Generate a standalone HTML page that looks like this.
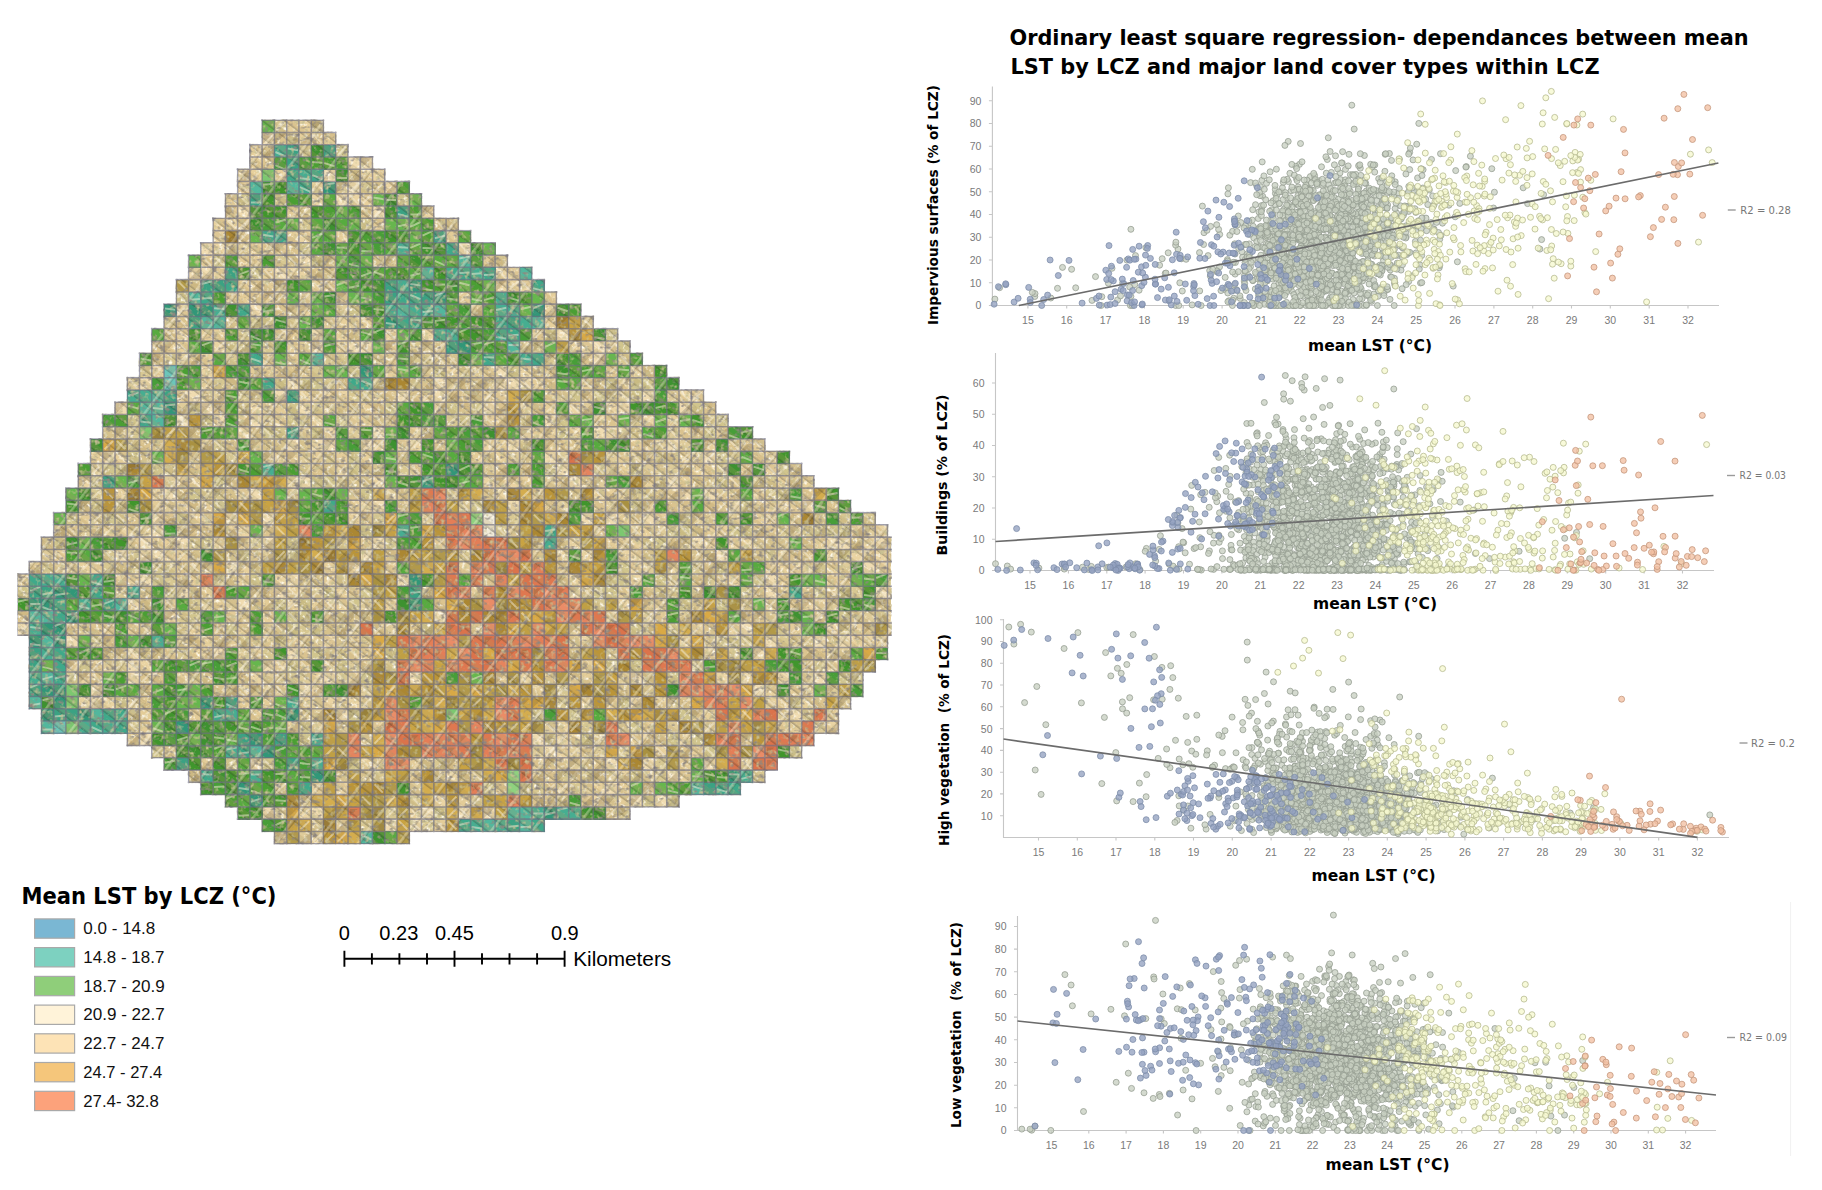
<!DOCTYPE html>
<html lang="en"><head><meta charset="utf-8"><title>Mean LST by LCZ – OLS regression</title>
<style>
html,body{margin:0;padding:0;background:#fff}
body{width:1822px;height:1190px;overflow:hidden}
svg{display:block}
text{font-family:"Liberation Sans","DejaVu Sans",sans-serif}
.ttl{font-family:"DejaVu Sans Condensed","DejaVu Sans","Liberation Sans",sans-serif;font-weight:bold;fill:#000}
.lab{fill:#111}
.sc{font-size:20px;fill:#000}
.tk{font-family:"DejaVu Sans Condensed","DejaVu Sans","Liberation Sans",sans-serif;font-size:10.5px;fill:#7a7a7a}
.ax{font-family:"DejaVu Sans Condensed","DejaVu Sans","Liberation Sans",sans-serif;font-weight:bold;fill:#000}
.r2{font-family:"DejaVu Sans Condensed","DejaVu Sans","Liberation Sans",sans-serif;font-size:10.5px;fill:#777}
</style></head><body>
<svg width="1822" height="1190" viewBox="0 0 1822 1190">
<defs>
<pattern id="st" width="13.5" height="13.5" patternUnits="userSpaceOnUse" patternTransform="rotate(37)"><rect width="13.5" height="5.2" fill="#ad985e" fill-opacity=".22"/><rect y="5.2" width="13.5" height="1.6" fill="#3a3628" fill-opacity=".3"/></pattern>
<pattern id="st2" width="33" height="33" patternUnits="userSpaceOnUse" patternTransform="rotate(37)"><rect width="2.6" height="33" fill="#f6eed6" fill-opacity=".36"/><rect x="2.6" width="1.5" height="33" fill="#3a3628" fill-opacity=".2"/></pattern>
<filter id="nz" x="0" y="0" width="100%" height="100%"><feTurbulence type="fractalNoise" baseFrequency="0.2" numOctaves="2" seed="3"/><feColorMatrix type="matrix" values="0 0 0 0 0.58  0 0 0 0 0.53  0 0 0 0 0.29  3.2 0 0 0 -1.74"/></filter>
<filter id="nd" x="0" y="0" width="100%" height="100%"><feTurbulence type="fractalNoise" baseFrequency="0.17 0.24" numOctaves="2" seed="8"/><feColorMatrix type="matrix" values="0 0 0 0 0.27  0 0 0 0 0.24  0 0 0 0 0.21  0 3.4 0 0 -1.88"/></filter>
<filter id="nl" x="0" y="0" width="100%" height="100%"><feTurbulence type="fractalNoise" baseFrequency="0.26" numOctaves="2" seed="21"/><feColorMatrix type="matrix" values="0 0 0 0 1  0 0 0 0 0.97  0 0 0 0 0.86  0 0 3.2 0 -1.68"/></filter>
</defs>
<rect width="1822" height="1190" fill="#fff"/>
<g shape-rendering="crispEdges">
<path fill="#d8c892" d="M274.4 120.2h12.6v12.6h-12.6zM311.2 120.2h12.6v12.6h-12.6zM286.7 132.5h12.6v12.6h-12.6zM298.9 144.7h12.6v12.6h-12.6zM360.2 181.5h12.6v12.6h-12.6zM298.9 218.3h12.6v12.6h-12.6zM274.4 255.1h12.6v12.6h-12.6zM384.8 255.1h12.6v12.6h-12.6zM286.7 316.4h12.6v12.6h-12.6zM237.6 328.7h12.6v12.6h-12.6zM237.6 340.9h12.6v12.6h-12.6zM262.1 340.9h12.6v12.6h-12.6zM409.3 340.9h12.6v12.6h-12.6zM531.9 340.9h12.6v12.6h-12.6zM164 353.2h12.6v12.6h-12.6zM225.4 353.2h12.6v12.6h-12.6zM323.4 353.2h12.6v12.6h-12.6zM335.7 353.2h12.6v12.6h-12.6zM372.5 353.2h12.6v12.6h-12.6zM409.3 353.2h12.6v12.6h-12.6zM421.5 353.2h12.6v12.6h-12.6zM544.2 353.2h12.6v12.6h-12.6zM617.7 353.2h12.6v12.6h-12.6zM139.5 365.4h12.6v12.6h-12.6zM311.2 365.4h12.6v12.6h-12.6zM458.3 365.4h12.6v12.6h-12.6zM213.1 377.7h12.6v12.6h-12.6zM323.4 377.7h12.6v12.6h-12.6zM372.5 377.7h12.6v12.6h-12.6zM409.3 377.7h12.6v12.6h-12.6zM237.6 390h12.6v12.6h-12.6zM348 390h12.6v12.6h-12.6zM360.2 390h12.6v12.6h-12.6zM605.5 390h12.6v12.6h-12.6zM237.6 402.2h12.6v12.6h-12.6zM311.2 402.2h12.6v12.6h-12.6zM298.9 414.5h12.6v12.6h-12.6zM446.1 414.5h12.6v12.6h-12.6zM519.6 414.5h12.6v12.6h-12.6zM630 414.5h12.6v12.6h-12.6zM703.6 414.5h12.6v12.6h-12.6zM127.3 426.8h12.6v12.6h-12.6zM630 426.8h12.6v12.6h-12.6zM127.3 439h12.6v12.6h-12.6zM213.1 439h12.6v12.6h-12.6zM519.6 439h12.6v12.6h-12.6zM225.4 451.3h12.6v12.6h-12.6zM323.4 451.3h12.6v12.6h-12.6zM654.5 451.3h12.6v12.6h-12.6zM728.1 451.3h12.6v12.6h-12.6zM164 463.5h12.6v12.6h-12.6zM298.9 463.5h12.6v12.6h-12.6zM372.5 463.5h12.6v12.6h-12.6zM397 463.5h12.6v12.6h-12.6zM593.2 463.5h12.6v12.6h-12.6zM715.8 463.5h12.6v12.6h-12.6zM335.7 475.8h12.6v12.6h-12.6zM654.5 475.8h12.6v12.6h-12.6zM752.6 475.8h12.6v12.6h-12.6zM764.9 475.8h12.6v12.6h-12.6zM90.5 488.1h12.6v12.6h-12.6zM200.8 488.1h12.6v12.6h-12.6zM213.1 488.1h12.6v12.6h-12.6zM630 488.1h12.6v12.6h-12.6zM642.3 488.1h12.6v12.6h-12.6zM764.9 488.1h12.6v12.6h-12.6zM115 500.3h12.6v12.6h-12.6zM115 512.6h12.6v12.6h-12.6zM372.5 512.6h12.6v12.6h-12.6zM507.4 512.6h12.6v12.6h-12.6zM813.9 512.6h12.6v12.6h-12.6zM838.5 512.6h12.6v12.6h-12.6zM863 512.6h12.6v12.6h-12.6zM495.1 524.8h12.6v12.6h-12.6zM777.1 524.8h12.6v12.6h-12.6zM801.7 524.8h12.6v12.6h-12.6zM813.9 524.8h12.6v12.6h-12.6zM188.6 537.1h12.6v12.6h-12.6zM249.9 537.1h12.6v12.6h-12.6zM335.7 537.1h12.6v12.6h-12.6zM642.3 537.1h12.6v12.6h-12.6zM102.7 549.4h12.6v12.6h-12.6zM127.3 549.4h12.6v12.6h-12.6zM458.3 549.4h12.6v12.6h-12.6zM764.9 549.4h12.6v12.6h-12.6zM41.4 561.6h12.6v12.6h-12.6zM102.7 561.6h12.6v12.6h-12.6zM127.3 561.6h12.6v12.6h-12.6zM151.8 561.6h12.6v12.6h-12.6zM164 561.6h12.6v12.6h-12.6zM249.9 561.6h12.6v12.6h-12.6zM691.3 561.6h12.6v12.6h-12.6zM164 573.9h12.6v12.6h-12.6zM213.1 573.9h12.6v12.6h-12.6zM335.7 573.9h12.6v12.6h-12.6zM703.6 573.9h12.6v12.6h-12.6zM115 586.2h12.6v12.6h-12.6zM654.5 586.2h12.6v12.6h-12.6zM666.8 586.2h12.6v12.6h-12.6zM850.7 586.2h12.6v12.6h-12.6zM188.6 598.4h12.6v12.6h-12.6zM593.2 598.4h12.6v12.6h-12.6zM176.3 610.7h12.6v12.6h-12.6zM335.7 610.7h12.6v12.6h-12.6zM875.2 610.7h12.6v12.6h-12.6zM78.2 622.9h12.6v12.6h-12.6zM176.3 622.9h12.6v12.6h-12.6zM298.9 622.9h12.6v12.6h-12.6zM777.1 622.9h12.6v12.6h-12.6zM838.5 622.9h12.6v12.6h-12.6zM237.6 635.2h12.6v12.6h-12.6zM715.8 635.2h12.6v12.6h-12.6zM740.4 635.2h12.6v12.6h-12.6zM777.1 635.2h12.6v12.6h-12.6zM139.5 647.5h12.6v12.6h-12.6zM176.3 647.5h12.6v12.6h-12.6zM262.1 647.5h12.6v12.6h-12.6zM335.7 647.5h12.6v12.6h-12.6zM728.1 647.5h12.6v12.6h-12.6zM115 659.7h12.6v12.6h-12.6zM384.8 659.7h12.6v12.6h-12.6zM691.3 659.7h12.6v12.6h-12.6zM813.9 659.7h12.6v12.6h-12.6zM188.6 672h12.6v12.6h-12.6zM286.7 672h12.6v12.6h-12.6zM335.7 672h12.6v12.6h-12.6zM556.4 684.3h12.6v12.6h-12.6zM556.4 696.5h12.6v12.6h-12.6zM127.3 708.8h12.6v12.6h-12.6zM127.3 721h12.6v12.6h-12.6zM581 721h12.6v12.6h-12.6zM544.2 733.3h12.6v12.6h-12.6zM617.7 745.6h12.6v12.6h-12.6zM433.8 757.8h12.6v12.6h-12.6zM654.5 757.8h12.6v12.6h-12.6zM372.5 770.1h12.6v12.6h-12.6zM556.4 770.1h12.6v12.6h-12.6zM581 770.1h12.6v12.6h-12.6zM654.5 770.1h12.6v12.6h-12.6zM752.6 770.1h12.6v12.6h-12.6zM274.4 782.3h12.6v12.6h-12.6zM531.9 782.3h12.6v12.6h-12.6zM568.7 782.3h12.6v12.6h-12.6zM409.3 794.6h12.6v12.6h-12.6zM556.4 794.6h12.6v12.6h-12.6zM384.8 806.9h12.6v12.6h-12.6zM617.7 806.9h12.6v12.6h-12.6zM360.2 819.1h12.6v12.6h-12.6zM421.5 819.1h12.6v12.6h-12.6z"/>
<path fill="#e7d09c" d="M286.7 120.2h12.6v12.6h-12.6zM298.9 120.2h12.6v12.6h-12.6zM298.9 132.5h12.6v12.6h-12.6zM249.9 144.7h12.6v12.6h-12.6zM249.9 157h12.6v12.6h-12.6zM249.9 169.2h12.6v12.6h-12.6zM274.4 169.2h12.6v12.6h-12.6zM360.2 169.2h12.6v12.6h-12.6zM360.2 193.8h12.6v12.6h-12.6zM213.1 218.3h12.6v12.6h-12.6zM225.4 218.3h12.6v12.6h-12.6zM335.7 230.6h12.6v12.6h-12.6zM249.9 242.8h12.6v12.6h-12.6zM274.4 242.8h12.6v12.6h-12.6zM262.1 267.3h12.6v12.6h-12.6zM249.9 279.6h12.6v12.6h-12.6zM507.4 279.6h12.6v12.6h-12.6zM335.7 291.9h12.6v12.6h-12.6zM544.2 291.9h12.6v12.6h-12.6zM298.9 304.1h12.6v12.6h-12.6zM335.7 316.4h12.6v12.6h-12.6zM544.2 316.4h12.6v12.6h-12.6zM213.1 328.7h12.6v12.6h-12.6zM335.7 328.7h12.6v12.6h-12.6zM164 340.9h12.6v12.6h-12.6zM176.3 340.9h12.6v12.6h-12.6zM286.7 340.9h12.6v12.6h-12.6zM568.7 340.9h12.6v12.6h-12.6zM200.8 353.2h12.6v12.6h-12.6zM262.1 353.2h12.6v12.6h-12.6zM581 353.2h12.6v12.6h-12.6zM262.1 365.4h12.6v12.6h-12.6zM384.8 365.4h12.6v12.6h-12.6zM446.1 365.4h12.6v12.6h-12.6zM298.9 390h12.6v12.6h-12.6zM372.5 390h12.6v12.6h-12.6zM581 390h12.6v12.6h-12.6zM544.2 402.2h12.6v12.6h-12.6zM274.4 414.5h12.6v12.6h-12.6zM495.1 414.5h12.6v12.6h-12.6zM593.2 414.5h12.6v12.6h-12.6zM666.8 414.5h12.6v12.6h-12.6zM409.3 426.8h12.6v12.6h-12.6zM568.7 426.8h12.6v12.6h-12.6zM679 426.8h12.6v12.6h-12.6zM715.8 426.8h12.6v12.6h-12.6zM630 439h12.6v12.6h-12.6zM642.3 439h12.6v12.6h-12.6zM703.6 439h12.6v12.6h-12.6zM90.5 451.3h12.6v12.6h-12.6zM115 451.3h12.6v12.6h-12.6zM286.7 451.3h12.6v12.6h-12.6zM360.2 451.3h12.6v12.6h-12.6zM495.1 451.3h12.6v12.6h-12.6zM617.7 451.3h12.6v12.6h-12.6zM642.3 451.3h12.6v12.6h-12.6zM679 451.3h12.6v12.6h-12.6zM617.7 463.5h12.6v12.6h-12.6zM691.3 463.5h12.6v12.6h-12.6zM703.6 463.5h12.6v12.6h-12.6zM495.1 475.8h12.6v12.6h-12.6zM519.6 475.8h12.6v12.6h-12.6zM642.3 475.8h12.6v12.6h-12.6zM679 475.8h12.6v12.6h-12.6zM777.1 475.8h12.6v12.6h-12.6zM801.7 475.8h12.6v12.6h-12.6zM115 488.1h12.6v12.6h-12.6zM593.2 488.1h12.6v12.6h-12.6zM605.5 488.1h12.6v12.6h-12.6zM728.1 488.1h12.6v12.6h-12.6zM801.7 488.1h12.6v12.6h-12.6zM348 500.3h12.6v12.6h-12.6zM593.2 500.3h12.6v12.6h-12.6zM764.9 500.3h12.6v12.6h-12.6zM188.6 512.6h12.6v12.6h-12.6zM348 512.6h12.6v12.6h-12.6zM654.5 512.6h12.6v12.6h-12.6zM752.6 512.6h12.6v12.6h-12.6zM225.4 524.8h12.6v12.6h-12.6zM642.3 524.8h12.6v12.6h-12.6zM703.6 524.8h12.6v12.6h-12.6zM715.8 524.8h12.6v12.6h-12.6zM164 537.1h12.6v12.6h-12.6zM617.7 537.1h12.6v12.6h-12.6zM630 537.1h12.6v12.6h-12.6zM740.4 537.1h12.6v12.6h-12.6zM813.9 537.1h12.6v12.6h-12.6zM53.7 549.4h12.6v12.6h-12.6zM556.4 549.4h12.6v12.6h-12.6zM581 549.4h12.6v12.6h-12.6zM826.2 549.4h12.6v12.6h-12.6zM863 549.4h12.6v12.6h-12.6zM78.2 561.6h12.6v12.6h-12.6zM237.6 561.6h12.6v12.6h-12.6zM323.4 561.6h12.6v12.6h-12.6zM384.8 561.6h12.6v12.6h-12.6zM458.3 561.6h12.6v12.6h-12.6zM666.8 561.6h12.6v12.6h-12.6zM764.9 561.6h12.6v12.6h-12.6zM777.1 561.6h12.6v12.6h-12.6zM826.2 561.6h12.6v12.6h-12.6zM18.2 573.9h11.3v12.6h-11.3zM237.6 573.9h12.6v12.6h-12.6zM568.7 573.9h12.6v12.6h-12.6zM728.1 573.9h12.6v12.6h-12.6zM777.1 573.9h12.6v12.6h-12.6zM826.2 573.9h12.6v12.6h-12.6zM335.7 586.2h12.6v12.6h-12.6zM470.6 586.2h12.6v12.6h-12.6zM617.7 586.2h12.6v12.6h-12.6zM801.7 586.2h12.6v12.6h-12.6zM311.2 598.4h12.6v12.6h-12.6zM335.7 598.4h12.6v12.6h-12.6zM384.8 598.4h12.6v12.6h-12.6zM262.1 610.7h12.6v12.6h-12.6zM887.5 610.7h3.8v12.6h-3.8zM188.6 622.9h12.6v12.6h-12.6zM237.6 622.9h12.6v12.6h-12.6zM568.7 622.9h12.6v12.6h-12.6zM850.7 622.9h12.6v12.6h-12.6zM200.8 635.2h12.6v12.6h-12.6zM262.1 635.2h12.6v12.6h-12.6zM850.7 635.2h12.6v12.6h-12.6zM188.6 647.5h12.6v12.6h-12.6zM298.9 647.5h12.6v12.6h-12.6zM360.2 647.5h12.6v12.6h-12.6zM274.4 659.7h12.6v12.6h-12.6zM581 659.7h12.6v12.6h-12.6zM826.2 659.7h12.6v12.6h-12.6zM311.2 672h12.6v12.6h-12.6zM740.4 672h12.6v12.6h-12.6zM764.9 684.3h12.6v12.6h-12.6zM605.5 696.5h12.6v12.6h-12.6zM654.5 696.5h12.6v12.6h-12.6zM764.9 696.5h12.6v12.6h-12.6zM801.7 696.5h12.6v12.6h-12.6zM703.6 708.8h12.6v12.6h-12.6zM286.7 721h12.6v12.6h-12.6zM556.4 721h12.6v12.6h-12.6zM777.1 721h12.6v12.6h-12.6zM568.7 733.3h12.6v12.6h-12.6zM642.3 733.3h12.6v12.6h-12.6zM679 733.3h12.6v12.6h-12.6zM654.5 745.6h12.6v12.6h-12.6zM691.3 745.6h12.6v12.6h-12.6zM360.2 757.8h12.6v12.6h-12.6zM531.9 757.8h12.6v12.6h-12.6zM556.4 757.8h12.6v12.6h-12.6zM409.3 770.1h12.6v12.6h-12.6zM679 770.1h12.6v12.6h-12.6zM593.2 782.3h12.6v12.6h-12.6zM409.3 806.9h12.6v12.6h-12.6z"/>
<path fill="#f0dcb1" d="M262.1 132.5h12.6v12.6h-12.6zM348 157h12.6v12.6h-12.6zM360.2 157h12.6v12.6h-12.6zM323.4 169.2h12.6v12.6h-12.6zM348 181.5h12.6v12.6h-12.6zM335.7 193.8h12.6v12.6h-12.6zM237.6 206h12.6v12.6h-12.6zM372.5 206h12.6v12.6h-12.6zM200.8 242.8h12.6v12.6h-12.6zM458.3 242.8h12.6v12.6h-12.6zM298.9 255.1h12.6v12.6h-12.6zM188.6 267.3h12.6v12.6h-12.6zM200.8 267.3h12.6v12.6h-12.6zM274.4 267.3h12.6v12.6h-12.6zM249.9 304.1h12.6v12.6h-12.6zM311.2 328.7h12.6v12.6h-12.6zM556.4 328.7h12.6v12.6h-12.6zM311.2 340.9h12.6v12.6h-12.6zM348 340.9h12.6v12.6h-12.6zM360.2 340.9h12.6v12.6h-12.6zM593.2 340.9h12.6v12.6h-12.6zM593.2 353.2h12.6v12.6h-12.6zM495.1 365.4h12.6v12.6h-12.6zM139.5 377.7h12.6v12.6h-12.6zM433.8 377.7h12.6v12.6h-12.6zM495.1 377.7h12.6v12.6h-12.6zM507.4 377.7h12.6v12.6h-12.6zM519.6 377.7h12.6v12.6h-12.6zM188.6 390h12.6v12.6h-12.6zM274.4 390h12.6v12.6h-12.6zM397 390h12.6v12.6h-12.6zM433.8 390h12.6v12.6h-12.6zM642.3 390h12.6v12.6h-12.6zM115 402.2h12.6v12.6h-12.6zM200.8 402.2h12.6v12.6h-12.6zM298.9 402.2h12.6v12.6h-12.6zM482.9 402.2h12.6v12.6h-12.6zM617.7 402.2h12.6v12.6h-12.6zM679 402.2h12.6v12.6h-12.6zM176.3 414.5h12.6v12.6h-12.6zM249.9 414.5h12.6v12.6h-12.6zM372.5 426.8h12.6v12.6h-12.6zM519.6 426.8h12.6v12.6h-12.6zM593.2 426.8h12.6v12.6h-12.6zM286.7 439h12.6v12.6h-12.6zM311.2 439h12.6v12.6h-12.6zM323.4 439h12.6v12.6h-12.6zM360.2 439h12.6v12.6h-12.6zM507.4 439h12.6v12.6h-12.6zM666.8 439h12.6v12.6h-12.6zM102.7 451.3h12.6v12.6h-12.6zM544.2 451.3h12.6v12.6h-12.6zM703.6 451.3h12.6v12.6h-12.6zM556.4 463.5h12.6v12.6h-12.6zM298.9 475.8h12.6v12.6h-12.6zM568.7 475.8h12.6v12.6h-12.6zM666.8 475.8h12.6v12.6h-12.6zM164 488.1h12.6v12.6h-12.6zM249.9 488.1h12.6v12.6h-12.6zM679 488.1h12.6v12.6h-12.6zM703.6 488.1h12.6v12.6h-12.6zM372.5 500.3h12.6v12.6h-12.6zM507.4 500.3h12.6v12.6h-12.6zM728.1 500.3h12.6v12.6h-12.6zM801.7 500.3h12.6v12.6h-12.6zM151.8 512.6h12.6v12.6h-12.6zM262.1 512.6h12.6v12.6h-12.6zM581 512.6h12.6v12.6h-12.6zM605.5 512.6h12.6v12.6h-12.6zM642.3 512.6h12.6v12.6h-12.6zM151.8 524.8h12.6v12.6h-12.6zM139.5 537.1h12.6v12.6h-12.6zM176.3 537.1h12.6v12.6h-12.6zM262.1 537.1h12.6v12.6h-12.6zM372.5 537.1h12.6v12.6h-12.6zM691.3 537.1h12.6v12.6h-12.6zM826.2 537.1h12.6v12.6h-12.6zM838.5 537.1h12.6v12.6h-12.6zM875.2 537.1h12.6v12.6h-12.6zM115 549.4h12.6v12.6h-12.6zM139.5 549.4h12.6v12.6h-12.6zM151.8 549.4h12.6v12.6h-12.6zM360.2 549.4h12.6v12.6h-12.6zM715.8 549.4h12.6v12.6h-12.6zM225.4 561.6h12.6v12.6h-12.6zM863 561.6h12.6v12.6h-12.6zM139.5 573.9h12.6v12.6h-12.6zM286.7 573.9h12.6v12.6h-12.6zM397 573.9h12.6v12.6h-12.6zM764.9 573.9h12.6v12.6h-12.6zM176.3 586.2h12.6v12.6h-12.6zM274.4 586.2h12.6v12.6h-12.6zM568.7 586.2h12.6v12.6h-12.6zM764.9 586.2h12.6v12.6h-12.6zM875.2 586.2h12.6v12.6h-12.6zM237.6 598.4h12.6v12.6h-12.6zM433.8 610.7h12.6v12.6h-12.6zM18.2 622.9h11.3v12.6h-11.3zM740.4 622.9h12.6v12.6h-12.6zM65.9 635.2h12.6v12.6h-12.6zM764.9 635.2h12.6v12.6h-12.6zM813.9 635.2h12.6v12.6h-12.6zM838.5 635.2h12.6v12.6h-12.6zM213.1 647.5h12.6v12.6h-12.6zM286.7 647.5h12.6v12.6h-12.6zM752.6 647.5h12.6v12.6h-12.6zM127.3 659.7h12.6v12.6h-12.6zM262.1 659.7h12.6v12.6h-12.6zM127.3 672h12.6v12.6h-12.6zM323.4 672h12.6v12.6h-12.6zM409.3 672h12.6v12.6h-12.6zM630 672h12.6v12.6h-12.6zM777.1 672h12.6v12.6h-12.6zM813.9 672h12.6v12.6h-12.6zM90.5 684.3h12.6v12.6h-12.6zM298.9 684.3h12.6v12.6h-12.6zM752.6 684.3h12.6v12.6h-12.6zM90.5 696.5h12.6v12.6h-12.6zM630 696.5h12.6v12.6h-12.6zM335.7 708.8h12.6v12.6h-12.6zM789.4 708.8h12.6v12.6h-12.6zM139.5 733.3h12.6v12.6h-12.6zM531.9 733.3h12.6v12.6h-12.6zM544.2 745.6h12.6v12.6h-12.6zM249.9 757.8h12.6v12.6h-12.6zM605.5 757.8h12.6v12.6h-12.6zM642.3 757.8h12.6v12.6h-12.6zM703.6 757.8h12.6v12.6h-12.6zM666.8 770.1h12.6v12.6h-12.6zM605.5 782.3h12.6v12.6h-12.6zM630 794.6h12.6v12.6h-12.6zM654.5 794.6h12.6v12.6h-12.6zM262.1 806.9h12.6v12.6h-12.6zM311.2 806.9h12.6v12.6h-12.6zM421.5 806.9h12.6v12.6h-12.6zM458.3 806.9h12.6v12.6h-12.6zM482.9 806.9h12.6v12.6h-12.6zM384.8 819.1h12.6v12.6h-12.6zM409.3 819.1h12.6v12.6h-12.6z"/>
<path fill="#dbc48f" d="M274.4 132.5h12.6v12.6h-12.6zM311.2 132.5h12.6v12.6h-12.6zM262.1 157h12.6v12.6h-12.6zM360.2 206h12.6v12.6h-12.6zM237.6 218.3h12.6v12.6h-12.6zM237.6 230.6h12.6v12.6h-12.6zM262.1 242.8h12.6v12.6h-12.6zM286.7 242.8h12.6v12.6h-12.6zM311.2 267.3h12.6v12.6h-12.6zM274.4 304.1h12.6v12.6h-12.6zM176.3 316.4h12.6v12.6h-12.6zM164 328.7h12.6v12.6h-12.6zM531.9 328.7h12.6v12.6h-12.6zM151.8 340.9h12.6v12.6h-12.6zM151.8 353.2h12.6v12.6h-12.6zM188.6 353.2h12.6v12.6h-12.6zM384.8 353.2h12.6v12.6h-12.6zM286.7 365.4h12.6v12.6h-12.6zM544.2 365.4h12.6v12.6h-12.6zM605.5 365.4h12.6v12.6h-12.6zM335.7 377.7h12.6v12.6h-12.6zM421.5 377.7h12.6v12.6h-12.6zM458.3 377.7h12.6v12.6h-12.6zM544.2 377.7h12.6v12.6h-12.6zM384.8 390h12.6v12.6h-12.6zM409.3 390h12.6v12.6h-12.6zM446.1 390h12.6v12.6h-12.6zM458.3 390h12.6v12.6h-12.6zM213.1 402.2h12.6v12.6h-12.6zM372.5 402.2h12.6v12.6h-12.6zM458.3 402.2h12.6v12.6h-12.6zM495.1 402.2h12.6v12.6h-12.6zM703.6 402.2h12.6v12.6h-12.6zM605.5 414.5h12.6v12.6h-12.6zM249.9 426.8h12.6v12.6h-12.6zM691.3 426.8h12.6v12.6h-12.6zM139.5 439h12.6v12.6h-12.6zM568.7 439h12.6v12.6h-12.6zM728.1 439h12.6v12.6h-12.6zM188.6 451.3h12.6v12.6h-12.6zM188.6 463.5h12.6v12.6h-12.6zM311.2 463.5h12.6v12.6h-12.6zM519.6 463.5h12.6v12.6h-12.6zM679 463.5h12.6v12.6h-12.6zM225.4 475.8h12.6v12.6h-12.6zM581 475.8h12.6v12.6h-12.6zM691.3 475.8h12.6v12.6h-12.6zM728.1 475.8h12.6v12.6h-12.6zM176.3 488.1h12.6v12.6h-12.6zM348 488.1h12.6v12.6h-12.6zM397 488.1h12.6v12.6h-12.6zM482.9 488.1h12.6v12.6h-12.6zM531.9 488.1h12.6v12.6h-12.6zM188.6 500.3h12.6v12.6h-12.6zM397 500.3h12.6v12.6h-12.6zM666.8 500.3h12.6v12.6h-12.6zM703.6 500.3h12.6v12.6h-12.6zM715.8 500.3h12.6v12.6h-12.6zM826.2 500.3h12.6v12.6h-12.6zM127.3 512.6h12.6v12.6h-12.6zM164 512.6h12.6v12.6h-12.6zM630 512.6h12.6v12.6h-12.6zM789.4 512.6h12.6v12.6h-12.6zM65.9 524.8h12.6v12.6h-12.6zM90.5 524.8h12.6v12.6h-12.6zM188.6 524.8h12.6v12.6h-12.6zM200.8 524.8h12.6v12.6h-12.6zM262.1 524.8h12.6v12.6h-12.6zM507.4 524.8h12.6v12.6h-12.6zM593.2 524.8h12.6v12.6h-12.6zM360.2 537.1h12.6v12.6h-12.6zM666.8 537.1h12.6v12.6h-12.6zM801.7 537.1h12.6v12.6h-12.6zM249.9 549.4h12.6v12.6h-12.6zM384.8 549.4h12.6v12.6h-12.6zM531.9 549.4h12.6v12.6h-12.6zM691.3 549.4h12.6v12.6h-12.6zM789.4 549.4h12.6v12.6h-12.6zM801.7 549.4h12.6v12.6h-12.6zM887.5 549.4h3.8v12.6h-3.8zM176.3 561.6h12.6v12.6h-12.6zM188.6 561.6h12.6v12.6h-12.6zM556.4 561.6h12.6v12.6h-12.6zM703.6 561.6h12.6v12.6h-12.6zM887.5 561.6h3.8v12.6h-3.8zM176.3 573.9h12.6v12.6h-12.6zM482.9 573.9h12.6v12.6h-12.6zM556.4 573.9h12.6v12.6h-12.6zM691.3 573.9h12.6v12.6h-12.6zM715.8 573.9h12.6v12.6h-12.6zM838.5 573.9h12.6v12.6h-12.6zM262.1 586.2h12.6v12.6h-12.6zM642.3 586.2h12.6v12.6h-12.6zM752.6 586.2h12.6v12.6h-12.6zM826.2 586.2h12.6v12.6h-12.6zM433.8 598.4h12.6v12.6h-12.6zM18.2 610.7h11.3v12.6h-11.3zM323.4 610.7h12.6v12.6h-12.6zM740.4 610.7h12.6v12.6h-12.6zM752.6 610.7h12.6v12.6h-12.6zM65.9 622.9h12.6v12.6h-12.6zM90.5 622.9h12.6v12.6h-12.6zM213.1 622.9h12.6v12.6h-12.6zM372.5 622.9h12.6v12.6h-12.6zM409.3 622.9h12.6v12.6h-12.6zM470.6 622.9h12.6v12.6h-12.6zM703.6 622.9h12.6v12.6h-12.6zM863 622.9h12.6v12.6h-12.6zM102.7 635.2h12.6v12.6h-12.6zM188.6 635.2h12.6v12.6h-12.6zM213.1 635.2h12.6v12.6h-12.6zM298.9 635.2h12.6v12.6h-12.6zM348 635.2h12.6v12.6h-12.6zM875.2 635.2h12.6v12.6h-12.6zM801.7 647.5h12.6v12.6h-12.6zM813.9 647.5h12.6v12.6h-12.6zM298.9 659.7h12.6v12.6h-12.6zM360.2 659.7h12.6v12.6h-12.6zM801.7 659.7h12.6v12.6h-12.6zM90.5 672h12.6v12.6h-12.6zM139.5 672h12.6v12.6h-12.6zM151.8 672h12.6v12.6h-12.6zM237.6 672h12.6v12.6h-12.6zM544.2 672h12.6v12.6h-12.6zM568.7 672h12.6v12.6h-12.6zM139.5 684.3h12.6v12.6h-12.6zM213.1 684.3h12.6v12.6h-12.6zM139.5 696.5h12.6v12.6h-12.6zM679 696.5h12.6v12.6h-12.6zM813.9 696.5h12.6v12.6h-12.6zM654.5 733.3h12.6v12.6h-12.6zM581 745.6h12.6v12.6h-12.6zM679 745.6h12.6v12.6h-12.6zM446.1 757.8h12.6v12.6h-12.6zM544.2 757.8h12.6v12.6h-12.6zM531.9 770.1h12.6v12.6h-12.6zM568.7 770.1h12.6v12.6h-12.6zM495.1 782.3h12.6v12.6h-12.6zM544.2 782.3h12.6v12.6h-12.6zM642.3 782.3h12.6v12.6h-12.6zM531.9 794.6h12.6v12.6h-12.6zM544.2 794.6h12.6v12.6h-12.6zM274.4 831.4h12.6v12.6h-12.6z"/>
<path fill="#e3cc98" d="M323.4 132.5h12.6v12.6h-12.6zM237.6 181.5h12.6v12.6h-12.6zM311.2 181.5h12.6v12.6h-12.6zM225.4 193.8h12.6v12.6h-12.6zM225.4 206h12.6v12.6h-12.6zM286.7 206h12.6v12.6h-12.6zM372.5 218.3h12.6v12.6h-12.6zM286.7 230.6h12.6v12.6h-12.6zM446.1 230.6h12.6v12.6h-12.6zM200.8 255.1h12.6v12.6h-12.6zM237.6 255.1h12.6v12.6h-12.6zM249.9 255.1h12.6v12.6h-12.6zM482.9 255.1h12.6v12.6h-12.6zM237.6 279.6h12.6v12.6h-12.6zM262.1 279.6h12.6v12.6h-12.6zM311.2 279.6h12.6v12.6h-12.6zM323.4 279.6h12.6v12.6h-12.6zM225.4 291.9h12.6v12.6h-12.6zM237.6 291.9h12.6v12.6h-12.6zM249.9 291.9h12.6v12.6h-12.6zM262.1 291.9h12.6v12.6h-12.6zM458.3 291.9h12.6v12.6h-12.6zM360.2 316.4h12.6v12.6h-12.6zM200.8 328.7h12.6v12.6h-12.6zM286.7 328.7h12.6v12.6h-12.6zM335.7 340.9h12.6v12.6h-12.6zM384.8 340.9h12.6v12.6h-12.6zM605.5 340.9h12.6v12.6h-12.6zM286.7 353.2h12.6v12.6h-12.6zM249.9 365.4h12.6v12.6h-12.6zM274.4 365.4h12.6v12.6h-12.6zM298.9 365.4h12.6v12.6h-12.6zM482.9 365.4h12.6v12.6h-12.6zM200.8 377.7h12.6v12.6h-12.6zM531.9 377.7h12.6v12.6h-12.6zM581 377.7h12.6v12.6h-12.6zM617.7 377.7h12.6v12.6h-12.6zM176.3 390h12.6v12.6h-12.6zM311.2 390h12.6v12.6h-12.6zM421.5 390h12.6v12.6h-12.6zM482.9 390h12.6v12.6h-12.6zM544.2 390h12.6v12.6h-12.6zM274.4 402.2h12.6v12.6h-12.6zM360.2 402.2h12.6v12.6h-12.6zM237.6 414.5h12.6v12.6h-12.6zM360.2 414.5h12.6v12.6h-12.6zM482.9 414.5h12.6v12.6h-12.6zM531.9 426.8h12.6v12.6h-12.6zM200.8 439h12.6v12.6h-12.6zM495.1 439h12.6v12.6h-12.6zM544.2 439h12.6v12.6h-12.6zM556.4 439h12.6v12.6h-12.6zM740.4 439h12.6v12.6h-12.6zM752.6 439h12.6v12.6h-12.6zM274.4 451.3h12.6v12.6h-12.6zM311.2 451.3h12.6v12.6h-12.6zM335.7 451.3h12.6v12.6h-12.6zM470.6 451.3h12.6v12.6h-12.6zM752.6 451.3h12.6v12.6h-12.6zM360.2 463.5h12.6v12.6h-12.6zM409.3 463.5h12.6v12.6h-12.6zM495.1 463.5h12.6v12.6h-12.6zM740.4 463.5h12.6v12.6h-12.6zM188.6 475.8h12.6v12.6h-12.6zM556.4 475.8h12.6v12.6h-12.6zM617.7 488.1h12.6v12.6h-12.6zM715.8 488.1h12.6v12.6h-12.6zM151.8 500.3h12.6v12.6h-12.6zM176.3 500.3h12.6v12.6h-12.6zM200.8 500.3h12.6v12.6h-12.6zM544.2 500.3h12.6v12.6h-12.6zM642.3 500.3h12.6v12.6h-12.6zM679 500.3h12.6v12.6h-12.6zM777.1 500.3h12.6v12.6h-12.6zM789.4 500.3h12.6v12.6h-12.6zM78.2 512.6h12.6v12.6h-12.6zM360.2 512.6h12.6v12.6h-12.6zM617.7 512.6h12.6v12.6h-12.6zM764.9 512.6h12.6v12.6h-12.6zM102.7 524.8h12.6v12.6h-12.6zM630 524.8h12.6v12.6h-12.6zM752.6 524.8h12.6v12.6h-12.6zM764.9 524.8h12.6v12.6h-12.6zM127.3 537.1h12.6v12.6h-12.6zM151.8 537.1h12.6v12.6h-12.6zM237.6 537.1h12.6v12.6h-12.6zM433.8 537.1h12.6v12.6h-12.6zM605.5 537.1h12.6v12.6h-12.6zM176.3 549.4h12.6v12.6h-12.6zM29.2 561.6h12.6v12.6h-12.6zM200.8 561.6h12.6v12.6h-12.6zM188.6 573.9h12.6v12.6h-12.6zM323.4 573.9h12.6v12.6h-12.6zM200.8 586.2h12.6v12.6h-12.6zM286.7 586.2h12.6v12.6h-12.6zM348 586.2h12.6v12.6h-12.6zM887.5 586.2h3.8v12.6h-3.8zM164 598.4h12.6v12.6h-12.6zM213.1 598.4h12.6v12.6h-12.6zM262.1 598.4h12.6v12.6h-12.6zM286.7 598.4h12.6v12.6h-12.6zM642.3 598.4h12.6v12.6h-12.6zM789.4 598.4h12.6v12.6h-12.6zM225.4 610.7h12.6v12.6h-12.6zM605.5 610.7h12.6v12.6h-12.6zM654.5 610.7h12.6v12.6h-12.6zM102.7 622.9h12.6v12.6h-12.6zM127.3 622.9h12.6v12.6h-12.6zM789.4 622.9h12.6v12.6h-12.6zM887.5 622.9h3.8v12.6h-3.8zM225.4 635.2h12.6v12.6h-12.6zM286.7 635.2h12.6v12.6h-12.6zM568.7 635.2h12.6v12.6h-12.6zM164 647.5h12.6v12.6h-12.6zM348 647.5h12.6v12.6h-12.6zM90.5 659.7h12.6v12.6h-12.6zM323.4 659.7h12.6v12.6h-12.6zM176.3 672h12.6v12.6h-12.6zM495.1 672h12.6v12.6h-12.6zM581 672h12.6v12.6h-12.6zM237.6 684.3h12.6v12.6h-12.6zM531.9 684.3h12.6v12.6h-12.6zM789.4 684.3h12.6v12.6h-12.6zM237.6 696.5h12.6v12.6h-12.6zM262.1 696.5h12.6v12.6h-12.6zM298.9 696.5h12.6v12.6h-12.6zM777.1 696.5h12.6v12.6h-12.6zM139.5 708.8h12.6v12.6h-12.6zM188.6 708.8h12.6v12.6h-12.6zM249.9 708.8h12.6v12.6h-12.6zM691.3 708.8h12.6v12.6h-12.6zM777.1 708.8h12.6v12.6h-12.6zM826.2 708.8h12.6v12.6h-12.6zM139.5 721h12.6v12.6h-12.6zM642.3 721h12.6v12.6h-12.6zM789.4 721h12.6v12.6h-12.6zM127.3 733.3h12.6v12.6h-12.6zM630 733.3h12.6v12.6h-12.6zM740.4 733.3h12.6v12.6h-12.6zM200.8 757.8h12.6v12.6h-12.6zM372.5 757.8h12.6v12.6h-12.6zM409.3 757.8h12.6v12.6h-12.6zM593.2 757.8h12.6v12.6h-12.6zM679 757.8h12.6v12.6h-12.6zM544.2 770.1h12.6v12.6h-12.6zM311.2 782.3h12.6v12.6h-12.6zM556.4 782.3h12.6v12.6h-12.6zM617.7 782.3h12.6v12.6h-12.6zM458.3 794.6h12.6v12.6h-12.6zM581 794.6h12.6v12.6h-12.6zM617.7 794.6h12.6v12.6h-12.6zM335.7 819.1h12.6v12.6h-12.6zM433.8 819.1h12.6v12.6h-12.6zM311.2 831.4h12.6v12.6h-12.6z"/>
<path fill="#d6c28d" d="M262.1 144.7h12.6v12.6h-12.6zM348 169.2h12.6v12.6h-12.6zM372.5 181.5h12.6v12.6h-12.6zM298.9 206h12.6v12.6h-12.6zM433.8 218.3h12.6v12.6h-12.6zM446.1 218.3h12.6v12.6h-12.6zM286.7 255.1h12.6v12.6h-12.6zM323.4 255.1h12.6v12.6h-12.6zM372.5 255.1h12.6v12.6h-12.6zM495.1 255.1h12.6v12.6h-12.6zM323.4 267.3h12.6v12.6h-12.6zM188.6 279.6h12.6v12.6h-12.6zM274.4 279.6h12.6v12.6h-12.6zM274.4 291.9h12.6v12.6h-12.6zM164 316.4h12.6v12.6h-12.6zM225.4 316.4h12.6v12.6h-12.6zM581 316.4h12.6v12.6h-12.6zM348 328.7h12.6v12.6h-12.6zM433.8 340.9h12.6v12.6h-12.6zM433.8 353.2h12.6v12.6h-12.6zM446.1 353.2h12.6v12.6h-12.6zM531.9 365.4h12.6v12.6h-12.6zM642.3 365.4h12.6v12.6h-12.6zM225.4 377.7h12.6v12.6h-12.6zM593.2 377.7h12.6v12.6h-12.6zM470.6 390h12.6v12.6h-12.6zM335.7 402.2h12.6v12.6h-12.6zM348 402.2h12.6v12.6h-12.6zM531.9 402.2h12.6v12.6h-12.6zM262.1 414.5h12.6v12.6h-12.6zM372.5 414.5h12.6v12.6h-12.6zM384.8 414.5h12.6v12.6h-12.6zM102.7 426.8h12.6v12.6h-12.6zM188.6 426.8h12.6v12.6h-12.6zM421.5 426.8h12.6v12.6h-12.6zM151.8 439h12.6v12.6h-12.6zM225.4 439h12.6v12.6h-12.6zM262.1 439h12.6v12.6h-12.6zM274.4 439h12.6v12.6h-12.6zM298.9 439h12.6v12.6h-12.6zM433.8 439h12.6v12.6h-12.6zM139.5 451.3h12.6v12.6h-12.6zM397 451.3h12.6v12.6h-12.6zM482.9 451.3h12.6v12.6h-12.6zM519.6 451.3h12.6v12.6h-12.6zM630 451.3h12.6v12.6h-12.6zM666.8 451.3h12.6v12.6h-12.6zM323.4 463.5h12.6v12.6h-12.6zM348 475.8h12.6v12.6h-12.6zM360.2 475.8h12.6v12.6h-12.6zM703.6 475.8h12.6v12.6h-12.6zM789.4 475.8h12.6v12.6h-12.6zM225.4 488.1h12.6v12.6h-12.6zM446.1 488.1h12.6v12.6h-12.6zM568.7 488.1h12.6v12.6h-12.6zM654.5 488.1h12.6v12.6h-12.6zM78.2 500.3h12.6v12.6h-12.6zM53.7 524.8h12.6v12.6h-12.6zM127.3 524.8h12.6v12.6h-12.6zM691.3 524.8h12.6v12.6h-12.6zM41.4 537.1h12.6v12.6h-12.6zM531.9 537.1h12.6v12.6h-12.6zM556.4 537.1h12.6v12.6h-12.6zM764.9 537.1h12.6v12.6h-12.6zM850.7 537.1h12.6v12.6h-12.6zM188.6 549.4h12.6v12.6h-12.6zM225.4 549.4h12.6v12.6h-12.6zM642.3 549.4h12.6v12.6h-12.6zM703.6 549.4h12.6v12.6h-12.6zM752.6 549.4h12.6v12.6h-12.6zM115 561.6h12.6v12.6h-12.6zM225.4 573.9h12.6v12.6h-12.6zM298.9 573.9h12.6v12.6h-12.6zM311.2 573.9h12.6v12.6h-12.6zM139.5 586.2h12.6v12.6h-12.6zM188.6 586.2h12.6v12.6h-12.6zM421.5 586.2h12.6v12.6h-12.6zM581 586.2h12.6v12.6h-12.6zM777.1 586.2h12.6v12.6h-12.6zM139.5 598.4h12.6v12.6h-12.6zM249.9 598.4h12.6v12.6h-12.6zM691.3 598.4h12.6v12.6h-12.6zM740.4 598.4h12.6v12.6h-12.6zM875.2 598.4h12.6v12.6h-12.6zM887.5 598.4h3.8v12.6h-3.8zM237.6 610.7h12.6v12.6h-12.6zM348 610.7h12.6v12.6h-12.6zM360.2 610.7h12.6v12.6h-12.6zM813.9 610.7h12.6v12.6h-12.6zM850.7 610.7h12.6v12.6h-12.6zM139.5 622.9h12.6v12.6h-12.6zM274.4 622.9h12.6v12.6h-12.6zM323.4 622.9h12.6v12.6h-12.6zM335.7 622.9h12.6v12.6h-12.6zM642.3 622.9h12.6v12.6h-12.6zM176.3 635.2h12.6v12.6h-12.6zM249.9 635.2h12.6v12.6h-12.6zM335.7 635.2h12.6v12.6h-12.6zM360.2 635.2h12.6v12.6h-12.6zM789.4 635.2h12.6v12.6h-12.6zM801.7 635.2h12.6v12.6h-12.6zM826.2 635.2h12.6v12.6h-12.6zM102.7 647.5h12.6v12.6h-12.6zM151.8 647.5h12.6v12.6h-12.6zM323.4 647.5h12.6v12.6h-12.6zM568.7 647.5h12.6v12.6h-12.6zM200.8 672h12.6v12.6h-12.6zM274.4 672h12.6v12.6h-12.6zM642.3 672h12.6v12.6h-12.6zM225.4 684.3h12.6v12.6h-12.6zM249.9 684.3h12.6v12.6h-12.6zM617.7 684.3h12.6v12.6h-12.6zM642.3 684.3h12.6v12.6h-12.6zM298.9 708.8h12.6v12.6h-12.6zM801.7 708.8h12.6v12.6h-12.6zM164 745.6h12.6v12.6h-12.6zM421.5 757.8h12.6v12.6h-12.6zM581 757.8h12.6v12.6h-12.6zM188.6 770.1h12.6v12.6h-12.6zM335.7 770.1h12.6v12.6h-12.6zM360.2 770.1h12.6v12.6h-12.6zM433.8 770.1h12.6v12.6h-12.6zM458.3 770.1h12.6v12.6h-12.6zM470.6 770.1h12.6v12.6h-12.6zM593.2 770.1h12.6v12.6h-12.6zM605.5 770.1h12.6v12.6h-12.6zM298.9 794.6h12.6v12.6h-12.6zM470.6 794.6h12.6v12.6h-12.6zM605.5 806.9h12.6v12.6h-12.6zM311.2 819.1h12.6v12.6h-12.6z"/>
<path fill="#d1c58d" d="M335.7 144.7h12.6v12.6h-12.6zM237.6 193.8h12.6v12.6h-12.6zM274.4 193.8h12.6v12.6h-12.6zM397 193.8h12.6v12.6h-12.6zM360.2 218.3h12.6v12.6h-12.6zM298.9 242.8h12.6v12.6h-12.6zM213.1 255.1h12.6v12.6h-12.6zM311.2 255.1h12.6v12.6h-12.6zM249.9 267.3h12.6v12.6h-12.6zM176.3 291.9h12.6v12.6h-12.6zM348 304.1h12.6v12.6h-12.6zM249.9 316.4h12.6v12.6h-12.6zM262.1 316.4h12.6v12.6h-12.6zM544.2 328.7h12.6v12.6h-12.6zM605.5 328.7h12.6v12.6h-12.6zM225.4 340.9h12.6v12.6h-12.6zM617.7 340.9h12.6v12.6h-12.6zM348 365.4h12.6v12.6h-12.6zM433.8 365.4h12.6v12.6h-12.6zM507.4 365.4h12.6v12.6h-12.6zM274.4 377.7h12.6v12.6h-12.6zM298.9 377.7h12.6v12.6h-12.6zM311.2 377.7h12.6v12.6h-12.6zM605.5 377.7h12.6v12.6h-12.6zM630 377.7h12.6v12.6h-12.6zM642.3 377.7h12.6v12.6h-12.6zM568.7 390h12.6v12.6h-12.6zM593.2 390h12.6v12.6h-12.6zM630 390h12.6v12.6h-12.6zM188.6 402.2h12.6v12.6h-12.6zM286.7 402.2h12.6v12.6h-12.6zM384.8 402.2h12.6v12.6h-12.6zM446.1 402.2h12.6v12.6h-12.6zM470.6 402.2h12.6v12.6h-12.6zM691.3 402.2h12.6v12.6h-12.6zM127.3 414.5h12.6v12.6h-12.6zM200.8 414.5h12.6v12.6h-12.6zM286.7 414.5h12.6v12.6h-12.6zM335.7 414.5h12.6v12.6h-12.6zM458.3 414.5h12.6v12.6h-12.6zM556.4 414.5h12.6v12.6h-12.6zM715.8 414.5h12.6v12.6h-12.6zM262.1 426.8h12.6v12.6h-12.6zM274.4 426.8h12.6v12.6h-12.6zM311.2 426.8h12.6v12.6h-12.6zM556.4 426.8h12.6v12.6h-12.6zM703.6 426.8h12.6v12.6h-12.6zM127.3 451.3h12.6v12.6h-12.6zM348 451.3h12.6v12.6h-12.6zM715.8 451.3h12.6v12.6h-12.6zM102.7 463.5h12.6v12.6h-12.6zM115 463.5h12.6v12.6h-12.6zM151.8 463.5h12.6v12.6h-12.6zM348 463.5h12.6v12.6h-12.6zM544.2 463.5h12.6v12.6h-12.6zM630 463.5h12.6v12.6h-12.6zM777.1 463.5h12.6v12.6h-12.6zM90.5 475.8h12.6v12.6h-12.6zM213.1 475.8h12.6v12.6h-12.6zM311.2 475.8h12.6v12.6h-12.6zM323.4 475.8h12.6v12.6h-12.6zM715.8 475.8h12.6v12.6h-12.6zM188.6 488.1h12.6v12.6h-12.6zM360.2 488.1h12.6v12.6h-12.6zM777.1 488.1h12.6v12.6h-12.6zM90.5 500.3h12.6v12.6h-12.6zM213.1 500.3h12.6v12.6h-12.6zM470.6 500.3h12.6v12.6h-12.6zM630 500.3h12.6v12.6h-12.6zM740.4 500.3h12.6v12.6h-12.6zM65.9 512.6h12.6v12.6h-12.6zM102.7 512.6h12.6v12.6h-12.6zM176.3 512.6h12.6v12.6h-12.6zM679 512.6h12.6v12.6h-12.6zM360.2 524.8h12.6v12.6h-12.6zM666.8 524.8h12.6v12.6h-12.6zM679 524.8h12.6v12.6h-12.6zM728.1 524.8h12.6v12.6h-12.6zM740.4 524.8h12.6v12.6h-12.6zM826.2 524.8h12.6v12.6h-12.6zM838.5 524.8h12.6v12.6h-12.6zM53.7 537.1h12.6v12.6h-12.6zM200.8 537.1h12.6v12.6h-12.6zM286.7 537.1h12.6v12.6h-12.6zM384.8 537.1h12.6v12.6h-12.6zM654.5 537.1h12.6v12.6h-12.6zM237.6 549.4h12.6v12.6h-12.6zM286.7 549.4h12.6v12.6h-12.6zM838.5 549.4h12.6v12.6h-12.6zM617.7 561.6h12.6v12.6h-12.6zM715.8 561.6h12.6v12.6h-12.6zM813.9 561.6h12.6v12.6h-12.6zM151.8 573.9h12.6v12.6h-12.6zM249.9 573.9h12.6v12.6h-12.6zM605.5 573.9h12.6v12.6h-12.6zM617.7 573.9h12.6v12.6h-12.6zM654.5 573.9h12.6v12.6h-12.6zM752.6 573.9h12.6v12.6h-12.6zM887.5 573.9h3.8v12.6h-3.8zM18.2 586.2h11.3v12.6h-11.3zM164 586.2h12.6v12.6h-12.6zM323.4 586.2h12.6v12.6h-12.6zM360.2 586.2h12.6v12.6h-12.6zM593.2 586.2h12.6v12.6h-12.6zM605.5 586.2h12.6v12.6h-12.6zM740.4 586.2h12.6v12.6h-12.6zM813.9 586.2h12.6v12.6h-12.6zM838.5 586.2h12.6v12.6h-12.6zM274.4 598.4h12.6v12.6h-12.6zM298.9 598.4h12.6v12.6h-12.6zM348 598.4h12.6v12.6h-12.6zM679 598.4h12.6v12.6h-12.6zM715.8 598.4h12.6v12.6h-12.6zM188.6 610.7h12.6v12.6h-12.6zM286.7 610.7h12.6v12.6h-12.6zM298.9 610.7h12.6v12.6h-12.6zM838.5 610.7h12.6v12.6h-12.6zM225.4 622.9h12.6v12.6h-12.6zM286.7 622.9h12.6v12.6h-12.6zM311.2 622.9h12.6v12.6h-12.6zM421.5 622.9h12.6v12.6h-12.6zM630 622.9h12.6v12.6h-12.6zM666.8 622.9h12.6v12.6h-12.6zM90.5 635.2h12.6v12.6h-12.6zM274.4 635.2h12.6v12.6h-12.6zM728.1 635.2h12.6v12.6h-12.6zM311.2 647.5h12.6v12.6h-12.6zM384.8 647.5h12.6v12.6h-12.6zM78.2 659.7h12.6v12.6h-12.6zM237.6 659.7h12.6v12.6h-12.6zM286.7 659.7h12.6v12.6h-12.6zM335.7 659.7h12.6v12.6h-12.6zM605.5 659.7h12.6v12.6h-12.6zM630 659.7h12.6v12.6h-12.6zM65.9 672h12.6v12.6h-12.6zM360.2 672h12.6v12.6h-12.6zM666.8 672h12.6v12.6h-12.6zM838.5 672h12.6v12.6h-12.6zM850.7 672h12.6v12.6h-12.6zM115 696.5h12.6v12.6h-12.6zM617.7 696.5h12.6v12.6h-12.6zM789.4 696.5h12.6v12.6h-12.6zM348 708.8h12.6v12.6h-12.6zM531.9 708.8h12.6v12.6h-12.6zM568.7 708.8h12.6v12.6h-12.6zM679 708.8h12.6v12.6h-12.6zM298.9 721h12.6v12.6h-12.6zM630 721h12.6v12.6h-12.6zM298.9 733.3h12.6v12.6h-12.6zM581 733.3h12.6v12.6h-12.6zM666.8 733.3h12.6v12.6h-12.6zM691.3 733.3h12.6v12.6h-12.6zM151.8 745.6h12.6v12.6h-12.6zM703.6 745.6h12.6v12.6h-12.6zM789.4 745.6h12.6v12.6h-12.6zM225.4 757.8h12.6v12.6h-12.6zM262.1 757.8h12.6v12.6h-12.6zM348 757.8h12.6v12.6h-12.6zM630 770.1h12.6v12.6h-12.6zM482.9 782.3h12.6v12.6h-12.6zM519.6 782.3h12.6v12.6h-12.6zM642.3 794.6h12.6v12.6h-12.6zM666.8 794.6h12.6v12.6h-12.6zM433.8 806.9h12.6v12.6h-12.6z"/>
<path fill="#ead4a3" d="M237.6 169.2h12.6v12.6h-12.6zM372.5 169.2h12.6v12.6h-12.6zM384.8 181.5h12.6v12.6h-12.6zM311.2 193.8h12.6v12.6h-12.6zM348 193.8h12.6v12.6h-12.6zM421.5 206h12.6v12.6h-12.6zM213.1 230.6h12.6v12.6h-12.6zM298.9 230.6h12.6v12.6h-12.6zM213.1 242.8h12.6v12.6h-12.6zM213.1 267.3h12.6v12.6h-12.6zM286.7 267.3h12.6v12.6h-12.6zM298.9 267.3h12.6v12.6h-12.6zM495.1 267.3h12.6v12.6h-12.6zM507.4 267.3h12.6v12.6h-12.6zM495.1 279.6h12.6v12.6h-12.6zM519.6 279.6h12.6v12.6h-12.6zM176.3 304.1h12.6v12.6h-12.6zM544.2 304.1h12.6v12.6h-12.6zM176.3 328.7h12.6v12.6h-12.6zM384.8 328.7h12.6v12.6h-12.6zM421.5 328.7h12.6v12.6h-12.6zM213.1 340.9h12.6v12.6h-12.6zM581 340.9h12.6v12.6h-12.6zM151.8 365.4h12.6v12.6h-12.6zM200.8 365.4h12.6v12.6h-12.6zM519.6 365.4h12.6v12.6h-12.6zM630 365.4h12.6v12.6h-12.6zM286.7 377.7h12.6v12.6h-12.6zM323.4 390h12.6v12.6h-12.6zM335.7 390h12.6v12.6h-12.6zM495.1 390h12.6v12.6h-12.6zM679 390h12.6v12.6h-12.6zM691.3 390h12.6v12.6h-12.6zM249.9 402.2h12.6v12.6h-12.6zM568.7 402.2h12.6v12.6h-12.6zM605.5 402.2h12.6v12.6h-12.6zM213.1 414.5h12.6v12.6h-12.6zM311.2 414.5h12.6v12.6h-12.6zM348 414.5h12.6v12.6h-12.6zM544.2 414.5h12.6v12.6h-12.6zM642.3 414.5h12.6v12.6h-12.6zM237.6 426.8h12.6v12.6h-12.6zM323.4 426.8h12.6v12.6h-12.6zM544.2 426.8h12.6v12.6h-12.6zM605.5 426.8h12.6v12.6h-12.6zM372.5 439h12.6v12.6h-12.6zM397 439h12.6v12.6h-12.6zM409.3 439h12.6v12.6h-12.6zM482.9 439h12.6v12.6h-12.6zM335.7 463.5h12.6v12.6h-12.6zM764.9 463.5h12.6v12.6h-12.6zM78.2 475.8h12.6v12.6h-12.6zM176.3 475.8h12.6v12.6h-12.6zM372.5 475.8h12.6v12.6h-12.6zM482.9 475.8h12.6v12.6h-12.6zM507.4 475.8h12.6v12.6h-12.6zM151.8 488.1h12.6v12.6h-12.6zM237.6 488.1h12.6v12.6h-12.6zM495.1 488.1h12.6v12.6h-12.6zM666.8 488.1h12.6v12.6h-12.6zM752.6 488.1h12.6v12.6h-12.6zM360.2 500.3h12.6v12.6h-12.6zM752.6 500.3h12.6v12.6h-12.6zM225.4 512.6h12.6v12.6h-12.6zM115 524.8h12.6v12.6h-12.6zM237.6 524.8h12.6v12.6h-12.6zM850.7 524.8h12.6v12.6h-12.6zM875.2 524.8h12.6v12.6h-12.6zM213.1 537.1h12.6v12.6h-12.6zM568.7 537.1h12.6v12.6h-12.6zM703.6 537.1h12.6v12.6h-12.6zM728.1 537.1h12.6v12.6h-12.6zM863 537.1h12.6v12.6h-12.6zM164 549.4h12.6v12.6h-12.6zM617.7 549.4h12.6v12.6h-12.6zM630 549.4h12.6v12.6h-12.6zM777.1 549.4h12.6v12.6h-12.6zM850.7 549.4h12.6v12.6h-12.6zM875.2 549.4h12.6v12.6h-12.6zM90.5 561.6h12.6v12.6h-12.6zM348 561.6h12.6v12.6h-12.6zM630 561.6h12.6v12.6h-12.6zM789.4 561.6h12.6v12.6h-12.6zM875.2 561.6h12.6v12.6h-12.6zM115 573.9h12.6v12.6h-12.6zM127.3 573.9h12.6v12.6h-12.6zM274.4 573.9h12.6v12.6h-12.6zM630 573.9h12.6v12.6h-12.6zM298.9 586.2h12.6v12.6h-12.6zM127.3 598.4h12.6v12.6h-12.6zM323.4 598.4h12.6v12.6h-12.6zM617.7 598.4h12.6v12.6h-12.6zM801.7 598.4h12.6v12.6h-12.6zM813.9 598.4h12.6v12.6h-12.6zM164 610.7h12.6v12.6h-12.6zM691.3 622.9h12.6v12.6h-12.6zM728.1 622.9h12.6v12.6h-12.6zM826.2 622.9h12.6v12.6h-12.6zM323.4 635.2h12.6v12.6h-12.6zM581 635.2h12.6v12.6h-12.6zM679 635.2h12.6v12.6h-12.6zM863 635.2h12.6v12.6h-12.6zM127.3 647.5h12.6v12.6h-12.6zM200.8 647.5h12.6v12.6h-12.6zM249.9 647.5h12.6v12.6h-12.6zM703.6 647.5h12.6v12.6h-12.6zM65.9 659.7h12.6v12.6h-12.6zM139.5 659.7h12.6v12.6h-12.6zM78.2 672h12.6v12.6h-12.6zM249.9 672h12.6v12.6h-12.6zM348 672h12.6v12.6h-12.6zM519.6 672h12.6v12.6h-12.6zM715.8 672h12.6v12.6h-12.6zM311.2 684.3h12.6v12.6h-12.6zM78.2 696.5h12.6v12.6h-12.6zM102.7 696.5h12.6v12.6h-12.6zM323.4 696.5h12.6v12.6h-12.6zM348 696.5h12.6v12.6h-12.6zM581 696.5h12.6v12.6h-12.6zM372.5 721h12.6v12.6h-12.6zM826.2 721h12.6v12.6h-12.6zM556.4 733.3h12.6v12.6h-12.6zM556.4 745.6h12.6v12.6h-12.6zM446.1 770.1h12.6v12.6h-12.6zM617.7 770.1h12.6v12.6h-12.6zM335.7 782.3h12.6v12.6h-12.6zM433.8 794.6h12.6v12.6h-12.6zM593.2 794.6h12.6v12.6h-12.6zM298.9 806.9h12.6v12.6h-12.6z"/>
<path fill="#dfcc9a" d="M335.7 181.5h12.6v12.6h-12.6zM225.4 242.8h12.6v12.6h-12.6zM237.6 242.8h12.6v12.6h-12.6zM298.9 291.9h12.6v12.6h-12.6zM286.7 304.1h12.6v12.6h-12.6zM335.7 304.1h12.6v12.6h-12.6zM470.6 304.1h12.6v12.6h-12.6zM323.4 316.4h12.6v12.6h-12.6zM348 316.4h12.6v12.6h-12.6zM274.4 328.7h12.6v12.6h-12.6zM298.9 340.9h12.6v12.6h-12.6zM421.5 340.9h12.6v12.6h-12.6zM519.6 340.9h12.6v12.6h-12.6zM176.3 353.2h12.6v12.6h-12.6zM421.5 365.4h12.6v12.6h-12.6zM470.6 365.4h12.6v12.6h-12.6zM127.3 377.7h12.6v12.6h-12.6zM446.1 377.7h12.6v12.6h-12.6zM470.6 377.7h12.6v12.6h-12.6zM482.9 377.7h12.6v12.6h-12.6zM200.8 390h12.6v12.6h-12.6zM213.1 390h12.6v12.6h-12.6zM249.9 390h12.6v12.6h-12.6zM556.4 390h12.6v12.6h-12.6zM617.7 390h12.6v12.6h-12.6zM666.8 390h12.6v12.6h-12.6zM176.3 402.2h12.6v12.6h-12.6zM262.1 402.2h12.6v12.6h-12.6zM323.4 402.2h12.6v12.6h-12.6zM433.8 402.2h12.6v12.6h-12.6zM519.6 402.2h12.6v12.6h-12.6zM581 402.2h12.6v12.6h-12.6zM115 426.8h12.6v12.6h-12.6zM298.9 426.8h12.6v12.6h-12.6zM348 426.8h12.6v12.6h-12.6zM617.7 426.8h12.6v12.6h-12.6zM666.8 426.8h12.6v12.6h-12.6zM249.9 439h12.6v12.6h-12.6zM654.5 439h12.6v12.6h-12.6zM679 439h12.6v12.6h-12.6zM262.1 451.3h12.6v12.6h-12.6zM298.9 451.3h12.6v12.6h-12.6zM507.4 451.3h12.6v12.6h-12.6zM556.4 451.3h12.6v12.6h-12.6zM605.5 451.3h12.6v12.6h-12.6zM691.3 451.3h12.6v12.6h-12.6zM764.9 451.3h12.6v12.6h-12.6zM90.5 463.5h12.6v12.6h-12.6zM482.9 463.5h12.6v12.6h-12.6zM605.5 463.5h12.6v12.6h-12.6zM642.3 463.5h12.6v12.6h-12.6zM654.5 463.5h12.6v12.6h-12.6zM666.8 463.5h12.6v12.6h-12.6zM789.4 463.5h12.6v12.6h-12.6zM164 475.8h12.6v12.6h-12.6zM286.7 475.8h12.6v12.6h-12.6zM544.2 475.8h12.6v12.6h-12.6zM593.2 475.8h12.6v12.6h-12.6zM286.7 488.1h12.6v12.6h-12.6zM384.8 488.1h12.6v12.6h-12.6zM164 500.3h12.6v12.6h-12.6zM458.3 500.3h12.6v12.6h-12.6zM556.4 500.3h12.6v12.6h-12.6zM605.5 500.3h12.6v12.6h-12.6zM90.5 512.6h12.6v12.6h-12.6zM200.8 512.6h12.6v12.6h-12.6zM421.5 512.6h12.6v12.6h-12.6zM691.3 512.6h12.6v12.6h-12.6zM703.6 512.6h12.6v12.6h-12.6zM728.1 512.6h12.6v12.6h-12.6zM78.2 524.8h12.6v12.6h-12.6zM139.5 524.8h12.6v12.6h-12.6zM176.3 524.8h12.6v12.6h-12.6zM654.5 524.8h12.6v12.6h-12.6zM789.4 524.8h12.6v12.6h-12.6zM863 524.8h12.6v12.6h-12.6zM679 537.1h12.6v12.6h-12.6zM752.6 537.1h12.6v12.6h-12.6zM777.1 537.1h12.6v12.6h-12.6zM887.5 537.1h3.8v12.6h-3.8zM41.4 549.4h12.6v12.6h-12.6zM262.1 549.4h12.6v12.6h-12.6zM53.7 561.6h12.6v12.6h-12.6zM65.9 561.6h12.6v12.6h-12.6zM642.3 561.6h12.6v12.6h-12.6zM801.7 561.6h12.6v12.6h-12.6zM838.5 561.6h12.6v12.6h-12.6zM666.8 573.9h12.6v12.6h-12.6zM249.9 586.2h12.6v12.6h-12.6zM311.2 586.2h12.6v12.6h-12.6zM691.3 586.2h12.6v12.6h-12.6zM200.8 598.4h12.6v12.6h-12.6zM225.4 598.4h12.6v12.6h-12.6zM360.2 598.4h12.6v12.6h-12.6zM654.5 598.4h12.6v12.6h-12.6zM764.9 598.4h12.6v12.6h-12.6zM826.2 598.4h12.6v12.6h-12.6zM642.3 610.7h12.6v12.6h-12.6zM679 610.7h12.6v12.6h-12.6zM764.9 610.7h12.6v12.6h-12.6zM863 610.7h12.6v12.6h-12.6zM262.1 622.9h12.6v12.6h-12.6zM348 622.9h12.6v12.6h-12.6zM384.8 622.9h12.6v12.6h-12.6zM311.2 635.2h12.6v12.6h-12.6zM703.6 635.2h12.6v12.6h-12.6zM115 647.5h12.6v12.6h-12.6zM237.6 647.5h12.6v12.6h-12.6zM605.5 647.5h12.6v12.6h-12.6zM826.2 647.5h12.6v12.6h-12.6zM838.5 647.5h12.6v12.6h-12.6zM102.7 659.7h12.6v12.6h-12.6zM348 659.7h12.6v12.6h-12.6zM262.1 672h12.6v12.6h-12.6zM298.9 672h12.6v12.6h-12.6zM617.7 672h12.6v12.6h-12.6zM801.7 672h12.6v12.6h-12.6zM262.1 684.3h12.6v12.6h-12.6zM274.4 684.3h12.6v12.6h-12.6zM360.2 684.3h12.6v12.6h-12.6zM801.7 684.3h12.6v12.6h-12.6zM826.2 684.3h12.6v12.6h-12.6zM127.3 696.5h12.6v12.6h-12.6zM311.2 696.5h12.6v12.6h-12.6zM335.7 696.5h12.6v12.6h-12.6zM360.2 696.5h12.6v12.6h-12.6zM666.8 696.5h12.6v12.6h-12.6zM838.5 696.5h12.6v12.6h-12.6zM311.2 708.8h12.6v12.6h-12.6zM311.2 721h12.6v12.6h-12.6zM335.7 721h12.6v12.6h-12.6zM544.2 721h12.6v12.6h-12.6zM617.7 721h12.6v12.6h-12.6zM666.8 721h12.6v12.6h-12.6zM703.6 721h12.6v12.6h-12.6zM813.9 721h12.6v12.6h-12.6zM360.2 733.3h12.6v12.6h-12.6zM593.2 733.3h12.6v12.6h-12.6zM531.9 745.6h12.6v12.6h-12.6zM568.7 745.6h12.6v12.6h-12.6zM593.2 745.6h12.6v12.6h-12.6zM568.7 757.8h12.6v12.6h-12.6zM740.4 757.8h12.6v12.6h-12.6zM642.3 770.1h12.6v12.6h-12.6zM409.3 782.3h12.6v12.6h-12.6zM581 782.3h12.6v12.6h-12.6zM605.5 794.6h12.6v12.6h-12.6zM274.4 806.9h12.6v12.6h-12.6zM298.9 831.4h12.6v12.6h-12.6z"/>
<path fill="#f1ebd9" d="M482.9 512.6h12.6v12.6h-12.6zM482.9 524.8h12.6v12.6h-12.6z"/>
</g>
<rect x="10" y="112" width="890" height="740" filter="url(#nl)" clip-path="url(#mc)"/>
<g shape-rendering="crispEdges">
<path fill="#66b74d" d="M262.1 120.2h12.6v12.6h-12.6zM372.5 193.8h12.6v12.6h-12.6zM409.3 193.8h12.6v12.6h-12.6zM335.7 206h12.6v12.6h-12.6zM286.7 218.3h12.6v12.6h-12.6zM348 218.3h12.6v12.6h-12.6zM384.8 218.3h12.6v12.6h-12.6zM397 218.3h12.6v12.6h-12.6zM249.9 230.6h12.6v12.6h-12.6zM409.3 230.6h12.6v12.6h-12.6zM482.9 242.8h12.6v12.6h-12.6zM188.6 255.1h12.6v12.6h-12.6zM335.7 255.1h12.6v12.6h-12.6zM360.2 255.1h12.6v12.6h-12.6zM335.7 279.6h12.6v12.6h-12.6zM458.3 279.6h12.6v12.6h-12.6zM482.9 279.6h12.6v12.6h-12.6zM286.7 291.9h12.6v12.6h-12.6zM311.2 291.9h12.6v12.6h-12.6zM348 291.9h12.6v12.6h-12.6zM360.2 291.9h12.6v12.6h-12.6zM470.6 291.9h12.6v12.6h-12.6zM531.9 291.9h12.6v12.6h-12.6zM311.2 304.1h12.6v12.6h-12.6zM519.6 304.1h12.6v12.6h-12.6zM298.9 316.4h12.6v12.6h-12.6zM397 328.7h12.6v12.6h-12.6zM372.5 340.9h12.6v12.6h-12.6zM544.2 340.9h12.6v12.6h-12.6zM274.4 353.2h12.6v12.6h-12.6zM470.6 353.2h12.6v12.6h-12.6zM605.5 353.2h12.6v12.6h-12.6zM323.4 365.4h12.6v12.6h-12.6zM335.7 365.4h12.6v12.6h-12.6zM397 365.4h12.6v12.6h-12.6zM188.6 377.7h12.6v12.6h-12.6zM581 414.5h12.6v12.6h-12.6zM617.7 414.5h12.6v12.6h-12.6zM654.5 414.5h12.6v12.6h-12.6zM679 414.5h12.6v12.6h-12.6zM384.8 426.8h12.6v12.6h-12.6zM446.1 439h12.6v12.6h-12.6zM151.8 451.3h12.6v12.6h-12.6zM249.9 451.3h12.6v12.6h-12.6zM384.8 451.3h12.6v12.6h-12.6zM115 475.8h12.6v12.6h-12.6zM384.8 475.8h12.6v12.6h-12.6zM65.9 488.1h12.6v12.6h-12.6zM274.4 488.1h12.6v12.6h-12.6zM298.9 488.1h12.6v12.6h-12.6zM335.7 488.1h12.6v12.6h-12.6zM691.3 488.1h12.6v12.6h-12.6zM53.7 512.6h12.6v12.6h-12.6zM777.1 512.6h12.6v12.6h-12.6zM249.9 524.8h12.6v12.6h-12.6zM605.5 524.8h12.6v12.6h-12.6zM78.2 537.1h12.6v12.6h-12.6zM789.4 537.1h12.6v12.6h-12.6zM78.2 573.9h12.6v12.6h-12.6zM801.7 573.9h12.6v12.6h-12.6zM813.9 573.9h12.6v12.6h-12.6zM850.7 573.9h12.6v12.6h-12.6zM752.6 598.4h12.6v12.6h-12.6zM213.1 610.7h12.6v12.6h-12.6zM274.4 610.7h12.6v12.6h-12.6zM801.7 610.7h12.6v12.6h-12.6zM164 622.9h12.6v12.6h-12.6zM801.7 622.9h12.6v12.6h-12.6zM78.2 635.2h12.6v12.6h-12.6zM127.3 635.2h12.6v12.6h-12.6zM41.4 659.7h12.6v12.6h-12.6zM249.9 659.7h12.6v12.6h-12.6zM102.7 672h12.6v12.6h-12.6zM470.6 672h12.6v12.6h-12.6zM188.6 684.3h12.6v12.6h-12.6zM813.9 684.3h12.6v12.6h-12.6zM176.3 696.5h12.6v12.6h-12.6zM188.6 696.5h12.6v12.6h-12.6zM274.4 696.5h12.6v12.6h-12.6zM151.8 721h12.6v12.6h-12.6zM274.4 721h12.6v12.6h-12.6zM188.6 733.3h12.6v12.6h-12.6zM225.4 733.3h12.6v12.6h-12.6zM691.3 770.1h12.6v12.6h-12.6zM630 782.3h12.6v12.6h-12.6zM654.5 782.3h12.6v12.6h-12.6z"/>
<path fill="#46ae91" d="M274.4 144.7h12.6v12.6h-12.6zM298.9 169.2h12.6v12.6h-12.6zM397 242.8h12.6v12.6h-12.6zM470.6 267.3h12.6v12.6h-12.6zM397 279.6h12.6v12.6h-12.6zM495.1 291.9h12.6v12.6h-12.6zM213.1 304.1h12.6v12.6h-12.6zM384.8 304.1h12.6v12.6h-12.6zM409.3 304.1h12.6v12.6h-12.6zM421.5 304.1h12.6v12.6h-12.6zM495.1 304.1h12.6v12.6h-12.6zM507.4 304.1h12.6v12.6h-12.6zM519.6 316.4h12.6v12.6h-12.6zM433.8 328.7h12.6v12.6h-12.6zM446.1 328.7h12.6v12.6h-12.6zM519.6 353.2h12.6v12.6h-12.6zM360.2 377.7h12.6v12.6h-12.6zM127.3 390h12.6v12.6h-12.6zM139.5 390h12.6v12.6h-12.6zM262.1 463.5h12.6v12.6h-12.6zM397 524.8h12.6v12.6h-12.6zM544.2 537.1h12.6v12.6h-12.6zM41.4 573.9h12.6v12.6h-12.6zM53.7 573.9h12.6v12.6h-12.6zM127.3 586.2h12.6v12.6h-12.6zM78.2 598.4h12.6v12.6h-12.6zM29.2 622.9h12.6v12.6h-12.6zM151.8 635.2h12.6v12.6h-12.6zM41.4 647.5h12.6v12.6h-12.6zM29.2 672h12.6v12.6h-12.6zM286.7 696.5h12.6v12.6h-12.6zM225.4 708.8h12.6v12.6h-12.6zM78.2 721h12.6v12.6h-12.6zM102.7 721h12.6v12.6h-12.6zM311.2 733.3h12.6v12.6h-12.6zM225.4 745.6h12.6v12.6h-12.6zM311.2 757.8h12.6v12.6h-12.6zM249.9 770.1h12.6v12.6h-12.6zM740.4 770.1h12.6v12.6h-12.6zM531.9 806.9h12.6v12.6h-12.6zM556.4 806.9h12.6v12.6h-12.6zM568.7 806.9h12.6v12.6h-12.6zM470.6 819.1h12.6v12.6h-12.6zM495.1 819.1h12.6v12.6h-12.6z"/>
<path fill="#3ba283" d="M286.7 144.7h12.6v12.6h-12.6zM323.4 144.7h12.6v12.6h-12.6zM286.7 157h12.6v12.6h-12.6zM249.9 193.8h12.6v12.6h-12.6zM397 206h12.6v12.6h-12.6zM433.8 230.6h12.6v12.6h-12.6zM225.4 267.3h12.6v12.6h-12.6zM200.8 279.6h12.6v12.6h-12.6zM213.1 279.6h12.6v12.6h-12.6zM384.8 279.6h12.6v12.6h-12.6zM384.8 291.9h12.6v12.6h-12.6zM421.5 291.9h12.6v12.6h-12.6zM188.6 316.4h12.6v12.6h-12.6zM409.3 316.4h12.6v12.6h-12.6zM507.4 316.4h12.6v12.6h-12.6zM446.1 340.9h12.6v12.6h-12.6zM164 390h12.6v12.6h-12.6zM286.7 390h12.6v12.6h-12.6zM286.7 426.8h12.6v12.6h-12.6zM102.7 475.8h12.6v12.6h-12.6zM421.5 475.8h12.6v12.6h-12.6zM29.2 586.2h12.6v12.6h-12.6zM41.4 586.2h12.6v12.6h-12.6zM409.3 586.2h12.6v12.6h-12.6zM102.7 598.4h12.6v12.6h-12.6zM29.2 647.5h12.6v12.6h-12.6zM29.2 659.7h12.6v12.6h-12.6zM29.2 684.3h12.6v12.6h-12.6zM225.4 696.5h12.6v12.6h-12.6zM53.7 708.8h12.6v12.6h-12.6zM65.9 708.8h12.6v12.6h-12.6zM237.6 733.3h12.6v12.6h-12.6zM274.4 733.3h12.6v12.6h-12.6zM237.6 745.6h12.6v12.6h-12.6zM176.3 757.8h12.6v12.6h-12.6zM286.7 757.8h12.6v12.6h-12.6zM703.6 782.3h12.6v12.6h-12.6zM507.4 819.1h12.6v12.6h-12.6z"/>
<path fill="#3d9230" d="M311.2 144.7h12.6v12.6h-12.6zM335.7 169.2h12.6v12.6h-12.6zM262.1 181.5h12.6v12.6h-12.6zM384.8 193.8h12.6v12.6h-12.6zM249.9 206h12.6v12.6h-12.6zM384.8 206h12.6v12.6h-12.6zM249.9 218.3h12.6v12.6h-12.6zM323.4 218.3h12.6v12.6h-12.6zM323.4 242.8h12.6v12.6h-12.6zM421.5 242.8h12.6v12.6h-12.6zM433.8 242.8h12.6v12.6h-12.6zM470.6 242.8h12.6v12.6h-12.6zM409.3 255.1h12.6v12.6h-12.6zM372.5 279.6h12.6v12.6h-12.6zM446.1 279.6h12.6v12.6h-12.6zM323.4 291.9h12.6v12.6h-12.6zM507.4 291.9h12.6v12.6h-12.6zM225.4 304.1h12.6v12.6h-12.6zM360.2 304.1h12.6v12.6h-12.6zM556.4 304.1h12.6v12.6h-12.6zM274.4 316.4h12.6v12.6h-12.6zM311.2 316.4h12.6v12.6h-12.6zM421.5 316.4h12.6v12.6h-12.6zM433.8 316.4h12.6v12.6h-12.6zM188.6 328.7h12.6v12.6h-12.6zM249.9 328.7h12.6v12.6h-12.6zM262.1 328.7h12.6v12.6h-12.6zM298.9 328.7h12.6v12.6h-12.6zM372.5 328.7h12.6v12.6h-12.6zM593.2 328.7h12.6v12.6h-12.6zM200.8 340.9h12.6v12.6h-12.6zM237.6 353.2h12.6v12.6h-12.6zM360.2 353.2h12.6v12.6h-12.6zM458.3 353.2h12.6v12.6h-12.6zM556.4 365.4h12.6v12.6h-12.6zM237.6 377.7h12.6v12.6h-12.6zM666.8 377.7h12.6v12.6h-12.6zM593.2 402.2h12.6v12.6h-12.6zM642.3 402.2h12.6v12.6h-12.6zM164 414.5h12.6v12.6h-12.6zM397 426.8h12.6v12.6h-12.6zM482.9 426.8h12.6v12.6h-12.6zM90.5 439h12.6v12.6h-12.6zM384.8 439h12.6v12.6h-12.6zM605.5 439h12.6v12.6h-12.6zM715.8 439h12.6v12.6h-12.6zM372.5 451.3h12.6v12.6h-12.6zM458.3 451.3h12.6v12.6h-12.6zM458.3 463.5h12.6v12.6h-12.6zM728.1 463.5h12.6v12.6h-12.6zM752.6 463.5h12.6v12.6h-12.6zM409.3 475.8h12.6v12.6h-12.6zM446.1 475.8h12.6v12.6h-12.6zM323.4 488.1h12.6v12.6h-12.6zM139.5 512.6h12.6v12.6h-12.6zM65.9 537.1h12.6v12.6h-12.6zM90.5 549.4h12.6v12.6h-12.6zM200.8 549.4h12.6v12.6h-12.6zM139.5 561.6h12.6v12.6h-12.6zM850.7 561.6h12.6v12.6h-12.6zM65.9 573.9h12.6v12.6h-12.6zM102.7 573.9h12.6v12.6h-12.6zM703.6 586.2h12.6v12.6h-12.6zM728.1 586.2h12.6v12.6h-12.6zM151.8 598.4h12.6v12.6h-12.6zM397 598.4h12.6v12.6h-12.6zM115 610.7h12.6v12.6h-12.6zM151.8 610.7h12.6v12.6h-12.6zM789.4 610.7h12.6v12.6h-12.6zM139.5 635.2h12.6v12.6h-12.6zM78.2 647.5h12.6v12.6h-12.6zM78.2 684.3h12.6v12.6h-12.6zM102.7 684.3h12.6v12.6h-12.6zM164 684.3h12.6v12.6h-12.6zM335.7 684.3h12.6v12.6h-12.6zM666.8 684.3h12.6v12.6h-12.6zM777.1 684.3h12.6v12.6h-12.6zM41.4 696.5h12.6v12.6h-12.6zM164 721h12.6v12.6h-12.6zM200.8 721h12.6v12.6h-12.6zM200.8 733.3h12.6v12.6h-12.6zM176.3 745.6h12.6v12.6h-12.6zM188.6 745.6h12.6v12.6h-12.6zM213.1 770.1h12.6v12.6h-12.6zM323.4 770.1h12.6v12.6h-12.6zM703.6 770.1h12.6v12.6h-12.6zM225.4 782.3h12.6v12.6h-12.6zM581 806.9h12.6v12.6h-12.6zM593.2 806.9h12.6v12.6h-12.6zM372.5 831.4h12.6v12.6h-12.6z"/>
<path fill="#479e38" d="M274.4 157h12.6v12.6h-12.6zM298.9 157h12.6v12.6h-12.6zM262.1 218.3h12.6v12.6h-12.6zM372.5 230.6h12.6v12.6h-12.6zM372.5 242.8h12.6v12.6h-12.6zM348 255.1h12.6v12.6h-12.6zM470.6 255.1h12.6v12.6h-12.6zM348 267.3h12.6v12.6h-12.6zM360.2 267.3h12.6v12.6h-12.6zM348 279.6h12.6v12.6h-12.6zM372.5 291.9h12.6v12.6h-12.6zM446.1 291.9h12.6v12.6h-12.6zM262.1 304.1h12.6v12.6h-12.6zM458.3 304.1h12.6v12.6h-12.6zM458.3 316.4h12.6v12.6h-12.6zM409.3 328.7h12.6v12.6h-12.6zM482.9 328.7h12.6v12.6h-12.6zM519.6 328.7h12.6v12.6h-12.6zM249.9 340.9h12.6v12.6h-12.6zM470.6 340.9h12.6v12.6h-12.6zM397 353.2h12.6v12.6h-12.6zM568.7 353.2h12.6v12.6h-12.6zM188.6 365.4h12.6v12.6h-12.6zM225.4 365.4h12.6v12.6h-12.6zM237.6 365.4h12.6v12.6h-12.6zM151.8 377.7h12.6v12.6h-12.6zM654.5 377.7h12.6v12.6h-12.6zM262.1 390h12.6v12.6h-12.6zM654.5 390h12.6v12.6h-12.6zM421.5 402.2h12.6v12.6h-12.6zM102.7 414.5h12.6v12.6h-12.6zM421.5 414.5h12.6v12.6h-12.6zM433.8 414.5h12.6v12.6h-12.6zM470.6 414.5h12.6v12.6h-12.6zM531.9 414.5h12.6v12.6h-12.6zM335.7 426.8h12.6v12.6h-12.6zM458.3 426.8h12.6v12.6h-12.6zM728.1 426.8h12.6v12.6h-12.6zM237.6 439h12.6v12.6h-12.6zM348 439h12.6v12.6h-12.6zM470.6 439h12.6v12.6h-12.6zM581 439h12.6v12.6h-12.6zM274.4 463.5h12.6v12.6h-12.6zM127.3 475.8h12.6v12.6h-12.6zM617.7 475.8h12.6v12.6h-12.6zM789.4 488.1h12.6v12.6h-12.6zM384.8 500.3h12.6v12.6h-12.6zM409.3 512.6h12.6v12.6h-12.6zM568.7 512.6h12.6v12.6h-12.6zM666.8 512.6h12.6v12.6h-12.6zM826.2 512.6h12.6v12.6h-12.6zM164 524.8h12.6v12.6h-12.6zM311.2 524.8h12.6v12.6h-12.6zM409.3 524.8h12.6v12.6h-12.6zM90.5 537.1h12.6v12.6h-12.6zM397 537.1h12.6v12.6h-12.6zM605.5 549.4h12.6v12.6h-12.6zM875.2 573.9h12.6v12.6h-12.6zM151.8 586.2h12.6v12.6h-12.6zM397 586.2h12.6v12.6h-12.6zM630 586.2h12.6v12.6h-12.6zM863 598.4h12.6v12.6h-12.6zM102.7 610.7h12.6v12.6h-12.6zM200.8 610.7h12.6v12.6h-12.6zM777.1 610.7h12.6v12.6h-12.6zM115 635.2h12.6v12.6h-12.6zM164 635.2h12.6v12.6h-12.6zM188.6 659.7h12.6v12.6h-12.6zM213.1 659.7h12.6v12.6h-12.6zM764.9 659.7h12.6v12.6h-12.6zM446.1 672h12.6v12.6h-12.6zM789.4 672h12.6v12.6h-12.6zM826.2 672h12.6v12.6h-12.6zM176.3 684.3h12.6v12.6h-12.6zM850.7 684.3h12.6v12.6h-12.6zM151.8 696.5h12.6v12.6h-12.6zM249.9 696.5h12.6v12.6h-12.6zM176.3 708.8h12.6v12.6h-12.6zM262.1 708.8h12.6v12.6h-12.6zM274.4 708.8h12.6v12.6h-12.6zM544.2 708.8h12.6v12.6h-12.6zM213.1 721h12.6v12.6h-12.6zM164 733.3h12.6v12.6h-12.6zM262.1 733.3h12.6v12.6h-12.6zM200.8 745.6h12.6v12.6h-12.6zM274.4 745.6h12.6v12.6h-12.6zM164 757.8h12.6v12.6h-12.6zM274.4 757.8h12.6v12.6h-12.6zM298.9 757.8h12.6v12.6h-12.6zM298.9 770.1h12.6v12.6h-12.6zM213.1 782.3h12.6v12.6h-12.6zM568.7 794.6h12.6v12.6h-12.6zM262.1 819.1h12.6v12.6h-12.6z"/>
<path fill="#4a9f33" d="M311.2 157h12.6v12.6h-12.6zM323.4 157h12.6v12.6h-12.6zM335.7 157h12.6v12.6h-12.6zM397 181.5h12.6v12.6h-12.6zM286.7 193.8h12.6v12.6h-12.6zM298.9 193.8h12.6v12.6h-12.6zM323.4 206h12.6v12.6h-12.6zM348 206h12.6v12.6h-12.6zM409.3 206h12.6v12.6h-12.6zM421.5 218.3h12.6v12.6h-12.6zM360.2 230.6h12.6v12.6h-12.6zM421.5 230.6h12.6v12.6h-12.6zM225.4 255.1h12.6v12.6h-12.6zM262.1 255.1h12.6v12.6h-12.6zM421.5 255.1h12.6v12.6h-12.6zM384.8 267.3h12.6v12.6h-12.6zM433.8 279.6h12.6v12.6h-12.6zM470.6 279.6h12.6v12.6h-12.6zM213.1 291.9h12.6v12.6h-12.6zM482.9 291.9h12.6v12.6h-12.6zM519.6 291.9h12.6v12.6h-12.6zM568.7 304.1h12.6v12.6h-12.6zM372.5 316.4h12.6v12.6h-12.6zM225.4 328.7h12.6v12.6h-12.6zM323.4 340.9h12.6v12.6h-12.6zM482.9 340.9h12.6v12.6h-12.6zM495.1 340.9h12.6v12.6h-12.6zM139.5 353.2h12.6v12.6h-12.6zM630 353.2h12.6v12.6h-12.6zM176.3 365.4h12.6v12.6h-12.6zM568.7 365.4h12.6v12.6h-12.6zM581 365.4h12.6v12.6h-12.6zM176.3 377.7h12.6v12.6h-12.6zM225.4 390h12.6v12.6h-12.6zM531.9 390h12.6v12.6h-12.6zM225.4 402.2h12.6v12.6h-12.6zM556.4 402.2h12.6v12.6h-12.6zM115 414.5h12.6v12.6h-12.6zM225.4 414.5h12.6v12.6h-12.6zM200.8 426.8h12.6v12.6h-12.6zM213.1 426.8h12.6v12.6h-12.6zM360.2 426.8h12.6v12.6h-12.6zM446.1 426.8h12.6v12.6h-12.6zM470.6 426.8h12.6v12.6h-12.6zM581 426.8h12.6v12.6h-12.6zM654.5 426.8h12.6v12.6h-12.6zM458.3 439h12.6v12.6h-12.6zM409.3 451.3h12.6v12.6h-12.6zM421.5 451.3h12.6v12.6h-12.6zM78.2 463.5h12.6v12.6h-12.6zM249.9 463.5h12.6v12.6h-12.6zM286.7 463.5h12.6v12.6h-12.6zM433.8 463.5h12.6v12.6h-12.6zM470.6 463.5h12.6v12.6h-12.6zM507.4 463.5h12.6v12.6h-12.6zM531.9 463.5h12.6v12.6h-12.6zM531.9 475.8h12.6v12.6h-12.6zM335.7 500.3h12.6v12.6h-12.6zM654.5 500.3h12.6v12.6h-12.6zM813.9 500.3h12.6v12.6h-12.6zM838.5 500.3h12.6v12.6h-12.6zM715.8 512.6h12.6v12.6h-12.6zM850.7 512.6h12.6v12.6h-12.6zM409.3 537.1h12.6v12.6h-12.6zM65.9 549.4h12.6v12.6h-12.6zM568.7 549.4h12.6v12.6h-12.6zM813.9 549.4h12.6v12.6h-12.6zM679 561.6h12.6v12.6h-12.6zM262.1 573.9h12.6v12.6h-12.6zM102.7 586.2h12.6v12.6h-12.6zM225.4 586.2h12.6v12.6h-12.6zM90.5 598.4h12.6v12.6h-12.6zM666.8 598.4h12.6v12.6h-12.6zM90.5 610.7h12.6v12.6h-12.6zM139.5 610.7h12.6v12.6h-12.6zM249.9 610.7h12.6v12.6h-12.6zM311.2 610.7h12.6v12.6h-12.6zM666.8 610.7h12.6v12.6h-12.6zM115 622.9h12.6v12.6h-12.6zM151.8 622.9h12.6v12.6h-12.6zM200.8 622.9h12.6v12.6h-12.6zM249.9 622.9h12.6v12.6h-12.6zM65.9 647.5h12.6v12.6h-12.6zM90.5 647.5h12.6v12.6h-12.6zM225.4 647.5h12.6v12.6h-12.6zM789.4 647.5h12.6v12.6h-12.6zM875.2 647.5h12.6v12.6h-12.6zM176.3 659.7h12.6v12.6h-12.6zM200.8 659.7h12.6v12.6h-12.6zM703.6 659.7h12.6v12.6h-12.6zM777.1 659.7h12.6v12.6h-12.6zM115 672h12.6v12.6h-12.6zM164 672h12.6v12.6h-12.6zM225.4 672h12.6v12.6h-12.6zM200.8 684.3h12.6v12.6h-12.6zM323.4 684.3h12.6v12.6h-12.6zM409.3 696.5h12.6v12.6h-12.6zM151.8 708.8h12.6v12.6h-12.6zM200.8 708.8h12.6v12.6h-12.6zM262.1 721h12.6v12.6h-12.6zM286.7 733.3h12.6v12.6h-12.6zM213.1 745.6h12.6v12.6h-12.6zM298.9 745.6h12.6v12.6h-12.6zM237.6 770.1h12.6v12.6h-12.6zM274.4 770.1h12.6v12.6h-12.6zM262.1 782.3h12.6v12.6h-12.6zM286.7 782.3h12.6v12.6h-12.6zM679 782.3h12.6v12.6h-12.6zM225.4 794.6h12.6v12.6h-12.6z"/>
<path fill="#7cc870" d="M262.1 169.2h12.6v12.6h-12.6zM139.5 426.8h12.6v12.6h-12.6zM617.7 524.8h12.6v12.6h-12.6zM65.9 684.3h12.6v12.6h-12.6zM65.9 696.5h12.6v12.6h-12.6zM446.1 708.8h12.6v12.6h-12.6zM65.9 721h12.6v12.6h-12.6z"/>
<path fill="#3fa98a" d="M286.7 169.2h12.6v12.6h-12.6zM311.2 169.2h12.6v12.6h-12.6zM298.9 181.5h12.6v12.6h-12.6zM262.1 230.6h12.6v12.6h-12.6zM274.4 230.6h12.6v12.6h-12.6zM446.1 242.8h12.6v12.6h-12.6zM446.1 267.3h12.6v12.6h-12.6zM458.3 267.3h12.6v12.6h-12.6zM482.9 267.3h12.6v12.6h-12.6zM225.4 279.6h12.6v12.6h-12.6zM531.9 279.6h12.6v12.6h-12.6zM200.8 291.9h12.6v12.6h-12.6zM397 291.9h12.6v12.6h-12.6zM409.3 291.9h12.6v12.6h-12.6zM237.6 304.1h12.6v12.6h-12.6zM397 316.4h12.6v12.6h-12.6zM495.1 316.4h12.6v12.6h-12.6zM495.1 328.7h12.6v12.6h-12.6zM507.4 328.7h12.6v12.6h-12.6zM249.9 353.2h12.6v12.6h-12.6zM482.9 353.2h12.6v12.6h-12.6zM531.9 353.2h12.6v12.6h-12.6zM262.1 377.7h12.6v12.6h-12.6zM348 377.7h12.6v12.6h-12.6zM139.5 414.5h12.6v12.6h-12.6zM323.4 500.3h12.6v12.6h-12.6zM544.2 524.8h12.6v12.6h-12.6zM29.2 573.9h12.6v12.6h-12.6zM90.5 573.9h12.6v12.6h-12.6zM90.5 586.2h12.6v12.6h-12.6zM789.4 586.2h12.6v12.6h-12.6zM53.7 598.4h12.6v12.6h-12.6zM53.7 610.7h12.6v12.6h-12.6zM53.7 647.5h12.6v12.6h-12.6zM53.7 659.7h12.6v12.6h-12.6zM53.7 672h12.6v12.6h-12.6zM102.7 708.8h12.6v12.6h-12.6zM115 708.8h12.6v12.6h-12.6zM213.1 708.8h12.6v12.6h-12.6zM90.5 721h12.6v12.6h-12.6zM115 721h12.6v12.6h-12.6zM200.8 770.1h12.6v12.6h-12.6zM298.9 782.3h12.6v12.6h-12.6zM715.8 782.3h12.6v12.6h-12.6zM728.1 782.3h12.6v12.6h-12.6zM458.3 819.1h12.6v12.6h-12.6zM531.9 819.1h12.6v12.6h-12.6z"/>
<path fill="#52b79d" d="M249.9 181.5h12.6v12.6h-12.6zM286.7 181.5h12.6v12.6h-12.6zM458.3 255.1h12.6v12.6h-12.6zM421.5 267.3h12.6v12.6h-12.6zM519.6 267.3h12.6v12.6h-12.6zM188.6 291.9h12.6v12.6h-12.6zM397 304.1h12.6v12.6h-12.6zM433.8 304.1h12.6v12.6h-12.6zM200.8 316.4h12.6v12.6h-12.6zM213.1 316.4h12.6v12.6h-12.6zM531.9 316.4h12.6v12.6h-12.6zM507.4 340.9h12.6v12.6h-12.6zM311.2 353.2h12.6v12.6h-12.6zM151.8 390h12.6v12.6h-12.6zM139.5 402.2h12.6v12.6h-12.6zM151.8 402.2h12.6v12.6h-12.6zM151.8 414.5h12.6v12.6h-12.6zM115 598.4h12.6v12.6h-12.6zM29.2 610.7h12.6v12.6h-12.6zM41.4 610.7h12.6v12.6h-12.6zM41.4 635.2h12.6v12.6h-12.6zM41.4 672h12.6v12.6h-12.6zM29.2 696.5h12.6v12.6h-12.6zM90.5 708.8h12.6v12.6h-12.6zM41.4 721h12.6v12.6h-12.6zM249.9 745.6h12.6v12.6h-12.6zM691.3 782.3h12.6v12.6h-12.6zM507.4 806.9h12.6v12.6h-12.6zM519.6 806.9h12.6v12.6h-12.6zM482.9 819.1h12.6v12.6h-12.6zM519.6 819.1h12.6v12.6h-12.6zM360.2 831.4h12.6v12.6h-12.6z"/>
<path fill="#40962c" d="M274.4 181.5h12.6v12.6h-12.6zM262.1 193.8h12.6v12.6h-12.6zM262.1 206h12.6v12.6h-12.6zM274.4 206h12.6v12.6h-12.6zM311.2 206h12.6v12.6h-12.6zM348 230.6h12.6v12.6h-12.6zM384.8 230.6h12.6v12.6h-12.6zM397 230.6h12.6v12.6h-12.6zM348 242.8h12.6v12.6h-12.6zM237.6 267.3h12.6v12.6h-12.6zM335.7 267.3h12.6v12.6h-12.6zM397 267.3h12.6v12.6h-12.6zM433.8 267.3h12.6v12.6h-12.6zM286.7 279.6h12.6v12.6h-12.6zM360.2 279.6h12.6v12.6h-12.6zM421.5 279.6h12.6v12.6h-12.6zM372.5 304.1h12.6v12.6h-12.6zM446.1 316.4h12.6v12.6h-12.6zM470.6 316.4h12.6v12.6h-12.6zM482.9 316.4h12.6v12.6h-12.6zM458.3 328.7h12.6v12.6h-12.6zM470.6 328.7h12.6v12.6h-12.6zM274.4 340.9h12.6v12.6h-12.6zM397 340.9h12.6v12.6h-12.6zM348 353.2h12.6v12.6h-12.6zM507.4 353.2h12.6v12.6h-12.6zM556.4 353.2h12.6v12.6h-12.6zM654.5 365.4h12.6v12.6h-12.6zM409.3 402.2h12.6v12.6h-12.6zM630 402.2h12.6v12.6h-12.6zM654.5 402.2h12.6v12.6h-12.6zM666.8 402.2h12.6v12.6h-12.6zM397 414.5h12.6v12.6h-12.6zM409.3 414.5h12.6v12.6h-12.6zM691.3 414.5h12.6v12.6h-12.6zM740.4 426.8h12.6v12.6h-12.6zM421.5 439h12.6v12.6h-12.6zM531.9 439h12.6v12.6h-12.6zM617.7 439h12.6v12.6h-12.6zM691.3 439h12.6v12.6h-12.6zM433.8 451.3h12.6v12.6h-12.6zM777.1 451.3h12.6v12.6h-12.6zM237.6 463.5h12.6v12.6h-12.6zM384.8 463.5h12.6v12.6h-12.6zM421.5 463.5h12.6v12.6h-12.6zM397 475.8h12.6v12.6h-12.6zM433.8 475.8h12.6v12.6h-12.6zM740.4 475.8h12.6v12.6h-12.6zM78.2 488.1h12.6v12.6h-12.6zM826.2 488.1h12.6v12.6h-12.6zM65.9 500.3h12.6v12.6h-12.6zM127.3 500.3h12.6v12.6h-12.6zM311.2 500.3h12.6v12.6h-12.6zM568.7 500.3h12.6v12.6h-12.6zM581 500.3h12.6v12.6h-12.6zM298.9 512.6h12.6v12.6h-12.6zM323.4 512.6h12.6v12.6h-12.6zM335.7 512.6h12.6v12.6h-12.6zM740.4 512.6h12.6v12.6h-12.6zM102.7 537.1h12.6v12.6h-12.6zM115 537.1h12.6v12.6h-12.6zM715.8 537.1h12.6v12.6h-12.6zM605.5 561.6h12.6v12.6h-12.6zM421.5 573.9h12.6v12.6h-12.6zM789.4 573.9h12.6v12.6h-12.6zM78.2 586.2h12.6v12.6h-12.6zM679 586.2h12.6v12.6h-12.6zM863 586.2h12.6v12.6h-12.6zM18.2 598.4h11.3v12.6h-11.3zM777.1 598.4h12.6v12.6h-12.6zM838.5 598.4h12.6v12.6h-12.6zM850.7 598.4h12.6v12.6h-12.6zM78.2 610.7h12.6v12.6h-12.6zM384.8 610.7h12.6v12.6h-12.6zM826.2 610.7h12.6v12.6h-12.6zM813.9 622.9h12.6v12.6h-12.6zM274.4 647.5h12.6v12.6h-12.6zM740.4 647.5h12.6v12.6h-12.6zM777.1 647.5h12.6v12.6h-12.6zM164 659.7h12.6v12.6h-12.6zM225.4 659.7h12.6v12.6h-12.6zM311.2 659.7h12.6v12.6h-12.6zM789.4 659.7h12.6v12.6h-12.6zM838.5 659.7h12.6v12.6h-12.6zM213.1 672h12.6v12.6h-12.6zM286.7 684.3h12.6v12.6h-12.6zM164 696.5h12.6v12.6h-12.6zM213.1 696.5h12.6v12.6h-12.6zM164 708.8h12.6v12.6h-12.6zM188.6 721h12.6v12.6h-12.6zM225.4 721h12.6v12.6h-12.6zM249.9 721h12.6v12.6h-12.6zM151.8 733.3h12.6v12.6h-12.6zM176.3 733.3h12.6v12.6h-12.6zM213.1 733.3h12.6v12.6h-12.6zM777.1 745.6h12.6v12.6h-12.6zM188.6 757.8h12.6v12.6h-12.6zM213.1 757.8h12.6v12.6h-12.6zM225.4 770.1h12.6v12.6h-12.6zM262.1 770.1h12.6v12.6h-12.6zM715.8 770.1h12.6v12.6h-12.6zM200.8 782.3h12.6v12.6h-12.6zM397 782.3h12.6v12.6h-12.6zM262.1 794.6h12.6v12.6h-12.6zM274.4 794.6h12.6v12.6h-12.6zM237.6 806.9h12.6v12.6h-12.6zM249.9 806.9h12.6v12.6h-12.6zM274.4 819.1h12.6v12.6h-12.6z"/>
<path fill="#319778" d="M323.4 181.5h12.6v12.6h-12.6zM409.3 279.6h12.6v12.6h-12.6zM433.8 291.9h12.6v12.6h-12.6zM164 304.1h12.6v12.6h-12.6zM188.6 304.1h12.6v12.6h-12.6zM200.8 304.1h12.6v12.6h-12.6zM531.9 304.1h12.6v12.6h-12.6zM384.8 316.4h12.6v12.6h-12.6zM458.3 340.9h12.6v12.6h-12.6zM360.2 365.4h12.6v12.6h-12.6zM164 402.2h12.6v12.6h-12.6zM446.1 463.5h12.6v12.6h-12.6zM409.3 573.9h12.6v12.6h-12.6zM53.7 586.2h12.6v12.6h-12.6zM65.9 586.2h12.6v12.6h-12.6zM29.2 598.4h12.6v12.6h-12.6zM41.4 598.4h12.6v12.6h-12.6zM409.3 598.4h12.6v12.6h-12.6zM65.9 610.7h12.6v12.6h-12.6zM41.4 622.9h12.6v12.6h-12.6zM53.7 622.9h12.6v12.6h-12.6zM29.2 635.2h12.6v12.6h-12.6zM53.7 635.2h12.6v12.6h-12.6zM41.4 684.3h12.6v12.6h-12.6zM53.7 684.3h12.6v12.6h-12.6zM53.7 696.5h12.6v12.6h-12.6zM200.8 696.5h12.6v12.6h-12.6zM41.4 708.8h12.6v12.6h-12.6zM78.2 708.8h12.6v12.6h-12.6zM286.7 708.8h12.6v12.6h-12.6zM176.3 721h12.6v12.6h-12.6zM249.9 733.3h12.6v12.6h-12.6zM262.1 745.6h12.6v12.6h-12.6zM311.2 770.1h12.6v12.6h-12.6zM728.1 770.1h12.6v12.6h-12.6zM237.6 782.3h12.6v12.6h-12.6zM249.9 794.6h12.6v12.6h-12.6zM544.2 806.9h12.6v12.6h-12.6z"/>
<path fill="#57ab3f" d="M323.4 193.8h12.6v12.6h-12.6zM274.4 218.3h12.6v12.6h-12.6zM311.2 218.3h12.6v12.6h-12.6zM335.7 218.3h12.6v12.6h-12.6zM409.3 218.3h12.6v12.6h-12.6zM311.2 230.6h12.6v12.6h-12.6zM323.4 230.6h12.6v12.6h-12.6zM458.3 230.6h12.6v12.6h-12.6zM311.2 242.8h12.6v12.6h-12.6zM335.7 242.8h12.6v12.6h-12.6zM360.2 242.8h12.6v12.6h-12.6zM384.8 242.8h12.6v12.6h-12.6zM409.3 242.8h12.6v12.6h-12.6zM397 255.1h12.6v12.6h-12.6zM433.8 255.1h12.6v12.6h-12.6zM446.1 255.1h12.6v12.6h-12.6zM372.5 267.3h12.6v12.6h-12.6zM409.3 267.3h12.6v12.6h-12.6zM298.9 279.6h12.6v12.6h-12.6zM323.4 304.1h12.6v12.6h-12.6zM446.1 304.1h12.6v12.6h-12.6zM482.9 304.1h12.6v12.6h-12.6zM237.6 316.4h12.6v12.6h-12.6zM151.8 328.7h12.6v12.6h-12.6zM323.4 328.7h12.6v12.6h-12.6zM360.2 328.7h12.6v12.6h-12.6zM188.6 340.9h12.6v12.6h-12.6zM213.1 353.2h12.6v12.6h-12.6zM298.9 353.2h12.6v12.6h-12.6zM495.1 353.2h12.6v12.6h-12.6zM372.5 365.4h12.6v12.6h-12.6zM409.3 365.4h12.6v12.6h-12.6zM593.2 365.4h12.6v12.6h-12.6zM617.7 365.4h12.6v12.6h-12.6zM249.9 377.7h12.6v12.6h-12.6zM556.4 377.7h12.6v12.6h-12.6zM568.7 377.7h12.6v12.6h-12.6zM127.3 402.2h12.6v12.6h-12.6zM397 402.2h12.6v12.6h-12.6zM323.4 414.5h12.6v12.6h-12.6zM568.7 414.5h12.6v12.6h-12.6zM225.4 426.8h12.6v12.6h-12.6zM433.8 426.8h12.6v12.6h-12.6zM507.4 426.8h12.6v12.6h-12.6zM642.3 426.8h12.6v12.6h-12.6zM335.7 439h12.6v12.6h-12.6zM593.2 439h12.6v12.6h-12.6zM446.1 451.3h12.6v12.6h-12.6zM531.9 451.3h12.6v12.6h-12.6zM740.4 451.3h12.6v12.6h-12.6zM458.3 475.8h12.6v12.6h-12.6zM470.6 475.8h12.6v12.6h-12.6zM605.5 475.8h12.6v12.6h-12.6zM311.2 488.1h12.6v12.6h-12.6zM740.4 488.1h12.6v12.6h-12.6zM298.9 500.3h12.6v12.6h-12.6zM691.3 500.3h12.6v12.6h-12.6zM311.2 512.6h12.6v12.6h-12.6zM397 512.6h12.6v12.6h-12.6zM78.2 549.4h12.6v12.6h-12.6zM728.1 549.4h12.6v12.6h-12.6zM397 561.6h12.6v12.6h-12.6zM740.4 561.6h12.6v12.6h-12.6zM752.6 561.6h12.6v12.6h-12.6zM458.3 573.9h12.6v12.6h-12.6zM642.3 573.9h12.6v12.6h-12.6zM679 573.9h12.6v12.6h-12.6zM740.4 573.9h12.6v12.6h-12.6zM863 573.9h12.6v12.6h-12.6zM237.6 586.2h12.6v12.6h-12.6zM65.9 598.4h12.6v12.6h-12.6zM176.3 598.4h12.6v12.6h-12.6zM421.5 598.4h12.6v12.6h-12.6zM127.3 610.7h12.6v12.6h-12.6zM728.1 610.7h12.6v12.6h-12.6zM850.7 647.5h12.6v12.6h-12.6zM151.8 659.7h12.6v12.6h-12.6zM115 684.3h12.6v12.6h-12.6zM127.3 684.3h12.6v12.6h-12.6zM151.8 684.3h12.6v12.6h-12.6zM237.6 708.8h12.6v12.6h-12.6zM593.2 708.8h12.6v12.6h-12.6zM237.6 721h12.6v12.6h-12.6zM286.7 745.6h12.6v12.6h-12.6zM311.2 745.6h12.6v12.6h-12.6zM237.6 757.8h12.6v12.6h-12.6zM691.3 757.8h12.6v12.6h-12.6zM286.7 770.1h12.6v12.6h-12.6zM249.9 782.3h12.6v12.6h-12.6zM666.8 782.3h12.6v12.6h-12.6zM237.6 794.6h12.6v12.6h-12.6zM384.8 831.4h12.6v12.6h-12.6z"/>
<path fill="#ab8732" d="M225.4 230.6h12.6v12.6h-12.6zM556.4 316.4h12.6v12.6h-12.6zM384.8 377.7h12.6v12.6h-12.6zM397 377.7h12.6v12.6h-12.6zM176.3 439h12.6v12.6h-12.6zM127.3 463.5h12.6v12.6h-12.6zM568.7 463.5h12.6v12.6h-12.6zM237.6 475.8h12.6v12.6h-12.6zM630 475.8h12.6v12.6h-12.6zM127.3 488.1h12.6v12.6h-12.6zM507.4 488.1h12.6v12.6h-12.6zM519.6 500.3h12.6v12.6h-12.6zM519.6 512.6h12.6v12.6h-12.6zM556.4 512.6h12.6v12.6h-12.6zM801.7 512.6h12.6v12.6h-12.6zM348 524.8h12.6v12.6h-12.6zM531.9 524.8h12.6v12.6h-12.6zM298.9 537.1h12.6v12.6h-12.6zM323.4 549.4h12.6v12.6h-12.6zM397 549.4h12.6v12.6h-12.6zM470.6 549.4h12.6v12.6h-12.6zM274.4 561.6h12.6v12.6h-12.6zM311.2 561.6h12.6v12.6h-12.6zM360.2 561.6h12.6v12.6h-12.6zM568.7 561.6h12.6v12.6h-12.6zM348 573.9h12.6v12.6h-12.6zM593.2 573.9h12.6v12.6h-12.6zM495.1 586.2h12.6v12.6h-12.6zM458.3 598.4h12.6v12.6h-12.6zM507.4 598.4h12.6v12.6h-12.6zM458.3 610.7h12.6v12.6h-12.6zM482.9 610.7h12.6v12.6h-12.6zM495.1 610.7h12.6v12.6h-12.6zM691.3 610.7h12.6v12.6h-12.6zM397 622.9h12.6v12.6h-12.6zM495.1 622.9h12.6v12.6h-12.6zM691.3 647.5h12.6v12.6h-12.6zM617.7 659.7h12.6v12.6h-12.6zM372.5 672h12.6v12.6h-12.6zM482.9 672h12.6v12.6h-12.6zM348 684.3h12.6v12.6h-12.6zM397 684.3h12.6v12.6h-12.6zM581 684.3h12.6v12.6h-12.6zM544.2 696.5h12.6v12.6h-12.6zM642.3 696.5h12.6v12.6h-12.6zM323.4 708.8h12.6v12.6h-12.6zM482.9 721h12.6v12.6h-12.6zM568.7 721h12.6v12.6h-12.6zM679 721h12.6v12.6h-12.6zM397 745.6h12.6v12.6h-12.6zM630 757.8h12.6v12.6h-12.6zM372.5 782.3h12.6v12.6h-12.6zM286.7 794.6h12.6v12.6h-12.6zM323.4 819.1h12.6v12.6h-12.6z"/>
<path fill="#b29a48" d="M176.3 279.6h12.6v12.6h-12.6zM115 439h12.6v12.6h-12.6zM176.3 451.3h12.6v12.6h-12.6zM200.8 451.3h12.6v12.6h-12.6zM581 451.3h12.6v12.6h-12.6zM139.5 463.5h12.6v12.6h-12.6zM556.4 488.1h12.6v12.6h-12.6zM249.9 512.6h12.6v12.6h-12.6zM531.9 512.6h12.6v12.6h-12.6zM556.4 524.8h12.6v12.6h-12.6zM323.4 537.1h12.6v12.6h-12.6zM581 537.1h12.6v12.6h-12.6zM213.1 549.4h12.6v12.6h-12.6zM433.8 549.4h12.6v12.6h-12.6zM409.3 561.6h12.6v12.6h-12.6zM433.8 573.9h12.6v12.6h-12.6zM372.5 586.2h12.6v12.6h-12.6zM495.1 598.4h12.6v12.6h-12.6zM617.7 610.7h12.6v12.6h-12.6zM764.9 622.9h12.6v12.6h-12.6zM875.2 622.9h12.6v12.6h-12.6zM458.3 635.2h12.6v12.6h-12.6zM531.9 647.5h12.6v12.6h-12.6zM372.5 659.7h12.6v12.6h-12.6zM863 659.7h12.6v12.6h-12.6zM556.4 672h12.6v12.6h-12.6zM593.2 672h12.6v12.6h-12.6zM458.3 684.3h12.6v12.6h-12.6zM544.2 684.3h12.6v12.6h-12.6zM421.5 696.5h12.6v12.6h-12.6zM458.3 696.5h12.6v12.6h-12.6zM458.3 721h12.6v12.6h-12.6zM507.4 721h12.6v12.6h-12.6zM531.9 721h12.6v12.6h-12.6zM691.3 721h12.6v12.6h-12.6zM752.6 721h12.6v12.6h-12.6zM335.7 733.3h12.6v12.6h-12.6zM666.8 745.6h12.6v12.6h-12.6zM715.8 745.6h12.6v12.6h-12.6zM470.6 757.8h12.6v12.6h-12.6zM666.8 757.8h12.6v12.6h-12.6zM384.8 782.3h12.6v12.6h-12.6zM372.5 794.6h12.6v12.6h-12.6zM360.2 806.9h12.6v12.6h-12.6zM372.5 806.9h12.6v12.6h-12.6zM397 806.9h12.6v12.6h-12.6zM372.5 819.1h12.6v12.6h-12.6zM286.7 831.4h12.6v12.6h-12.6zM397 831.4h12.6v12.6h-12.6z"/>
<path fill="#c9a342" d="M568.7 316.4h12.6v12.6h-12.6zM139.5 475.8h12.6v12.6h-12.6zM262.1 488.1h12.6v12.6h-12.6zM458.3 488.1h12.6v12.6h-12.6zM262.1 500.3h12.6v12.6h-12.6zM274.4 512.6h12.6v12.6h-12.6zM593.2 512.6h12.6v12.6h-12.6zM323.4 524.8h12.6v12.6h-12.6zM384.8 524.8h12.6v12.6h-12.6zM568.7 524.8h12.6v12.6h-12.6zM581 524.8h12.6v12.6h-12.6zM519.6 537.1h12.6v12.6h-12.6zM372.5 561.6h12.6v12.6h-12.6zM433.8 561.6h12.6v12.6h-12.6zM519.6 561.6h12.6v12.6h-12.6zM593.2 561.6h12.6v12.6h-12.6zM507.4 573.9h12.6v12.6h-12.6zM703.6 598.4h12.6v12.6h-12.6zM409.3 610.7h12.6v12.6h-12.6zM519.6 610.7h12.6v12.6h-12.6zM544.2 610.7h12.6v12.6h-12.6zM556.4 622.9h12.6v12.6h-12.6zM752.6 635.2h12.6v12.6h-12.6zM433.8 659.7h12.6v12.6h-12.6zM752.6 659.7h12.6v12.6h-12.6zM605.5 672h12.6v12.6h-12.6zM372.5 696.5h12.6v12.6h-12.6zM482.9 696.5h12.6v12.6h-12.6zM728.1 696.5h12.6v12.6h-12.6zM826.2 696.5h12.6v12.6h-12.6zM372.5 708.8h12.6v12.6h-12.6zM581 708.8h12.6v12.6h-12.6zM666.8 708.8h12.6v12.6h-12.6zM728.1 708.8h12.6v12.6h-12.6zM409.3 721h12.6v12.6h-12.6zM519.6 721h12.6v12.6h-12.6zM654.5 721h12.6v12.6h-12.6zM740.4 721h12.6v12.6h-12.6zM360.2 745.6h12.6v12.6h-12.6zM458.3 757.8h12.6v12.6h-12.6zM433.8 782.3h12.6v12.6h-12.6zM348 794.6h12.6v12.6h-12.6zM495.1 794.6h12.6v12.6h-12.6zM519.6 794.6h12.6v12.6h-12.6zM335.7 806.9h12.6v12.6h-12.6zM286.7 819.1h12.6v12.6h-12.6zM397 819.1h12.6v12.6h-12.6z"/>
<path fill="#bb9538" d="M568.7 328.7h12.6v12.6h-12.6zM507.4 402.2h12.6v12.6h-12.6zM188.6 414.5h12.6v12.6h-12.6zM507.4 414.5h12.6v12.6h-12.6zM593.2 451.3h12.6v12.6h-12.6zM213.1 463.5h12.6v12.6h-12.6zM102.7 488.1h12.6v12.6h-12.6zM544.2 488.1h12.6v12.6h-12.6zM581 488.1h12.6v12.6h-12.6zM102.7 500.3h12.6v12.6h-12.6zM237.6 500.3h12.6v12.6h-12.6zM482.9 500.3h12.6v12.6h-12.6zM213.1 524.8h12.6v12.6h-12.6zM433.8 524.8h12.6v12.6h-12.6zM311.2 537.1h12.6v12.6h-12.6zM421.5 537.1h12.6v12.6h-12.6zM298.9 549.4h12.6v12.6h-12.6zM348 549.4h12.6v12.6h-12.6zM446.1 549.4h12.6v12.6h-12.6zM544.2 549.4h12.6v12.6h-12.6zM593.2 549.4h12.6v12.6h-12.6zM679 549.4h12.6v12.6h-12.6zM544.2 561.6h12.6v12.6h-12.6zM384.8 573.9h12.6v12.6h-12.6zM519.6 598.4h12.6v12.6h-12.6zM715.8 622.9h12.6v12.6h-12.6zM593.2 647.5h12.6v12.6h-12.6zM630 647.5h12.6v12.6h-12.6zM531.9 659.7h12.6v12.6h-12.6zM421.5 672h12.6v12.6h-12.6zM433.8 672h12.6v12.6h-12.6zM531.9 672h12.6v12.6h-12.6zM654.5 672h12.6v12.6h-12.6zM752.6 672h12.6v12.6h-12.6zM764.9 672h12.6v12.6h-12.6zM421.5 684.3h12.6v12.6h-12.6zM519.6 684.3h12.6v12.6h-12.6zM605.5 684.3h12.6v12.6h-12.6zM630 684.3h12.6v12.6h-12.6zM654.5 684.3h12.6v12.6h-12.6zM568.7 696.5h12.6v12.6h-12.6zM593.2 696.5h12.6v12.6h-12.6zM433.8 708.8h12.6v12.6h-12.6zM470.6 708.8h12.6v12.6h-12.6zM556.4 708.8h12.6v12.6h-12.6zM617.7 708.8h12.6v12.6h-12.6zM360.2 721h12.6v12.6h-12.6zM495.1 721h12.6v12.6h-12.6zM470.6 733.3h12.6v12.6h-12.6zM703.6 733.3h12.6v12.6h-12.6zM752.6 733.3h12.6v12.6h-12.6zM421.5 770.1h12.6v12.6h-12.6zM348 782.3h12.6v12.6h-12.6zM360.2 782.3h12.6v12.6h-12.6zM446.1 782.3h12.6v12.6h-12.6zM397 794.6h12.6v12.6h-12.6zM446.1 794.6h12.6v12.6h-12.6zM446.1 819.1h12.6v12.6h-12.6zM323.4 831.4h12.6v12.6h-12.6z"/>
<path fill="#d9a945" d="M581 328.7h12.6v12.6h-12.6zM213.1 365.4h12.6v12.6h-12.6zM102.7 439h12.6v12.6h-12.6zM200.8 475.8h12.6v12.6h-12.6zM262.1 475.8h12.6v12.6h-12.6zM139.5 488.1h12.6v12.6h-12.6zM274.4 500.3h12.6v12.6h-12.6zM531.9 500.3h12.6v12.6h-12.6zM213.1 512.6h12.6v12.6h-12.6zM237.6 512.6h12.6v12.6h-12.6zM384.8 512.6h12.6v12.6h-12.6zM421.5 524.8h12.6v12.6h-12.6zM348 537.1h12.6v12.6h-12.6zM213.1 561.6h12.6v12.6h-12.6zM360.2 573.9h12.6v12.6h-12.6zM581 573.9h12.6v12.6h-12.6zM433.8 586.2h12.6v12.6h-12.6zM446.1 598.4h12.6v12.6h-12.6zM630 598.4h12.6v12.6h-12.6zM531.9 610.7h12.6v12.6h-12.6zM703.6 610.7h12.6v12.6h-12.6zM507.4 622.9h12.6v12.6h-12.6zM654.5 622.9h12.6v12.6h-12.6zM372.5 635.2h12.6v12.6h-12.6zM654.5 635.2h12.6v12.6h-12.6zM691.3 635.2h12.6v12.6h-12.6zM372.5 647.5h12.6v12.6h-12.6zM482.9 647.5h12.6v12.6h-12.6zM863 647.5h12.6v12.6h-12.6zM507.4 659.7h12.6v12.6h-12.6zM568.7 659.7h12.6v12.6h-12.6zM593.2 659.7h12.6v12.6h-12.6zM703.6 672h12.6v12.6h-12.6zM384.8 684.3h12.6v12.6h-12.6zM446.1 684.3h12.6v12.6h-12.6zM470.6 684.3h12.6v12.6h-12.6zM568.7 684.3h12.6v12.6h-12.6zM740.4 684.3h12.6v12.6h-12.6zM519.6 696.5h12.6v12.6h-12.6zM531.9 696.5h12.6v12.6h-12.6zM691.3 696.5h12.6v12.6h-12.6zM630 708.8h12.6v12.6h-12.6zM740.4 708.8h12.6v12.6h-12.6zM323.4 721h12.6v12.6h-12.6zM433.8 721h12.6v12.6h-12.6zM372.5 745.6h12.6v12.6h-12.6zM605.5 745.6h12.6v12.6h-12.6zM630 745.6h12.6v12.6h-12.6zM323.4 757.8h12.6v12.6h-12.6zM495.1 770.1h12.6v12.6h-12.6zM335.7 794.6h12.6v12.6h-12.6zM286.7 806.9h12.6v12.6h-12.6zM335.7 831.4h12.6v12.6h-12.6z"/>
<path fill="#c0a044" d="M556.4 340.9h12.6v12.6h-12.6zM164 426.8h12.6v12.6h-12.6zM176.3 426.8h12.6v12.6h-12.6zM213.1 451.3h12.6v12.6h-12.6zM409.3 488.1h12.6v12.6h-12.6zM409.3 500.3h12.6v12.6h-12.6zM446.1 500.3h12.6v12.6h-12.6zM495.1 500.3h12.6v12.6h-12.6zM286.7 512.6h12.6v12.6h-12.6zM495.1 512.6h12.6v12.6h-12.6zM286.7 524.8h12.6v12.6h-12.6zM519.6 524.8h12.6v12.6h-12.6zM274.4 537.1h12.6v12.6h-12.6zM335.7 549.4h12.6v12.6h-12.6zM372.5 549.4h12.6v12.6h-12.6zM409.3 549.4h12.6v12.6h-12.6zM421.5 549.4h12.6v12.6h-12.6zM654.5 549.4h12.6v12.6h-12.6zM262.1 561.6h12.6v12.6h-12.6zM286.7 561.6h12.6v12.6h-12.6zM335.7 561.6h12.6v12.6h-12.6zM654.5 561.6h12.6v12.6h-12.6zM728.1 561.6h12.6v12.6h-12.6zM384.8 586.2h12.6v12.6h-12.6zM372.5 598.4h12.6v12.6h-12.6zM581 598.4h12.6v12.6h-12.6zM605.5 598.4h12.6v12.6h-12.6zM630 610.7h12.6v12.6h-12.6zM519.6 622.9h12.6v12.6h-12.6zM752.6 622.9h12.6v12.6h-12.6zM384.8 635.2h12.6v12.6h-12.6zM397 647.5h12.6v12.6h-12.6zM581 647.5h12.6v12.6h-12.6zM740.4 659.7h12.6v12.6h-12.6zM850.7 659.7h12.6v12.6h-12.6zM372.5 684.3h12.6v12.6h-12.6zM433.8 684.3h12.6v12.6h-12.6zM482.9 684.3h12.6v12.6h-12.6zM838.5 684.3h12.6v12.6h-12.6zM752.6 696.5h12.6v12.6h-12.6zM654.5 708.8h12.6v12.6h-12.6zM715.8 721h12.6v12.6h-12.6zM323.4 733.3h12.6v12.6h-12.6zM323.4 745.6h12.6v12.6h-12.6zM348 770.1h12.6v12.6h-12.6zM397 770.1h12.6v12.6h-12.6zM323.4 782.3h12.6v12.6h-12.6zM482.9 794.6h12.6v12.6h-12.6zM323.4 806.9h12.6v12.6h-12.6zM495.1 806.9h12.6v12.6h-12.6zM348 819.1h12.6v12.6h-12.6z"/>
<path fill="#6cc6ba" d="M164 365.4h12.6v12.6h-12.6zM164 377.7h12.6v12.6h-12.6zM53.7 721h12.6v12.6h-12.6z"/>
<path fill="#d4ad4e" d="M507.4 390h12.6v12.6h-12.6zM164 439h12.6v12.6h-12.6zM164 451.3h12.6v12.6h-12.6zM237.6 451.3h12.6v12.6h-12.6zM176.3 463.5h12.6v12.6h-12.6zM200.8 463.5h12.6v12.6h-12.6zM249.9 475.8h12.6v12.6h-12.6zM274.4 475.8h12.6v12.6h-12.6zM372.5 488.1h12.6v12.6h-12.6zM470.6 488.1h12.6v12.6h-12.6zM519.6 488.1h12.6v12.6h-12.6zM813.9 488.1h12.6v12.6h-12.6zM544.2 512.6h12.6v12.6h-12.6zM274.4 524.8h12.6v12.6h-12.6zM335.7 524.8h12.6v12.6h-12.6zM593.2 537.1h12.6v12.6h-12.6zM311.2 549.4h12.6v12.6h-12.6zM740.4 549.4h12.6v12.6h-12.6zM421.5 561.6h12.6v12.6h-12.6zM581 561.6h12.6v12.6h-12.6zM421.5 610.7h12.6v12.6h-12.6zM715.8 610.7h12.6v12.6h-12.6zM433.8 622.9h12.6v12.6h-12.6zM544.2 622.9h12.6v12.6h-12.6zM679 622.9h12.6v12.6h-12.6zM446.1 647.5h12.6v12.6h-12.6zM679 647.5h12.6v12.6h-12.6zM715.8 647.5h12.6v12.6h-12.6zM764.9 647.5h12.6v12.6h-12.6zM409.3 684.3h12.6v12.6h-12.6zM507.4 684.3h12.6v12.6h-12.6zM433.8 696.5h12.6v12.6h-12.6zM421.5 708.8h12.6v12.6h-12.6zM458.3 708.8h12.6v12.6h-12.6zM482.9 708.8h12.6v12.6h-12.6zM519.6 708.8h12.6v12.6h-12.6zM605.5 708.8h12.6v12.6h-12.6zM642.3 708.8h12.6v12.6h-12.6zM421.5 721h12.6v12.6h-12.6zM764.9 721h12.6v12.6h-12.6zM372.5 733.3h12.6v12.6h-12.6zM482.9 757.8h12.6v12.6h-12.6zM617.7 757.8h12.6v12.6h-12.6zM715.8 757.8h12.6v12.6h-12.6zM384.8 770.1h12.6v12.6h-12.6zM482.9 770.1h12.6v12.6h-12.6zM421.5 782.3h12.6v12.6h-12.6zM458.3 782.3h12.6v12.6h-12.6zM311.2 794.6h12.6v12.6h-12.6zM323.4 794.6h12.6v12.6h-12.6zM384.8 794.6h12.6v12.6h-12.6zM421.5 794.6h12.6v12.6h-12.6zM446.1 806.9h12.6v12.6h-12.6zM470.6 806.9h12.6v12.6h-12.6zM298.9 819.1h12.6v12.6h-12.6zM348 831.4h12.6v12.6h-12.6z"/>
<path fill="#a99140" d="M519.6 390h12.6v12.6h-12.6zM151.8 426.8h12.6v12.6h-12.6zM495.1 426.8h12.6v12.6h-12.6zM188.6 439h12.6v12.6h-12.6zM225.4 463.5h12.6v12.6h-12.6zM139.5 500.3h12.6v12.6h-12.6zM225.4 500.3h12.6v12.6h-12.6zM249.9 500.3h12.6v12.6h-12.6zM286.7 500.3h12.6v12.6h-12.6zM617.7 500.3h12.6v12.6h-12.6zM372.5 524.8h12.6v12.6h-12.6zM225.4 537.1h12.6v12.6h-12.6zM507.4 537.1h12.6v12.6h-12.6zM274.4 549.4h12.6v12.6h-12.6zM298.9 561.6h12.6v12.6h-12.6zM495.1 561.6h12.6v12.6h-12.6zM372.5 573.9h12.6v12.6h-12.6zM715.8 586.2h12.6v12.6h-12.6zM470.6 598.4h12.6v12.6h-12.6zM728.1 598.4h12.6v12.6h-12.6zM372.5 610.7h12.6v12.6h-12.6zM397 610.7h12.6v12.6h-12.6zM666.8 635.2h12.6v12.6h-12.6zM715.8 659.7h12.6v12.6h-12.6zM728.1 659.7h12.6v12.6h-12.6zM384.8 672h12.6v12.6h-12.6zM458.3 672h12.6v12.6h-12.6zM507.4 672h12.6v12.6h-12.6zM728.1 672h12.6v12.6h-12.6zM495.1 684.3h12.6v12.6h-12.6zM593.2 684.3h12.6v12.6h-12.6zM397 696.5h12.6v12.6h-12.6zM446.1 696.5h12.6v12.6h-12.6zM470.6 696.5h12.6v12.6h-12.6zM360.2 708.8h12.6v12.6h-12.6zM409.3 708.8h12.6v12.6h-12.6zM348 721h12.6v12.6h-12.6zM593.2 721h12.6v12.6h-12.6zM335.7 745.6h12.6v12.6h-12.6zM409.3 745.6h12.6v12.6h-12.6zM470.6 745.6h12.6v12.6h-12.6zM642.3 745.6h12.6v12.6h-12.6zM740.4 745.6h12.6v12.6h-12.6zM335.7 757.8h12.6v12.6h-12.6zM507.4 757.8h12.6v12.6h-12.6zM360.2 794.6h12.6v12.6h-12.6z"/>
<path fill="#db734b" d="M568.7 451.3h12.6v12.6h-12.6zM433.8 512.6h12.6v12.6h-12.6zM482.9 549.4h12.6v12.6h-12.6zM519.6 549.4h12.6v12.6h-12.6zM507.4 561.6h12.6v12.6h-12.6zM519.6 573.9h12.6v12.6h-12.6zM213.1 586.2h12.6v12.6h-12.6zM531.9 598.4h12.6v12.6h-12.6zM446.1 610.7h12.6v12.6h-12.6zM470.6 610.7h12.6v12.6h-12.6zM360.2 622.9h12.6v12.6h-12.6zM458.3 622.9h12.6v12.6h-12.6zM605.5 622.9h12.6v12.6h-12.6zM617.7 622.9h12.6v12.6h-12.6zM397 635.2h12.6v12.6h-12.6zM482.9 635.2h12.6v12.6h-12.6zM556.4 635.2h12.6v12.6h-12.6zM605.5 635.2h12.6v12.6h-12.6zM470.6 647.5h12.6v12.6h-12.6zM495.1 647.5h12.6v12.6h-12.6zM519.6 647.5h12.6v12.6h-12.6zM556.4 647.5h12.6v12.6h-12.6zM642.3 647.5h12.6v12.6h-12.6zM654.5 647.5h12.6v12.6h-12.6zM482.9 659.7h12.6v12.6h-12.6zM397 672h12.6v12.6h-12.6zM715.8 708.8h12.6v12.6h-12.6zM764.9 708.8h12.6v12.6h-12.6zM384.8 721h12.6v12.6h-12.6zM397 733.3h12.6v12.6h-12.6zM409.3 733.3h12.6v12.6h-12.6zM507.4 733.3h12.6v12.6h-12.6zM728.1 733.3h12.6v12.6h-12.6zM764.9 733.3h12.6v12.6h-12.6zM764.9 745.6h12.6v12.6h-12.6zM519.6 757.8h12.6v12.6h-12.6zM728.1 757.8h12.6v12.6h-12.6zM752.6 757.8h12.6v12.6h-12.6z"/>
<path fill="#e5845e" d="M581 463.5h12.6v12.6h-12.6zM421.5 500.3h12.6v12.6h-12.6zM298.9 524.8h12.6v12.6h-12.6zM458.3 524.8h12.6v12.6h-12.6zM666.8 549.4h12.6v12.6h-12.6zM470.6 561.6h12.6v12.6h-12.6zM200.8 573.9h12.6v12.6h-12.6zM495.1 573.9h12.6v12.6h-12.6zM544.2 598.4h12.6v12.6h-12.6zM568.7 598.4h12.6v12.6h-12.6zM581 610.7h12.6v12.6h-12.6zM433.8 635.2h12.6v12.6h-12.6zM617.7 635.2h12.6v12.6h-12.6zM544.2 647.5h12.6v12.6h-12.6zM421.5 659.7h12.6v12.6h-12.6zM495.1 659.7h12.6v12.6h-12.6zM556.4 659.7h12.6v12.6h-12.6zM679 684.3h12.6v12.6h-12.6zM703.6 684.3h12.6v12.6h-12.6zM715.8 684.3h12.6v12.6h-12.6zM752.6 708.8h12.6v12.6h-12.6zM470.6 721h12.6v12.6h-12.6zM433.8 733.3h12.6v12.6h-12.6zM458.3 733.3h12.6v12.6h-12.6zM715.8 733.3h12.6v12.6h-12.6zM348 745.6h12.6v12.6h-12.6zM384.8 745.6h12.6v12.6h-12.6zM421.5 745.6h12.6v12.6h-12.6zM433.8 745.6h12.6v12.6h-12.6zM446.1 745.6h12.6v12.6h-12.6zM507.4 794.6h12.6v12.6h-12.6z"/>
<path fill="#df7850" d="M151.8 475.8h12.6v12.6h-12.6zM421.5 488.1h12.6v12.6h-12.6zM433.8 500.3h12.6v12.6h-12.6zM458.3 512.6h12.6v12.6h-12.6zM446.1 524.8h12.6v12.6h-12.6zM446.1 537.1h12.6v12.6h-12.6zM482.9 537.1h12.6v12.6h-12.6zM495.1 537.1h12.6v12.6h-12.6zM446.1 561.6h12.6v12.6h-12.6zM482.9 561.6h12.6v12.6h-12.6zM446.1 573.9h12.6v12.6h-12.6zM531.9 573.9h12.6v12.6h-12.6zM544.2 573.9h12.6v12.6h-12.6zM446.1 586.2h12.6v12.6h-12.6zM519.6 586.2h12.6v12.6h-12.6zM531.9 586.2h12.6v12.6h-12.6zM507.4 610.7h12.6v12.6h-12.6zM568.7 610.7h12.6v12.6h-12.6zM593.2 610.7h12.6v12.6h-12.6zM446.1 622.9h12.6v12.6h-12.6zM581 622.9h12.6v12.6h-12.6zM470.6 635.2h12.6v12.6h-12.6zM495.1 635.2h12.6v12.6h-12.6zM409.3 647.5h12.6v12.6h-12.6zM507.4 647.5h12.6v12.6h-12.6zM617.7 647.5h12.6v12.6h-12.6zM458.3 659.7h12.6v12.6h-12.6zM470.6 659.7h12.6v12.6h-12.6zM519.6 659.7h12.6v12.6h-12.6zM642.3 659.7h12.6v12.6h-12.6zM654.5 659.7h12.6v12.6h-12.6zM666.8 659.7h12.6v12.6h-12.6zM691.3 672h12.6v12.6h-12.6zM397 708.8h12.6v12.6h-12.6zM507.4 708.8h12.6v12.6h-12.6zM813.9 708.8h12.6v12.6h-12.6zM397 721h12.6v12.6h-12.6zM446.1 721h12.6v12.6h-12.6zM801.7 721h12.6v12.6h-12.6zM482.9 733.3h12.6v12.6h-12.6zM777.1 733.3h12.6v12.6h-12.6zM458.3 745.6h12.6v12.6h-12.6zM495.1 745.6h12.6v12.6h-12.6zM519.6 745.6h12.6v12.6h-12.6zM495.1 757.8h12.6v12.6h-12.6zM519.6 770.1h12.6v12.6h-12.6zM348 806.9h12.6v12.6h-12.6z"/>
<path fill="#ea8c67" d="M433.8 488.1h12.6v12.6h-12.6zM470.6 524.8h12.6v12.6h-12.6zM458.3 537.1h12.6v12.6h-12.6zM495.1 549.4h12.6v12.6h-12.6zM507.4 549.4h12.6v12.6h-12.6zM458.3 586.2h12.6v12.6h-12.6zM507.4 586.2h12.6v12.6h-12.6zM544.2 586.2h12.6v12.6h-12.6zM482.9 598.4h12.6v12.6h-12.6zM556.4 598.4h12.6v12.6h-12.6zM556.4 610.7h12.6v12.6h-12.6zM482.9 622.9h12.6v12.6h-12.6zM531.9 622.9h12.6v12.6h-12.6zM593.2 622.9h12.6v12.6h-12.6zM409.3 635.2h12.6v12.6h-12.6zM446.1 635.2h12.6v12.6h-12.6zM519.6 635.2h12.6v12.6h-12.6zM593.2 635.2h12.6v12.6h-12.6zM630 635.2h12.6v12.6h-12.6zM642.3 635.2h12.6v12.6h-12.6zM458.3 647.5h12.6v12.6h-12.6zM666.8 647.5h12.6v12.6h-12.6zM409.3 659.7h12.6v12.6h-12.6zM446.1 659.7h12.6v12.6h-12.6zM679 672h12.6v12.6h-12.6zM691.3 684.3h12.6v12.6h-12.6zM728.1 684.3h12.6v12.6h-12.6zM384.8 696.5h12.6v12.6h-12.6zM495.1 696.5h12.6v12.6h-12.6zM740.4 696.5h12.6v12.6h-12.6zM384.8 708.8h12.6v12.6h-12.6zM495.1 708.8h12.6v12.6h-12.6zM728.1 721h12.6v12.6h-12.6zM384.8 733.3h12.6v12.6h-12.6zM495.1 733.3h12.6v12.6h-12.6zM617.7 733.3h12.6v12.6h-12.6zM507.4 745.6h12.6v12.6h-12.6zM752.6 745.6h12.6v12.6h-12.6zM384.8 757.8h12.6v12.6h-12.6zM397 757.8h12.6v12.6h-12.6z"/>
<path fill="#e47e57" d="M446.1 512.6h12.6v12.6h-12.6zM470.6 537.1h12.6v12.6h-12.6zM531.9 561.6h12.6v12.6h-12.6zM470.6 573.9h12.6v12.6h-12.6zM482.9 586.2h12.6v12.6h-12.6zM556.4 586.2h12.6v12.6h-12.6zM421.5 635.2h12.6v12.6h-12.6zM507.4 635.2h12.6v12.6h-12.6zM531.9 635.2h12.6v12.6h-12.6zM544.2 635.2h12.6v12.6h-12.6zM421.5 647.5h12.6v12.6h-12.6zM433.8 647.5h12.6v12.6h-12.6zM397 659.7h12.6v12.6h-12.6zM544.2 659.7h12.6v12.6h-12.6zM679 659.7h12.6v12.6h-12.6zM507.4 696.5h12.6v12.6h-12.6zM703.6 696.5h12.6v12.6h-12.6zM715.8 696.5h12.6v12.6h-12.6zM605.5 721h12.6v12.6h-12.6zM348 733.3h12.6v12.6h-12.6zM421.5 733.3h12.6v12.6h-12.6zM446.1 733.3h12.6v12.6h-12.6zM519.6 733.3h12.6v12.6h-12.6zM605.5 733.3h12.6v12.6h-12.6zM789.4 733.3h12.6v12.6h-12.6zM801.7 733.3h12.6v12.6h-12.6zM482.9 745.6h12.6v12.6h-12.6zM728.1 745.6h12.6v12.6h-12.6zM764.9 757.8h12.6v12.6h-12.6zM470.6 782.3h12.6v12.6h-12.6z"/>
<path fill="#8fd27f" d="M470.6 512.6h12.6v12.6h-12.6zM507.4 770.1h12.6v12.6h-12.6zM507.4 782.3h12.6v12.6h-12.6z"/>
</g>
<clipPath id="mc"><path d="M261.2 119.3H324.3V133.4H261.2zM261.2 131.6H336.6V145.6H261.2zM249 143.8H348.9V157.9H249zM249 156.1H373.4V170.1H249zM236.7 168.3H385.7V182.4H236.7zM236.7 180.6H410.2V194.7H236.7zM224.5 192.9H422.4V206.9H224.5zM224.5 205.1H434.7V219.2H224.5zM212.2 217.4H459.2V231.5H212.2zM212.2 229.7H471.5V243.7H212.2zM199.9 241.9H496V256H199.9zM187.7 254.2H508.3V268.2H187.7zM187.7 266.4H532.8V280.5H187.7zM175.4 278.7H545.1V292.8H175.4zM175.4 291H557.3V305H175.4zM163.1 303.2H581.9V317.3H163.1zM163.1 315.5H594.1V329.6H163.1zM150.9 327.8H618.6V341.8H150.9zM150.9 340H630.9V354.1H150.9zM138.6 352.3H643.2V366.3H138.6zM138.6 364.5H667.7V378.6H138.6zM126.4 376.8H679.9V390.9H126.4zM126.4 389.1H704.5V403.1H126.4zM114.1 401.3H716.7V415.4H114.1zM101.8 413.6H729V427.6H101.8zM101.8 425.9H753.5V439.9H101.8zM89.6 438.1H765.8V452.2H89.6zM89.6 450.4H790.3V464.4H89.6zM77.3 462.6H802.6V476.7H77.3zM77.3 474.9H814.8V489H77.3zM65 487.2H839.4V501.2H65zM65 499.4H851.6V513.5H65zM52.8 511.7H876.1V525.7H52.8zM52.8 523.9H888.4V538H52.8zM40.5 536.2H891.9V550.3H40.5zM40.5 548.5H891.9V562.5H40.5zM28.3 560.7H891.9V574.8H28.3zM17.3 573H891.9V587.1H17.3zM17.3 585.3H891.9V599.3H17.3zM17.3 597.5H891.9V611.6H17.3zM17.3 609.8H891.9V623.8H17.3zM17.3 622H891.9V636.1H17.3zM28.3 634.3H888.4V648.4H28.3zM28.3 646.6H888.4V660.6H28.3zM28.3 658.8H876.1V672.9H28.3zM28.3 671.1H863.9V685.2H28.3zM28.3 683.4H863.9V697.4H28.3zM28.3 695.6H851.6V709.7H28.3zM40.5 707.9H839.4V721.9H40.5zM40.5 720.1H839.4V734.2H40.5zM126.4 732.4H814.8V746.5H126.4zM150.9 744.7H802.6V758.7H150.9zM163.1 756.9H778V771H163.1zM187.7 769.2H765.8V783.2H187.7zM199.9 781.4H741.3V795.5H199.9zM224.5 793.7H679.9V807.8H224.5zM236.7 806H630.9V820H236.7zM261.2 818.2H545.1V832.3H261.2zM273.5 830.5H410.2V844.6H273.5z"/></clipPath>
<g clip-path="url(#mc)">
<rect x="10" y="112" width="890" height="740" fill="url(#st)"/>
<rect x="10" y="112" width="890" height="740" fill="url(#st2)"/>
<path fill="#5a4a2a" fill-opacity=".22" d="M311.2 120.2l12.3 0l-12.3 12.3zM262.1 132.5l12.3 0l-12.3 12.3zM274.4 132.5l12.3 0l-12.3 12.3zM298.9 144.7l0 -12.3l-12.3 12.3zM311.2 144.7l0 -12.3l-12.3 12.3zM274.4 157l0 -12.3l-12.3 12.3zM360.2 157l12.3 0l-12.3 12.3zM249.9 181.5l0 -12.3l-12.3 12.3zM360.2 181.5l0 -12.3l-12.3 12.3zM335.7 181.5l12.3 0l-12.3 12.3zM397 193.8l0 -12.3l-12.3 12.3zM225.4 206l12.3 0l-12.3 12.3zM421.5 206l12.3 0l-12.3 12.3zM237.6 242.8l0 -12.3l-12.3 12.3zM237.6 255.1l0 -12.3l-12.3 12.3zM274.4 242.8l12.3 0l-12.3 12.3zM323.4 267.3l0 -12.3l-12.3 12.3zM323.4 255.1l12.3 0l-12.3 12.3zM384.8 255.1l12.3 0l-12.3 12.3zM495.1 267.3l0 -12.3l-12.3 12.3zM200.8 279.6l0 -12.3l-12.3 12.3zM213.1 279.6l0 -12.3l-12.3 12.3zM323.4 279.6l0 -12.3l-12.3 12.3zM262.1 291.9l0 -12.3l-12.3 12.3zM274.4 279.6l12.3 0l-12.3 12.3zM495.1 279.6l12.3 0l-12.3 12.3zM262.1 291.9l12.3 0l-12.3 12.3zM335.7 291.9l12.3 0l-12.3 12.3zM286.7 304.1l12.3 0l-12.3 12.3zM298.9 304.1l12.3 0l-12.3 12.3zM482.9 316.4l0 -12.3l-12.3 12.3zM556.4 316.4l0 -12.3l-12.3 12.3zM262.1 328.7l0 -12.3l-12.3 12.3zM556.4 316.4l12.3 0l-12.3 12.3zM286.7 328.7l12.3 0l-12.3 12.3zM323.4 340.9l0 -12.3l-12.3 12.3zM556.4 340.9l0 -12.3l-12.3 12.3zM581 340.9l0 -12.3l-12.3 12.3zM164 340.9l12.3 0l-12.3 12.3zM249.9 353.2l0 -12.3l-12.3 12.3zM311.2 340.9l12.3 0l-12.3 12.3zM384.8 340.9l12.3 0l-12.3 12.3zM421.5 340.9l12.3 0l-12.3 12.3zM531.9 353.2l0 -12.3l-12.3 12.3zM531.9 340.9l12.3 0l-12.3 12.3zM151.8 353.2l12.3 0l-12.3 12.3zM200.8 365.4l0 -12.3l-12.3 12.3zM409.3 353.2l12.3 0l-12.3 12.3zM544.2 353.2l12.3 0l-12.3 12.3zM581 353.2l12.3 0l-12.3 12.3zM605.5 365.4l0 -12.3l-12.3 12.3zM262.1 377.7l0 -12.3l-12.3 12.3zM286.7 377.7l0 -12.3l-12.3 12.3zM298.9 377.7l0 -12.3l-12.3 12.3zM421.5 365.4l12.3 0l-12.3 12.3zM311.2 390l0 -12.3l-12.3 12.3zM384.8 390l0 -12.3l-12.3 12.3zM384.8 377.7l12.3 0l-12.3 12.3zM433.8 390l0 -12.3l-12.3 12.3zM446.1 377.7l12.3 0l-12.3 12.3zM458.3 377.7l12.3 0l-12.3 12.3zM482.9 390l0 -12.3l-12.3 12.3zM482.9 377.7l12.3 0l-12.3 12.3zM495.1 377.7l12.3 0l-12.3 12.3zM593.2 377.7l12.3 0l-12.3 12.3zM617.7 390l0 -12.3l-12.3 12.3zM225.4 402.2l0 -12.3l-12.3 12.3zM249.9 390l12.3 0l-12.3 12.3zM286.7 402.2l0 -12.3l-12.3 12.3zM335.7 402.2l0 -12.3l-12.3 12.3zM458.3 402.2l0 -12.3l-12.3 12.3zM470.6 390l12.3 0l-12.3 12.3zM581 390l12.3 0l-12.3 12.3zM605.5 390l12.3 0l-12.3 12.3zM115 402.2l12.3 0l-12.3 12.3zM188.6 414.5l0 -12.3l-12.3 12.3zM188.6 402.2l12.3 0l-12.3 12.3zM200.8 402.2l12.3 0l-12.3 12.3zM213.1 402.2l12.3 0l-12.3 12.3zM249.9 414.5l0 -12.3l-12.3 12.3zM446.1 414.5l0 -12.3l-12.3 12.3zM507.4 414.5l0 -12.3l-12.3 12.3zM593.2 414.5l0 -12.3l-12.3 12.3zM691.3 414.5l0 -12.3l-12.3 12.3zM200.8 414.5l12.3 0l-12.3 12.3zM249.9 426.8l0 -12.3l-12.3 12.3zM507.4 426.8l0 -12.3l-12.3 12.3zM507.4 414.5l12.3 0l-12.3 12.3zM531.9 426.8l0 -12.3l-12.3 12.3zM556.4 414.5l12.3 0l-12.3 12.3zM630 414.5l12.3 0l-12.3 12.3zM115 426.8l12.3 0l-12.3 12.3zM164 439l0 -12.3l-12.3 12.3zM188.6 426.8l12.3 0l-12.3 12.3zM323.4 439l0 -12.3l-12.3 12.3zM433.8 439l0 -12.3l-12.3 12.3zM519.6 426.8l12.3 0l-12.3 12.3zM544.2 426.8l12.3 0l-12.3 12.3zM630 439l0 -12.3l-12.3 12.3zM691.3 426.8l12.3 0l-12.3 12.3zM728.1 439l0 -12.3l-12.3 12.3zM139.5 451.3l0 -12.3l-12.3 12.3zM213.1 451.3l0 -12.3l-12.3 12.3zM249.9 439l12.3 0l-12.3 12.3zM323.4 439l12.3 0l-12.3 12.3zM360.2 439l12.3 0l-12.3 12.3zM531.9 451.3l0 -12.3l-12.3 12.3zM544.2 439l12.3 0l-12.3 12.3zM642.3 439l12.3 0l-12.3 12.3zM703.6 439l12.3 0l-12.3 12.3zM752.6 451.3l0 -12.3l-12.3 12.3zM102.7 451.3l12.3 0l-12.3 12.3zM176.3 451.3l12.3 0l-12.3 12.3zM262.1 451.3l12.3 0l-12.3 12.3zM286.7 451.3l12.3 0l-12.3 12.3zM570.7 453.3l7.3 0l-7.3 7.3zM581 451.3l12.3 0l-12.3 12.3zM642.3 451.3l12.3 0l-12.3 12.3zM666.8 463.5l0 -12.3l-12.3 12.3zM127.3 475.8l0 -12.3l-12.3 12.3zM127.3 463.5l12.3 0l-12.3 12.3zM176.3 463.5l12.3 0l-12.3 12.3zM360.2 463.5l12.3 0l-12.3 12.3zM384.8 475.8l0 -12.3l-12.3 12.3zM507.4 475.8l0 -12.3l-12.3 12.3zM531.9 475.8l0 -12.3l-12.3 12.3zM583 465.5l7.3 0l-7.3 7.3zM617.7 475.8l0 -12.3l-12.3 12.3zM630 463.5l12.3 0l-12.3 12.3zM691.3 475.8l0 -12.3l-12.3 12.3zM752.6 475.8l0 -12.3l-12.3 12.3zM801.7 475.8l0 -12.3l-12.3 12.3zM78.2 475.8l12.3 0l-12.3 12.3zM188.6 488.1l0 -12.3l-12.3 12.3zM225.4 475.8l12.3 0l-12.3 12.3zM274.4 488.1l0 -12.3l-12.3 12.3zM274.4 475.8l12.3 0l-12.3 12.3zM348 488.1l0 -12.3l-12.3 12.3zM495.1 475.8l12.3 0l-12.3 12.3zM507.4 475.8l12.3 0l-12.3 12.3zM568.7 488.1l0 -12.3l-12.3 12.3zM593.2 475.8l12.3 0l-12.3 12.3zM642.3 475.8l12.3 0l-12.3 12.3zM666.8 488.1l0 -12.3l-12.3 12.3zM764.9 488.1l0 -12.3l-12.3 12.3zM801.7 488.1l0 -12.3l-12.3 12.3zM139.5 500.3l0 -12.3l-12.3 12.3zM188.6 500.3l0 -12.3l-12.3 12.3zM213.1 488.1l12.3 0l-12.3 12.3zM435.8 490.1l7.3 0l-7.3 7.3zM458.3 488.1l12.3 0l-12.3 12.3zM581 488.1l12.3 0l-12.3 12.3zM617.7 500.3l0 -12.3l-12.3 12.3zM630 488.1l12.3 0l-12.3 12.3zM666.8 500.3l0 -12.3l-12.3 12.3zM679 500.3l0 -12.3l-12.3 12.3zM679 488.1l12.3 0l-12.3 12.3zM740.4 500.3l0 -12.3l-12.3 12.3zM789.4 500.3l0 -12.3l-12.3 12.3zM813.9 488.1l12.3 0l-12.3 12.3zM78.2 500.3l12.3 0l-12.3 12.3zM102.7 512.6l0 -12.3l-12.3 12.3zM127.3 512.6l0 -12.3l-12.3 12.3zM274.4 500.3l12.3 0l-12.3 12.3zM286.7 500.3l12.3 0l-12.3 12.3zM409.3 500.3l12.3 0l-12.3 12.3zM435.8 502.3l7.3 0l-7.3 7.3zM482.9 500.3l12.3 0l-12.3 12.3zM531.9 500.3l12.3 0l-12.3 12.3zM556.4 512.6l0 -12.3l-12.3 12.3zM617.7 512.6l0 -12.3l-12.3 12.3zM642.3 512.6l0 -12.3l-12.3 12.3zM642.3 500.3l12.3 0l-12.3 12.3zM752.6 512.6l0 -12.3l-12.3 12.3zM764.9 512.6l0 -12.3l-12.3 12.3zM801.7 500.3l12.3 0l-12.3 12.3zM102.7 512.6l12.3 0l-12.3 12.3zM164 524.8l0 -12.3l-12.3 12.3zM176.3 524.8l0 -12.3l-12.3 12.3zM188.6 524.8l0 -12.3l-12.3 12.3zM225.4 524.8l0 -12.3l-12.3 12.3zM360.2 512.6l12.3 0l-12.3 12.3zM435.8 514.6l7.3 0l-7.3 7.3zM679 512.6l12.3 0l-12.3 12.3zM691.3 512.6l12.3 0l-12.3 12.3zM813.9 524.8l0 -12.3l-12.3 12.3zM65.9 537.1l0 -12.3l-12.3 12.3zM78.2 524.8l12.3 0l-12.3 12.3zM102.7 537.1l0 -12.3l-12.3 12.3zM115 524.8l12.3 0l-12.3 12.3zM188.6 537.1l0 -12.3l-12.3 12.3zM188.6 524.8l12.3 0l-12.3 12.3zM213.1 524.8l12.3 0l-12.3 12.3zM237.6 537.1l0 -12.3l-12.3 12.3zM335.7 537.1l0 -12.3l-12.3 12.3zM372.5 524.8l12.3 0l-12.3 12.3zM460.3 526.8l7.3 0l-7.3 7.3zM472.6 526.8l7.3 0l-7.3 7.3zM593.2 537.1l0 -12.3l-12.3 12.3zM740.4 524.8l12.3 0l-12.3 12.3zM764.9 537.1l0 -12.3l-12.3 12.3zM789.4 524.8l12.3 0l-12.3 12.3zM826.2 537.1l0 -12.3l-12.3 12.3zM850.7 537.1l0 -12.3l-12.3 12.3zM863 537.1l0 -12.3l-12.3 12.3zM863 524.8l12.3 0l-12.3 12.3zM65.9 549.4l0 -12.3l-12.3 12.3zM176.3 549.4l0 -12.3l-12.3 12.3zM237.6 537.1l12.3 0l-12.3 12.3zM274.4 549.4l0 -12.3l-12.3 12.3zM298.9 549.4l0 -12.3l-12.3 12.3zM298.9 537.1l12.3 0l-12.3 12.3zM335.7 537.1l12.3 0l-12.3 12.3zM348 537.1l12.3 0l-12.3 12.3zM448.1 539.1l7.3 0l-7.3 7.3zM484.9 539.1l7.3 0l-7.3 7.3zM497.1 539.1l7.3 0l-7.3 7.3zM531.9 549.4l0 -12.3l-12.3 12.3zM531.9 537.1l12.3 0l-12.3 12.3zM556.4 537.1l12.3 0l-12.3 12.3zM605.5 549.4l0 -12.3l-12.3 12.3zM679 549.4l0 -12.3l-12.3 12.3zM679 537.1l12.3 0l-12.3 12.3zM863 549.4l0 -12.3l-12.3 12.3zM887.5 549.4l0 -12.3l-12.3 12.3zM151.8 561.6l0 -12.3l-12.3 12.3zM237.6 549.4l12.3 0l-12.3 12.3zM274.4 561.6l0 -12.3l-12.3 12.3zM298.9 561.6l0 -12.3l-12.3 12.3zM298.9 549.4l12.3 0l-12.3 12.3zM335.7 561.6l0 -12.3l-12.3 12.3zM348 561.6l0 -12.3l-12.3 12.3zM484.9 551.4l7.3 0l-7.3 7.3zM509.4 551.4l7.3 0l-7.3 7.3zM521.6 551.4l7.3 0l-7.3 7.3zM556.4 561.6l0 -12.3l-12.3 12.3zM593.2 549.4l12.3 0l-12.3 12.3zM715.8 561.6l0 -12.3l-12.3 12.3zM752.6 561.6l0 -12.3l-12.3 12.3zM789.4 561.6l0 -12.3l-12.3 12.3zM838.5 549.4l12.3 0l-12.3 12.3zM875.2 561.6l0 -12.3l-12.3 12.3zM41.4 573.9l0 -12.3l-12.3 12.3zM115 573.9l0 -12.3l-12.3 12.3zM127.3 561.6l12.3 0l-12.3 12.3zM200.8 561.6l12.3 0l-12.3 12.3zM237.6 561.6l12.3 0l-12.3 12.3zM249.9 561.6l12.3 0l-12.3 12.3zM323.4 573.9l0 -12.3l-12.3 12.3zM348 573.9l0 -12.3l-12.3 12.3zM348 561.6l12.3 0l-12.3 12.3zM448.1 563.6l7.3 0l-7.3 7.3zM472.6 563.6l7.3 0l-7.3 7.3zM507.4 573.9l0 -12.3l-12.3 12.3zM533.9 563.6l7.3 0l-7.3 7.3zM581 561.6l12.3 0l-12.3 12.3zM605.5 573.9l0 -12.3l-12.3 12.3zM666.8 573.9l0 -12.3l-12.3 12.3zM666.8 561.6l12.3 0l-12.3 12.3zM715.8 573.9l0 -12.3l-12.3 12.3zM715.8 561.6l12.3 0l-12.3 12.3zM813.9 561.6l12.3 0l-12.3 12.3zM127.3 586.2l0 -12.3l-12.3 12.3zM188.6 586.2l0 -12.3l-12.3 12.3zM202.8 575.9l7.3 0l-7.3 7.3zM213.1 573.9l12.3 0l-12.3 12.3zM298.9 573.9l12.3 0l-12.3 12.3zM384.8 573.9l12.3 0l-12.3 12.3zM472.6 575.9l7.3 0l-7.3 7.3zM497.1 575.9l7.3 0l-7.3 7.3zM546.2 575.9l7.3 0l-7.3 7.3zM556.4 573.9l12.3 0l-12.3 12.3zM605.5 573.9l12.3 0l-12.3 12.3zM703.6 573.9l12.3 0l-12.3 12.3zM176.3 586.2l12.3 0l-12.3 12.3zM200.8 598.4l0 -12.3l-12.3 12.3zM249.9 586.2l12.3 0l-12.3 12.3zM262.1 586.2l12.3 0l-12.3 12.3zM274.4 586.2l12.3 0l-12.3 12.3zM311.2 598.4l0 -12.3l-12.3 12.3zM433.8 598.4l0 -12.3l-12.3 12.3zM448.1 588.2l7.3 0l-7.3 7.3zM460.3 588.2l7.3 0l-7.3 7.3zM482.9 598.4l0 -12.3l-12.3 12.3zM484.9 588.2l7.3 0l-7.3 7.3zM509.4 588.2l7.3 0l-7.3 7.3zM533.9 588.2l7.3 0l-7.3 7.3zM558.4 588.2l7.3 0l-7.3 7.3zM568.7 586.2l12.3 0l-12.3 12.3zM666.8 598.4l0 -12.3l-12.3 12.3zM703.6 598.4l0 -12.3l-12.3 12.3zM813.9 598.4l0 -12.3l-12.3 12.3zM850.7 598.4l0 -12.3l-12.3 12.3zM899.8 598.4l0 -12.3l-12.3 12.3zM274.4 610.7l0 -12.3l-12.3 12.3zM323.4 610.7l0 -12.3l-12.3 12.3zM507.4 610.7l0 -12.3l-12.3 12.3zM546.2 600.4l7.3 0l-7.3 7.3zM558.4 600.4l7.3 0l-7.3 7.3zM630 598.4l12.3 0l-12.3 12.3zM642.3 598.4l12.3 0l-12.3 12.3zM801.7 610.7l0 -12.3l-12.3 12.3zM801.7 598.4l12.3 0l-12.3 12.3zM826.2 598.4l12.3 0l-12.3 12.3zM875.2 598.4l12.3 0l-12.3 12.3zM164 610.7l12.3 0l-12.3 12.3zM311.2 622.9l0 -12.3l-12.3 12.3zM335.7 622.9l0 -12.3l-12.3 12.3zM348 622.9l0 -12.3l-12.3 12.3zM348 610.7l12.3 0l-12.3 12.3zM360.2 610.7l12.3 0l-12.3 12.3zM397 610.7l12.3 0l-12.3 12.3zM495.1 610.7l12.3 0l-12.3 12.3zM509.4 612.7l7.3 0l-7.3 7.3zM556.4 622.9l0 -12.3l-12.3 12.3zM570.7 612.7l7.3 0l-7.3 7.3zM583 612.7l7.3 0l-7.3 7.3zM617.7 610.7l12.3 0l-12.3 12.3zM691.3 622.9l0 -12.3l-12.3 12.3zM728.1 622.9l0 -12.3l-12.3 12.3zM740.4 610.7l12.3 0l-12.3 12.3zM752.6 610.7l12.3 0l-12.3 12.3zM850.7 622.9l0 -12.3l-12.3 12.3zM887.5 622.9l0 -12.3l-12.3 12.3zM348 635.2l0 -12.3l-12.3 12.3zM421.5 635.2l0 -12.3l-12.3 12.3zM433.8 635.2l0 -12.3l-12.3 12.3zM448.1 624.9l7.3 0l-7.3 7.3zM460.3 624.9l7.3 0l-7.3 7.3zM556.4 635.2l0 -12.3l-12.3 12.3zM568.7 622.9l12.3 0l-12.3 12.3zM583 624.9l7.3 0l-7.3 7.3zM595.2 624.9l7.3 0l-7.3 7.3zM607.5 624.9l7.3 0l-7.3 7.3zM838.5 622.9l12.3 0l-12.3 12.3zM863 622.9l12.3 0l-12.3 12.3zM875.2 622.9l12.3 0l-12.3 12.3zM899.8 635.2l0 -12.3l-12.3 12.3zM102.7 635.2l12.3 0l-12.3 12.3zM188.6 635.2l12.3 0l-12.3 12.3zM225.4 647.5l0 -12.3l-12.3 12.3zM225.4 635.2l12.3 0l-12.3 12.3zM249.9 647.5l0 -12.3l-12.3 12.3zM274.4 635.2l12.3 0l-12.3 12.3zM411.3 637.2l7.3 0l-7.3 7.3zM423.5 637.2l7.3 0l-7.3 7.3zM484.9 637.2l7.3 0l-7.3 7.3zM497.1 637.2l7.3 0l-7.3 7.3zM509.4 637.2l7.3 0l-7.3 7.3zM521.6 637.2l7.3 0l-7.3 7.3zM593.2 647.5l0 -12.3l-12.3 12.3zM607.5 637.2l7.3 0l-7.3 7.3zM619.7 637.2l7.3 0l-7.3 7.3zM102.7 647.5l12.3 0l-12.3 12.3zM115 647.5l12.3 0l-12.3 12.3zM139.5 647.5l12.3 0l-12.3 12.3zM151.8 647.5l12.3 0l-12.3 12.3zM213.1 659.7l0 -12.3l-12.3 12.3zM225.4 659.7l0 -12.3l-12.3 12.3zM411.3 649.5l7.3 0l-7.3 7.3zM423.5 649.5l7.3 0l-7.3 7.3zM435.8 649.5l7.3 0l-7.3 7.3zM497.1 649.5l7.3 0l-7.3 7.3zM509.4 649.5l7.3 0l-7.3 7.3zM521.6 649.5l7.3 0l-7.3 7.3zM531.9 647.5l12.3 0l-12.3 12.3zM546.2 649.5l7.3 0l-7.3 7.3zM558.4 649.5l7.3 0l-7.3 7.3zM581 659.7l0 -12.3l-12.3 12.3zM619.7 649.5l7.3 0l-7.3 7.3zM668.8 649.5l7.3 0l-7.3 7.3zM715.8 647.5l12.3 0l-12.3 12.3zM752.6 647.5l12.3 0l-12.3 12.3zM813.9 659.7l0 -12.3l-12.3 12.3zM838.5 659.7l0 -12.3l-12.3 12.3zM850.7 659.7l0 -12.3l-12.3 12.3zM65.9 659.7l12.3 0l-12.3 12.3zM262.1 659.7l12.3 0l-12.3 12.3zM372.5 672l0 -12.3l-12.3 12.3zM384.8 672l0 -12.3l-12.3 12.3zM399 661.7l7.3 0l-7.3 7.3zM448.1 661.7l7.3 0l-7.3 7.3zM546.2 661.7l7.3 0l-7.3 7.3zM581 672l0 -12.3l-12.3 12.3zM668.8 661.7l7.3 0l-7.3 7.3zM681 661.7l7.3 0l-7.3 7.3zM715.8 659.7l12.3 0l-12.3 12.3zM740.4 672l0 -12.3l-12.3 12.3zM78.2 672l12.3 0l-12.3 12.3zM360.2 684.3l0 -12.3l-12.3 12.3zM399 674l7.3 0l-7.3 7.3zM495.1 672l12.3 0l-12.3 12.3zM630 672l12.3 0l-12.3 12.3zM681 674l7.3 0l-7.3 7.3zM715.8 684.3l0 -12.3l-12.3 12.3zM764.9 684.3l0 -12.3l-12.3 12.3zM850.7 672l12.3 0l-12.3 12.3zM102.7 696.5l0 -12.3l-12.3 12.3zM139.5 684.3l12.3 0l-12.3 12.3zM237.6 696.5l0 -12.3l-12.3 12.3zM249.9 684.3l12.3 0l-12.3 12.3zM274.4 696.5l0 -12.3l-12.3 12.3zM323.4 696.5l0 -12.3l-12.3 12.3zM348 684.3l12.3 0l-12.3 12.3zM421.5 696.5l0 -12.3l-12.3 12.3zM433.8 696.5l0 -12.3l-12.3 12.3zM544.2 684.3l12.3 0l-12.3 12.3zM581 684.3l12.3 0l-12.3 12.3zM630 684.3l12.3 0l-12.3 12.3zM681 686.3l7.3 0l-7.3 7.3zM693.3 686.3l7.3 0l-7.3 7.3zM717.8 686.3l7.3 0l-7.3 7.3zM826.2 684.3l12.3 0l-12.3 12.3zM102.7 708.8l0 -12.3l-12.3 12.3zM372.5 696.5l12.3 0l-12.3 12.3zM386.8 698.5l7.3 0l-7.3 7.3zM433.8 708.8l0 -12.3l-12.3 12.3zM446.1 696.5l12.3 0l-12.3 12.3zM482.9 696.5l12.3 0l-12.3 12.3zM497.1 698.5l7.3 0l-7.3 7.3zM509.4 698.5l7.3 0l-7.3 7.3zM519.6 696.5l12.3 0l-12.3 12.3zM531.9 696.5l12.3 0l-12.3 12.3zM605.5 696.5l12.3 0l-12.3 12.3zM617.7 696.5l12.3 0l-12.3 12.3zM642.3 708.8l0 -12.3l-12.3 12.3zM666.8 696.5l12.3 0l-12.3 12.3zM717.8 698.5l7.3 0l-7.3 7.3zM789.4 696.5l12.3 0l-12.3 12.3zM838.5 696.5l12.3 0l-12.3 12.3zM139.5 721l0 -12.3l-12.3 12.3zM323.4 721l0 -12.3l-12.3 12.3zM335.7 708.8l12.3 0l-12.3 12.3zM348 708.8l12.3 0l-12.3 12.3zM360.2 708.8l12.3 0l-12.3 12.3zM372.5 708.8l12.3 0l-12.3 12.3zM386.8 710.8l7.3 0l-7.3 7.3zM399 710.8l7.3 0l-7.3 7.3zM446.1 721l0 -12.3l-12.3 12.3zM470.6 721l0 -12.3l-12.3 12.3zM482.9 721l0 -12.3l-12.3 12.3zM581 708.8l12.3 0l-12.3 12.3zM630 708.8l12.3 0l-12.3 12.3zM654.5 708.8l12.3 0l-12.3 12.3zM679 721l0 -12.3l-12.3 12.3zM691.3 708.8l12.3 0l-12.3 12.3zM728.1 708.8l12.3 0l-12.3 12.3zM754.6 710.8l7.3 0l-7.3 7.3zM815.9 710.8l7.3 0l-7.3 7.3zM298.9 733.3l0 -12.3l-12.3 12.3zM335.7 721l12.3 0l-12.3 12.3zM384.8 733.3l0 -12.3l-12.3 12.3zM386.8 723l7.3 0l-7.3 7.3zM531.9 721l12.3 0l-12.3 12.3zM605.5 733.3l0 -12.3l-12.3 12.3zM607.5 723l7.3 0l-7.3 7.3zM730.1 723l7.3 0l-7.3 7.3zM752.6 721l12.3 0l-12.3 12.3zM777.1 733.3l0 -12.3l-12.3 12.3zM838.5 733.3l0 -12.3l-12.3 12.3zM139.5 745.6l0 -12.3l-12.3 12.3zM411.3 735.3l7.3 0l-7.3 7.3zM448.1 735.3l7.3 0l-7.3 7.3zM460.3 735.3l7.3 0l-7.3 7.3zM521.6 735.3l7.3 0l-7.3 7.3zM544.2 733.3l12.3 0l-12.3 12.3zM593.2 745.6l0 -12.3l-12.3 12.3zM607.5 735.3l7.3 0l-7.3 7.3zM619.7 735.3l7.3 0l-7.3 7.3zM654.5 745.6l0 -12.3l-12.3 12.3zM703.6 733.3l12.3 0l-12.3 12.3zM717.8 735.3l7.3 0l-7.3 7.3zM730.1 735.3l7.3 0l-7.3 7.3zM740.4 733.3l12.3 0l-12.3 12.3zM766.9 735.3l7.3 0l-7.3 7.3zM791.4 735.3l7.3 0l-7.3 7.3zM435.8 747.6l7.3 0l-7.3 7.3zM448.1 747.6l7.3 0l-7.3 7.3zM470.6 745.6l12.3 0l-12.3 12.3zM497.1 747.6l7.3 0l-7.3 7.3zM509.4 747.6l7.3 0l-7.3 7.3zM642.3 757.8l0 -12.3l-12.3 12.3zM691.3 757.8l0 -12.3l-12.3 12.3zM715.8 745.6l12.3 0l-12.3 12.3zM766.9 747.6l7.3 0l-7.3 7.3zM213.1 770.1l0 -12.3l-12.3 12.3zM249.9 757.8l12.3 0l-12.3 12.3zM323.4 757.8l12.3 0l-12.3 12.3zM348 770.1l0 -12.3l-12.3 12.3zM348 757.8l12.3 0l-12.3 12.3zM386.8 759.8l7.3 0l-7.3 7.3zM399 759.8l7.3 0l-7.3 7.3zM446.1 770.1l0 -12.3l-12.3 12.3zM446.1 757.8l12.3 0l-12.3 12.3zM482.9 770.1l0 -12.3l-12.3 12.3zM497.1 759.8l7.3 0l-7.3 7.3zM507.4 757.8l12.3 0l-12.3 12.3zM521.6 759.8l7.3 0l-7.3 7.3zM544.2 757.8l12.3 0l-12.3 12.3zM568.7 757.8l12.3 0l-12.3 12.3zM605.5 770.1l0 -12.3l-12.3 12.3zM703.6 757.8l12.3 0l-12.3 12.3zM766.9 759.8l7.3 0l-7.3 7.3zM200.8 782.3l0 -12.3l-12.3 12.3zM409.3 782.3l0 -12.3l-12.3 12.3zM421.5 782.3l0 -12.3l-12.3 12.3zM433.8 782.3l0 -12.3l-12.3 12.3zM458.3 770.1l12.3 0l-12.3 12.3zM495.1 782.3l0 -12.3l-12.3 12.3zM521.6 772.1l7.3 0l-7.3 7.3zM544.2 782.3l0 -12.3l-12.3 12.3zM556.4 770.1l12.3 0l-12.3 12.3zM568.7 770.1l12.3 0l-12.3 12.3zM593.2 782.3l0 -12.3l-12.3 12.3zM593.2 770.1l12.3 0l-12.3 12.3zM630 782.3l0 -12.3l-12.3 12.3zM642.3 782.3l0 -12.3l-12.3 12.3zM679 782.3l0 -12.3l-12.3 12.3zM446.1 782.3l12.3 0l-12.3 12.3zM458.3 782.3l12.3 0l-12.3 12.3zM472.6 784.3l7.3 0l-7.3 7.3zM519.6 782.3l12.3 0l-12.3 12.3zM642.3 782.3l12.3 0l-12.3 12.3zM298.9 794.6l12.3 0l-12.3 12.3zM409.3 806.9l0 -12.3l-12.3 12.3zM509.4 796.6l7.3 0l-7.3 7.3zM531.9 806.9l0 -12.3l-12.3 12.3zM544.2 806.9l0 -12.3l-12.3 12.3zM556.4 806.9l0 -12.3l-12.3 12.3zM568.7 806.9l0 -12.3l-12.3 12.3zM593.2 806.9l0 -12.3l-12.3 12.3zM605.5 806.9l0 -12.3l-12.3 12.3zM605.5 794.6l12.3 0l-12.3 12.3zM630 794.6l12.3 0l-12.3 12.3zM679 806.9l0 -12.3l-12.3 12.3zM274.4 819.1l0 -12.3l-12.3 12.3zM286.7 806.9l12.3 0l-12.3 12.3zM335.7 819.1l0 -12.3l-12.3 12.3zM335.7 806.9l12.3 0l-12.3 12.3zM350 808.9l7.3 0l-7.3 7.3zM372.5 819.1l0 -12.3l-12.3 12.3zM372.5 806.9l12.3 0l-12.3 12.3zM470.6 806.9l12.3 0l-12.3 12.3zM482.9 806.9l12.3 0l-12.3 12.3zM617.7 806.9l12.3 0l-12.3 12.3zM286.7 819.1l12.3 0l-12.3 12.3zM323.4 819.1l12.3 0l-12.3 12.3zM348 831.4l0 -12.3l-12.3 12.3zM348 819.1l12.3 0l-12.3 12.3zM384.8 831.4l0 -12.3l-12.3 12.3zM274.4 831.4l12.3 0l-12.3 12.3zM311.2 843.7l0 -12.3l-12.3 12.3z"/>
<path fill="none" stroke="#f7f0dc" stroke-opacity=".5" stroke-width="2" d="M276.4 130.5l8.3 -8.3M313.2 134.5l8.3 8.3M275.4 152l10.3 4.5M287.7 148.5l10.3 1.8M337.7 155l8.3 -8.3M275.4 165.2l10.3 4.8M312.2 161.9l10.3 0.8M324.4 163.1l10.3 3.2M251.9 179.5l8.3 -8.3M299.9 178l10.3 1.4M312.2 175.1l10.3 3.9M336.7 178.2l10.3 -0.1M239.6 183.5l8.3 8.3M263.1 184.8l10.3 -1M299.9 187.1l10.3 4.6M324.4 184.7l10.3 -1.6M350 191.8l8.3 -8.3M374.5 191.8l8.3 -8.3M239.6 195.8l8.3 8.3M250.9 202.5l10.3 -0.1M313.2 204l8.3 -8.3M350 195.8l8.3 8.3M362.2 204l8.3 -8.3M373.5 197.4l10.3 1.9M385.8 200.1l10.3 -0M300.9 216.3l8.3 -8.3M362.2 208l8.3 8.3M374.5 216.3l8.3 -8.3M398 214l10.3 3M410.3 214.5l10.3 0M227.4 220.3l8.3 8.3M239.6 228.6l8.3 -8.3M275.4 222.5l10.3 -2.8M398 226.2l10.3 -2M410.3 226.8l10.3 -4.8M435.8 220.3l8.3 8.3M239.6 240.8l8.3 -8.3M263.1 234.7l10.3 1.9M312.2 237.9l10.3 -4.4M422.5 235.7l10.3 -4.8M434.8 238.3l10.3 -2.7M215.1 253.1l8.3 -8.3M239.6 253.1l8.3 -8.3M300.9 253.1l8.3 -8.3M336.7 247.5l10.3 0.2M361.2 251l10.3 0.4M398 247l10.3 0.8M410.3 247.8l10.3 -4.3M422.5 248l10.3 0.3M460.3 244.8l8.3 8.3M202.8 257.1l8.3 8.3M215.1 257.1l8.3 8.3M288.7 257.1l8.3 8.3M349 263.9l10.3 2.9M434.8 260.9l10.3 4.5M459.3 258.5l10.3 -2.3M238.6 274.6l10.3 -3.7M251.9 269.3l8.3 8.3M264.1 269.3l8.3 8.3M276.4 269.3l8.3 8.3M361.2 276.2l10.3 -3.8M373.5 271.7l10.3 3.7M410.3 275.7l10.3 -2.4M459.3 273l10.3 -0.5M471.6 274.1l10.3 -0.9M483.9 275l10.3 -0.4M497.1 269.3l8.3 8.3M178.3 281.6l8.3 8.3M201.8 284l10.3 -2.7M313.2 281.6l8.3 8.3M325.4 281.6l8.3 8.3M336.7 285.2l10.3 -4.1M349 287.8l10.3 -2M410.3 283.9l10.3 1.5M422.5 288.5l10.3 2.1M434.8 284.8l10.3 -0.2M447.1 286.7l10.3 -0.9M459.3 282.8l10.3 2.5M509.4 289.9l8.3 -8.3M521.6 281.6l8.3 8.3M532.9 288.1l10.3 2.9M178.3 293.9l8.3 8.3M189.6 299.7l10.3 -0.8M201.8 298.5l10.3 -0.4M276.4 302.1l8.3 -8.3M300.9 302.1l8.3 -8.3M324.4 296.5l10.3 -1.4M361.2 297.3l10.3 2.9M410.3 295l10.3 4.1M434.8 296l10.3 -4.8M447.1 298.4l10.3 1.7M460.3 302.1l8.3 -8.3M471.6 299.1l10.3 2M483.9 300.1l10.3 -2.8M508.4 297.5l10.3 3.1M165 308.5l10.3 1.2M178.3 314.4l8.3 -8.3M214.1 308.2l10.3 0.9M263.1 311.7l10.3 -1.8M373.5 309.1l10.3 0.9M422.5 311.9l10.3 -0.8M496.1 309.9l10.3 -2.1M520.6 309.3l10.3 -2.5M532.9 308.7l10.3 -4.8M557.4 307.8l10.3 3.5M166 326.7l8.3 -8.3M178.3 318.4l8.3 8.3M227.4 326.7l8.3 -8.3M264.1 326.7l8.3 -8.3M275.4 319.6l10.3 3M299.9 320.5l10.3 3.7M362.2 318.4l8.3 8.3M385.8 322.9l10.3 1.5M410.3 320l10.3 0.3M422.5 322l10.3 0.6M434.8 321.1l10.3 -1.4M471.6 324.6l10.3 3M583 318.4l8.3 8.3M166 330.7l8.3 8.3M178.3 330.7l8.3 8.3M250.9 336l10.3 4.2M276.4 338.9l8.3 -8.3M361.2 331.9l10.3 3M373.5 332.9l10.3 -4.7M386.8 330.7l8.3 8.3M459.3 332.3l10.3 -4.9M496.1 336.9l10.3 1.6M508.4 335.5l10.3 -0.8M533.9 338.9l8.3 -8.3M594.2 337.3l10.3 1.7M607.5 330.7l8.3 8.3M178.3 342.9l8.3 8.3M201.8 345.4l10.3 -3.8M215.1 351.2l8.3 -8.3M250.9 344l10.3 1.6M288.7 342.9l8.3 8.3M324.4 346.2l10.3 -2.7M337.7 342.9l8.3 8.3M398 344.9l10.3 -4.6M411.3 342.9l8.3 8.3M435.8 351.2l8.3 -8.3M471.6 344.6l10.3 -2.1M483.9 344.6l10.3 -3M508.4 344.9l10.3 0.4M545.2 346.8l10.3 -4.6M570.7 351.2l8.3 -8.3M595.2 342.9l8.3 8.3M607.5 351.2l8.3 -8.3M140.5 358.5l10.3 2.1M178.3 363.4l8.3 -8.3M250.9 358.5l10.3 3.5M275.4 362.1l10.3 2.4M299.9 359.8l10.3 4.6M398 358.6l10.3 0.6M423.5 363.4l8.3 -8.3M435.8 355.2l8.3 8.3M448.1 355.2l8.3 8.3M483.9 357.3l10.3 0.1M520.6 358.5l10.3 1.1M619.7 355.2l8.3 8.3M153.8 375.7l8.3 -8.3M177.3 372.8l10.3 2.8M336.7 369l10.3 -4.6M350 375.7l8.3 -8.3M398 369.1l10.3 1.4M410.3 369.8l10.3 -4.7M435.8 375.7l8.3 -8.3M448.1 375.7l8.3 -8.3M472.6 375.7l8.3 -8.3M557.4 373.1l10.3 1.3M582 371.3l10.3 -2.4M607.5 375.7l8.3 -8.3M618.7 369.2l10.3 1.1M129.3 379.7l8.3 8.3M238.6 381.4l10.3 2M288.7 379.7l8.3 8.3M325.4 388l8.3 -8.3M337.7 379.7l8.3 8.3M361.2 380.8l10.3 3.9M435.8 379.7l8.3 8.3M521.6 379.7l8.3 8.3M557.4 381l10.3 1M583 379.7l8.3 8.3M644.3 379.7l8.3 8.3M128.3 396l10.3 -3.6M178.3 400.2l8.3 -8.3M226.4 395.5l10.3 2M300.9 392l8.3 8.3M313.2 400.2l8.3 -8.3M362.2 392l8.3 8.3M374.5 400.2l8.3 -8.3M411.3 400.2l8.3 -8.3M423.5 400.2l8.3 -8.3M484.9 400.2l8.3 -8.3M521.6 400.2l8.3 -8.3M595.2 392l8.3 8.3M619.7 392l8.3 8.3M681 392l8.3 8.3M693.3 400.2l8.3 -8.3M128.3 405.7l10.3 2.9M152.8 407.9l10.3 1M165 405.4l10.3 -0.8M251.9 412.5l8.3 -8.3M325.4 412.5l8.3 -8.3M350 404.2l8.3 8.3M509.4 412.5l8.3 -8.3M546.2 412.5l8.3 -8.3M570.7 404.2l8.3 8.3M594.2 406.8l10.3 2.7M655.5 408l10.3 -2.4M140.5 421.4l10.3 1.3M178.3 416.5l8.3 8.3M215.1 416.5l8.3 8.3M226.4 422.9l10.3 4.1M264.1 424.8l8.3 -8.3M313.2 416.5l8.3 8.3M324.4 422.2l10.3 2.9M337.7 424.8l8.3 -8.3M374.5 416.5l8.3 8.3M448.1 424.8l8.3 -8.3M460.3 424.8l8.3 -8.3M471.6 418.2l10.3 2.9M484.9 416.5l8.3 8.3M532.9 422.4l10.3 4.4M546.2 416.5l8.3 8.3M582 420.2l10.3 -1.4M595.2 424.8l8.3 -8.3M618.7 419.3l10.3 -1.6M644.3 424.8l8.3 -8.3M655.5 422.3l10.3 -3.8M668.8 416.5l8.3 8.3M680 421l10.3 -1.8M692.3 420l10.3 3.1M705.6 424.8l8.3 -8.3M717.8 424.8l8.3 -8.3M166 437l8.3 -8.3M178.3 428.8l8.3 8.3M201.8 431.4l10.3 -2.1M239.6 428.8l8.3 8.3M264.1 428.8l8.3 8.3M287.7 433.5l10.3 -4.9M325.4 428.8l8.3 8.3M361.2 429.8l10.3 0.4M374.5 428.8l8.3 8.3M385.8 434.5l10.3 0.6M411.3 437l8.3 -8.3M570.7 437l8.3 -8.3M582 434.3l10.3 -0.1M607.5 428.8l8.3 8.3M643.3 433.9l10.3 2.8M668.8 428.8l8.3 8.3M705.6 428.8l8.3 8.3M729.1 435.1l10.3 4.3M741.4 432.4l10.3 -2.3M104.7 449.3l8.3 -8.3M117 441l8.3 8.3M215.1 441l8.3 8.3M238.6 448l10.3 -1.9M374.5 449.3l8.3 -8.3M411.3 449.3l8.3 -8.3M435.8 449.3l8.3 -8.3M497.1 449.3l8.3 -8.3M618.7 446.4l10.3 3.4M656.5 441l8.3 8.3M668.8 441l8.3 8.3M692.3 443.9l10.3 -0.6M730.1 441l8.3 8.3M754.6 441l8.3 8.3M117 453.3l8.3 8.3M152.8 460.1l10.3 3.2M215.1 461.5l8.3 -8.3M239.6 461.5l8.3 -8.3M385.8 458l10.3 1.4M422.5 454.3l10.3 3.3M509.4 453.3l8.3 8.3M558.4 453.3l8.3 8.3M632 453.3l8.3 8.3M681 461.5l8.3 -8.3M693.3 461.5l8.3 -8.3M705.6 461.5l8.3 -8.3M717.8 461.5l8.3 -8.3M741.4 456.7l10.3 3.9M92.5 473.8l8.3 -8.3M215.1 473.8l8.3 -8.3M227.4 473.8l8.3 -8.3M238.6 469.2l10.3 3.2M263.1 467.1l10.3 -3.3M337.7 473.8l8.3 -8.3M385.8 470.9l10.3 0.8M411.3 465.5l8.3 8.3M459.3 470.4l10.3 -5M546.2 473.8l8.3 -8.3M595.2 465.5l8.3 8.3M717.8 465.5l8.3 8.3M753.6 466.6l10.3 3.5M766.9 465.5l8.3 8.3M779.1 473.8l8.3 -8.3M92.5 486.1l8.3 -8.3M128.3 483l10.3 -2.7M190.6 477.8l8.3 8.3M288.7 486.1l8.3 -8.3M325.4 477.8l8.3 8.3M350 486.1l8.3 -8.3M362.2 477.8l8.3 8.3M374.5 486.1l8.3 -8.3M398 482.3l10.3 3.2M410.3 482.1l10.3 -1.2M422.5 481.5l10.3 -3.6M459.3 483.9l10.3 -2.8M484.9 486.1l8.3 -8.3M570.7 477.8l8.3 8.3M606.5 481.6l10.3 -1.5M668.8 486.1l8.3 -8.3M717.8 486.1l8.3 -8.3M730.1 477.8l8.3 8.3M92.5 498.3l8.3 -8.3M104.7 490.1l8.3 8.3M141.5 490.1l8.3 8.3M288.7 498.3l8.3 -8.3M312.2 493.6l10.3 3.2M350 490.1l8.3 8.3M386.8 490.1l8.3 8.3M448.1 490.1l8.3 8.3M521.6 498.3l8.3 -8.3M595.2 490.1l8.3 8.3M644.3 498.3l8.3 -8.3M692.3 496l10.3 -1M717.8 498.3l8.3 -8.3M766.9 498.3l8.3 -8.3M790.4 496.3l10.3 1.8M827.2 494.9l10.3 -1.9M66.9 503.6l10.3 1.1M128.3 508.9l10.3 3.3M215.1 502.3l8.3 8.3M239.6 502.3l8.3 8.3M448.1 510.6l8.3 -8.3M460.3 502.3l8.3 8.3M472.6 502.3l8.3 8.3M619.7 502.3l8.3 8.3M717.8 510.6l8.3 -8.3M779.1 510.6l8.3 -8.3M814.9 505.2l10.3 2.5M839.5 507.9l10.3 4.9M92.5 522.8l8.3 -8.3M117 514.6l8.3 8.3M140.5 519.3l10.3 -2M202.8 514.6l8.3 8.3M239.6 514.6l8.3 8.3M276.4 522.8l8.3 -8.3M299.9 518.8l10.3 -0.3M350 522.8l8.3 -8.3M386.8 522.8l8.3 -8.3M398 516.5l10.3 -2.7M423.5 522.8l8.3 -8.3M533.9 514.6l8.3 8.3M558.4 522.8l8.3 -8.3M595.2 514.6l8.3 8.3M607.5 514.6l8.3 8.3M632 514.6l8.3 8.3M766.9 514.6l8.3 8.3M778.1 516.6l10.3 -4.9M791.4 522.8l8.3 -8.3M851.7 517.8l10.3 -0.2M865 514.6l8.3 8.3M67.9 526.8l8.3 8.3M104.7 535.1l8.3 -8.3M129.3 535.1l8.3 -8.3M165 533.8l10.3 -0.4M276.4 526.8l8.3 8.3M398 529.2l10.3 1.2M410.3 527.9l10.3 -1.3M497.1 526.8l8.3 8.3M545.2 531l10.3 -1.4M558.4 535.1l8.3 -8.3M570.7 526.8l8.3 8.3M595.2 535.1l8.3 -8.3M632 526.8l8.3 8.3M656.5 535.1l8.3 -8.3M681 526.8l8.3 8.3M717.8 526.8l8.3 8.3M730.1 535.1l8.3 -8.3M779.1 535.1l8.3 -8.3M828.2 526.8l8.3 8.3M66.9 544.7l10.3 -2.1M141.5 539.1l8.3 8.3M251.9 547.4l8.3 -8.3M276.4 547.4l8.3 -8.3M325.4 547.4l8.3 -8.3M423.5 547.4l8.3 -8.3M435.8 547.4l8.3 -8.3M509.4 539.1l8.3 8.3M583 547.4l8.3 -8.3M644.3 547.4l8.3 -8.3M742.4 539.1l8.3 8.3M790.4 541.9l10.3 0.5M840.5 547.4l8.3 -8.3M55.7 551.4l8.3 8.3M66.9 552.6l10.3 0.5M104.7 551.4l8.3 8.3M117 551.4l8.3 8.3M178.3 559.6l8.3 -8.3M215.1 551.4l8.3 8.3M251.9 551.4l8.3 8.3M276.4 559.6l8.3 -8.3M313.2 559.6l8.3 -8.3M411.3 551.4l8.3 8.3M423.5 559.6l8.3 -8.3M448.1 559.6l8.3 -8.3M460.3 551.4l8.3 8.3M472.6 551.4l8.3 8.3M558.4 551.4l8.3 8.3M569.7 555.5l10.3 3.5M583 559.6l8.3 -8.3M717.8 559.6l8.3 -8.3M803.7 551.4l8.3 8.3M828.2 559.6l8.3 -8.3M889.5 551.4l8.3 8.3M55.7 571.9l8.3 -8.3M80.2 571.9l8.3 -8.3M140.5 568.1l10.3 3M153.8 571.9l8.3 -8.3M166 571.9l8.3 -8.3M178.3 571.9l8.3 -8.3M190.6 563.6l8.3 8.3M227.4 571.9l8.3 -8.3M300.9 571.9l8.3 -8.3M435.8 563.6l8.3 8.3M521.6 563.6l8.3 8.3M606.5 570.1l10.3 -0M680 567.7l10.3 -0.4M693.3 571.9l8.3 -8.3M741.4 570.3l10.3 -0.8M791.4 571.9l8.3 -8.3M851.7 569.1l10.3 -3.2M18.9 584.2l8.3 -8.3M66.9 577.6l10.3 1.9M91.5 581.5l10.3 3.6M103.7 581.7l10.3 -1.1M263.1 581.3l10.3 1.5M313.2 575.9l8.3 8.3M325.4 584.2l8.3 -8.3M362.2 575.9l8.3 8.3M399 575.9l8.3 8.3M509.4 584.2l8.3 -8.3M643.3 579.8l10.3 3.6M668.8 575.9l8.3 8.3M680 577.1l10.3 1.1M717.8 575.9l8.3 8.3M730.1 584.2l8.3 -8.3M741.4 580.2l10.3 0.7M754.6 575.9l8.3 8.3M790.4 580.5l10.3 -2.4M814.9 580.5l10.3 2.4M840.5 584.2l8.3 -8.3M864 578.5l10.3 1.3M876.2 578l10.3 -4.1M18.9 588.2l8.3 8.3M30.2 591.1l10.3 -4.5M42.4 594.4l10.3 -2M54.7 595l10.3 -1.2M103.7 592l10.3 1.5M117 596.4l8.3 -8.3M128.3 592.9l10.3 1.3M166 596.4l8.3 -8.3M226.4 590l10.3 -4.2M288.7 588.2l8.3 8.3M313.2 596.4l8.3 -8.3M362.2 588.2l8.3 8.3M386.8 588.2l8.3 8.3M410.3 592.7l10.3 -0.6M435.8 596.4l8.3 -8.3M583 588.2l8.3 8.3M595.2 588.2l8.3 8.3M631 592.8l10.3 -0.2M680 590.3l10.3 1M742.4 596.4l8.3 -8.3M779.1 596.4l8.3 -8.3M815.9 596.4l8.3 -8.3M828.2 588.2l8.3 8.3M864 595l10.3 1.2M877.2 588.2l8.3 8.3M17.9 601.8l10.3 -2.6M30.2 604.1l10.3 -0.2M42.4 607l10.3 3.9M79.2 605.9l10.3 2.8M91.5 605.9l10.3 -1.5M103.7 603.9l10.3 -3.9M129.3 600.4l8.3 8.3M152.8 604.6l10.3 -3.8M166 600.4l8.3 8.3M239.6 608.7l8.3 -8.3M276.4 608.7l8.3 -8.3M288.7 608.7l8.3 -8.3M325.4 600.4l8.3 8.3M337.7 600.4l8.3 8.3M350 600.4l8.3 8.3M374.5 600.4l8.3 8.3M460.3 600.4l8.3 8.3M509.4 600.4l8.3 8.3M667.8 603.3l10.3 4.1M705.6 608.7l8.3 -8.3M753.6 602l10.3 -3.3M766.9 608.7l8.3 -8.3M778.1 601.8l10.3 -1.1M839.5 606.7l10.3 2.7M864 604.4l10.3 4.4M66.9 615.1l10.3 -2.1M103.7 615.6l10.3 1.9M128.3 614.8l10.3 4.3M214.1 617.4l10.3 -1.4M288.7 612.7l8.3 8.3M312.2 618.8l10.3 1.5M411.3 612.7l8.3 8.3M423.5 612.7l8.3 8.3M460.3 620.9l8.3 -8.3M484.9 620.9l8.3 -8.3M521.6 612.7l8.3 8.3M607.5 612.7l8.3 8.3M632 620.9l8.3 -8.3M644.3 620.9l8.3 -8.3M667.8 615.1l10.3 -2.4M729.1 617.1l10.3 -1.2M778.1 615.6l10.3 -1.8M802.7 617.1l10.3 -0.9M815.9 620.9l8.3 -8.3M827.2 616.3l10.3 -2.8M889.5 612.7l8.3 8.3M18.9 624.9l8.3 8.3M30.2 627l10.3 1.3M54.7 626l10.3 -4.1M116 629.9l10.3 4.9M141.5 624.9l8.3 8.3M201.8 631.1l10.3 -3.2M215.1 633.2l8.3 -8.3M276.4 624.9l8.3 8.3M288.7 633.2l8.3 -8.3M350 633.2l8.3 -8.3M374.5 633.2l8.3 -8.3M399 633.2l8.3 -8.3M435.8 633.2l8.3 -8.3M509.4 633.2l8.3 -8.3M668.8 624.9l8.3 8.3M693.3 633.2l8.3 -8.3M730.1 624.9l8.3 8.3M742.4 624.9l8.3 8.3M791.4 633.2l8.3 -8.3M828.2 624.9l8.3 8.3M30.2 643.9l10.3 1.3M54.7 638.5l10.3 1.9M92.5 637.2l8.3 8.3M165 642.5l10.3 0.1M288.7 645.5l8.3 -8.3M350 637.2l8.3 8.3M681 645.5l8.3 -8.3M693.3 645.5l8.3 -8.3M730.1 645.5l8.3 -8.3M742.4 637.2l8.3 8.3M803.7 645.5l8.3 -8.3M815.9 645.5l8.3 -8.3M865 637.2l8.3 8.3M877.2 637.2l8.3 8.3M79.2 653.5l10.3 -4.8M129.3 649.5l8.3 8.3M226.4 651.4l10.3 1.5M275.4 654.9l10.3 4.4M350 649.5l8.3 8.3M374.5 649.5l8.3 8.3M632 649.5l8.3 8.3M681 649.5l8.3 8.3M790.4 651.6l10.3 3.2M876.2 653l10.3 0.3M42.4 666.6l10.3 3M92.5 670l8.3 -8.3M129.3 661.7l8.3 8.3M189.6 665.5l10.3 -4.3M201.8 663.7l10.3 -1.6M226.4 666.5l10.3 -3.8M239.6 670l8.3 -8.3M276.4 661.7l8.3 8.3M300.9 661.7l8.3 8.3M325.4 661.7l8.3 8.3M595.2 661.7l8.3 8.3M607.5 670l8.3 -8.3M693.3 661.7l8.3 8.3M704.6 667.4l10.3 -1M803.7 670l8.3 -8.3M828.2 661.7l8.3 8.3M865 670l8.3 -8.3M42.4 679.4l10.3 -3M54.7 678.5l10.3 -2.4M92.5 674l8.3 8.3M103.7 678.4l10.3 1.5M141.5 682.3l8.3 -8.3M214.1 677.5l10.3 2.1M226.4 678.7l10.3 -1.1M276.4 682.3l8.3 -8.3M337.7 674l8.3 8.3M386.8 682.3l8.3 -8.3M423.5 674l8.3 8.3M460.3 674l8.3 8.3M471.6 679.6l10.3 -4M484.9 682.3l8.3 -8.3M509.4 682.3l8.3 -8.3M533.9 674l8.3 8.3M607.5 674l8.3 8.3M730.1 682.3l8.3 -8.3M742.4 682.3l8.3 -8.3M30.2 687.6l10.3 -4.2M103.7 688.8l10.3 1.3M116 689.3l10.3 -3.7M152.8 692.9l10.3 -3.9M177.3 690.4l10.3 -1.7M239.6 686.3l8.3 8.3M276.4 686.3l8.3 8.3M287.7 687.3l10.3 3.8M300.9 694.5l8.3 -8.3M362.2 686.3l8.3 8.3M386.8 694.5l8.3 -8.3M435.8 686.3l8.3 8.3M472.6 686.3l8.3 8.3M484.9 694.5l8.3 -8.3M497.1 686.3l8.3 8.3M509.4 686.3l8.3 8.3M521.6 686.3l8.3 8.3M558.4 694.5l8.3 -8.3M595.2 686.3l8.3 8.3M644.3 694.5l8.3 -8.3M742.4 686.3l8.3 8.3M754.6 694.5l8.3 -8.3M778.1 688l10.3 0.3M803.7 686.3l8.3 8.3M840.5 686.3l8.3 8.3M30.2 705.5l10.3 -1.9M42.4 700.2l10.3 -2.6M80.2 706.8l8.3 -8.3M129.3 706.8l8.3 -8.3M214.1 704.6l10.3 1.4M226.4 704l10.3 4.9M250.9 703.1l10.3 -4.9M275.4 703.9l10.3 4.1M287.7 701.2l10.3 2.2M300.9 698.5l8.3 8.3M337.7 706.8l8.3 -8.3M362.2 706.8l8.3 -8.3M410.3 702.1l10.3 -3.8M435.8 706.8l8.3 -8.3M472.6 706.8l8.3 -8.3M558.4 706.8l8.3 -8.3M570.7 706.8l8.3 -8.3M656.5 706.8l8.3 -8.3M681 706.8l8.3 -8.3M766.9 698.5l8.3 8.3M779.1 698.5l8.3 8.3M803.7 698.5l8.3 8.3M54.7 716.6l10.3 -1M141.5 719l8.3 -8.3M165 714.1l10.3 -4.9M214.1 717.4l10.3 -2.4M263.1 713.2l10.3 2.3M275.4 714l10.3 4.3M300.9 719l8.3 -8.3M325.4 710.8l8.3 8.3M533.9 719l8.3 -8.3M558.4 719l8.3 -8.3M570.7 719l8.3 -8.3M607.5 710.8l8.3 8.3M681 719l8.3 -8.3M742.4 710.8l8.3 8.3M779.1 710.8l8.3 8.3M828.2 710.8l8.3 8.3M42.4 729.4l10.3 0M91.5 727l10.3 4.6M129.3 723l8.3 8.3M152.8 728.1l10.3 3.7M238.6 727.2l10.3 2.5M250.9 726.8l10.3 3.3M263.1 729.2l10.3 -1.5M275.4 728.2l10.3 0.7M484.9 723l8.3 8.3M497.1 731.3l8.3 -8.3M509.4 731.3l8.3 -8.3M521.6 731.3l8.3 -8.3M546.2 723l8.3 8.3M570.7 731.3l8.3 -8.3M632 731.3l8.3 -8.3M681 731.3l8.3 -8.3M693.3 723l8.3 8.3M705.6 731.3l8.3 -8.3M177.3 740.3l10.3 -3.4M214.1 737.3l10.3 1.4M226.4 739.4l10.3 2M312.2 739.7l10.3 -1.1M374.5 743.6l8.3 -8.3M533.9 743.6l8.3 -8.3M558.4 743.6l8.3 -8.3M595.2 743.6l8.3 -8.3M632 735.3l8.3 8.3M153.8 755.8l8.3 -8.3M166 755.8l8.3 -8.3M214.1 748.8l10.3 -4.1M226.4 749.6l10.3 -2M238.6 753.7l10.3 -1.4M275.4 751.6l10.3 -4.6M325.4 755.8l8.3 -8.3M337.7 747.6l8.3 8.3M362.2 747.6l8.3 8.3M546.2 755.8l8.3 -8.3M570.7 755.8l8.3 -8.3M619.7 755.8l8.3 -8.3M656.5 747.6l8.3 8.3M705.6 747.6l8.3 8.3M742.4 747.6l8.3 8.3M778.1 749.4l10.3 2.4M165 762.7l10.3 -2.2M227.4 768.1l8.3 -8.3M264.1 759.8l8.3 8.3M299.9 763l10.3 1.3M312.2 765.8l10.3 -5M362.2 759.8l8.3 8.3M607.5 759.8l8.3 8.3M619.7 759.8l8.3 8.3M742.4 759.8l8.3 8.3M201.8 774.2l10.3 0.3M238.6 774.1l10.3 -0.8M250.9 774.6l10.3 -0.1M275.4 774.1l10.3 -0.3M299.9 777l10.3 0.6M350 780.3l8.3 -8.3M435.8 780.3l8.3 -8.3M472.6 772.1l8.3 8.3M607.5 780.3l8.3 -8.3M644.3 772.1l8.3 8.3M692.3 776.3l10.3 0.3M704.6 773.5l10.3 2.4M716.8 777l10.3 0.7M729.1 774.2l10.3 0.3M741.4 778.9l10.3 -2.6M214.1 787l10.3 -0.5M238.6 788l10.3 1.4M250.9 790.8l10.3 3.2M276.4 792.6l8.3 -8.3M374.5 784.3l8.3 8.3M484.9 792.6l8.3 -8.3M546.2 792.6l8.3 -8.3M558.4 792.6l8.3 -8.3M631 786l10.3 -4.7M667.8 790.2l10.3 2.7M692.3 786.1l10.3 3.1M716.8 789.3l10.3 2.6M226.4 798.8l10.3 -4.4M250.9 801.8l10.3 -3.4M275.4 800.2l10.3 0.9M337.7 796.6l8.3 8.3M362.2 796.6l8.3 8.3M386.8 804.9l8.3 -8.3M411.3 796.6l8.3 8.3M448.1 804.9l8.3 -8.3M472.6 804.9l8.3 -8.3M569.7 802.6l10.3 2.9M238.6 815.7l10.3 -0.4M300.9 817.1l8.3 -8.3M386.8 817.1l8.3 -8.3M399 817.1l8.3 -8.3M411.3 817.1l8.3 -8.3M423.5 817.1l8.3 -8.3M448.1 817.1l8.3 -8.3M460.3 808.9l8.3 8.3M497.1 808.9l8.3 8.3M532.9 813.5l10.3 -0M545.2 814.7l10.3 -2.4M557.4 810.1l10.3 -2.6M607.5 817.1l8.3 -8.3M275.4 825.2l10.3 -4.7M300.9 829.4l8.3 -8.3M313.2 821.1l8.3 8.3M399 821.1l8.3 8.3M411.3 821.1l8.3 8.3M423.5 829.4l8.3 -8.3M435.8 821.1l8.3 8.3M448.1 821.1l8.3 8.3M459.3 825l10.3 -2.6M471.6 826.9l10.3 1.5M508.4 826.8l10.3 -1.1M520.6 826.9l10.3 0.1M313.2 841.7l8.3 -8.3M325.4 841.7l8.3 -8.3M337.7 841.7l8.3 -8.3M361.2 834.6l10.3 5"/>
<rect x="10" y="112" width="890" height="740" filter="url(#nz)"/>
<rect x="10" y="112" width="890" height="740" filter="url(#nd)"/>
<path fill="none" stroke="#6c6c82" stroke-opacity=".62" stroke-width="1.55" d="M16.9 118V846M29.2 118V846M41.4 118V846M53.7 118V846M65.9 118V846M78.2 118V846M90.5 118V846M102.7 118V846M115 118V846M127.3 118V846M139.5 118V846M151.8 118V846M164 118V846M176.3 118V846M188.6 118V846M200.8 118V846M213.1 118V846M225.4 118V846M237.6 118V846M249.9 118V846M262.1 118V846M274.4 118V846M286.7 118V846M298.9 118V846M311.2 118V846M323.4 118V846M335.7 118V846M348 118V846M360.2 118V846M372.5 118V846M384.8 118V846M397 118V846M409.3 118V846M421.5 118V846M433.8 118V846M446.1 118V846M458.3 118V846M470.6 118V846M482.9 118V846M495.1 118V846M507.4 118V846M519.6 118V846M531.9 118V846M544.2 118V846M556.4 118V846M568.7 118V846M581 118V846M593.2 118V846M605.5 118V846M617.7 118V846M630 118V846M642.3 118V846M654.5 118V846M666.8 118V846M679 118V846M691.3 118V846M703.6 118V846M715.8 118V846M728.1 118V846M740.4 118V846M752.6 118V846M764.9 118V846M777.1 118V846M789.4 118V846M801.7 118V846M813.9 118V846M826.2 118V846M838.5 118V846M850.7 118V846M863 118V846M875.2 118V846M887.5 118V846M899.8 118V846M14 120.2H895M14 132.5H895M14 144.7H895M14 157H895M14 169.2H895M14 181.5H895M14 193.8H895M14 206H895M14 218.3H895M14 230.6H895M14 242.8H895M14 255.1H895M14 267.3H895M14 279.6H895M14 291.9H895M14 304.1H895M14 316.4H895M14 328.7H895M14 340.9H895M14 353.2H895M14 365.4H895M14 377.7H895M14 390H895M14 402.2H895M14 414.5H895M14 426.8H895M14 439H895M14 451.3H895M14 463.5H895M14 475.8H895M14 488.1H895M14 500.3H895M14 512.6H895M14 524.8H895M14 537.1H895M14 549.4H895M14 561.6H895M14 573.9H895M14 586.2H895M14 598.4H895M14 610.7H895M14 622.9H895M14 635.2H895M14 647.5H895M14 659.7H895M14 672H895M14 684.3H895M14 696.5H895M14 708.8H895M14 721H895M14 733.3H895M14 745.6H895M14 757.8H895M14 770.1H895M14 782.3H895M14 794.6H895M14 806.9H895M14 819.1H895M14 831.4H895M14 843.7H895"/>
</g>
<text x="21.5" y="904.3" class="ttl" font-size="23.5" textLength="255" lengthAdjust="spacingAndGlyphs">Mean LST by LCZ (°C)</text>
<rect x="34.6" y="918.9" width="40" height="19.3" fill="#7ab7d3" stroke="#a9a9a9" stroke-width="1.2"/>
<text x="83.3" y="934.2" class="lab" font-size="17" textLength="72" lengthAdjust="spacingAndGlyphs">0.0 - 14.8</text>
<rect x="34.6" y="947.6" width="40" height="19.3" fill="#7dd1c0" stroke="#a9a9a9" stroke-width="1.2"/>
<text x="83.3" y="962.9" class="lab" font-size="17" textLength="81" lengthAdjust="spacingAndGlyphs">14.8 - 18.7</text>
<rect x="34.6" y="976.4" width="40" height="19.3" fill="#8fce7a" stroke="#a9a9a9" stroke-width="1.2"/>
<text x="83.3" y="991.7" class="lab" font-size="17" textLength="81.5" lengthAdjust="spacingAndGlyphs">18.7 - 20.9</text>
<rect x="34.6" y="1005.1" width="40" height="19.3" fill="#fff3d9" stroke="#a9a9a9" stroke-width="1.2"/>
<text x="83.3" y="1020.4" class="lab" font-size="17" textLength="81.5" lengthAdjust="spacingAndGlyphs">20.9 - 22.7</text>
<rect x="34.6" y="1033.8" width="40" height="19.3" fill="#fde3b6" stroke="#a9a9a9" stroke-width="1.2"/>
<text x="83.3" y="1049.1" class="lab" font-size="17" textLength="81" lengthAdjust="spacingAndGlyphs">22.7 - 24.7</text>
<rect x="34.6" y="1062.5" width="40" height="19.3" fill="#f5c67b" stroke="#a9a9a9" stroke-width="1.2"/>
<text x="83.3" y="1077.8" class="lab" font-size="17" textLength="79" lengthAdjust="spacingAndGlyphs">24.7 - 27.4</text>
<rect x="34.6" y="1091.3" width="40" height="19.3" fill="#fca27b" stroke="#a9a9a9" stroke-width="1.2"/>
<text x="83.3" y="1106.6" class="lab" font-size="17" textLength="75.5" lengthAdjust="spacingAndGlyphs">27.4- 32.8</text>
<g stroke="#000" stroke-width="1.9" fill="none">
<path d="M344.4 958.7H564.6M344.4 950.7V966.8M371.9 953.2V964.6M399.4 953.2V964.6M427 953.2V964.6M454.5 950.7V966.8M482 953.2V964.6M509.5 953.2V964.6M537.1 953.2V964.6M564.6 950.7V966.8"/></g>
<text x="344.2" y="939.6" class="sc" text-anchor="middle">0</text>
<text x="398.8" y="939.6" class="sc" text-anchor="middle">0.23</text>
<text x="454.4" y="939.6" class="sc" text-anchor="middle">0.45</text>
<text x="564.8" y="939.6" class="sc" text-anchor="middle">0.9</text>
<text x="573.2" y="965.8" class="sc" textLength="98" lengthAdjust="spacingAndGlyphs">Kilometers</text>
<defs>
<marker id="mb" markerUnits="userSpaceOnUse" markerWidth="8" markerHeight="8" refX="4" refY="4"><circle cx="4" cy="4" r="3" fill="#93a2c0" fill-opacity=".78" stroke="#7d8ca8" stroke-opacity=".85" stroke-width=".9"/></marker>
<marker id="mg" markerUnits="userSpaceOnUse" markerWidth="8" markerHeight="8" refX="4" refY="4"><circle cx="4" cy="4" r="3" fill="#c8cfc1" fill-opacity=".78" stroke="#959c91" stroke-opacity=".85" stroke-width=".9"/></marker>
<marker id="my" markerUnits="userSpaceOnUse" markerWidth="8" markerHeight="8" refX="4" refY="4"><circle cx="4" cy="4" r="3" fill="#f6f9cf" fill-opacity=".78" stroke="#b4b88e" stroke-opacity=".85" stroke-width=".9"/></marker>
<marker id="mo" markerUnits="userSpaceOnUse" markerWidth="8" markerHeight="8" refX="4" refY="4"><circle cx="4" cy="4" r="3" fill="#f2c0a3" fill-opacity=".78" stroke="#c2957a" stroke-opacity=".85" stroke-width=".9"/></marker>
</defs>
<text x="1009.5" y="44.7" class="ttl" font-size="21.5" textLength="739" lengthAdjust="spacingAndGlyphs">Ordinary least square regression- dependances between mean</text>
<text x="1010.5" y="73.9" class="ttl" font-size="21.5" textLength="589" lengthAdjust="spacingAndGlyphs">LST by LCZ and major land cover types within LCZ</text>
<path d="M992.4 86.5V305.5H1719M1027.9 305.5v3M1066.7 305.5v3M1105.6 305.5v3M1144.4 305.5v3M1183.2 305.5v3M1222.1 305.5v3M1260.9 305.5v3M1299.7 305.5v3M1338.5 305.5v3M1377.4 305.5v3M1416.2 305.5v3M1455 305.5v3M1493.9 305.5v3M1532.7 305.5v3M1571.5 305.5v3M1610.3 305.5v3M1649.2 305.5v3M1688 305.5v3M992.4 305.5h-3.5M992.4 282.8h-3.5M992.4 260h-3.5M992.4 237.2h-3.5M992.4 214.5h-3.5M992.4 191.8h-3.5M992.4 169h-3.5M992.4 146.2h-3.5M992.4 123.5h-3.5M992.4 100.8h-3.5" fill="none" stroke="#c6c6c6" stroke-width="1.1"/>
<g class="tk" text-anchor="middle"><text x="1027.9" y="324.1">15</text><text x="1066.7" y="324.1">16</text><text x="1105.6" y="324.1">17</text><text x="1144.4" y="324.1">18</text><text x="1183.2" y="324.1">19</text><text x="1222.1" y="324.1">20</text><text x="1260.9" y="324.1">21</text><text x="1299.7" y="324.1">22</text><text x="1338.5" y="324.1">23</text><text x="1377.4" y="324.1">24</text><text x="1416.2" y="324.1">25</text><text x="1455" y="324.1">26</text><text x="1493.9" y="324.1">27</text><text x="1532.7" y="324.1">28</text><text x="1571.5" y="324.1">29</text><text x="1610.3" y="324.1">30</text><text x="1649.2" y="324.1">31</text><text x="1688" y="324.1">32</text></g><g class="tk" text-anchor="end"><text x="981.4" y="309.4">0</text><text x="981.4" y="286.6">10</text><text x="981.4" y="263.9">20</text><text x="981.4" y="241.2">30</text><text x="981.4" y="218.4">40</text><text x="981.4" y="195.7">50</text><text x="981.4" y="172.9">60</text><text x="981.4" y="150.2">70</text><text x="981.4" y="127.4">80</text><text x="981.4" y="104.7">90</text></g>
<polyline fill="none" stroke="none" marker-start="url(#mg)" marker-mid="url(#mg)" marker-end="url(#mg)" points="1299.3,240.3 1274.9,268.9 1363.6,275.7 1296.2,263 1295.2,305.5 1321,256.8 1250.5,266.7 1350.5,260.5 1356.9,223.7 1353.5,259.9 1315.4,256 1248.2,227.7 1341.6,217.5 1319.9,196.2 1333.5,252.9 1375.7,195.2 1309.9,299.5 1406.9,254.5 1353.5,268.1 1367.1,220.2 1181.3,258.8 1278.4,236.8 1442.5,223.2 1272.7,216.3 1523.2,187.8 1347.6,238.3 1363.1,204.3 1319.4,221.3 1311.8,220.8 1363.2,261.5 1337.8,274.5 1337.5,208.1 1291.7,262 1310.3,289.8 1364.2,233.5 1352.5,288.8 1382.1,228.2 1303,214.9 1359.7,262.7 1300.5,143.5 1298.9,216.2 1269.4,305.5 1244.2,281 1398.6,255.3 1409.3,208.2 1364.8,180.1 1390.6,229.5 1262.6,196.2 1324.9,255 1312.1,280.3 1331,234.6 1376.8,200.6 1416.7,144.2 1294,221.4 1382.4,192.8 1302,234.6 1377.9,232.9 1418.8,123.4 1290.1,218.7 1417.6,177.9 1305.6,266.1 1244.9,270.7 1314.9,248.8 1376.1,190.6 1280.4,246.2 1423.1,169.7 1315.9,275.6 1334.9,244.3 1299.3,285.6 1347.1,231 1305,278.3 1287.5,239.8 1318.3,236.8 1305.3,265.1 1415.4,241.4 1356.6,272 1388.8,223.3 1348.3,192.6 1354,273.7 1279.2,248.7 1130.4,305.5 1252.9,259.8 1375.1,254.6 1338.9,257.5 1388.2,227.5 1350.4,174.7 1394.8,282.6 1335.8,244.9 1431.5,159.4 1321.7,283.7 1274.1,277.6 1286,258.1 1329.7,298.1 1279.8,296.4 1349.8,249 1304.7,217.1 1281.1,237.8 1364.8,213.4 1345.7,213.7 1278.9,229.8 1318,300.2 1327.4,269.3 1294.6,249.5 1340.7,252 1328.3,137.8 1311.5,243.2 1365.4,220.8 1313.8,179.7 1355.7,236.9 1182.3,291 1341.6,252.8 1234.7,243.8 1421.7,255.5 1289.9,173.3 1354,237.9 1264.7,259.9 1491.8,168.7 1324.9,210.9 1420.5,283 1350.3,255.2 1374.4,256 1391.5,160.4 1287.1,225.3 1342.2,215.9 1331.6,285.6 1389.9,244.4 1253.8,238 1227.9,193.9 1289.1,208.1 1313.5,200.3 1307.9,222.8 1296.6,230.2 1354,266.1 1327.5,281.9 1387.6,204.9 1363.6,225 1330.2,195.8 1333.5,304.6 1394.4,278.3 1354.3,305.5 1330.1,256 1298.2,230.5 1375.9,241.1 1271.2,290.2 1290.2,256.5 1383,190.7 1335.6,305 1418.7,224.2 1351.7,253 1287.5,234.7 1288,288.1 1260.7,276.6 1313.1,245.1 1362.5,280.9 1293.9,251.8 1345,215.7 1255.5,303.5 1394.6,283.7 1334.4,287.2 1305.7,192.4 1310.9,223.8 1291.5,290.7 1302.5,259.6 1290.7,215.8 1345.8,225 1264.7,304.3 1306.9,236.7 1335.7,221.4 1332.4,230.9 1375.5,223.7 1327.5,274.7 1379.8,265.2 1431,222.5 1322.8,265.4 1319.1,281.8 1122.6,283.1 1420.5,240.2 1278.7,283.5 1300,240.3 1326.1,189.8 1368.5,251.6 1359.3,233.6 1362.4,252.6 1336.8,205 1317.2,246.6 1287,288.7 1266.8,269.1 1276.4,169.2 1339,240.7 1338,284.3 1335.9,232.8 994.9,299.1 1340.6,179.6 1260.2,294.2 1391.6,244.6 1242.6,257.2 1358,244.9 1383.5,260.5 1219.5,266.9 1334.5,197.6 1345.4,179.8 1356.3,216.5 1265.2,267.3 1259.9,273.3 1362.1,298.7 1355.8,174.4 1295.1,262.5 1359.3,234.5 1316.1,305.5 1323.9,278.7 1303.2,281.1 1310.4,269.5 1358.1,194 1284.4,208.6 1333.4,227.6 1338.8,251.3 1271.8,232.2 1321.6,197.3 1287.2,239 1342.5,250.6 1269.2,263 1305.6,221.2 1287.9,256.8 1324.9,270.6 1308.1,220.9 1392,194.4 1390,299.4 1403.3,212.7 1359,186.9 1304.7,269.5 1328.5,184.3 1112,268.3 1346.4,198.7 1369.7,190.1 1328.3,274.7 1289.1,248.6 1369.5,271.6 1245,262.5 1335.8,229.9 1335.8,237.1 1351.7,255.9 1316.7,240.9 1322.2,284.3 1333.7,300 1287.6,274.8 1272.5,229 1325.6,270.7 1400,245.9 1316.9,259.8 1324.1,262.7 1266.5,243.5 1345.3,233.8 1333.4,305.5 1252.7,209.7 1362.2,212.9 1291.1,190.7 1284.4,305.5 1317.5,272.9 1267.4,296.3 1352.8,174.6 1543.6,194.7 1327,254.1 1256.7,185.8 1408.7,211.4 1247.6,253.6 1368,210.2 1267.5,225.7 1281,191.7 1344.4,233.3 1139.1,290.2 1305.3,262.9 1336.5,219.9 1371.8,264.3 1341.7,254 1279.1,203.5 1409.7,152.4 1273.8,224.8 1315.6,258.4 1244.7,283.7 1317.8,257.9 1339.7,244.8 1340,172.9 1358.5,229.7 1300.7,219 1323,245 1331.6,251.3 1258.9,258.6 1377.4,305.5 1275.1,204.5 1345.6,233.7 1317.2,185.3 1378.7,178.7 1252.3,220.1 1260,195.7 1320.4,225.5 1310.3,176.6 1281.6,277 1319,226.9 1344.3,237.8 1258.9,211.9 1347.1,243.2 1325.2,223 1368.9,278.7 1310.4,226.8 1308,200.7 1357.6,267.6 1394.3,195.7 1303.1,289.1 1372.2,167.1 1284.2,287.3 1327.8,216.9 1401,270.1 1347.5,268 1245,287.8 1395.2,181.8 1371.6,301.4 1315.7,299.5 1323.7,247.6 1238.3,216 1321.3,197.2 1286.8,197.8 1132.3,305.5 1319,256.8 1337.7,220.6 1286.9,277.5 1294,240.1 1398.3,193.2 1282.3,250.9 1384.2,265.4 1372.2,298.7 1380.2,182.2 1387.2,239.1 1307.7,269.5 1289.6,260 1210.3,276.1 1359.4,212.2 1265.2,236.5 1389.3,235.6 1385.4,199 1333.5,246.7 1381.8,265.6 1249.1,268.6 1298.9,238.8 1267.8,257.7 1383.4,252.1 1284.3,303.8 1330,256.3 1287.8,242.3 1386,245.6 1277.1,243.5 1291.8,272 1314.8,197.3 1261.2,228.2 1383.5,207.1 1095.5,276.6 1062.5,267.4 1278.1,236.8 1323.1,270.2 1244.4,302.6 1272.6,260.5 1323.8,271.8 1165.2,273.4 1347.2,246.7 1299.4,262.7 1338.5,235.4 1357,201.4 1362,229 1306.9,185.7 1301.1,279 1399.3,229.7 1386.8,208.6 1245.3,259.4 1376.5,267 1275.4,193.4 1334.6,183.1 1336.5,239.3 1273.5,237.1 1281.9,285.5 1391.8,175.8 1324.6,194.4 1391.5,234.8 1330.5,219.5 1310,191.8 1307,180.1 1354.8,247.7 1308.4,189.2 1360.1,239 1311.9,222.8 1275.3,265 1376.5,223.5 1270.5,296.9 1302.1,220.4 1374.7,238 1346.8,232.3 1370.3,192.1 1283.8,278.7 1310.2,266.6 1261.8,209.5 1317.6,284.1 1290.4,240.3 1311.1,197.2 1265.6,272.3 1034.8,296.5 1342.2,253.5 1424,224.3 1313.5,230.9 1358.5,243.1 1351,237.8 1334.5,280.6 1319.2,279.9 1399.4,159.2 1339.4,247.8 1270.1,171.8 1219.7,234.4 1380.4,237.7 1321.7,248 1386,227 1318.4,215.5 1345.1,182.4 1350.8,231.2 1352.1,201.7 1366.7,237.1 1287.2,277.7 1224.6,289.4 1396.6,213 1322.1,200.1 1362.4,197.2 1362.4,232.4 1345.3,217.6 1299.4,277.4 1307.9,223 1350.2,191.1 1347,195.3 1318.6,236.7 1413,159.9 1361.7,233.1 1285.8,305.3 1382.6,287.5 1385.8,227.2 1175.7,305.5 1358.4,234.8 1274.6,261.8 1353.7,205 1135.5,255.6 1313.6,240.3 1288.2,218.3 1343.8,299.9 1404.7,209.9 1281.7,269.8 1277.2,247.4 1360.3,168.2 1322.6,211.5 1320.5,204.9 1279.3,290.9 1332.4,305.5 1307.6,234.4 1312,257 1361.5,226 1331.1,237.9 1343.8,272.2 1366.7,295.5 1377.5,207.4 1274.4,247.4 1307.8,301.8 1295.8,300.5 1280.7,221.3 1387.6,192.6 1296,235.3 1247.2,256.8 1235.4,262.5 1402.3,257.2 1321.2,292.4 1261.5,205.6 1305.9,184.6 1337.6,211.1 1238.7,248.3 1318.3,267.6 1229.8,235.2 1377.5,243.8 1252.9,280.7 1326.2,198.1 1218.6,229.4 1391.3,243.3 1378.2,291.4 1333.1,240.6 1331.9,273.2 1366.4,190.9 1371.3,204 1365.3,293.4 1306,305.5 1274.1,295.5 1315.8,234.8 1355.4,281.7 1310.1,297.8 1318.3,280.7 1263.2,264.3 1432.4,207 1351.3,221.9 1355,214.7 1379.2,195.7 1385.5,227.2 1266.3,251.3 1321.5,166.8 1343.3,305.5 1369.7,191.6 1342.7,231.8 1323.4,206.5 1289.8,223.5 1201.1,305.5 1360.5,273.6 1273.8,303.2 1299.4,164.4 1162.2,258.7 1360.1,196.9 1293.3,279.7 1301.4,236.2 1311.4,189.7 1266.8,226.3 1303.6,203.1 1301.1,246.6 1357.1,216.7 1363.1,250.4 1325.8,238.4 1178.8,305.5 1292.6,264.3 1319.1,245.4 1259.2,247.1 1357.1,216.1 1378,217.3 1369.3,231.9 1402.2,246.6 1295.8,166.3 1354.1,250.5 1320.8,258.8 1312.8,297.7 1334.3,237.7 1244.4,275.7 1338.4,199.1 1352.6,250.3 1326.6,282.8 1280.8,274.3 1325.4,236.8 1313.7,254.3 1267.2,272.1 1326.2,251.9 1290.2,229.3 1322.1,269 1271.5,291.8 1387.5,231 1287.9,243.4 1298.2,186.9 1409.3,227 1298.9,264.6 1275.3,189.5 1357.7,216.3 1245,244.5 1358.2,305.5 1283.1,248.3 1387.6,289.5 1314.3,249 1130.9,229.3 1375.9,267.7 1313.9,270.6 1280.2,290.9 1362.9,193.9 1309,301.4 1247.5,230.1 1368.1,231.9 1287.5,239.8 1250.6,182.6 1380.3,230.8 1276.8,195.5 1274.1,285.9 1295.5,199.8 1351.1,246.5 1204,232.7 1199.7,290.9 1301.7,270.8 1266.4,231.6 1284.4,255.2 1322.7,185.5 1335.5,155.8 1367.4,215.3 1262.2,273.1 1286.1,248.5 1265.7,199.8 1349,243.6 1312.2,238.3 1251.3,262.3 1354.4,264.7 1315.4,262.1 1342.6,225.2 1307.6,276.2 1358.5,230.2 1257.6,229.4 1368.1,256.3 1288.4,305.5 1374.2,286.7 1348.4,294.1 1332.5,229.3 1311.7,276.8 1347.3,279.1 1253.7,305.5 1275,185.4 1265.5,295.8 1297.4,189.5 1358.2,218.3 1274.2,268.4 1361.2,289 1330,228.7 1369.5,222.3 1383.9,227.3 1274.9,305.5 1259,289.6 1283.1,265 1229,300.7 1271.7,243.3 1303.2,275.4 1277.4,305.5 1335.6,226.6 1260.5,186.8 1350.9,253.9 1310.8,265.5 1348.5,245.8 1369.8,276.1 1358.6,165.7 1327.3,159.5 1416.4,245.3 1266.2,237.5 1346.4,226.4 1414.5,225.4 1293.6,238.5 1227.8,293 1338.5,246.1 1281.6,305.5 1359.3,211.7 1262.8,247.4 1362,253.5 1344.6,186 1336.3,182.5 1234.7,220.8 1394.4,249.2 1316.2,257.6 1369.1,284 1035,293.6 1349.4,272.7 1291.5,256.5 1332.9,286.2 1381.5,219.1 1421.8,282.6 1303,208.7 1320.7,268.1 1365.8,183.4 1392.3,218.1 1245.3,271 1322.3,200.8 1352.1,200.4 1283.1,212.5 1376.2,237.8 1362,235.6 1344,234.2 1232.6,231.3 1277.7,305.5 1306.4,273.3 1253.4,303.5 1272.1,263.2 1299.3,189.2 1286.9,230.7 1347.2,289.7 1255.5,183 1367.7,222.7 1301.3,266.5 1318,274.4 1287.8,242.6 1313.3,190.5 1338.2,264.4 1314.7,216.5 1306,252.3 1256.8,241.5 1361.2,272.1 1314.4,276.1 1318.7,242.1 1322.5,284.4 1309.3,226.2 1283.8,257.9 1298.1,292.2 1353.8,251.2 1319.1,180.7 1337.9,305.5 1297.8,204.2 1351.6,251.5 1357,287.7 1337.4,291.1 1202.4,206.1 1390.3,245.4 1278.7,273.6 1270.8,220.4 1404.8,205.9 1262.4,280.6 1272,302.2 1359.5,298.8 1273.3,271.8 1348.9,278.9 1246,290.5 1336.7,218.2 1338.5,235.7 1342.6,229.3 1300.7,305.5 1293.3,228.5 1296.6,224.7 1375.5,215.4 1347.2,242.9 1272.8,236.7 1358.6,235.3 1363.2,242.8 1310.8,239.4 1331.8,217.1 1324.3,215.2 1313.2,260 1276.9,228.7 1339.9,276.2 1338.6,218.5 1320.8,276.4 1289,234.7 1277.3,266.2 1390.9,267.7 1361.6,276.9 1316.2,257.3 1408.7,252.4 1312.9,233.4 1402.5,264.7 1273.1,200.8 1357.4,217.2 1305.7,266 1308.8,243.1 1259.5,192.3 1303.4,260.9 1326.1,208.2 1236.9,231.5 1258.6,295.3 1216.7,224.7 1395.6,216 1303.5,246.8 1287.6,213 1286.5,234.7 1316.7,252.5 1364.7,183.1 1360.5,233.2 1298.9,256.4 1335.6,202 1314.9,220.1 1305.6,242.9 1338.2,237.4 1273.8,256.6 1241.2,247.1 1266.5,231.7 1342.3,224.7 1415.8,212.4 1294.9,271.2 1347.3,255.7 1279.4,203.5 1329.1,279.4 1283.8,255.1 1371.6,240.6 1360.8,175.4 1317.6,242.4 1342.2,204 1329.9,215.1 1355.8,286.3 1365.4,271.8 1336.6,232.4 1322.7,269 1384,293.1 1248.3,275.5 1408.7,154.1 1350.6,270.5 1334.3,222.1 1307.4,264.4 1307.6,189.3 1341.4,291.1 1295.3,204 1274.9,270 1228.1,263 1261.4,227.4 1304.8,235.5 1261.9,180.3 1340.5,209.9 1281.5,282.9 1268.2,265.7 1265.4,227.7 1386.5,182.2 1393,238.3 1311.2,280.6 1363.1,305.5 1322.9,281.6 1385.4,228.5 1303.4,296.1 1301.7,273.9 1395.1,285.7 1302.5,267.5 1336,224.2 1301.7,290.4 1330.7,249.3 1032.3,292.4 1425.7,199.2 1310.1,225.5 1438.5,232.5 1272.8,214.1 1391.6,180.2 1340.2,260.7 1273.4,218.6 1347.3,269.2 1251.9,231.9 1264.6,298.6 1309.2,256.8 1350,246.7 1355.9,278.1 1311.9,278.8 1336.9,254.6 1203.6,244.5 1302.5,221.6 1416,227 1349.5,214.2 1347.5,217 1316.4,300.4 1305.2,200.3 1334.5,207.7 1258.3,218.5 1284.7,235.9 1319.3,298.1 1366.4,268.9 1303.2,251 1321,229.3 1343.6,195.1 1235.1,274.1 1326.6,218.4 1314.6,175.6 1309.5,245.7 1341.8,186.3 1292.9,279.6 1291,214.5 1209.7,270.6 1338.6,230.3 1296.4,178.5 1382.7,203 1336,233.6 1395.5,220.2 1322.4,179.3 1324.9,237.7 1311.2,233.5 1362.9,261.6 1308.2,206.5 1421.5,191.1 1374.7,172.1 1303.8,271.1 1270.8,305.5 1179.8,282.8 1216.5,271.7 1373.3,253.6 1327.7,208.8 1309.3,256.9 1343.3,272.7 1293.7,273.3 1377,273.6 1342.3,260.2 1370.7,298 1330.2,261.8 1302.2,230.8 1259,234.6 1370.2,225.2 1324,273.9 1385.6,244.6 1417.8,191.1 1383,231 1295.8,222.2 1366.7,237.7 1288.5,246.3 1390.6,276.8 1299.4,263.5 1315,197.6 1389.4,153.5 1336.6,230 1328,229 1375.9,245.9 1352,216.7 1355.6,204.3 1342.2,163 1368.1,247 1345.2,214.2 1278.6,252.9 1306.8,233.5 1333.7,245.3 1338.5,281.9 1332,193.3 1267.1,236.1 1272.3,301.5 1314.4,280.1 1245.4,225.6 1366.1,238.2 1259.3,294.3 1354.6,232.8 1322.8,214.4 1288.2,141.4 1337.3,305.5 1390.1,243.2 1372.4,217.8 1279.8,230 1307.3,292 1277.1,268.8 1393.7,192 1331.7,294.9 1313.7,270.6 1367.9,260.6 1313,278.7 1275.6,277.2 1292.8,305.5 1300.4,256.3 1359,263.4 1302.1,262.4 1050.8,298 1312.2,289.6 1367.9,212.1 1267.3,249.1 1315.1,222.5 1101.8,296.7 1340.5,295.8 1379,236.4 1326.7,247.5 1299.7,261.4 1352,218.9 1338.4,208.7 1348.3,244.7 1295.5,203.2 1321,273.1 1326.6,215 1356,213.7 1356,268.2 1416,252.9 1340.1,305.5 1275.8,229.5 1320.8,194.6 1351.8,105.2 1286.5,219.3 1385,242.7 1309.1,205.6 1240.2,298.4 1307.5,219.2 1348,245.6 1342.6,272.6 1257.2,278.7 1373.7,280.5 1330.6,188.5 1129.7,287 1324.4,212.4 1331.3,197.1 1332.5,289.3 1303.6,201.1 1323.4,252.2 1306.5,236.9 1233.7,298.2 1225.2,277.4 1282.3,294.5 1322.8,203.8 1369.2,188.2 1260.8,287.8 1411.9,276.3 1282.7,210.9 1330,223.1 1363.4,205 1326.6,258.1 1354,224.6 1358,191.4 1282.5,248.9 1283.1,199.5 1357.6,281.7 1314.6,211.7 1351.7,233.3 1291.2,286.4 1304.6,287.4 1374.1,226.9 1386.1,218.9 1272.8,279.1 1308.7,215.8 1401.4,235.5 1422.8,188 1261.8,286.8 1439.7,239.3 1341.5,162.9 1305.2,237.2 1308.6,195.9 1342.6,151.7 1323.5,291.4 1328.1,277.2 1317,264.4 1352.3,238.3 1360.3,227.5 1286.7,279.6 1249.3,243.9 1289.4,305.5 1301.8,275 1295.2,258 1307.6,302.3 1333.2,265.6 1308.3,286.3 1388.7,228 1319.6,299.1 1319.5,296.7 1385.6,207.6 1293.8,294.5 1327.9,275.4 1309.1,225 1296.5,252 1361.7,245.4 1267.3,280.9 1352.8,213.1 1300.5,249.7 1227.4,259.6 1275.1,268.5 1279.8,264.1 1227.9,301.7 1260.5,279.1 1337.7,274.4 1383.3,219 1326.7,223.8 1282.4,187.7 1283.6,272.3 1305.1,224.5 1306.7,293.1 1356.5,201.1 1300.2,283.4 1353,299.5 1221,290.6 1295.9,268.2 1210.6,226.4 1299.7,305.5 1246.3,244.4 1344.1,280.3 1117.6,299.9 1293.3,284.4 1330.4,284.8 1295.4,219.8 1268.9,304.5 1390.5,265.1 1340.5,297.5 1317.4,255.4 1331.3,172.4 1400.5,205.8 1332.1,251.6 1318.2,233.4 1393.4,245.5 1296.1,230.2 1356.2,305.2 1386.8,185.5 1325.5,279.1 1353.7,182.8 1178,249 1320.8,252.1 1235.2,224.7 1312.2,260.2 1356.5,184.3 1297.9,195.6 1315.5,266.6 1353.5,232.2 1527.6,203.6 1352,304.3 1266.4,220.1 1302,161.8 1175.6,245.1 1310.1,282.8 1301.5,194.2 1274,243.4 1373.9,294 1346,240.7 1319,231.9 1265.5,225.8 1359.7,280.3 1310,232.8 1352.5,252.2 1359,239.6 1541.6,239.6 1273.6,305.5 1353.4,184.5 1312.7,303.9 1344.4,247.5 1295.5,224.5 1266.9,271 1253.7,305.5 1328.2,245.5 1269.8,236.4 1367.6,193.8 1311,286.2 1268.2,244.2 1311.6,262.5 1325,229.1 1340.7,187.4 1328.6,253.4 1284.5,247.8 1355.9,267.3 1145.9,247.7 1350.1,235.7 1311.9,253.3 1236.7,289.8 1297.6,204.1 1317.9,246.7 1350.1,258.3 1375.2,208.6 1300.2,211.1 1345.5,169.4 1208.1,255.6 1396.8,269.2 1291.7,273.3 1359.9,243.3 1395.8,237.7 1303.4,194.3 1308.1,226.1 1274.4,293.1 1273.3,257.6 1261.4,215.6 1331.9,250.5 1390.3,270 1320.8,282 1303.7,216.1 1341.9,225.8 1343.5,253.3 1299.3,230.2 1341.7,270.3 1373.8,216.9 1357,206.8 1347.5,201.3 1312.7,235.3 1470.4,156.2 1326.7,263.5 1348.9,251 1387.6,229.9 1331.4,223.1 1387.9,224.5 1092,300.4 1232.4,305.5 1277.4,275.6 1336.9,290.8 1259.6,305.5 1307.8,301.5 1352.9,267.1 1311.9,305.5 1276.5,302.6 1344.8,282.5 1325.9,305.5 1346.1,250.3 1265.2,274.5 1244,305.5 1455.2,216.8 1358.5,179.9 1298,302 1316.1,233.2 1301.1,246.1 1343.9,261.4 1216.9,270.8 1374.1,190.5 1283.9,245.4 1295.7,300.4 1235.1,254 1310.9,253.3 1333.7,255.5 1340.8,222.6 1360.5,293.5 1347.7,288.5 1075.7,287.8 1304.5,210.9 1290.5,270.8 1330.2,229.9 1320,287.9 1288.5,261 1278.9,279.4 1310.4,243.6 1226.4,287.3 1340.2,275.8 1381.4,270.5 1319.2,219.4 1400.6,219.3 1364.4,155.5 1313.5,200.5 1334,259.7 1304.3,221.5 1349.2,217.1 1335.6,259.7 1369.4,206.9 1336.1,240.9 1297.8,198.5 1308.7,274.2 1352,280.2 1340,214.2 1240.8,222.5 1288.2,217.2 1311.2,253.5 1314.4,279.8 1382,248 1280.5,238.7 1265.5,269.1 1285.9,291.1 1315.7,213.5 1300.4,249 1277.6,247.6 1364,266.9 1252,303.2 1407.6,253.1 1311.6,283.6 1282.8,215.5 1362,243.7 1329.5,302.4 1315.2,248.3 1387.2,222.8 1360.3,153.7 1331,273.4 1354.2,129.1 1396.9,233 1317.5,267.4 1349,154.3 1364,193.1 1319.1,194.9 1381.8,269.5 1337.6,216.1 1324.3,224.7 1288.9,204 1293.7,278.6 1365.6,248.5 1360.3,226.2 1401.5,233.3 1324.1,210 1270.8,275.6 1378.6,222.3 1339.8,213.3 1342.6,274.9 1336.8,228.3 1395.1,208.6 1403.4,215.4 1351.7,241.2 1383.4,225.3 1302.2,248.1 1378.7,267.8 1360.5,277.3 1466.3,166.6 1334.5,230.8 1294.5,252.5 1299.8,235.7 1352.5,257.5 1316.6,226.4 1282.2,256.7 1249.8,234.4 1349,232.2 1354.3,268.3 1294.9,297.5 1366.2,254.1 1349.1,284.8 1308.5,256.1 1290,275.3 1324.4,204.9 1369,272.6 1279.8,215.1 1328,228 1071.6,269.3 1317.2,260.5 1341,256 1120.5,295.9 1381.9,207.9 1399.3,188.5 1336.4,204.5 1304.8,270.6 1387.1,224.1 1260.9,255.2 1355.7,240.7 1288.4,289 1348.6,277.9 1337.2,304.3 1358.9,271.7 1344.6,247.6 1281.2,227.6 1340.3,246.3 1356.9,242.4 1323.2,257.2 1262.2,161.9 1292.1,207.1 1316.1,279 1386.4,246.6 1287.8,205.7 1238.4,271.7 1335.4,263 1276.6,274.9 1360.5,229.3 1303.3,190.4 1325.8,219.9 1366.9,227.6 1340.5,191.7 1303.6,258.5 1365,227.1 1330.1,250.3 1299.7,236.9 1333.8,249.2 999.6,287.7 1403,248.1 1271.7,209.9 1422,175.5 1330.1,244.2 1306.4,242.8 1313.6,247 1291.3,218.9 1338.7,305.5 1363,218.8 1310.7,210.4 1345.4,298.4 1329.5,222.4 1294.2,305.5 1343.1,201.4 1287.2,259.4 1335.5,243.2 1493.5,208 1375.3,211.2 1286.5,292.3 1320,275.5 1308.6,305.5 1323.3,190.8 1366.8,241 1299.2,271.7 1375,284.8 1259.9,229.8 1318.7,214.4 1295.1,221.9 1283.5,242 1410.4,148.1 1295.3,276.6 1327.6,222.8 1348,262.8 1373.5,246.3 1263.5,270.4 1305.1,187.3 1344,194.9 1324.6,289.5 1295.3,277.7 1287.9,259.9 1313.9,229.1 1278.4,238.7 1313,305.5 1366.5,305.5 1261.3,211.7 1276.7,237.4 1380.8,254.6 1320.8,255.6 1329.9,260.8 1349.8,220.7 1364.6,221.1 1383.2,234.2 1290.6,213.3 1313.7,173.4 1372.7,192.3 1372.1,205.4 1331.4,205.1 1334.9,228.3 1279.6,220.8 1344.7,235.3 1374.6,244.2 1404.3,212.6 1312,274.2 1319.4,221.4 1379.6,236.6 1101.1,305.5 1328.4,300.4 1362.9,217.6 1365.2,277.9 1159.6,265.2 1409.9,252.4 1303.9,240.6 1344.7,284.2 1350.4,210.4 1295.5,274.6 1312.3,242 1406.2,236.9 1320.7,257.4 1273.3,302.6 1398.6,198.5 1349.5,290.4 1264.9,282.5 1359,289.4 1384,190.1 1355.9,181.3 1292.8,262.9 1441,235.4 1248.8,221.1 1313.1,267.1 1344.7,238.6 1297.8,237.5 1353.4,267.5 1366.9,240.9 1339.6,274.3 1336.5,236 1402.3,247.4 1294.3,175.1 1253.2,226.3 1256.7,194.7 1346.3,260.6 1345.3,216.2 1335.7,230.1 1319.1,214.4 1412.4,275.8 1324.5,291.3 1264.9,270.1 1329.4,226.6 1288.4,181.6 1279.5,266.9 1339.8,265.1 1248,305.5 1263.6,205.2 1291.8,164.4 1405.7,232.3 1434.1,204.7 1305.4,200.3 1276.5,256.4 1268.2,233.2 1343.7,230.5 1349.8,271.8 1321.8,268.7 1356.3,221.8 1389.8,253.5 1192.1,304.9 1353.2,245.3 1298.2,237.1 1298.9,205.7 1382,270.9 1346.1,292.3 1350.4,278.4 1320.9,203.9 1414.9,208.7 1311.7,267.1 1296.7,264.3 1344.5,263.3 1370.6,243.7 1336.2,284.9 1391.7,255.8 1381.5,189.5 1336.1,256.5 1320.9,265.8 1395.7,255.5 1380.8,242.7 1408.7,281.5 1348.3,305.5 1333,233.1 1347.5,266.8 1328.4,302.6 1350.3,259.3 1363.3,277.3 1382.9,287.8 1347.9,252.8 1366.4,270.2 1321.1,257.2 1415.3,224.8 1439.2,267.8 1321.2,294.7 1319.1,248.9 1364.2,204.4 1325.1,305.5 1308.5,222.3 1326.7,195.3 1291.5,257.6 1296,258.5 1384.9,171.3 1310.3,218.6 1338.4,182.5 1388,267.4 1339.3,267.2 1345.2,251 1389.6,244.8 1303.7,224.9 1339.8,251.5 1271.9,245.1 1355.3,261.2 1338.5,206.1 1282.8,236.1 1297.2,278 1298.1,212.4 1418.5,220.7 1387.6,289.3 1337.3,287.3 1283.3,182.3 1334.5,242.6 1337.6,168.9 1261,260.8 1419.9,265 1427.8,204.6 1327.2,278 1334.9,234.8 1264.8,248 1358.3,189.1 1293.7,190.1 1367.3,203.3 1314.1,251.9 1323.8,229.7 1373.3,228 1319.7,209.4 1289.3,249.4 1314.8,254.8 1327.2,274 1343.7,221.4 1350.9,250.3 1347.9,269.3 1285.4,287.9 1327.5,240.3 1259.5,227.4 1307.4,295.2 1284.3,258.4 1306.5,262.1 1267.7,234.6 1370.5,263.9 1405.8,238 1299.7,279.6 1361.5,274.2 1396,203.2 1368.5,228.4 1361.7,205.6 1331.3,210.2 1439.7,265.5 1285,241.5 1300.6,230.4 1333.2,243.3 1429.3,190 1330.1,151.5 1347.5,258.3 1340.3,227.6 1355.5,225.7 1354.3,267 1387.2,249.9 1273,240.4 1342,301.3 1310.2,190.2 1325.6,203.7 1396.8,265.3 1320.7,255.1 1175.9,242.2 1349.5,193.7 1249.6,254.2 1327.5,271.3 1345.3,247.8 1130.9,296.4 1260.2,299.5 1271,202.9 1334,226.4 1372,254.9 1285.4,192.6 1333.8,255.3 1363.4,198.4 1279.1,293.4 1366.9,227.1 1381.4,287.4 1354.2,292.9 1335.8,176.5 1255.3,246.6 1349.5,203.6 1260.8,226.4 1357.5,287.5 1348.1,285.7 1340.1,219.4 1244,227.9 1363.8,237.4 1332.2,223.5 1388.2,252.2 1280.7,305.5 1281.9,270.9 1326.8,289 1315.3,179.6 1355.6,249 1375.7,240.4 1311.5,225.7 1334.4,164.8 1407.8,193.5 1382.4,201.5 1337.1,301.3 1297.3,249.7 1332.1,273 1337.2,291.9 1315.5,226.3 1166,273 1465.9,167.1 1307.2,231.8 1356.4,221.8 1294.3,255.6 1380.3,275 1280.3,271.5 1285.3,268.8 1326.5,290.8 1434.1,229.1 1259.7,236.7 1394.2,305.5 1296.7,168.6 1311.8,244.7 1387.1,286.7 1368.5,292.9 1314.5,250.6 1384.6,235.5 1374.8,237.6 1370.6,300.2 1389.2,191.6 1311.9,242.2 1310.8,245.6 1316.6,261.4 1377.3,232.2 1357.8,229.9 1349,302.1 1343.1,273.8 1252.6,280.3 1341.7,254.4 1278.8,288.6 1371,245.7 1263.9,175.9 1300.7,238.5 1370,240.6 1286.5,302.4 1232.8,300.3 1349,275.5 1426,218.1 1239.9,295.8 1374.5,250.5 1318.5,246 1406.2,284.6 1367.5,294.9 1260.1,233.3 1321.1,204.8 1365.2,225.7 1380.6,256 1297.2,223.2 1389.7,264.5 1373,238.7 1352.4,245.8 1247.1,277.4 1328.3,201.1 1326,219.3 1304.3,266.4 1316.2,198.6 1324.9,250.2 1341.5,238.9 1335.8,265.2 1377.8,242.1 1409.7,169.6 1342.4,208.9 1323.9,274 1322.7,252.9 1300,228.7 1295.5,212.2 1370.6,204.4 1395.2,184.5 1241.8,251.7 1539.9,249.1 1369.3,267.6 1057.5,288.3 1312.4,251.4 1353.1,205 1375.6,237.4 1370.9,190.6 1353.7,175.4 1292.8,253.2 1414,190.5 1290.5,220.5 1324,261.5 1412.3,187.8 1345.4,291.9 1402.1,288.7 1340.9,271.5 1286,265.8 1337.4,247.8 1284.9,145.4 1304.1,267 1263.6,263.1 1288.3,215.6 1260.4,283.5 1292.3,212.1 1366.3,304.9 1340.9,236.2 1291.8,253 1321.5,299.9 1401.3,218.7 1436.6,222.4 1336.2,280.2 1292.8,239.8 1320.6,227.9 1318.4,284.1 1330.9,247.9 1406,225.8 1282.6,262.9 1332.4,296.9 1255.5,204.7 1405.4,228.6 1380.3,268.5 1289.6,264.8 1300.9,204.1 1385.7,257.3 1286.7,266.1 1108.4,283.3 1232.6,272 1348.6,202.1 1339.4,253.1 1285.3,195.1 1350.8,239.8 1337,240.6 1308.7,218.5 1361.7,212.6 1271,272.9 1288.4,211.9 1376.1,237.6 1293.1,305.5 1327.9,228.6 1375.7,245.9 1264.3,189.3 1316.5,244.3 1233.3,262.3 1386,248.1 1300.6,250.4 1186.1,259.3 1325.6,257.4 1345.6,242.1 1321.8,255.7 1335.8,244.6 1199.5,252.6 1374.8,164.9 1432.7,228.7 1309.7,190.2 1327.4,253.9 1325.9,262.3 1408.4,192 1358.3,275.5 1290.5,262.4 1360.3,287.2 1313.8,305.5 1339.7,237.3 1319.7,244.6 1310.3,245.7 1323.5,228.9 1319.9,262.7 1360.6,199.5 1348.1,218.7 1319.6,255.5 1409.7,223 1349.2,281.1 1310.4,232.6 1265.2,277.5 1341,214.8 1276.1,198.4 1300.3,212.4 1288.5,267.4 1282.4,234.3 1405.9,174 1284.7,245.1 1310.3,207.3 1334.4,239.3 1381.9,177.9 1270,302.3 1419.3,269 1293.5,301.7 1227.6,261 1333,220.5 1366.1,197.1 1356.6,288.5 1351.2,210.2 1416.2,231.3 1329.1,264.4 1331.5,203.5 1389.7,234.7 1305.6,191.2 1365.1,213.7 1421.2,168.7 1385.2,154.3 1359.8,164.8 1324.4,245.3 1333.6,235.1 1409.1,206 1345.7,218.9 1453.2,286.1 1339.3,217.9 1356.9,303.8 1348.6,188.4 1373.4,241.4 1327.1,289.5 1352.7,227 1257.8,289.9 1295.9,305.5 1393.4,235.2 1309.7,305.5 1270.4,245.8 1326.1,228.9 1330.2,247.5 1361.9,223.4 1294.8,214.9 1269.6,245.5 1351.8,290.3 1301.9,196.8 1352.2,246.3 1314.1,234.4 1233.4,290.5 1327.8,263.6 1350.3,258 1358.9,266.4 1361.9,198.7 1385.6,153.7 1336,229.2 1295.1,273.9 1346.5,250.5 1305,251.6 1126.9,260.1 1303.4,276.7 1284.8,295.5 1318.2,293.3 1291.9,249.3 1362.1,205.6 1228.4,187.8 1318.8,235.2 1366.4,239.5 1371.2,233 1306.2,282.4 1370.7,164.3 1400.3,226.4 1295.3,261.4 1367,273.7 1293,235.3 1277.6,237.7 1310.9,293.5 1351.7,252.8 1323.3,183.4 1355.2,245.4 1325.1,258.7 1448.9,205.2 1373.3,165 1237.5,225 1301.8,196.8 1334.2,257.7 1378.8,273.9 1283.6,281.9 1301.2,239.5 1311.3,183 1455.7,170.6 1316,291.5 1307,223 1321.3,253.1 1256.1,273.9 1341.8,274.5 1259,270.3 1274.9,267.9 1335.4,210.2 1316.8,241.3 1440.5,153.7 1344.9,246.1 1278,234.2 1299.9,248.4 1321.1,237.3 1406.2,206.7 1315.6,195.7 1317.1,275.3 1260.5,240.5 1291.9,187.1 1432.7,195.9 1293,243.2 1343.5,245 1317.1,182.4 1264.9,291.7 1355.9,236.4 1297.1,180.6 1421.2,228.8 1298.6,267.3 1342.9,220.9 1349.1,209.7 1308.5,253.5 1257.1,247.7 1391.3,257.3 1388.4,235.9 1280.5,240.8 1333.4,247.6 1392.9,226.2 1314.4,234.6 1287.2,179.3 1373.5,189.4 1303.2,206.1 1321.7,220.7 1308.4,216.1 1283.6,242.3 1269.7,211.2 1318.7,221.8 1134.8,284.6 1312.1,300 1314.6,255.4 1355.8,194.5 1359,270.9 1378,212.7 1345.1,293.3 1300.4,295.8 1279.1,256.1 1357.3,283.5 1333,245.8 1327.4,217.3 1333.4,190.6 1359.6,267.9 1375.5,240.3 1359.1,305.5 1285.5,280.5 1321.7,286.5 1335.2,190.6 1283.7,251.9 1298.6,234.4 1283.8,179.8 1347.9,208.4 1310.5,281.3 1275.6,290.5 1302.8,302.7 1260.6,259.9 1324.2,212.8 1298.7,177.5 1374.7,215.2 1289.3,269.3 1364.3,246.6 1330.9,259.1 1403.4,237.2 1326.3,173.2 1310.9,247.4 1288.2,270.3 1335.9,301.9 1267.2,232.4 1255.3,272.4 1348.2,165.9 1323.3,266.1 1325.9,156.8 1330.4,245 1391.5,277.2 1275.8,258.9 1255.3,288.9 1305.9,292.2 1299.3,236.9 1264.9,262.9 1284.8,234.3 1282.2,241.1 1397.2,263.1 1298.5,224 1307.4,230 1381.5,203.9 1366.5,238.8 1252.3,169.3 1358.6,280.9 1307.1,204.3 1375,249 1267.4,251.1 1392.1,238.3 1294.2,280.7 1329.2,275.8 1284,226.4 1234.7,284.4 1278.5,233.8 1295.6,201.9 1260.7,228.7 1212.8,269.4 1356.6,220.9 1340.1,260.5 1266.5,183.3 1270,254.6 1270.5,252.8 1337.8,286.6 1377,219.7 1459.8,203.4 1383.9,199.4 1316.9,183.7 1384,295.6 1421.9,218 1351.6,305.5 1281.9,253.6 1341.4,194.7 1351.3,282.5 1370.3,199.1 1382.6,204.9 1335.1,250.4 1338.6,285.2 1457.4,261.8 1276.1,278.2 1352.9,253.1 1321.6,248 1168.2,252.8 1285.3,245.2 1378,296.3 1290.5,247.4 1329.3,251.7 1286.7,205 1426.6,230.7 1335.1,305.5 1272.3,260.5 1342.1,204.6 1333.5,247.2 1274.5,225.8 1494.4,192.2 1330.7,248.8 1346.5,238.2 1385.8,202.4 1249.2,257.5 1330.4,206.2 1309.5,236.2 1336.2,275 1271.8,304.7 1363.7,207 1335.2,305.5 1391.5,217.7 1290.6,197.8 1207,230.3 1344.5,206.4 1328.6,210.3 1382.1,187.5 1342.4,268.5 1347.8,245.3 1347.7,235.3 1350.6,248.6 1322.3,201.8 1259.6,277.9 1353,232 1375.2,286.5 1352.2,281 1321.1,305.5 1365,227.4 1322.7,305.5 1276.4,210 1408.8,186.4 1342.8,188.6 1387.2,208 1296.8,263.9 1284.6,235.4 1304.8,254 1318.4,207.4 1333.4,237.7 1345.3,279.1 1318,275.1 1371.4,200.2 1278.8,192 1327.9,179.9 1348.8,240.7 1304.2,180 1289.5,221.7 1313.2,268.8 1311,213.5 1325.7,213.2 1323.7,207 1348.5,180.9 1324.8,201.6 1356.5,198.5 1269.3,179.8"/>
<polyline fill="none" stroke="none" marker-start="url(#mb)" marker-mid="url(#mb)" marker-end="url(#mb)" points="1218.9,217.3 1234.4,218.9 1249.8,297.2 1107.1,305.1 1172.4,259.8 1263.6,267.7 1291.2,219.6 1155.6,284.1 1069,260.4 1229.2,253 1030.2,299.2 1047.6,295.1 1199.8,258.2 1176.5,254.3 1141.5,266.8 1210,305.5 1028.7,287.4 1237.1,290.5 1285.4,280.1 1289.9,284.9 1249.8,277.3 1235,224.7 1110.2,304.6 1279.9,266.2 1041.7,305.5 1283.5,304.3 1174.2,272.8 1279.8,225.9 1194.9,295.6 1110.8,297.1 1212.1,283.4 1235,223.9 1119.8,260.4 1141.7,285.7 1231.5,291.2 1285.4,224.2 1134.1,305.5 1254.2,230.7 1211.2,280.2 1193.6,286.5 1132.6,290.5 1281.3,239.7 1207.9,211.1 1244.1,266.6 1228.2,284.3 1296.9,259.3 1176.2,232.2 1205.4,227.8 1238.2,198.3 1330,175.6 1127.4,294.9 1113.3,280.9 1058.3,275.5 1123.7,283.5 1309.3,268.4 1187.7,256.9 1278.9,297.7 1247.9,305.5 1229.2,285.6 1193.9,283.5 1135.9,259.1 1139.1,246.2 1244,305.5 1127.1,300.9 1203.4,221.7 1260.6,274.5 1122.3,279.1 1186.7,300.3 1005.8,284.7 1258.1,287.3 1243.1,305.5 1168.9,300.8 1240.1,305.5 1234.4,253.6 1275.5,259.3 1147.7,245.5 1217.1,237 1260.3,289.8 1198.1,304.3 1317.5,197.8 1218.7,273 1207.2,298.6 1213.6,296.2 1144,282.4 1165.4,300 1150.4,258.4 1257.8,264.5 1106.7,279.5 1265.1,277.2 1131.5,302.7 1168.4,287.3 1200.4,242.5 1211.5,244.7 1278.6,247.4 1105.8,270.2 1281,274.5 1096.4,298.4 1179.6,258.4 1244.4,278 1142,304.9 1222.4,288.1 1261.5,278.5 1252.4,251.5 1244.2,180.8 1234.5,221.4 1180.2,255.3 1269.8,252 1155.3,284.1 1293.3,249.3 1255.3,231.7 1223.8,202.2 1145.5,255.1 1099.3,305.1 1249.8,249.8 1128.3,258.9 1233.1,253.1 1043.7,299.5 1229.9,265.7 1111.4,266.2 1164.7,277.8 1271.6,214.7 1231.5,301.8 1267.4,279.8 1108.7,273.5 1257.6,291.2 1157.5,297.6 1263,297.9 1216.6,281.7 1145.4,277.2 1126.6,267.3 1244.2,286.7 1138.3,272.2 1235.3,283.3 1286,275.9 1356.6,305 1266.1,288.3 1217.9,251.9 1099,296 1171.3,304.9 1193.5,290.7 1050.1,260 1145.8,265.3 1316.3,284.2 1115.1,291.7 1297.8,279 1147.4,248.4 1030.3,302.6 994.1,304.2 1246.5,231.1 1014.1,302 1155.2,264.4 1239.9,305.5 1121.1,289.2 1177,301.4 1194.3,284.8 1111.2,279.6 1185.3,284 998.4,286.7 1229.6,206.5 1223.1,252.1 1257.4,187.7 1280.1,270.1 1142.7,273 1132.7,249.4 1134.6,301.9 1161.2,289.1 1258.2,298.8 1129.8,260.2 1129.2,295.1 1251.8,229.9 1213.8,246.2 1205,258.5 1274.7,298.1 1225.4,263.1 1278.8,270.9 1210.5,274.4 1133.2,280.5 1142.3,304 1227.4,263.1 1169.4,299.7 1272.8,223.5 1109,245.6 1216,200.1 1247.1,220.6 1180,258.4 1213.9,305.5 1018.1,298.3 1248,234.3 1115.1,303.5 1234.2,245.2 1082.1,303.1 1123.2,290.5 1238.5,243.2 1240.7,247.2 1174.3,296.1 1220.8,254 1270.8,305.5 1155,279.2 1005.7,283.8 1134.2,259.3"/>
<polyline fill="none" stroke="none" marker-start="url(#my)" marker-mid="url(#my)" marker-end="url(#my)" points="1426.4,240.1 1424.9,275 1470.6,197.7 1590.8,180.3 1333.9,300.7 1402.2,193.1 1436.6,196.1 1405.1,300.1 1355,282.5 1484.3,196 1384.9,198.9 1439.6,304.8 1398.4,229 1446.8,232.8 1422.6,199.8 1457.5,299.9 1387.7,223.1 1441.6,201.2 1428.5,225.8 1489.6,208.4 1484.7,181.3 1582.7,114.1 1532.2,173.9 1552.5,201.8 1416.1,198.3 1401.8,229.5 1351.6,247 1489.5,224.6 1574.4,195.2 1383.3,284.1 1445.6,182.6 1388.3,249.7 1510.4,164.7 1426.9,243.6 1398.5,224.1 1506,158.7 1561.1,263.7 1403.1,254.7 1482.2,186.3 1515.6,226.3 1486.1,232.2 1410.7,201.4 1443,175.8 1435,201.5 1466.8,176 1572.8,160.9 1396.5,219.5 1532.7,156.6 1349.3,240.8 1493.1,238.1 1419.4,199.2 1407.7,142.7 1577.2,172.4 1543.1,112.8 1454.2,239.7 1429.6,293.4 1433.1,268.3 1446.6,197.6 1477.7,196 1420.7,197 1553.2,258.7 1468.4,214.3 1413.2,288.1 1334.9,235.9 1428.9,258.2 1315.6,218.4 1527,177.6 1560.2,165.6 1432.9,232.1 1436,303.7 1393.2,244.2 1476.7,205.6 1485,268.6 1478.6,173.3 1409.6,208.7 1584.9,212.7 1613.1,118.9 1418,159.9 1459.4,303.8 1514.4,221.9 1429,188.5 1444.7,220.8 1440,305.5 1423.9,245 1526.3,148.4 1409.1,221.2 1417.4,256.4 1418.4,305.5 1529.6,141.3 1386.8,214.8 1380.1,214.2 1404.3,208 1416.9,221.8 1359.6,252 1425.2,124.3 1397.3,200.4 1473.9,161.6 1366.7,176.9 1436.7,201.1 1551.5,158.6 1554.7,117.4 1450.7,160 1336,298.1 1427.3,224.2 1400.2,296.2 1552.5,264.2 1507,280.2 1385.8,252.1 1465.1,268.7 1423.2,194.4 1433.3,206.4 1446,194.2 1394.6,268.6 1435.2,170.2 1477.2,245.1 1456.6,212.4 1548.6,298.7 1418.4,245.3 1502.1,180.1 1376.2,270.2 1498,291.2 1464.7,177.6 1360.2,181.4 1547.4,217.7 1515.7,181.4 1463.7,222.6 1575.1,152.4 1412,277.7 1407.2,251.8 1457.1,197.4 1412,195.3 1530.5,217.3 1473.8,202.2 1712.2,162.6 1404,255.2 1570.8,266.1 1380.5,289.9 1517.6,218.1 1367.8,263.1 1574.2,220.6 1453.4,191.2 1457.8,192.5 1423.6,200.1 1422.7,211.4 1366.1,218.8 1539.6,216.3 1551.3,91.4 1698.5,242.1 1393.2,250 1582.8,197.2 1489.4,244.6 1349.6,245.3 1394.5,281.2 1546.9,250.5 1434.2,249.4 1518.1,248.2 1497.2,219.6 1430.2,260.1 1388.8,182.5 1425.2,264.7 1399,158.8 1441.5,207.4 1483,271.2 1465.8,271.6 1372.9,223.5 1558.3,162.8 1438,274.9 1566.8,124 1448.8,162.6 1402.9,229.1 1416,264.7 1580.5,182.1 1370.8,227.1 1690.4,154.2 1484.9,194.1 1483.6,250.7 1389.6,242.1 1433.2,240.2 1474.8,218.5 1374.2,223.9 1482.5,100.9 1580.2,154.4 1570.8,261.2 1538.2,248.1 1499.3,245.9 1445.1,217.6 1567.5,216.5 1355.6,243.6 1541.1,193.4 1558.4,262.1 1438.4,251.5 1518.1,294.4 1444.3,204.6 1394.3,255.2 1402,216.8 1413.8,224 1374.6,236.4 1481.8,165.1 1418.4,211.1 1567.9,233.4 1383.6,246.3 1389.2,179.6 1399.1,263.2 1476,264.4 1453.3,237.8 1363.2,268.8 1542.5,219.9 1474.1,211 1501.3,239.8 1519.6,175.3 1418.3,294.4 1421.8,251.8 1402,226.4 1443.6,153.6 1395.4,286.2 1419.8,202.2 1551.4,229.5 1479,208.6 1417.7,186.4 1415.9,211.8 1479.6,186 1435,242.2 1399.2,233.3 1420.9,169 1458,215.1 1479.2,211.2 1416.6,197.4 1472.9,251 1410.6,185 1508.9,173.1 1404.6,261.4 1563.1,232 1517.2,147 1426.8,262.6 1521.2,235.6 1467.1,194.3 1444.2,181.8 1456,191.5 1436,219.4 1503.8,155 1469.2,271.9 1449.4,181.2 1512.7,264.6 1378.2,255.5 1485.1,234.8 1507.6,217.8 1509.1,157.4 1543.3,181.5 1580.6,169.6 1439.7,264.5 1595.7,251.6 1465.2,202.1 1477.4,219.7 1422.7,189.1 1515.9,201.9 1449.8,252.1 1484.3,245.6 1477.6,253.7 1420.8,233.4 1391.6,199 1447,215.6 1408.2,273.8 1527,185.3 1410.8,219.3 1434.6,178.1 1505.6,119.7 1450.9,146.8 1436.9,214.1 1390.2,251.4 1403.5,246.4 1425.3,153.1 1510.5,286.2 1440.3,255.2 1576.9,125 1399,161.3 1375.5,267.4 1566.8,220.8 1434.8,253.6 1420.1,248.4 1377.9,244.9 1437.4,278.9 1545.8,184.3 1500.8,229.5 1516.3,223.1 1563,181.7 1432.2,208.8 1438.8,199.4 1492.5,267.9 1522.8,171.4 1550.5,190.8 1572.6,172.7 1433.9,230.6 1330.2,221.3 1506.1,249.5 1451,203.1 1407.3,196.2 1412.9,234.6 1403.7,168 1433,267.5 1407.9,278.5 1514.7,174.9 1457.3,134.1 1491,242.3 1394.5,214.9 1454,227.6 1374.9,297.4 1477.1,212.3 1554.2,278.2 1460.9,251.9 1527.1,157.9 1429.5,162.7 1435.7,267.1 1510,215 1566.8,123.5 1371.8,273.8 1420.7,114 1388.1,251.7 1578.6,159.3 1442.5,206.5 1566.4,195.9 1455.2,299.1 1440.1,235.4 1544.7,148.9 1490.3,196.8 1551.7,246 1445.2,191.7 1444.8,205.2 1431.5,179.8 1453.8,185.4 1522.5,220 1419.5,258.8 1404,206.9 1488.5,253.5 1365.9,241.5 1550.7,249.8 1480.1,247.7 1383.4,176.2 1460.6,245.5 1379.9,209.8 1427.5,184.2 1350.2,244.8 1646.6,301.9 1535,229.1 1466.9,202.3 1424.6,193.1 1416.3,255 1437.4,259.2 1466.4,180.5 1556.3,233.5 1354.3,279 1511,252 1532.2,203.9 1493.2,250 1399.6,236 1432.4,179 1513.1,238.8 1370.3,216.9 1452.2,283.6 1372.9,208.5 1409.8,187.5 1472.1,240.4 1418.9,300.7 1535.2,206.7 1415.4,244.3 1564.7,161.3 1418.4,201.1 1484.7,179 1471.9,150.6 1520.9,105.6 1412.1,208.7 1369.4,272.8 1401.4,226.9 1517.6,237 1577.6,160.1 1418.7,221.5 1574.7,157.4 1410.3,209 1370.3,234.3 1495.5,158.5 1368.7,170.6 1565.7,206.8 1473.2,184.8 1398.3,221.1 1555.6,149.4 1445.9,259.1 1540.8,218.6 1399.9,244.1 1416.1,235.1 1439.5,244.2 1377.1,219.1 1415.6,272.9 1585.9,214.1 1440.6,193.5 1708.6,149.9 1395.7,225.7 1388,262 1542.3,124 1417.8,223.7 1545.8,97.8 1570.8,155.6 1378.9,228.7 1419.6,192.4 1418.2,225.5 1505.2,215.2 1407.8,226.8 1439,185.9 1578.5,173.4 1412.6,231"/>
<polyline fill="none" stroke="none" marker-start="url(#mo)" marker-mid="url(#mo)" marker-end="url(#mo)" points="1623.5,129.4 1619.8,248.8 1650.4,236.7 1588.3,178.1 1677.5,174.7 1640.3,195.6 1678.3,166.5 1563.2,137.4 1573.6,201.7 1590.8,125.1 1610.6,263.1 1707.7,107.7 1548.1,155.4 1625,152.9 1580.6,187.5 1673.2,174.3 1567.6,275.9 1653.4,227.6 1692.5,139.5 1674.4,162.5 1583.6,208 1658.6,174.6 1612.4,278.1 1621.1,171.7 1673.8,219.7 1616,198.1 1609.1,206.2 1589.8,190.7 1664.1,118.2 1681.6,162.9 1661.6,219.4 1683.9,94.4 1575.5,182.5 1605.7,210.9 1594,267.2 1689.8,174.1 1638.6,196.9 1617.9,254.3 1569.5,238.6 1595.3,174.4 1577.7,118.9 1599.1,234 1674.3,196.5 1677.8,108.7 1702.6,215.3 1596.5,291.8 1573.9,125.1 1584.8,198.7 1665.4,207.2 1625.1,198.8 1677.9,243.4"/>
<path d="M1018.8 305.5L1718.4 163" stroke="#6b6b6b" stroke-width="1.7" fill="none"/>
<path d="M1727.8 210H1735.7" stroke="#9a9a9a" stroke-width="1.4"/>
<text x="1740.3" y="213.8" class="r2" textLength="50.6" lengthAdjust="spacingAndGlyphs">R2 = 0.28</text>
<text x="1370" y="351" class="ax" font-size="16.5" text-anchor="middle" textLength="124" lengthAdjust="spacingAndGlyphs">mean LST (°C)</text>
<text transform="translate(938.2 205) rotate(-90)" class="ax" font-size="14.5" text-anchor="middle" textLength="240" lengthAdjust="spacingAndGlyphs">Impervious surfaces (% of LCZ)</text>
<path d="M995.5 352.9V570.5H1714M1030 570.5v3M1068.4 570.5v3M1106.8 570.5v3M1145.1 570.5v3M1183.5 570.5v3M1221.9 570.5v3M1260.3 570.5v3M1298.7 570.5v3M1337 570.5v3M1375.4 570.5v3M1413.8 570.5v3M1452.2 570.5v3M1490.6 570.5v3M1528.9 570.5v3M1567.3 570.5v3M1605.7 570.5v3M1644.1 570.5v3M1682.5 570.5v3M995.5 570.5h-3.5M995.5 539.2h-3.5M995.5 508h-3.5M995.5 476.8h-3.5M995.5 445.5h-3.5M995.5 414.2h-3.5M995.5 383h-3.5" fill="none" stroke="#c6c6c6" stroke-width="1.1"/>
<g class="tk" text-anchor="middle"><text x="1030" y="589.1">15</text><text x="1068.4" y="589.1">16</text><text x="1106.8" y="589.1">17</text><text x="1145.1" y="589.1">18</text><text x="1183.5" y="589.1">19</text><text x="1221.9" y="589.1">20</text><text x="1260.3" y="589.1">21</text><text x="1298.7" y="589.1">22</text><text x="1337" y="589.1">23</text><text x="1375.4" y="589.1">24</text><text x="1413.8" y="589.1">25</text><text x="1452.2" y="589.1">26</text><text x="1490.6" y="589.1">27</text><text x="1528.9" y="589.1">28</text><text x="1567.3" y="589.1">29</text><text x="1605.7" y="589.1">30</text><text x="1644.1" y="589.1">31</text><text x="1682.5" y="589.1">32</text></g><g class="tk" text-anchor="end"><text x="984.5" y="574.4">0</text><text x="984.5" y="543.1">10</text><text x="984.5" y="511.9">20</text><text x="984.5" y="480.6">30</text><text x="984.5" y="449.4">40</text><text x="984.5" y="418.1">50</text><text x="984.5" y="386.9">60</text></g>
<polyline fill="none" stroke="none" marker-start="url(#mg)" marker-mid="url(#mg)" marker-end="url(#mg)" points="1383,472.7 1314.6,502.3 1218.7,457.4 1285.3,516.3 1345.6,488.4 1351.9,498.5 1283,496.8 1418.1,553.8 1333.6,513.4 1346.6,512.6 1293.2,553.9 1271.5,569.4 1380.4,530.2 1326.9,504.1 1419.5,505.7 1309.7,514.4 1300.9,454.8 1297.8,460.4 1331.7,456.9 1338.2,555.8 1337.8,539.3 1380.1,457.6 1344.4,531.5 1303,518.5 1274.1,522.4 1314.1,517.1 1320.9,533.8 1280,471.1 1293.4,559.4 1397.2,454.6 1307,534.8 1246.8,423.5 1263.4,537.2 1339.2,445.9 1273.2,501 1377.4,567.5 1349.5,524.3 1387.6,570.2 1383.5,467.9 1336.7,433.7 1362.6,570.1 1328.9,569.1 1283.9,524.9 1326.4,569.6 1357.6,527.5 1296,503 1271.7,499.3 1344,489 1366.2,460.5 1284.4,554.8 1371.2,570.1 1352,488.6 1474,510 1243.9,570.1 1383.2,523.8 1279.4,503 1269.3,488.6 1370.5,570.4 1278.5,458.9 1106.8,567.6 1292,570 1344.1,564.6 1271,570.3 1284.2,475.8 1305.3,481.2 1254.9,561.3 1344.2,483.2 1387.3,547.6 1325.3,569.5 1262,549.3 1311.7,563 1340.1,481.3 1257.7,525.9 1380.3,466.5 1389.2,497 1329.5,549.7 1218.9,535.2 1299.9,540.4 1292.4,523.5 1293.2,446.9 1295.7,513.6 1348.9,569.8 1274.5,563 1293,501.4 1324.9,539 1270.1,516.8 1283.2,489.6 1265.1,557.1 1350.7,483 1273.2,449.9 1291.3,497 1341.9,471.3 1353.4,547.7 1353.7,532.5 1261.5,569.4 1437.1,558.4 1383.4,441.9 1253.6,542.1 1262.3,515.4 1330.9,569.1 1260.8,469.6 1376.5,485.8 1309.4,569.6 1400.1,570.2 1366.5,570.3 1289.1,509.4 1307.5,495.8 1377,534.8 1304.7,570.4 1293.4,531.1 1311.7,547.4 1259.9,521 1337.2,509.5 1347.1,569.3 1339.2,507.8 1366.4,531.7 1263.2,478.5 1315,556.1 1368.4,516.9 1331,550.5 1359.8,569.3 1279.1,515.6 1281.8,469.8 1310.4,569.3 1322.1,527.9 1257.6,473.4 1357.3,483.6 1371.5,526.6 1393.3,514.2 1365.2,481.1 1314.9,503.4 1350.8,549.9 1275.3,528.6 1284.8,570.2 1287.4,563.3 1272.4,569.3 1326.1,498.3 1357.7,570.5 1321.1,466.6 1275.3,455.6 1293.8,498.2 1257.6,504.7 1369.5,553.4 1284.7,445.6 1365.7,559.9 1298.4,527 1088.8,569.5 1304.3,549.2 1274.5,551.9 1353.1,514.8 1320.6,479.7 1343.8,511.6 1296.5,569.7 1219.2,542.3 1321.1,548.9 1372.9,526.5 1353,469.7 1332.2,542 1357.7,521.5 1340.5,431.8 1299.9,482.9 1247,442.5 1394.4,558.8 1233.4,564.4 1268,570.1 1396.4,502.9 1312.2,569.5 1323.5,487.9 1305.2,497.4 1426.3,537.7 1396.8,464.4 1311.8,494 1301.7,544 1176.9,515.1 1337.8,483.4 1283.5,495.1 1269.2,569.8 1371.5,503.4 1307.9,512.1 1335.7,521.1 1405.6,487.4 1333.3,548.6 1368,544.7 1290.6,457.7 1348.5,553.2 1269.5,477.9 1305.8,520.7 1279.8,455.9 1362.5,554.3 1338.6,425.3 1284.4,537.4 1288.6,569.8 1356.6,509.4 1346.3,502.3 1303.6,558.4 1418.9,520.9 1312.2,469.6 1387.2,447.6 1245.9,557.7 1292.4,495.9 1356.1,569.4 1254,546.7 1388,491.5 1362.2,569.1 1336.3,517.9 1304.3,516.9 1285.1,512.4 1416.5,428.7 1348,556.7 1292.5,479.4 1372.5,569.1 1370,492.4 1336.9,460.8 1324,569.8 1338,455.1 1372.2,532.5 1324.8,469.6 1351.3,570.2 1349.7,504.2 1360.3,570.2 1238.7,529.8 1343.7,570.4 1384.2,508.9 1284,559.5 1294.8,512.3 1321.3,565.4 1320.9,536.3 1264.6,552.5 1256.3,515.5 1327.1,497.2 1241.2,521.4 1342.3,505.1 1329,552.2 1392.5,546.5 1310.8,505.1 1305.5,552.2 1391,562.1 1435.1,566.1 1353.7,489 1354.9,488.2 1392.9,541.4 1310.3,519.9 1280.6,500.3 1357.4,485 1370.5,473.5 1331.7,569.4 1301.9,553.1 1284.4,531.5 1325,558.4 1379.9,473.6 1323.1,499.7 1404.1,564 1351.9,485.4 1319.8,534.7 1290.6,569.8 1329.9,509 1274.4,550.4 1322.1,536.4 1283.4,518.2 1311.1,566.6 1273.2,568 1261.9,569.5 1260.2,475.5 1361.9,455.4 1348.3,569 1337.3,542.6 1256.8,559.8 1320.5,462.6 1356.7,551 1286.5,520.7 1372.8,540.6 1277.2,552.4 1355.1,560.5 1343.5,440.3 1371.8,531.6 1335.2,488.7 1379.8,454.4 1279,539.1 1289.6,507.2 1402.5,490.6 1357.4,552.7 1356.7,480.9 1213.6,569.4 1386.9,569.3 1368.9,565.4 1276.9,505.9 1393.9,486.1 1399.6,505.7 1327,569.1 1281,537.4 1356.4,481.2 1327.9,453.6 1264.5,520.5 1351.1,554.7 1365.7,570.2 1329.8,498.2 1293,570.3 1265.6,442.8 1342.1,494.6 1246.3,551 1285.2,486.3 1388.6,489.9 1285.6,569.5 1345,523.1 1189.5,564.2 1214,535.3 1329,499.2 1300.2,547.1 1285.5,570.1 1282.3,561.2 1311.8,445.9 1382.4,451.7 1283.1,519.8 1321.6,536.8 1307.7,528.6 1328.2,555.3 1349.2,482.1 1366.8,491.2 1371.7,520.8 1351.8,494.5 1277.7,534.2 1271.5,493.6 1411.6,522.2 1351.6,490.3 1283.9,501.2 1317.8,452 1295.8,456.3 1298.7,555.2 1251.1,454.1 1326.9,479.1 1335.2,568.9 1315.2,558.8 1280.7,559 1199.9,537.7 1362.4,464.8 1340.5,525.1 1262.3,548.3 1398,554.3 1294.8,449.1 1363,459.6 1284.6,570.5 1217.7,496.1 1379.6,458.8 1200.6,546.8 1357.2,534.4 1267.4,531.8 1368.3,546.6 1250.2,569.6 1285,569.1 1284.3,524.5 1280.6,498.7 1286.5,569.4 1337.1,446.2 1415.7,562.6 1340.9,540.5 1353.2,497.4 1300.2,563.2 1350.1,423.7 1423.2,537.5 1250.8,493.7 1275.6,555.6 1007.3,566 1298.5,493.4 1280.4,490 1335.4,522.2 1299.5,467.6 1283,429.6 1325.6,569.1 1279.4,445.9 1327.1,555.3 1371,497.2 1235.4,501.8 1306.6,469 1346.2,484 1353,476.1 1303.3,536.3 1352.5,447.1 1316.1,512.7 1300.5,559.9 1297.5,519.9 1337.8,539.2 1364.4,569.5 1354.1,562.2 1589.7,558.7 1297.6,452.5 1374.4,532.5 1302.8,569 1266.9,521.8 1336.3,569.8 1323,529.7 1334.6,530.9 1091.3,566.4 1380.8,544.7 1242.5,569.2 1264.3,402.5 1269.8,460.8 1376.3,569.1 1379.9,569.3 1308,534.5 1217,566.6 1283.6,393.8 1284,554.7 1355.2,481.7 1288.4,569.6 1363.6,443.5 1400.9,465.6 1317.5,557 1364.7,429.9 1410.6,548.7 1289.7,515.5 1381.6,524.2 1332.6,533.6 1427.3,547.9 1379.7,511.1 1351.1,526.4 1260.7,570.2 1334.4,569.4 1378.8,541.9 1344,567.9 1357.8,556.4 1348.4,570.2 1242.6,563 1323.5,547.7 1321.2,498.1 1416.2,530.8 1257,527.2 1369,547.8 1321.8,552.2 1337.1,530.3 1276.1,510 1258.5,569.7 1337.4,539.2 1356.3,551.2 1347.9,514.3 1314.4,472 1316.5,488.9 1201.3,570.1 1321.3,547.5 1319.8,548.1 1380.9,569.1 1390,570.3 1249.7,536.6 1352.7,467 1290.9,565.9 1371.8,483.1 1384.1,459.4 1345.3,569.2 1376.6,551.1 1303.2,418.7 1281,512.8 1349.1,500.8 1311.3,566.4 1364.7,532.7 1299.6,543.8 1312.4,569 1403.2,524.3 1038.9,568.1 1304.2,524.5 1250,569.5 1324.1,527.4 1316.9,527.8 1307.6,549.5 1334.2,533.5 1298.1,513.7 1336.5,527 1347.7,520.4 1359.8,512.4 1349.2,459.5 1402,570.1 1361.2,499.7 1340.5,568.4 1278.1,424 1331.1,482.8 1306.9,570.1 1322,562.9 1326.7,531.3 1324.1,424.4 1312,493.1 1322.4,553 1402,481.5 1344.6,516.6 1312.4,551.3 1367.8,513 1315.2,553 1276.9,528.3 1333,480.6 1252.5,558.1 1322.8,472.3 1342.2,570.3 1324.5,564.8 1334.4,535.6 1301.1,493.3 1281.3,486.9 1389.8,569 1296.4,523.4 1286.3,570.2 1336.4,471.7 1295.1,485.3 1296.5,492.9 1336.3,553.2 1322.6,407.4 1380.1,566.8 1356.1,570.4 1352.8,484.5 1332.2,521.1 1303.7,546.8 1287.3,490.5 1382,530.4 1248.4,446.1 1338.6,516.2 1310.7,559.4 1358.5,470.7 1308.6,569.3 1292.5,536.3 1324.3,539.8 1371.6,569.3 1321.5,468.2 1326.2,467.3 1287.1,444.3 1329.2,442 1316.5,478.9 1373.6,485.7 1285.1,535.6 1271,570.1 1361.7,533 1248.5,568 1312.5,492.3 1263.2,481.4 1344.6,502.9 1275.1,563.4 1315.3,550.7 1305,488.2 1333.1,522.4 1398.6,570 1253.1,502.5 1244.7,549.8 1272.3,517.5 1328.2,507.2 1460.2,502.1 1320.9,542.2 1316.9,528.2 1251.3,506.5 1335.3,451.9 1357.8,477.2 1390.3,512.5 1234.4,525.2 1334.8,570.1 1246.8,551.8 1332.8,569.2 1255.1,507.9 1336.2,570.1 1304.1,558.3 1361.2,488.3 1334.9,462.5 1286.3,569.6 1283.5,522.8 1303.1,491.7 1396.4,567.5 1374.4,521.2 1316.9,567.4 1341.3,455.4 1333.9,514 1415.1,494.8 1249,560.2 1159.2,549.4 1344.8,434.3 1327.9,555.9 1264.4,569.6 1327.7,559.7 1355.2,480.7 1353.7,552.2 1240.6,550.1 1361.1,488.2 1329.2,569.7 1435.2,514 1360.9,514.5 1247.1,527.7 1355.3,469.5 1316.9,567.7 1270.8,481.6 1241.7,569.9 1307.3,547.9 1317.4,508.8 1266.9,569.8 1383.2,505.1 1332.1,513.4 1402,514.1 1357.7,560.6 1300.9,504.2 1259.9,448.1 1340.6,569.8 1348.6,570.3 1314.5,570.3 1323.4,570.1 1229.2,569 1284.1,560.2 1391.8,488.2 1302,552.6 1413.8,542.8 1372.8,498.8 1361,507.4 1299.5,567.8 1307.5,570.2 1273,497.1 1382.6,505.1 1329.6,473.6 1370.9,534.2 1349.9,528 1351.7,504.1 1309.1,457 1313.4,566.4 1309.2,563.8 1321.2,438.8 1305.7,470.5 1257.2,570.3 1279.1,521.9 1372,567.6 1268.9,552.5 1358.8,487.1 1279.7,524 1276.2,566.1 1249.8,498 1409.5,561.8 1293.4,538 1268.6,435.5 1249.3,555.5 1273.8,569.3 1343.7,531 1064.3,569.1 1310.8,461.1 1303.4,480.1 1368.3,569.8 1291.4,457.2 1296.6,462 1342.5,514.8 1308,490.6 1313.5,514.4 1303.3,569 1313,552.7 1269.9,569.4 1346.1,542 1318.9,564.6 1326.7,540.8 1260.1,542.1 1331.3,525 1274.6,525.8 1272.4,562.8 1397.7,432.9 1260.2,526.3 1267.7,512 1376.9,456.9 1344.5,537.6 1289.2,544.2 1306.7,476.5 1306,554.1 1346.3,515 1401.6,517.8 1357.4,464.7 1307.2,507.9 1246,485.7 1343.4,569.5 1438.5,480.1 1281,569 1304.5,547.6 1244.9,552.1 1336.2,481.3 1335.5,563.5 1249.1,569.8 1361.2,544.1 1324.2,569.9 1323.6,530.7 1351.3,519.2 1352.9,569.8 1318.7,516.9 1398.6,469.9 1394.9,543.5 1211.1,569 1327.9,534.9 1364.5,489.4 1311.4,569.2 1364,549.5 1342.3,550.2 1384.3,526.6 1370.6,464.2 1197.7,569.4 1414.5,544.9 1348.2,514.1 1345.6,486.2 1341.6,566.4 1308.5,550 1411.7,495.1 1312.6,557.7 1282.8,450.8 1408.8,510.9 1330.1,569.6 1305.4,461.8 1264.6,569.4 1351.1,497 1297.5,563.6 1334.7,569.6 1318.1,559.1 1185.2,552.8 1368.9,569.8 1323.3,569.2 1330.3,494.4 1431.1,566.8 1423.3,569.9 1333.4,495.6 1317.2,439.2 1393.7,554.4 1410.8,454.1 1328.6,515.9 1261.4,539.1 1330.6,512.7 1367.8,496.7 1385.3,524.9 1249.6,533.4 1323.6,515.3 1288.5,557.9 1387.3,547.6 1284.2,566.9 1304.3,549.6 1337.5,536.2 1289.9,518.6 1365.9,513.5 1357.9,482.5 1288.1,563.5 1311.3,486.9 1359.7,520.9 1343.8,542.7 1349.9,510 1261.2,475 1295.2,502.5 1358.2,555.2 1275.5,570.4 1332,505.1 1300.8,534.9 1292.2,380.7 1226.1,491.3 1338.4,570 1362.2,477.6 1340.1,380.1 1307,459 1276.4,530.3 1325.7,541.7 1283.7,553 1281.5,526 1360,537.1 1333,554.1 1140,569.8 1247.6,541.7 1291.9,527.2 1343.3,466 1290.9,457.5 1353,511.4 1365.9,556.8 1366,538.9 1283.7,399.2 1366.8,540 1324.6,378.7 1324.6,526.4 1340.5,462.3 1334.8,558.7 1356,535.4 1361,460.2 1334.3,519.2 1399,527.6 1338.6,570 1299.7,474.5 1349.8,500.5 1334,539.4 1348.3,540.6 1362.4,524.1 1329.9,495 1330.3,569.6 1386.5,480.5 1267.9,546.4 1322.6,569.3 1410.3,528.3 1337.8,478.9 1273.2,551 1308.7,483.9 1377.1,569.3 1328.4,475.9 1301.6,569.4 1362,503.8 1319.8,569 1286.1,438.6 1263.8,539.6 1386.4,561.3 1277.9,462 1299.4,482.1 1326.9,492.5 1406.8,537.9 1294,437.8 1332.9,508.7 1398.8,544.6 1311.1,520.4 1344.3,556.3 1318.7,486.9 1425.2,532 1297.5,538.9 1248.9,511.9 1308.9,428.2 1379.8,524.4 1333.6,452.1 1393.3,496.9 1320,488.9 1320.8,519.2 1240.7,570.4 1384.4,465.7 1247.6,518.3 1297.1,485.7 1354.8,546.1 1319.6,530.9 1297.2,472 1350.3,444.2 1308.1,563.8 1252.1,511.7 1276.2,523.4 1315.3,506 1312.1,500.8 1337.4,500.9 1334.7,569.9 1290.1,453.8 1319,569.7 1351.7,513 1263.4,485.4 1238.4,519.3 1329.4,529.8 1372.5,515.1 1356.8,469.2 1383.2,557.6 1299.8,542 1302.8,533.9 1275,461.7 1347.7,569.3 1331.8,490 1310,471.5 1310.3,519 1345.5,537.2 1288.1,471.3 1315.6,558.6 1328.4,484.2 1437.5,549.3 1250.1,469.4 1293.5,511 1337.4,505.7 1281.5,491.9 1353.8,466.6 1346.7,524.6 1324.5,479.3 1344.8,523.4 1356.7,460.5 1320.9,467.5 1317.8,527.5 1386.6,570 1352.1,563.1 1339.8,536 1409.9,498.7 1285.8,456 1343.4,506.7 1275.3,562.8 1349.5,492.3 1276,515.5 1251,552.9 1327.9,548.5 1395.1,533.6 1325,506.5 1298.8,529.9 1247.9,507 1257.2,553.7 1305.9,517.4 1352.4,509 1194.1,548.6 1274.8,422.7 1321.7,570.2 1316.2,388.4 1290.7,525.2 1291.8,544.7 1335.4,522.5 1357.2,524.3 1323.6,440.8 1318.2,570 1329.5,570.3 1360.5,512.6 1353.5,496.4 1323.9,500.2 1375.5,542.9 1350.3,481.8 1283.3,527.8 1315.1,527.1 1350.6,495.3 1307.5,545.3 1335.8,532.9 1326.9,549.3 1249.1,545.2 1335.6,537.1 1372.1,476.8 1325.9,514.2 1446.5,521.2 1386.9,539.9 1265.4,507.9 1300.2,555 1329.6,509.2 1297.7,547.9 1303,453 1353.5,525.4 1300.7,492.5 1395.3,465.9 1300.7,523.6 1312.4,521.7 1303.4,505.8 1342.5,470.5 1360,527.1 1221,538.5 1325.6,548 1230.8,569 1346.5,548.4 1230.1,476.3 1283.8,498.5 1290.4,401.2 1312.4,539.7 1310.3,522.3 1331.4,570.1 1371.2,488.3 1363.8,534.4 1254,559.9 1330.3,486.4 1316,479 1332.4,509.6 1285.3,434.5 1394.6,563.8 1352.8,508.5 1309.5,440.6 1357.7,457.4 1286.6,552.7 1373.2,557 1367.3,568.8 1339.7,495.7 1350.6,486.1 1310.5,520.8 1358,454.5 1353.6,520.3 1298.8,504 1350.6,491.7 1329.7,545.1 1279.8,524.3 1319.8,555.6 1319.6,517.2 1382.2,566.7 1313.4,553.3 1308.1,564.5 1367.6,508.7 1376.5,525 1337.2,487.1 1362.4,522.2 1402.1,463.5 1316.7,569.9 1287.5,481.2 1302.7,545.1 1288.9,479.1 1358.2,569.1 1305.1,376.8 1413.7,502.3 1322.2,483.9 1332.2,567.6 1302.2,558.1 1335.4,500.4 1356.9,510.9 1335.2,461.4 1320.8,554.6 1253,484.8 1293.5,453.6 1379.9,536.7 1283.9,517.8 1366.4,533.8 1337.6,508.4 1324.1,492.4 1356.7,533.3 1350.7,555.4 1234.3,565.6 1263.4,538.1 1384.9,500.4 1305.1,472.6 1322.7,468.9 1306.1,521.4 1343,537.9 1322,552.2 1288.7,544.7 1371.3,554.2 1265.3,492.4 1312.3,541.5 1274.8,491.1 1401.3,570 1374.1,529.2 1267.3,537 1248.9,518 1290.8,539.8 1362.2,464.2 1315.2,552.6 1286.3,519.6 1256.8,524.2 1276.3,569.5 1312.1,569.6 1063.9,566.4 1387.5,501.2 1385.7,518.8 1324.1,468.6 1291.8,456 1369.8,498.1 1308,570.2 1299.2,547.9 1285,529.2 1297.6,484.2 1257.2,432.8 1352.4,473.9 1343.2,501.9 1316.4,468 1261.7,534.5 1347.6,530.3 1259.4,550.2 1303.4,484.3 1290.1,515.2 1404.7,484.1 1316,570.3 1283.1,527.2 1397.1,553 1271.4,569.5 1082.5,567.2 1278.2,525.7 1358.6,516.5 1256.5,499.5 1398.1,478.5 1317.9,466.9 1341.2,570 1328.9,531.6 1317.9,569.6 1325.7,533.3 1272.3,547.1 1299.3,545.5 1272.1,496.4 1283.8,561 1330.6,505.2 1323.2,525.9 1372.5,466.4 1339.7,515.3 1256.4,479.3 1356.5,447 1341.1,490.2 1427.1,528 1292.1,569.3 1340.4,482.1 1377.5,505.2 1329.4,568.9 1261.5,551.7 1388.8,496.1 1246.6,461.3 1273.3,489.6 1369.7,532.5 1350.8,551 1317.3,497.6 1296.6,531 1285.3,375.5 1265.2,472 1243.3,519.2 1330.3,503.1 1314.4,559 1403.7,562.2 1366.6,534.9 1348.1,471.1 1330.7,477 1377.6,531.6 1336.3,516.4 1364.1,457.1 1267,547.6 1267.3,476.1 1305.5,561.4 1291.6,514.2 1340.3,549.4 1392.9,537 1282.8,555.3 1230.5,496.8 1334.2,478.5 1392.4,490.3 1146.4,548.4 1228.7,484.4 1343.1,542 1336.7,569 1301.2,495.1 1364.3,506.9 1317.4,569.4 1294,525.3 1353.8,569.2 1305.3,477.9 1286.9,488.1 1324.4,509.5 1325.4,569.7 1325.5,546.2 1338.3,481.6 1326.3,508 1260.6,507.7 1347.5,482.3 1383,447.6 1359.2,488.8 1282.5,502 1351.6,537.8 1260.6,452.4 1257.5,563.7 1331.6,459.2 1319.2,570.3 1292.8,512.5 1276.5,417.3 1280.1,461.2 1366.1,491.1 1246.4,483.9 1245.8,464.9 1336.5,561.5 1283.5,517.2 1347.7,560.2 1293.9,555.8 1371,534.3 1341.8,457.3 1314.3,501.5 1307.5,487.5 1303.1,541.3 1367.1,518.4 1304.2,390.1 1294.5,429.6 1337.9,487.4 1302.9,477.3 1293.4,479.4 1358,562.8 1213.5,543.1 1264.4,499.1 1286.9,466.6 1300.4,544.4 1277.8,538.5 1354.4,569 1252.7,566.6 1263.9,541.2 1285,479.4 1346,520.9 1328.8,505.6 1243.7,521.5 1372.7,494.7 1336.8,516.2 1311.7,454.3 1338.5,551.3 1300.8,551.1 1290.4,543.1 1329.3,569.6 1382.2,515.4 1415.1,569.4 1318.3,520.4 1307.6,489.4 1266.9,445.2 1262.4,535.2 1333.8,556.5 1349.2,487.7 1336.1,517.8 1430.1,569.6 1366.1,569.7 1301.6,487 1379.3,569.8 1246,493.2 1322.7,569.1 1254.4,526.6 1311,553.9 1216.8,501.7 1378.6,556.2 1313.5,569.6 1275.2,569.4 1399,513.2 1422.3,557.5 1390.5,487.4 1401.1,536.4 1341.9,509.1 1375.4,442.9 1238,564.9 1249.2,485.1 1267.2,540.3 1309.1,570.1 1378.8,491.1 1264.1,446.2 1312.8,535.7 1288.1,552.9 1283,532.1 1344.4,531.5 1343.8,521.1 1289.7,494 1314.9,458 1325,558.3 1357.2,569.7 1323.1,570.1 1393.2,567.2 1288.1,533.9 1247.2,458.8 1244.3,536.6 1267.6,508.6 1354.2,550.9 1316.7,569.8 1223.9,569.3 1335.2,475.8 1268.4,566.1 1419.9,490.5 1283.6,496.4 1262.7,508.6 1296.1,466.3 1415.5,548.9 1169.2,564.2 1331.2,497 1252.7,550.4 1276.5,464.5 1381.9,432.3 1249.6,500.5 1304.7,569.5 1311.2,536.4 1371.5,550.1 1314,559.8 1269.6,515.6 1386.4,557.2 1340.5,441.3 1355.8,456.4 1348.5,561.5 1334.2,558.7 1287.6,523.5 1309.4,553.6 1348.4,487.8 1209.2,507.3 1354.7,499.3 1356.8,456.7 1357.6,481.3 1277.6,551.9 1303.7,564.3 1323.1,515.1 1329.2,449.8 1403.1,489.9 1400.5,570.1 1307.8,488 1270.5,549.6 1262.8,457.2 1315.9,532.9 1346.6,509.7 1326.4,502.7 1369,569.9 1259.1,537.9 1301.7,512 1298.6,518.9 1361.7,507.8 1281.8,534.6 1286.3,527 1280.1,540.6 1239.9,563.7 1179,569.1 1362.8,569.6 1264.2,569.3 1199.5,569.5 1258.7,504.9 1384,539.8 1316.2,472.9 1296.3,492.9 1315.5,530.2 1368.4,471.8 1324.1,545.6 1288.5,505.3 1289.5,551.9 1327.6,505.9 1404.3,485.7 1282.1,483.2 1311.9,497.8 1177.9,522.9 1327.4,526 1230,569.6 1346.1,533.6 1361.9,487.8 1321.3,546.2 1489.5,558.6 1442.2,481.3 1393.5,497.1 1347.5,512.9 1313,521.8 1282.6,489.2 1360.3,496.9 1347.4,541.6 1376.6,499.8 1325.1,570.1 1277.5,512.6 1354.6,494.6 1342.9,548.3 1362.6,560.1 1275.2,541.1 1317.3,501.4 1279.6,547.4 1299.3,553.1 1300.1,545.2 1336,550 1288,535 1278,512.1 1294.3,442.5 1304.1,537.6 1338.2,425.9 1279.6,532.2 1267,535.7 1314.5,517 1261.4,521.9 1246.3,509.2 1376.5,569.7 1183.7,542.7 1328.3,489 1391.7,466.1 1429.9,503.8 1293.8,499.3 1316,550.9 1290.4,516.1 1341.2,471.1 1386.3,530.3 1354.2,485.4 1373.3,569.5 1325.6,485.2 1427.8,550.7 1334.8,569.8 1282.2,557 1347.9,528.4 1311,570 1353.5,565.2 1314.5,489.5 1337.3,556.6 1367.2,530.2 1386.3,440.1 1361,467 1441.1,472.4 1263.4,569.4 1336.2,472.3 1316.7,541.2 1308,489.3 1231.1,549.4 1364.9,554.1 1308.9,521.6 1320.1,560.4 1326.1,561.3 1311.3,503.6 1335.5,520.4 1376.1,530.9 1320.6,564.6 1273.2,570 1344,483.8 1328,453.3 1343.5,514.6 1215.4,497.7 1298.1,460.6 1254.9,532.9 1229.7,455.2 1343.8,559.5 1433.2,489.9 1304.5,536.8 1283.7,446.2 1366.7,487.7 1394,549.8 1259.2,522.8 1351.8,569.9 1374.8,521.9 1275.9,524.6 1357.5,485.5 1349.3,523.7 1374.4,553.5 1205,492.3 1215.2,492.9 1418.8,566.3 1329.3,490.3 1340.7,552.3 1348.3,533.7 1393.8,389 1316.6,536.5 1394.2,479.9 1257.8,459.6 1285.1,561.7 1316.5,506.2 1309,569.4 1313.6,531.4 1261.8,502.3 1178.7,546.7 1287.8,537 1294.2,534.1 1254.5,527.5 1317.2,563 1410.1,539.8 1251.4,558.4 1373.7,469.8 1313.4,475.2 1346.2,471.1 1336.4,536.5 1335.2,443.5 1304.8,491.2 1272.4,452.4 1342.8,522 1357,485.9 1225.8,468.4 1325.6,538.5 1359.1,569.7 1343.1,545.9 1383.1,569.6 1330.7,532.4 1354.6,469.3 1275.1,560.7 1270.6,569.7 1373.4,548.5 1290,446.8 1301.1,523.5 1323.4,546.2 1257.7,445.8 1350.2,522.8 1295.8,490.2 1316.8,520.3 1345.5,458.9 1312.3,553.3 1266.1,569 1420.1,475.5 1358.1,549.8 1337.7,512.4 1357.6,505.5 1296,451.7 1422,570 1347.1,505.6 1397.9,563.6 1395.9,529.8 1290.6,462 1337.3,500.6 1246,541 1291,540.3 1414.7,524.4 1321.2,533.5 1348.2,532.5 1287.1,569.1 1350.7,570.1 1329.7,569.6 1320.7,523.9 1304.5,551.4 1346.7,455.1 1296.8,543.5 1339.5,509.1 1273.2,506.1 1349.3,506.1 1392.6,476.7 1248.4,546.5 1229.9,517.8 1270.2,524.5 1339.5,474 1402.3,569.4 1365.9,478.4 1336.4,497.8 1408.7,535 1282.9,431.4 1339.9,528.8 1237.8,569.5 1296.5,532.9 1297.5,563.1 1378,423.2 1275.2,474.6 1340.8,559.5 1324.2,500.3 1373.1,495.8 1310.7,498.5 1369.4,522.2 1268.7,459.1 1336.5,552.2 1347.7,491.7 1390.1,551.1 1244.9,570.3 1336.1,450.2 1175.6,568.4 1361.5,472.5 1303.9,537 1333.5,533 1264,490.3 1357.8,570.4 1366.8,551.5 1337.1,511.3 1287.6,472.7 1316.9,440.7 1360.8,449.6 1293.1,499.6 1296.9,528.2 1249,538 1341.9,466.3 1439,547.8 1295.8,508.7 1382.1,514.9 1335.5,439.8 1366.1,552.8 1356.4,565.5 1376.8,532.6 1377.4,551.1 1317.2,496 1299.4,548.1 1333.1,549.8 1389.5,551.6 1313.6,417 1331.2,545.7 1300.5,485.4 1372.1,495.8 1336.2,512.2 1183,542.1 1361.6,494.7 1289.8,524.7 1333,492.6 1370.9,569.5 1257,465 1190.8,509.1 1379.2,517.4 1378.9,546.1 1273.9,527.1 1199.3,522 1280.6,543.3 1286.7,477.4 1276.7,507.8 1305.1,504.9 1359.8,439.3 1195.7,547.6 1299.9,472.6 1302.4,559.7 1320.6,499 1250.5,462.1 1226.1,511.3 1315.6,556.8 1277.6,542.7 1300.8,501.6 1334,524.9 1238.6,512.6 1340,508.8 1311.9,460.3 1324.1,453.3 1340.9,451 1404.5,569.9 1372.9,529.9 1350.3,474 1280.3,546 1317.5,538.2 1319.4,545.3 1322.3,491.9 1407.2,477.3 1274.9,487.9 1336.4,455.9 1222.5,558.6 1290.6,505.9 1426.6,486.9 1288.3,490.9 1273,524.8 1237.1,528.6 1339.9,472.9 1209.4,550.9 1389.6,483.3 1315.6,551.6 1342.3,520 1350.8,531.5 1303.4,548.2 1361.7,544.2 1266.7,489 1369.6,544.9 1350.1,562.9 1191.7,485.4 1360.2,569.1 1383.2,446.9 1208.5,553.4 1303,522.5 1340.6,523.8 1364.5,493.6 1288.9,540.3 1362.1,512.9 1250.1,561.2 1160.4,535.7 1287.4,473.9 1369.7,490.7 1269.8,569.3 1319,569.7 1333.2,555.4 1272.3,549.1 1341,517.8 1266.3,503.1 1422.4,541.4 1269.3,569.5 1383.3,550.1 1302.1,492.7 1333.8,507.5 1375.4,467.5 1330.5,552.1 1297,513 1410.6,561.8 1309.3,569.8 1344.4,509.3 1293,505.6 1330.6,489.5 1344.7,545.2 1300.7,526.2 1327.3,560.7 1251,525.3 1293.2,563.8 1342.7,452.7 1352,506.1 1349.3,569.3 1200.7,494.7 1339.3,504.3 1293.5,452.1 1416.2,522.6 1356,534.2 1338.4,461 1347.2,487 1307.5,544.6 1238.5,500.6 1280.3,479.2 1314.5,503.1 1256.3,567 1321.5,541 1300.9,545.8 1332.1,510.4 1282.3,527.9 1367.3,548.9 1344.5,569.8 1276.7,499.8 1350.9,531.6 1333.5,570.2 1294.2,555.7 1303.6,551.7 1307.4,474.9 1219.5,512.8 1327.2,546.9 1576.5,532.4 1234.5,524.7 1342.7,569.4 1370.6,525 1394,483.8 1329.9,405.4 1349.3,496.7 1264.1,567.9 1287.9,554.3 1302.1,544 1307.1,475.2 1278.4,490.7 1295.3,477.9 1352.4,569.7 1362.2,452.1 1391.6,563.1 1248.4,549.7 1222.4,550.9 1333.2,569.4 1302.9,506.7 1214.2,470.5 1383.6,485.9 1305.7,546 1310.3,521.7 1309.4,559.9 1318.8,569.8 1381.9,569.8 1366.3,540.2 1108.6,567.1 1255.5,570.2 1315.7,510.3 1287.4,494.6 1252.7,477.3 1322.9,500.5 1373.4,483.7 1309.1,489.5 1293.4,472.3 1386.6,524.1 1375.6,542.5 1292.5,570.2 1394.3,504.3 1324.5,522.7 1369.4,503.7 1331.7,504.1 1279.5,561.1 1352.6,492.5 1377.8,569.7 1285.5,442.1 1261.1,518.5 1283.6,490.2 1278.1,457.3 1403.2,441.7 1275.9,424.9 1272.7,485.1 1240.8,569.5 1357.2,534.9 1374.7,550.1 1475.4,553.5 1382,498.5 1298.2,560.2 1376.5,521.3 1380.7,536.4 1290.3,558.7 1362.3,523.8 1301.6,383.5 1291,568.6 1246.7,530 1287.2,511 1334.2,475.8 1357.9,529 1368.1,469.8 1309.6,523.4 1403.2,497.3 1311.4,555.4 1304.2,438.1 1374.7,499.3 1307,542.9 1363.7,568.9 1358,520 1349.4,499.8 1395.3,569.5 1342.7,507.4 1302.3,470 1010.6,569.1 1375.5,547.7 1332.8,483.5 1366.7,506.5 1396,466.9 1333.8,525.5 1340.3,525.4 1358.2,478.4 1288.9,468.6 1330.4,473.9 1282.5,533.8 1349.6,521.9 1564.7,538.3 1283.1,490.9 1334.6,479.8 1322.3,510.1 1299.6,529 1313.1,526.6 1331.4,569.4 1336.1,541 1372.5,461.4 1302.9,482.3 1286,467.4 1256.6,433.8 1257.2,435.9 1371.9,444.2 1387.5,468.8 1302.1,532 1347.8,497.6 1306,530.1 1301.9,514 1255.8,569.1 1312.2,555.3 1346.7,475.7 1300.1,554 1279.1,547 1344.1,543.9 1345.2,522.4 1288.2,502.6 1274.8,484.8 1519.1,551.3 1301.4,459.6 1310.4,524.1 1289.5,512.8 1367.5,544.9 1267.5,546.9 1313.6,522.4 1297.3,525.2 1319.8,507.6 1301.5,561.1 1338.5,556.5 995.5,563.7 1283.6,546.9 1293,450.7 1334.5,559 1307.3,569.5 1258,501.4 1314.3,513.9 1336.8,521.9 1315.2,472.8 1345.2,522 1393.2,482.2 1283.3,559 1323.6,570.2 1324.7,569.4 1279.8,545.2 1325.8,458.4 1302,387.4 1322.5,551 1346.7,548.2 1290.6,569.2 1277.3,570.3 1295.2,449.5 1396.4,553.5 1357.7,528 1326.3,497 1126.2,566.9 1342.4,568.7 1259.6,543.9 1366,514.9 1330,546.7 1356.4,486.1 1312.4,564.2 1308.1,451.7 1308.1,450.7 1241.9,466.8 1382.1,564.9 1392.9,546.5 1404.5,533.9 1358.1,479.5 1275.5,533 1343.2,537.1 1347.6,515.9 1360,499.2 1263.7,464.6 1334.4,442.8 1288.3,500.8 1330.4,570.5 1345.5,486.9 1383.9,538.6 1303.7,462.5 1377.5,498.4 1229.9,559.6 1307.6,543.4 1372.3,475.7 1312.1,540.7 1365.9,457.4 1336.2,483.3 1367.1,568.1 1332.4,447.2 1304.4,472.3 1359.6,528.3 1286.7,539.5 1274.3,496.4 1264.2,544.4 1262.4,528.7 1289.7,547.9 1432.6,486.2 1259.5,517.2 1293.6,479.2 1307,516.4 1337.2,567.4 1279.3,535.4 1387.7,524.5 1314.3,529.6 1246,472.5 1265.4,531.5 1324.6,570.4 1359.6,539.9 1357.5,570.4 1304.1,569.9 1316.6,530.9 1411.3,515.5 1364.6,468.4 1369.9,557.1 1349.4,493.1 1331.9,529.8 1293,532.9 1368.6,506.5 1310.1,457.1 1293.9,458.2 1297.1,507.2 1231,545.3 1263.6,561.5 1326.7,512.2 1286.9,493.5 1293.3,539.3 1364.6,525.4 1295,569.7 1274.4,544 1271.8,471.1 1374.5,569.8 1232,550 1301.7,491.8 1283.7,511.2 1313.4,567.2 1303.4,536.4 1269.8,523.6 1287.4,495.5 1275.6,542.3 1326.5,506.8 1277.7,550.2 1310.2,553.5 1290.3,565.4 1395.8,530.3 1288.7,542.3 1240,543.2 1387.1,524.5 1295.7,480.7 1325.8,538.9 1390.6,487.1 1268,516.5 1278.3,540.7 1289.8,533.5 1361.2,494 1347.1,506.1 1357.6,508.3 1155.7,561.1 1327.1,497.6 1252.6,563.9 1380.2,558.3 1258.2,491.7 1411.7,547.2 1349.5,505 1312.6,548.6 1335,570.2 1286.5,565.7 1350.9,561 1287.3,453.8 1348.6,524.9 1341.4,570.3 1301.2,527.3 1342.2,536.5 1353.9,554.6 1335.3,560.5 1313.1,512.4 1340.3,500.1 1307.5,562.2 1210,531.7 1340.9,551.4 1330.3,555.3 1391.5,469.2 1432.7,517.8 1340.8,518.7 1251,423.3 1263,569.5 1380.4,570.3 1448.5,566.4 1335.2,508.7 1361.2,470.7 1322.4,453.6 1363.3,546 1350.8,569.7 1272,477.3 1306.8,528.6 1317.3,544.7 1333.9,570.1 1406.4,505.3 1295.3,479.1 1358.8,569 1302.5,533.7 1382.3,569.6 1328.8,569 1259.6,474.5 1266.4,525.8 1323.2,569.2 1326.9,526.3 1359.6,490.3 1306.2,523.1 1276.1,502.1 1335.1,492 1329.9,553.2 1345.1,520.8 1366.9,553.4 1324.9,487 1308.4,442.3 1321,486.8 1287.5,569.6 1333,490.3 1368.2,442.6 1354.7,540.2 1440.5,501.5 1173,566.1 1197.6,569.3 1333.6,570.1 1277.6,451.2 1289.2,492.7 1359.9,453.9 1397.3,448.8 1363.5,482.8 1135.8,563.7 1411.1,542 1265.6,470 1254,469.6 1312.3,570.2 1243.7,489.1 1269.6,569.2 1279.2,448.3 1326,502 1300.6,570 1390.1,520.6 1322.3,466.8 1290.5,509.3 1292.2,511 1252.9,526.2 1336.3,529.6 1285.4,569.3 1349.7,513.6 1319.2,479.2 1304.5,474.1 1360.7,563.3 1231.3,534.5 1391.9,555.9 1328.4,535.7 1262.9,451.6 1243,509.3 1289.1,525.8 1323,497.8 1145.2,551.3 1368.1,537.7 1335.3,508.1 1399.2,549.6 1308.1,505.3 1345,526.5 1285.6,537 1321.5,522.4 1182.1,528.6 1258.1,484.2 1286,569.5 1368,517.2 1258.8,508.1 1360,471.4 1314.3,497.2 1342.5,543.7 1360.6,489.6 1269,569.3 1358.5,436.3 1286,570.2"/>
<polyline fill="none" stroke="none" marker-start="url(#mb)" marker-mid="url(#mb)" marker-end="url(#mb)" points="1180.4,517.5 1097.9,566.9 1195,514.2 1224.9,508.3 1271.3,477.7 1249.6,520.4 1242.1,481.9 1272.5,511.3 1115.2,563.5 1272.9,486.4 1223.7,509.5 1245.5,527 1249.6,530.2 1195.3,482.3 1185.5,493.6 1243.6,516.3 1172.8,522.8 1137.7,564 1235.8,453.1 1242.1,448.9 1261.9,509.6 1269.7,475.1 997.8,569.4 1154.4,555.6 1192.6,521.3 1086.9,563.1 1261.6,494.5 1255.8,505.5 1218.7,536.1 1132.1,566.6 1261.6,377.1 1016.6,528.6 1236.9,515.4 1229.2,511.8 1178.8,510.4 1137.3,564.4 1272.3,523.1 1117.7,567.4 1270.9,470.5 1275,466.4 1248,500 1229.7,479.6 1227.6,509 1252.5,522.6 1246.2,502.7 1053.9,567.7 1202.2,492.8 1153,549.9 1159,568.5 1117.2,564.3 1179.9,518.1 1262.8,534.7 1091.6,569.7 1170.3,570.2 1161.3,551 1252.7,455.3 1168.7,563 1178,527.5 1266.5,526.9 1219.6,446.4 1274.3,487.5 1281.2,485.1 1263.9,497 1152.9,546.1 1033.9,562.9 1225.5,473.4 1264.1,534.8 1187.8,569.1 1172.3,552.4 1205.1,513.8 1274.5,448.1 1129.2,568.7 1238.6,501.5 1185.3,507.4 1102.1,563.8 1236.3,443.2 1246.7,468.9 1006.6,570.4 1252.3,459.6 1247.1,472.1 1098.7,545.8 1268.5,480.1 1064.5,564.4 1119.3,568 1273.2,513 1120.2,568.3 1246.4,523.6 1230.3,526 1205.5,476.3 1020.3,570 1243,467.4 1223.4,505.5 1117.2,569.3 1245.7,484.6 1163,541.1 1219,469.6 1139.6,570.2 1113.9,568.1 1106.9,542.9 1244.3,483.7 1276.4,468.5 1252.4,529.5 1177.8,549.1 1216.1,453.6 1135.2,568.8 1157.4,568.5 1129.9,562.9 1161.5,542.1 1256.9,510.9 1069.8,562.8 1225.1,440.9 1256.5,513.5 1062.1,564 1259.3,513.8 1154.8,565.9 1138.2,566.8 1076.7,567.7 1231.6,452.8 1036.3,563.2 1233.7,461.5 1172.4,525.6 1201.6,539 1262,459.8 1113.4,567.7 1254.8,448.8 1212.3,491.8 1243.4,526.1 1236.6,524.7 1204,499.7 1092.2,570.5 1254.8,476.9 1259.5,518.8 1149.6,554.4 1273.3,455.4 1235.7,521.9 1198,487 1237.5,515.6 1127.5,566.8 1238.4,526.1 1134.7,568.1 1064.4,563.9 1191.2,497.6 1245,523.9 1227.7,523.6 1037.6,569.8 1065.6,567 1265.2,449.1 1180.3,563.9 1128.1,564.6 1218.5,519.1 1057,569.6 1280.1,464.3 1241,462.2 1268.3,490.9 1226.6,503.9 1177.5,522.2 1248.3,462.9 1236.9,476.5 1154.8,557.6 1084.4,569.9 1172.4,521.6 1180.2,548.4 1276.7,494.5 1113.3,565.1 1118.1,570.4 1257.9,489.8 1251.2,474.7 1168.3,519.5 1245,476.1 1118.9,568.6 1110.2,567.2 1097.9,569.9 1176.6,569.4 1217.9,478 1174.6,515.4 1248.7,476.4 1116,570.1 1036,565.3 1152.7,565 1191,532.2 1279.8,473.2 1236.3,502.6 1263.3,496.5"/>
<polyline fill="none" stroke="none" marker-start="url(#my)" marker-mid="url(#my)" marker-end="url(#my)" points="1437,460 1424.8,525.2 1561.3,526.5 1412.1,532.3 1492.4,547.2 1396.7,492.4 1437.7,567.2 1483,570.2 1507.5,482.6 1456.9,568 1448.6,561.9 1418.9,461 1466.6,508.5 1482.5,521.3 1420.6,522.9 1381.8,567.7 1427.7,560.5 1426.5,560.6 1398.5,542 1480.6,492.7 1386,467.6 1422.5,529 1430.4,570 1437,545.7 1355.8,551.1 1407.2,480.7 1478,506 1359.8,398.8 1433.5,510.6 1495.8,570.5 1420,566.9 1404.8,463.8 1385.4,510.5 1469.6,511.3 1418.3,570.3 1510.8,512.6 1442,524.4 1568.6,503 1520.4,538.5 1434.4,510.1 1445.7,505.6 1450.4,569 1387.2,546.3 1583.1,550.8 1545.1,473.3 1393.5,536.5 1427.1,529.7 1412.6,561.3 1577.3,561.8 1418.5,542.4 1403,526.5 1460.4,533.9 1387.3,516.2 1410.1,546.4 1468,519.2 1363.8,519.5 1435.8,546.9 1438.6,565.7 1381.1,558 1476.6,538.6 1449.1,506.6 1416.4,463.6 1441.2,550.9 1399.3,569.1 1382.8,569.6 1466.4,430 1485.2,555.6 1555.2,543.2 1520.2,569.3 1407.3,555.1 1465.2,492.1 1412.2,475.3 1423.5,456.2 1372.9,540.7 1392.1,527.6 1425.2,407 1579,564.4 1569.7,563.9 1505.3,557.1 1534,461.5 1449.3,469.3 1454.9,528.6 1428,490.2 1451.5,554 1466.7,527.7 1426.8,570.1 1463.7,489.7 1470.8,569.5 1393.5,569.6 1549.1,569.4 1475.4,444.9 1583.6,564.3 1538.8,525.1 1408.8,461.1 1557.8,492.7 1428.5,430.3 1555.1,476.2 1663.9,546.4 1412.4,426.5 1448.8,525 1382.4,498.6 1432.6,570.4 1430.8,433.3 1514.9,550.9 1535.8,568.8 1529.6,568.8 1553.2,467.4 1513.6,507.4 1427.7,570.2 1426.2,521.2 1513.7,546.7 1513.6,561.8 1454.3,501.4 1383.1,509.5 1378.1,569.3 1413.2,482.7 1467.4,546.9 1413.7,514.6 1435.7,559.6 1546.9,471.9 1468,549.6 1435.2,570.3 1417.2,513 1419.2,557.4 1380,569.2 1574.7,537.8 1405.6,547.9 1382.4,461.3 1420.2,420.4 1395,539.4 1411.7,531.7 1510.6,511.4 1333.8,497.5 1454.5,495.6 1483.8,491.9 1528.6,535.3 1419.5,536.6 1563.5,472.9 1506.8,537.5 1542.3,558.1 1514.3,562.8 1533.6,537.8 1431.3,531.6 1499.4,463.8 1441.1,569.3 1406.5,490.6 1534,553.1 1456.9,466.1 1420.8,548.9 1375.7,535.2 1445.3,540.3 1396.3,529.3 1512.5,569 1460.8,530.1 1371.6,501.4 1432.1,570.5 1384.2,515.4 1380,557.5 1387.6,497.8 1552,530.2 1417.9,543 1591.3,569.1 1570,554 1457.1,472.6 1427.8,565.9 1419.8,436.5 1555,569.8 1529.1,549.5 1495.6,569.3 1394,467.6 1432.2,514.9 1428.8,486.8 1539,569 1404.9,489.9 1578,493.2 1417.3,451 1555.6,570.2 1447,569.2 1430.4,542.4 1444.6,547.3 1436.6,543 1511.4,532.8 1433.8,534.4 1351.7,503 1450.5,563.8 1681.4,563.7 1395.6,505.1 1484,543 1438.9,509.4 1415.3,530.6 1460.4,445.3 1566.7,515 1342.3,563.3 1446.9,437.7 1553.2,557 1390.6,542.1 1395,540.9 1380.2,491.7 1430.6,538.4 1443.5,526.2 1578.2,484.9 1475.2,569.2 1458.1,489.8 1567.6,510.1 1468.5,550.1 1576.4,535.6 1419.8,543.3 1419.3,569.7 1456.5,425.2 1437.8,546.9 1458.3,542.9 1406.8,514.1 1432.4,459 1402.3,519.1 1400.3,428.2 1642.6,569.5 1414.2,515.4 1506.7,495.9 1385.6,484.8 1464.4,476.5 1482.2,558.5 1407.4,511.8 1438.1,485.7 1430.6,493.5 1530.8,570.3 1512.2,461 1425.9,507.6 1567.9,569.2 1407.2,456.9 1517.3,465 1383.8,464.6 1420.4,513.8 1380.1,516.1 1470.9,538.2 1585.7,444.1 1550,479.2 1454.3,570 1431.7,525.6 1448.4,530.5 1433.4,443.8 1461,569.7 1563.4,443.2 1438.6,516.1 1505.2,499 1468.7,507.7 1414.7,560.7 1404.3,480.5 1452.9,527.8 1437.6,569.4 1528.3,547.4 1384.7,370.7 1356.1,545.5 1388.2,555.2 1507.9,511.1 1365.1,527.8 1503,431.4 1365.6,510.3 1499.2,464.7 1393.1,537.7 1429,482.2 1483.4,544.4 1437.7,551.6 1409.8,551.1 1414.9,513 1425.3,548.9 1529.5,457.2 1462.9,555.4 1448.4,459.4 1423.3,569.9 1369.1,545.4 1434.4,563 1552.8,487.1 1451.7,468.8 1376.9,521.5 1406.5,500.6 1383,532.2 1520.9,486.8 1434.1,569.5 1393.1,492.1 1425.8,507.7 1391.9,466.6 1465.5,486.6 1431.8,490.6 1472.8,510.3 1543.7,519.5 1435.5,521.3 1477.2,493.9 1570.7,502.1 1335.8,498.9 1425.2,463.3 1439.5,537 1432.8,536.8 1537.5,534.2 1443.5,570.3 1408.4,433.8 1525,568.9 1434.1,548.6 1436.4,539.8 1555.6,521.5 1495.1,562.1 1422.9,459.7 1412,570.2 1416.9,516.4 1417.2,471.2 1457.3,564.2 1422.4,481.4 1427.1,493 1494.1,513 1455.7,569.8 1437,570.3 1405.4,504.7 1477.2,493.6 1439.3,563.6 1418,529.9 1437.9,525.9 1423.5,505 1403.6,570 1430.6,458.3 1365.4,477.5 1619.1,568 1475.6,539.9 1409.5,516.2 1384.2,569.1 1415.3,534 1460,470.7 1532.2,563.7 1506.9,524 1413.9,501 1426,539.9 1429.7,563 1298.2,471 1564.1,467.3 1419.6,549 1419.6,507.3 1494.5,557.3 1412.8,505.2 1546.5,497.8 1425.8,473.1 1579.3,451.2 1576,570.2 1497.9,530.1 1509.5,556.2 1414.9,511.1 1706.6,444.6 1533.7,537.2 1430.5,569.6 1476,552.9 1500.3,556.2 1458.9,569.1 1392.4,529.1 1406.3,544.7 1421.1,570 1560.6,564.3 1325.1,460.8 1410,548.9 1424.7,497.7 1501.4,523.5 1445.4,532.7 1428.1,503.3 1382.9,485.7 1465.9,520.8 1444.1,534.2 1437.3,478.9 1508.7,563.9 1406.4,504.7 1422.4,569.5 1463.2,469.5 1542.6,550.9 1499.9,563.5 1559.9,566 1434.7,482.3 1404.6,551.1 1473.9,569.9 1461.2,569 1373.4,489.1 1420,538.4 1537.2,508.6 1450.6,544.9 1462.1,423.8 1510.1,535.8 1443.3,520.4 1524.2,457.7 1511.7,510.2 1390.4,570.2 1416.8,566.3 1496.4,535 1443,535.7 1446.9,569 1412.6,531.4 1519.6,561.5 1534.9,551.1 1467.6,570.3 1480,566.3 1467.1,398.5 1381,481.8 1376,405.2 1398.6,542.6 1410.9,496 1509.4,516.2 1442.2,512.1 1424.8,536 1463.5,534.5 1519.7,507.8 1547.4,490.5 1503,461.5 1564.9,528.9 1464.2,559.5 1472.5,570.3 1428.4,499.1 1512.8,552.9 1434.8,441.4 1420.7,492.1 1478.8,447.8 1430.2,449 1463.2,562.6 1483.7,472.3 1466.1,548.6 1560.7,470.6 1524.5,543 1347.3,458 1564.5,554.4 1400.2,536.5 1423.1,544.3 1435.6,565.1 1554.6,550.4 1400,502 1457.4,569.1 1486.7,544.8 1516.1,569.3 1423.3,542.2 1484.3,506.7 1423.2,563.2"/>
<polyline fill="none" stroke="none" marker-start="url(#mo)" marker-mid="url(#mo)" marker-end="url(#mo)" points="1675.2,558.1 1657.2,569.4 1692.2,549.6 1687.4,556.4 1606.4,566 1634.2,547.6 1579.6,541.9 1641,518.2 1638.6,475 1575.2,465.3 1665.5,547.5 1653.5,553.8 1592.8,465.8 1587.8,499.3 1578.6,526.5 1590.8,417.1 1697.7,557.7 1675.1,536.2 1664.6,551.9 1658.7,561.7 1624.1,470.2 1594.8,552.8 1555.2,479.9 1597.8,569.4 1660.7,441.5 1580,562.9 1623.2,460.6 1649.3,545.2 1604.1,556 1586.6,563 1636.5,532.8 1570.9,563.9 1602.4,465.7 1573.5,537.1 1640.5,511.9 1653.8,551.9 1637.5,562.2 1574.2,570.1 1542.3,521.7 1559,500.5 1576.3,485.6 1702.3,415.4 1557.9,570.3 1705.6,550.8 1681.2,561.5 1539.4,567.7 1679.3,567 1644.1,548.3 1589.7,524.5 1602.7,569.6 1580.7,562.5 1581,559.3 1637.4,565.1 1566.3,547.6 1634.4,523.4 1616.5,566.3 1663,536.3 1655,507.8 1581.7,551.7 1603.1,526.4 1657.2,566.6 1563.4,529.8 1691.6,556.6 1686.2,565.3 1628.7,558.3 1577.5,461 1569.3,527.8 1612.9,543.7 1594.1,565.4 1575.6,450.4 1704.3,561.6 1616.1,556 1573.2,570.3 1625,553.5 1676.2,553.6 1675,461.1 1651.5,552.2 1598.9,570.3"/>
<path d="M995.5 541.5L1713.5 495.5" stroke="#6b6b6b" stroke-width="1.7" fill="none"/>
<path d="M1727 475.5H1735" stroke="#9a9a9a" stroke-width="1.4"/>
<text x="1739.5" y="479.3" class="r2" textLength="46.5" lengthAdjust="spacingAndGlyphs">R2 = 0.03</text>
<text x="1375" y="609" class="ax" font-size="16.5" text-anchor="middle" textLength="124" lengthAdjust="spacingAndGlyphs">mean LST (°C)</text>
<text transform="translate(946.5 475) rotate(-90)" class="ax" font-size="14.5" text-anchor="middle" textLength="161" lengthAdjust="spacingAndGlyphs">Buildings (% of LCZ)</text>
<path d="M1003.5 619V837.5H1729M1038.5 837.5v3M1077.3 837.5v3M1116 837.5v3M1154.8 837.5v3M1193.5 837.5v3M1232.3 837.5v3M1271.1 837.5v3M1309.8 837.5v3M1348.6 837.5v3M1387.3 837.5v3M1426.1 837.5v3M1464.9 837.5v3M1503.6 837.5v3M1542.4 837.5v3M1581.1 837.5v3M1619.9 837.5v3M1658.7 837.5v3M1697.4 837.5v3M1003.5 815.7h-3.5M1003.5 793.9h-3.5M1003.5 772.2h-3.5M1003.5 750.4h-3.5M1003.5 728.6h-3.5M1003.5 706.8h-3.5M1003.5 685h-3.5M1003.5 663.3h-3.5M1003.5 641.5h-3.5M1003.5 619.7h-3.5" fill="none" stroke="#c6c6c6" stroke-width="1.1"/>
<g class="tk" text-anchor="middle"><text x="1038.5" y="856.1">15</text><text x="1077.3" y="856.1">16</text><text x="1116" y="856.1">17</text><text x="1154.8" y="856.1">18</text><text x="1193.5" y="856.1">19</text><text x="1232.3" y="856.1">20</text><text x="1271.1" y="856.1">21</text><text x="1309.8" y="856.1">22</text><text x="1348.6" y="856.1">23</text><text x="1387.3" y="856.1">24</text><text x="1426.1" y="856.1">25</text><text x="1464.9" y="856.1">26</text><text x="1503.6" y="856.1">27</text><text x="1542.4" y="856.1">28</text><text x="1581.1" y="856.1">29</text><text x="1619.9" y="856.1">30</text><text x="1658.7" y="856.1">31</text><text x="1697.4" y="856.1">32</text></g><g class="tk" text-anchor="end"><text x="992.5" y="819.6">10</text><text x="992.5" y="797.8">20</text><text x="992.5" y="776.1">30</text><text x="992.5" y="754.3">40</text><text x="992.5" y="732.5">50</text><text x="992.5" y="710.7">60</text><text x="992.5" y="688.9">70</text><text x="992.5" y="667.2">80</text><text x="992.5" y="645.4">90</text><text x="992.5" y="623.6">100</text></g>
<polyline fill="none" stroke="none" marker-start="url(#mg)" marker-mid="url(#mg)" marker-end="url(#mg)" points="1318.5,821.7 1315.4,820.4 1359.9,822.3 1321.6,746.7 1404.3,773 1322.2,823 1343.3,786.3 1248.4,804 1334.8,833.4 1349.9,816 1387.5,804.7 1312.3,829.9 1380.4,789.2 1336.7,769.8 1420.6,822.2 1263.5,801.3 1347,814.2 1350.3,818.2 1364.5,801.6 1334.7,735.2 1322.8,798.4 1296.9,788.4 1368.2,830.9 1348.6,765.2 1338.2,824.5 1278.6,753.1 1413.4,813.6 1301.2,808.9 1339.3,810.6 1331.8,809.8 1290.4,769.1 1279.4,796 1281.9,824.9 1394.2,823.8 1317.6,817.6 1369.3,800.9 1411.8,789.7 1330.2,827.5 1393.4,809.7 1383.4,793.4 1338.1,819.7 1301.5,819.6 1394.7,801.7 1337.3,798 1309.6,804.7 1359.4,826.4 1327.7,791.3 1312.9,826 1264,785.6 1320.3,814.4 1305.3,807.3 1402.2,806.6 1280.5,797.5 1008.8,627 1353.6,831 1310.4,807.5 1384.4,762.7 1332,824 1248.3,809.4 1355.1,782.9 1393.1,823.6 1372.9,797.1 1230.2,826.2 1356.2,793.9 1361.8,815.2 1309.1,817.4 1317.7,807.8 1365.7,822.8 1252,747.6 1335.2,760.2 1407.8,796.5 1379.1,807 1375.7,828.6 1318.5,775.1 1285,807.9 1386.9,790.7 1306.1,796 1341.2,810.6 1245.1,699.3 1328.1,807.2 1361,792.2 1290.6,801.9 1365.3,778.7 1360.6,766.9 1355.2,811.7 1310.1,799.4 1333.8,785.5 1341.6,784 1081.4,702.9 1391.4,807.5 1347.8,803.5 1317.4,779.5 1375.5,760.6 1319.8,825.9 1309.2,809.9 1302.5,830.4 1361,764.4 1286.6,793.1 1313,820.4 1350.8,817.6 1277.5,823.7 1290.4,746.3 1341.8,809.6 1355.4,819.2 1358.4,753.6 1355.7,782.7 1293,794.5 1395.6,824.4 1340.3,828.3 1394.1,791 1319.6,813.3 1349.2,814 1273.5,778.9 1380,720 1336.5,802.9 1316.6,797.2 1386.8,810.2 1257.4,721.3 1401.6,793.2 1332,820.7 1309.9,794.6 1281.6,777.9 1276.4,822.1 1320.8,776.5 1365.3,821.5 1350.9,823.1 1320.9,830.1 1252,795.5 1367.1,817.4 1323.7,791 1251.9,829.4 1357.3,781.4 1122.5,708.8 1311.2,823.8 1348.9,809.8 1416.1,830.5 1412.2,816 1300.3,813.2 1277.1,739.5 1301.9,818.4 1310,746.1 1222.4,752.7 1357.2,814 1336.2,816.4 1373.3,789 1352.1,789.9 1278.7,812.7 1416,809.8 1382,769.2 1391,826.3 1327.6,795 1290.4,813.1 1338.2,805.5 1356.5,832.3 1454.9,793.3 1356.6,772.7 1342.7,775 1354.7,826.8 1332.3,790.3 1444.7,809.3 1362,793.5 1310.9,772.1 1300.5,782.8 1276.2,828.9 1338.8,801.8 1359,817.7 1348.4,783.1 1316.6,815.8 1251.7,754.5 1303.5,769.5 1388.4,825.2 1400.6,824.6 1347.3,792.7 1311.2,781.8 1593.5,807.8 1252.3,819.5 1292.5,744.2 1277.2,792.8 1400.9,822.3 1273.2,768.1 1304.3,790.9 1320.5,796 1332.8,689.4 1345.2,746.4 1301.4,769.9 1371.8,770.2 1396.5,820.7 1304.1,817.6 1709.8,814.9 1282.7,785.3 1342.5,826.5 1341,818.3 1309.4,784.8 1353.5,817.8 1407.4,796.2 1183.5,810.1 1307.4,777.2 1359.4,824 1378.8,807.3 1324.3,770.2 1333.8,796.5 1317.4,732.1 1324.1,814.5 1289,794.1 1367.7,791.3 1376.6,814.7 1319.4,806.1 1307.7,810.8 1369.4,796.6 1361.6,812.1 1354.1,807.8 1389.6,829.6 1361.2,814.1 1296.4,827.3 1162.2,699.2 1365,800.3 1327.4,771.5 1380.7,818.7 1276.9,806.8 1287.7,774.2 1437.6,830.9 1296.5,801.3 1337.1,791.6 1294.4,817.4 1311,780.9 1325.7,778.1 1361.1,819.7 1333.4,770.9 1297.7,766.3 1320.5,747.5 1409.5,822.1 1397.2,807.1 1378,805 1348.3,716.9 1337,819.2 1273.4,775.4 1259.7,735.2 1373.4,805.3 1312.6,784.1 1355.1,732.5 1299.8,790.5 1296.1,802.7 1310.4,749.9 1392.7,801.3 1374.3,830.6 1417.1,811.9 1357,815.4 1353.8,803.4 1297.9,796.5 1364.1,788.8 1207.3,750.8 1340,819.3 1324.9,793.5 1360.9,756.9 1378.9,824.2 1341.1,778.5 1337,805.8 1362.9,812.1 1368.1,825.8 1271.3,806.8 1399.9,795.1 1395.7,832.4 1314.9,816.3 1287.2,792.7 1283.7,794 1379.5,816 1408.9,799.7 1313.9,788.6 1308.1,822.4 1383.5,788.1 1360.2,766.1 1388,824.4 1307.4,813.1 1311.6,758.5 1429.3,824.7 1300.5,749.9 1351,754.5 1335.3,796.5 1357.6,812.7 1319,789 1380.6,778.5 1324.7,793 1271.8,772.8 1319,803.7 1340.9,820.9 1326.5,794.3 1358.6,758.2 1333.2,804.8 1352.6,796.2 1423.2,822 1340.4,781.2 1319.9,806.3 1325.1,820 1232,767.9 1352.2,792.9 1370.9,799.3 1309.5,784.3 1212.2,767.3 1291.6,799.5 1396.5,789.1 1328.7,768.5 1382.6,812.9 1362.4,779.7 1252.6,769 1341.9,817.8 1291.1,784.9 1225.5,768.6 1391.6,803.6 1234.6,820.8 1322.1,768.4 1281.9,797.4 1335.2,832.3 1282.1,815.7 1328.1,777.8 1045.8,724.7 1295,765.9 1323.9,824.4 1332.7,827.7 1258.9,744 1350.2,771.8 1278.1,753.3 1302.5,741.3 1371.2,801.8 1387.2,796.5 1375.9,793.1 1170,767.7 1278.3,782.2 1354.3,808.9 1299.5,802.7 1031.3,632.1 1340.9,828.9 1320,820.9 1287,812.9 1320.9,786.7 1317.3,789.2 1349.9,793 1192.8,767.3 1365.6,789.5 1334.6,785.2 1271.7,758.3 1339.2,764.5 1406.3,800.1 1360.2,808.1 1309.8,831.4 1295.8,773.8 1253.2,769.5 1420.7,783.6 1317.9,800.4 1357.4,826.6 1301,758 1348.9,794.1 1273.5,815.1 1420.6,804.7 1278.4,759.7 1354.9,805.6 1323.3,790.2 1324.7,738.5 1324.8,817.5 1336.1,785.7 1320.3,802.7 1254.8,765.8 1369.9,767.2 1327.4,817.5 1341.6,760.7 1298.5,753.5 1317.5,795.7 1378.2,784.6 1363.4,829.8 1365.6,781.2 1187.8,806 1348.7,825.7 1331.1,814.2 1362.2,789.3 1460.1,825.9 1293.3,775.1 1353.1,820.7 1301,752.6 1290.2,743.6 1364,775.4 1332.6,822.9 1354.3,776.6 1280.2,790.1 1376.8,819.2 1319.9,743 1328,824.8 1376.5,823.9 1368,825.6 1317.4,805.2 1298.8,743.5 1360.7,747.3 1337.6,814.1 1395.1,817.9 1374.7,777.2 1245.1,766.3 1343.7,795.3 1315.5,774.9 1379.6,791.1 1342.7,807.4 1380.7,775.4 1300.8,737.8 1374,801.3 1314.2,805.6 1306.4,827.2 1320.8,790.8 1371.4,812.3 1362.7,772.1 1353.1,811.6 1297.8,792.3 1272.6,814.7 1360.9,814.6 1305.3,811.6 1380.3,787.3 1340.6,792.6 1359.7,825.3 1328.5,789.2 1302.1,779.7 1276.6,819.9 1319.5,816.9 1334.8,777.7 1313.3,742 1346.5,829.9 1335,803 1275.7,772.9 1341.1,786.9 1347.8,798.7 1374.3,735.3 1340.2,793.1 1346.4,799 1303.5,794.3 1280.7,806.2 1268.7,822.5 1279.9,731.4 1374.6,802.1 1391.3,811.3 1371.9,804.1 1266.4,787.5 1333.7,825.4 1358.1,818 1154.4,656.5 1370.6,720.7 1325.8,818.3 1383,822.8 1279.4,817 1387.1,803.3 1346.8,768.9 1377.7,803.3 1267.5,815.8 1335.4,795.3 1359.4,813 1345.7,808.7 1286.5,716.9 1423.5,806.8 1356.2,805 1342.3,786.5 1375.1,801.7 1331.1,791.2 1371.7,805.2 1356.6,786.4 1388.8,806.4 1334.6,789.5 1161.9,667.4 1350.1,798.4 1293.3,804.3 1287.2,778.3 1186.2,716.4 1375.1,811.2 1405.5,816.7 1359.8,758.4 1430.7,811.4 1267.6,740.1 1374.5,812.6 1300.6,814.2 1363.1,819 1287,780 1370,819.1 1417.5,772.8 1327.5,780.6 1343.9,797.9 1321.2,827.5 1397.4,790.1 1300.9,793.2 1317.6,823.8 1320.2,793.1 1351.3,803.7 1188.9,763.7 1299.3,770.3 1206.6,755 1325.4,798.5 1309.6,750.3 1321.2,824.7 1348.9,805.6 1308.3,823.3 1331.6,801.9 1387.2,795.8 1367.2,811.7 1371.4,796.2 1315.1,804.6 1363,790.6 1373.3,800.2 1298.5,776.7 1300.3,825.2 1348.8,797 1351.3,805.4 1382.4,822.9 1329.6,790.8 1284.3,821.6 1258.1,731.2 1348.3,818.6 1313.9,826.5 1363.9,827.5 1345.9,818.7 1289.9,731.1 1273.5,681.8 1326.4,823.7 1290.7,827.1 1341.5,808 1272.3,781.1 1344.1,759.2 1360.3,826.3 1306.2,769.8 1292.9,824.5 1041.1,794.4 1370.6,809.3 1266.3,827.6 1350,783.2 1383,783.8 1273.5,754.4 1387.4,809.7 1355.2,814.6 1286.1,829.6 1373.5,820.2 1360.6,787.6 1267.6,809.7 1348.7,818 1393.9,820.3 1365.1,788.4 1389,802.8 1394.6,785.3 1317.8,809.2 1362.5,796.8 1323.9,809.4 1367.9,797.4 1388.9,795.6 1190.9,828.2 1398.1,833.7 1396.2,815.1 1360.6,799.3 1387.6,829 1365.8,795.8 1380.9,814.4 1321.9,817.8 1327.3,823.4 1230,769.4 1320.1,826 1352.4,828 1290.5,811.6 1291.2,822.4 1311.6,822 1320.7,811.5 1372.1,818.5 1326.5,811.8 1323,813.2 1332.8,761.4 1311.8,742.2 1398.2,816.3 1356.3,818.5 1232.1,717.1 1172.8,677.6 1296,795.6 1187.7,742.4 1405.8,813.7 1373.1,818.9 1288.9,796.7 1404.6,804.4 1343.4,763.2 1309.7,795.7 1352.5,805.6 1319.9,787.8 1304.2,778.9 1308.6,827.3 1357.2,797.3 1321.6,777.7 1386.6,828 1402.9,818 1267.8,796.8 1256.5,818.2 1353.7,781.2 1294.2,757 1265,761.4 1348.6,682.1 1314.2,787.6 1335,816.5 1343.9,816.3 1387.3,820.1 1420.3,829.9 1384.3,785.7 1423.4,812 1270.1,812.1 1396.2,806.8 1344.3,806.8 1376.1,819.1 1286.1,812.1 1276.3,807.9 1101.8,783.6 1360.5,810.1 1288.4,816.6 1314.2,707.1 1360,805.1 1349.1,820.2 1430.9,778.5 1273.3,809.1 1392.8,807.2 1368.4,827.8 1258.9,733 1335.6,826.5 1336.7,733.5 1287.3,807.5 1291.9,826.4 1340.2,824 1327.8,803.7 1321.1,810.7 1331.7,799.9 1345.9,805.7 1298.1,809.6 1263.1,819.2 1311.4,755.4 1315.1,788.5 1431.8,812.2 1321.1,801.6 1369.8,798.5 1340.4,784.9 1316.3,779.5 1272.3,804.3 1322.3,777.4 1383.3,822.3 1392.2,820.6 1326.9,788.8 1359.2,804.4 1326.4,716.4 1303.4,802.4 1306.9,793.4 1292,731.8 1314.9,761.7 1377.7,817.8 1305.2,817.1 1342.6,827.1 1298.4,818.8 1299.3,808.9 1372.1,823.8 1291.3,823.8 1319.3,768.9 1335.9,803 1289.8,788.8 1316,798.3 1305.1,780.3 1317.1,801.9 1328.9,800.1 1357.3,810.6 1267.9,815.8 1290.2,691.2 1329.7,753.7 1277.4,807.6 1300.3,790.7 1338.3,791.6 1272.4,770.6 1264.5,758.5 1330.7,803 1442,822.1 1365.1,796.3 1353.3,802.7 1369,800.1 1330.3,816.6 1340.2,815 1335.6,774.7 1285.4,784.7 1336.8,806.1 1312,786.2 1364.5,807.2 1317.8,765.8 1306.5,796.3 1347.6,803.5 1325.7,768.3 1325.6,808.6 1177.1,820.5 1371.4,822.5 1327.8,796 1365.2,771 1333.8,815 1372.6,822.3 1340.1,814.1 1310.3,789.3 1290.5,829.6 1391.5,820 1349.8,801.2 1324.2,775 1304.7,785.1 1370.6,736.3 1367.2,789.1 1299.3,791.4 1363.4,799.3 1307.2,815.1 1364.9,805.2 1382.9,819.1 1296,815.1 1310.4,795.1 1418.7,736.2 1295.2,692.9 1353.9,805.9 1146.1,796.7 1146.7,774.6 1284.7,818 1340.4,819.9 1301.5,817 1365.6,796.1 1374.3,800 1305.4,761.4 1077.9,632.6 1367.3,813.2 1350.2,758.7 1343.2,792.7 1337.2,811.9 1313.1,804.1 1350.4,821.5 1419.2,772.3 1358.8,772.3 1318.9,818.5 1399.6,820.1 1299.2,814.8 1307.7,763.5 1308.7,814.8 1326,773.9 1309.8,745.6 1266.6,781.4 1345.4,762 1426.7,802.1 1340.9,817.6 1335.7,804.7 1337.9,780.8 1254.7,781 1406.9,781.7 1366,822.2 1373.6,815.3 1295.4,800.4 1406.9,820.1 1320.6,784.4 1390,814 1286.3,818.1 1324.2,820.3 1255.9,728.6 1374.4,761.4 1445.1,800.9 1338.9,788 1279.4,734.4 1379.9,820.9 1335.3,795 1288.7,799 1328,777.9 1293.5,794.5 1287.2,808.2 1311.3,807.2 1306.1,813 1402.4,813.3 1351.5,789.5 1336.2,770.9 1423.1,808.4 1368.9,804.2 1341.1,810.1 1355.2,812.4 1389.3,793.5 1301.9,804.8 1251.5,713.1 1323.9,815.1 1393.7,820.1 1289.1,768.5 1391.9,826.5 1339.3,802.9 1321.9,816.5 1398.7,816.1 1310.9,794.8 1377.6,831.6 1310.5,825.6 1353.6,813.9 1370.5,804.3 1374.9,775.3 1340.1,781.7 1317.6,796.2 1436,804.9 1357.3,754.9 1322,809.2 1489.2,828 1286,817.7 1329.8,778.7 1316.1,782.5 1344.9,792.2 1391,823 1308.3,819.2 1287.4,827.4 1382.6,808.2 1305.3,801.5 1348.2,813.8 1297.6,832.4 1362.8,754.1 1413.9,829.7 1340.3,725.4 1364.6,819.2 1249.6,816.5 1380,811.4 1277.5,779.1 1295,766.2 1225,730.7 1366.1,801.7 1297.6,804.5 1298.3,800.6 1402,780.6 1377.1,821 1350.9,781.9 1295.4,814.9 1300.6,753.7 1302.4,732.9 1327.3,789.4 1354.3,805.1 1283.8,793.4 1299,815.4 1330.5,788 1246.4,796.1 1338.5,802.3 1324.6,806.5 1293.9,798.6 1365.2,772.7 1121.2,673.3 1335,816.4 1381.3,785.3 1335.1,814.6 1295,771.5 1351.7,762.2 1363.7,816.9 1393.4,829.9 1322.8,824.5 1377.7,816.9 1359.5,766.4 1363.5,832.7 1311.1,782.7 1322.9,802.8 1351.9,828.4 1324.2,801 1366,825 1369.6,816.8 1278.9,744.1 1307.9,780.5 1317.8,759.1 1401.7,829.5 1355.8,743.5 1296.5,798.2 1348.1,792.7 1385,814.1 1373.4,817.4 1374.6,780.3 1267.9,726 1323.9,778.3 1309.1,819.1 1383.7,825.5 1396.6,829 1316.9,741.5 1392.1,794.8 1357,760.4 1296,819.8 1336.5,814.1 1302.5,763.5 1296.7,749.8 1129.7,697.7 1283.1,820 1319.5,823 1342.7,824.4 1345.1,821.6 1301.9,778.8 1294.7,816.1 1345.2,821.6 1360,824.9 1301,807.9 1355.4,824.1 1326.6,824.4 1309.7,821.3 1356.8,810.5 1393.8,797 1413,823.8 1328.5,771.7 1235.9,806.1 1275.7,768.3 1249.2,716.1 1386.2,811.9 1285.4,724 1346.9,829.8 1285.7,823.1 1293.9,821.8 1300.7,766 1326.5,748.6 1371.8,791.6 1309.9,801.3 1334.2,794.9 1407,827.8 1257.5,810.8 1300,759.6 1264.7,787.8 1344.9,801.2 1444.1,829.6 1372.8,828.1 1283.4,828.9 1372.7,783.1 1297.5,781.6 1349.7,815.5 1294.5,829.8 1333.1,779.1 1417.8,832.4 1376,805.5 1275,816.1 1350.6,746.8 1358.1,772.8 1398.8,804.6 1277.3,798.1 1339.9,811.3 1291,714.8 1399.9,807.8 1310.5,828.5 1364,780.8 1356.6,819.8 1404.2,808.8 1402.8,812.6 1463.8,834.2 1178.8,795.8 1355.1,827.1 1334.5,784.9 1349.7,819.6 1311.6,824 1313.9,708.3 1374.2,733.5 1301.9,811.2 1394.8,823.8 1266.1,803.8 1439.2,824.2 1365.3,813.2 1322.3,806.3 1291.3,759.4 1361.3,808.7 1337.8,775.5 1368.1,817.3 1326.6,801.1 1361.9,792.5 1349.2,802.3 1356,778.4 1235.6,819.7 1399.2,794.6 1377.8,784 1327.3,818.3 1329.3,795.4 1384.2,808.8 1388,782.6 1417.9,828.4 1361,793.7 1243.1,759.8 1321.6,804.2 1376,765.9 1335.8,786.2 1402.5,780.6 1311.8,807.1 1414.3,793.2 1303.3,773.5 1296.5,791.3 1320.7,803.9 1399.7,697 1387.7,814.6 1323.1,811.1 1346.3,781.1 1344.6,806 1342,796.7 1126.8,664.5 1286.4,817.2 1305.4,830.2 1377.2,772.9 1326.9,809.9 1288.1,709.8 1325.8,760.4 1346.9,824.4 1383,806.3 1284.9,774.9 1316.3,789.5 1363.2,801.4 1321.8,814.9 1278.1,785 1402,786.5 1377.4,808.4 1414.5,783.6 1309.8,814.9 1345,833.1 1348.6,802.3 1314.8,793.6 1344.7,782.3 1313,802.8 1358.3,803.1 1319,823.9 1327.1,817.4 1302.4,816.5 1327.2,821.7 1300,821 1353.3,826.8 1328.4,791.4 1343.6,806.7 1261.6,798.2 1370.9,817.6 1361.2,809.4 1328.5,784.1 1389.4,788.5 1352.4,789.7 1358.8,823.7 1365.7,820.1 1309.4,806.2 1356.9,807.1 1277.4,738.1 1365.4,816.3 1411.1,792.9 1362.7,795.9 1355.5,806.7 1381.3,815.9 1306.2,811.9 1298.5,788.9 1311.8,730.1 1384.5,766.2 1281.9,793.4 1364,815.2 1422.9,801.7 1262.4,799.6 1323,826.6 1375.3,789.4 1331.9,825.1 1386.7,783.4 1390,820.1 1296.9,741.2 1379,804.5 1313.4,805.8 1435.5,816.4 1371.3,810 1313.1,791.9 1357.1,774.6 1286.3,804.4 1330.9,788 1320.1,731.6 1341.8,822.3 1355.9,799.1 1376.1,795.3 1312,799.9 1358.4,823.6 1318.4,826.8 1359.2,820.2 1338.7,776.7 1346.3,810.9 1302.1,827.1 1307,799.8 1369.7,832.2 1398.1,792.5 1308.5,805 1300.2,810.6 1293.7,759 1317,785.1 1281,815 1289.4,820.5 1347,808 1361.7,787.2 1286.6,749.7 1346.7,786.7 1338.9,771.2 1308.6,823.5 1387.5,822.8 1356.3,778 1326.4,812.8 1253.7,768.3 1036.8,686.5 1331.1,788.2 1388.8,784.1 1312.8,793.9 1370.1,818.9 1327.1,709.2 1300.3,822.1 1242.9,729.8 1377.3,806.4 1293.3,806 1356.7,820.7 1283.1,812.2 1355.6,823.1 1354.1,695.5 1361.3,809.7 1448.9,813.7 1352,810 1326.1,770.1 1303.5,816.9 1356.6,791.5 1398.3,808.4 1379.5,829.6 1410.4,786.9 1397.4,794 1354,821.5 1332.8,797.9 1346.2,830.8 1302.6,810.5 1340.3,810 1395.6,813.7 1321.4,755.4 1344.4,805.3 1319.3,761.6 1255,758.4 1275.4,816.4 1357.6,796.2 1276.8,818.4 1116.7,800.9 1352.5,788.4 1312,796.4 1385.3,797.8 1122.4,701.9 1306,758.3 1352.8,803.7 1349.2,780.8 1214.6,765.2 1409.7,828 1233.4,766.8 1276.9,791.5 1365.7,833.5 1391.2,813.5 1331.1,802.6 1369.2,793.2 1257.3,742.3 1320.2,787 1289.9,788.3 1324.1,806.6 1354.9,791.1 1327.1,802.3 1343.2,782.3 1390.6,790.3 1170.7,665.7 1304,810.9 1298.5,765.6 1274.4,810.2 1344.1,820.1 1426.6,774.3 1345.1,816.9 1268.2,754 1367.3,793.4 1361.7,805.4 1298.1,715.1 1347.4,794.9 1294.1,809.6 1191.7,751 1353.6,784.9 1348.1,817.4 1329.3,824.1 1334.9,780.1 1359,816.2 1261.6,803.3 1334.8,780.4 1336,818.3 1338.4,782.6 1274.2,780.1 1339.4,810.3 1368.8,782.4 1378.1,745 1394.4,774.9 1362,795.1 1291.7,798.5 1340.2,768.2 1340.2,808.4 1333.3,775.5 1300.3,782.9 1333,824 1305.4,802 1260.4,764.2 1394.1,823.2 1347.7,792.3 1317.4,792.4 1353.3,783.4 1270.6,759.9 1364.4,805.8 1267.7,786.3 1258,754.8 1275.6,782.2 1324.9,744.5 1388.8,795.5 1303,803.9 1126.7,713.1 1310.6,824.3 1363.5,751.6 1329.7,794 1324.7,717.7 1323.9,788 1255.6,699.6 1367,822.5 1377.4,733.6 1345.1,814 1385.8,779.1 1309.8,820.5 1300,825.4 1306.9,804.3 1382.2,722 1328.5,816.6 1368.8,818 1453.6,790.7 1348.1,764.8 1358.8,823.3 1364.3,805.7 1264.2,807 1326.9,786.9 1403,822 1377.7,828.6 1296,782.9 1024.6,702.6 1296.1,770.5 1397.6,793.9 1409,826.3 1316.2,809.9 1284.8,782.4 1314.8,802.1 1356.8,803.1 1321,806.6 1357.6,774.5 1334.1,785.6 1361.8,791.5 1350,821.2 1247.9,705.4 1272,781.1 1386.1,796.4 1381.9,788.4 1266.1,672.1 1394.2,744.5 1340.8,813.3 1329.7,788.3 1284.9,818.7 1368.1,776.8 1311.4,791.3 1278.1,779.6 1360.9,795.8 1324.8,804.7 1411.9,819.8 1376.3,777.4 1110.8,675.9 1339.6,801.9 1360.6,719.6 1260.3,795.4 1401.9,823.6 1333.7,774.2 1337.9,825.1 1311.3,740.2 1534.4,819.1 1371.9,748.3 1344.8,773.8 1322.7,817.5 1286.6,737.1 1334.4,805.2 1308.2,795.8 1353.9,815.8 1289.2,751.6 1306.1,825.2 1332.8,804.9 1348.7,814.7 1303.1,829.6 1401.9,803.7 1257.6,742.4 1365.3,813.6 1357.8,752 1313.7,800.2 1424.7,772.7 1406.1,807 1264.4,693.5 1286.5,807.9 1380.5,829.3 1280.3,819.8 1322.8,829.2 1269.6,751.2 1310.3,813.1 1313.6,781.3 1355.7,814.1 1326.9,793.4 1381.2,806.3 1339,827.2 1395.4,780.8 1345.8,816.4 1409,815.2 1240.3,791.9 1373.2,820.6 1570.2,813 1295.5,804.7 1317.8,812.1 1380.8,817.7 1319.2,793.7 1404.8,810.6 1360.8,787.1 1343.7,811.3 1271.2,831 1284.4,805 1317.1,808 1294.5,794.3 1319.6,821.1 1324.1,823.7 1396.3,793.2 1340.2,757.5 1281.8,798.4 1327.3,789.6 1293.6,827.5 1308.5,810.4 1373.5,820.7 1351,803.5 1302.7,772.1 1276.1,767.9 1300.5,792.1 1379.2,805.1 1370,774.9 1295.4,768.8 1133.1,801.6 1377.2,740.1 1306,828.2 1348.1,826.7 1365.2,765.4 1355.9,829.3 1302.6,745.9 1330.7,771.9 1360.4,826.5 1323.6,808.4 1336.5,808.3 1260.6,808.2 1319.9,807.1 1392.1,811.3 1521.3,821.9 1332.5,759.1 1395.6,782 1364.4,811 1105.6,652.6 1316.9,802.3 1339.7,752.8 1329.4,789.7 1308.4,800.8 1385.9,793.4 1268.5,808.6 1368.5,827.6 1314.4,829.1 1300.9,792.5 1373.7,744.2 1360,803.1 1352.4,779 1304.1,790.7 1300.4,787.1 1435.6,821.7 1377,826.8 1384.6,805.1 1327.6,797.2 1356.4,789.4 1299.7,752.1 1336.2,828.8 1341.8,784.4 1346.8,750.9 1302.7,804.3 1344.8,803.2 1363.4,782.4 1297.1,794.7 1409,815.5 1371.4,811.3 1410.1,803.2 1364.6,831.5 1343.4,761.5 1391.7,815.3 1345.2,815.3 1375,796.5 1349.3,810.6 1326.6,792.4 1350.9,827.2 1312.2,818.4 1322,791 1300.2,831.3 1218.8,797.5 1311.3,811 1316.9,794.4 1290.3,775.6 1335,822.3 1292.4,819.2 1383.5,825.6 1206.1,829.1 1317,811.4 1258.4,763 1384.9,821.1 1389.2,786.5 1401.5,804.6 1325.7,815.2 1342,826.5 1278.8,826.1 1306.6,817.4 1287.1,770.5 1343,803.5 1338.5,783.2 1319.1,713.4 1351.2,750.8 1375.5,824.8 1350.4,772.4 1312,788 1281.2,785.4 1368,802.8 1285.7,725.2 1287.5,808.7 1390.1,804.7 1361.7,805 1308.4,817.7 1158.2,758.4 1320.6,823.1 1342.8,787 1139.4,783.1 1261.5,749.8 1316.7,820.9 1317.3,778.2 1294.7,818.2 1115.8,752.6 1411.2,818.6 1372.2,793.1 1412.6,787.1 1367.5,824.1 1366,739.5 1382.7,825 1389.5,827.1 1303.2,799.8 1332.3,795 1333.2,832.5 1365.2,813.6 1297.4,821.1 1338.6,763.1 1348.3,744.8 1064.1,648.5 1326.3,828.9 1393.4,804 1332.8,826.8 1358,814 1508.5,804.9 1370.6,809.2 1355.8,810.7 1350,742.1 1354.2,829.7 1336.3,792.1 1359.6,796.8 1333.1,709.4 1347.4,778.8 1333.2,776.6 1287.5,802.9 1336.9,787.5 1368,786.8 1328.4,801.4 1341.2,796.2 1347.4,776 1370.6,812.3 1295.8,809.3 1335.5,826.6 1354.8,790 1311.7,790.1 1425.6,823.2 1273,809.6 1345.6,811.6 1330.7,780 1320.3,802.5 1349.7,829.8 1308.4,812.8 1351.7,771.4 1153.6,699.8 1276.8,827.5 1351.4,829.2 1364.5,822 1298.2,812.3 1393.8,810.8 1349.6,796.9 1359.5,798.9 1386.3,810.7 1242.6,722.5 1370,806.2 1291,793.7 1368.3,830 1249,747.7 1210.1,814.4 1413.2,782.5 1307.6,769.3 1289.5,810.7 1344.3,801.5 1336.6,811.1 1390,800.4 1369.9,801.9 1329.7,765.9 1368.5,809.5 1319.9,768.5 1320.4,803 1241.4,830.6 1358.5,818.8 1341.6,768.7 1390.9,793.7 1353,811.5 1354,829 1346,811.7 1341.2,806.5 1273.3,768 1318.4,794.6 1300.7,820.5 1368.3,814.8 1325,818.8 1368.5,814.2 1345.8,790 1342.8,815.6 1354.7,798.7 1319.2,786.8 1340,803.8 1374.5,809.8 1313.4,737.2 1370.4,818.8 1305.8,822.6 1287.1,802.2 1327.2,832.5 1374.8,718.9 1397.9,788.7 1328.9,789.4 1338.6,809.8 1292.3,813.7 1370.8,787.2 1268.6,799.8 1315.7,734.8 1399.5,789.8 1306.6,732.5 1342.8,761 1315.8,813.7 1346.2,774.7 1330.6,790.9 1348.1,805.9 1298.2,829.4 1342.9,820.7 1443.3,804 1337.6,759.2 1309.9,818.7 1272.7,780.9 1366.7,807.3 1265.2,811.6 1326.9,830 1346,783 1318.6,776.8 1348.2,749.2 1395.7,784.8 1359.5,810 1222.2,736.4 1338.4,819.7 1346.8,800.5 1373.7,824.4 1388.9,737.7 1299.5,779.5 1417,811.9 1364,804.6 1348.8,824.4 1334.6,818.9 1375.7,777.6 1307.2,788 1283.9,759.8 1355.8,804.3 1247,823.5 1334,799.9 1385.1,828.1 1293.8,774.3 1328.4,793.8 1337.7,758.5 1327.7,777 1267.8,770.5 1253.6,832.6 1302.3,794.7 1326.2,768.3 1307.3,802.5 1367.2,764.6 1366,789.5 1268.4,819.8 1304.3,802.2 1169.9,689.4 1315.2,798.7 1245.8,793.9 1324.8,819.4 1351.5,774.6 1292.9,789.6 1271.6,825.2 1337.4,793.5 1312.2,797.3 1303.1,757.7 1319.5,781.1 1409.3,831 1330.8,746.7 1366,762.3 1318.9,772.2 1344.7,737.5 1325.9,821.7 1297.8,771.4 1381.4,822.7 1323.6,828.7 1275.5,797.7 1302.7,761.4 1362.9,803.7 1371.8,785.9 1409.5,818.2 1236,752.8 1271.5,832.5 1284.2,790.4 1273.3,721.1 1250.4,784.1 1385.7,820.5 1247.2,642.1 1314.5,814.2 1321.4,792 1343,794.4 1338.2,796.4 1407.1,793.7 1326.8,828.3 1377,787.3 1380.1,747.8 1319.9,816.5 1299.9,790.8 1356.3,786.2 1320.4,796.8 1133.2,634.6 1392.7,786.9 1374.5,779.9 1282.1,734.3 1282.1,803.3 1397.9,816.5 1318.4,797.5 1291.5,790.4 1393.1,808.2 1320.5,811.5 1261.8,792.3 1351.9,785.8 1344.1,796.1 1309.1,821.1 1317.5,787.4 1362.5,820.3 1354.3,828.5 1295,709.7 1358.6,805.2 1340.5,827.2 1404.3,831.3 1405.4,820 1375.4,811.8 1414.9,807.8 1439.1,812.9 1325.1,766.9 1327.1,806 1304.2,828.5 1245.8,767.9 1314.4,825.9 1365.3,763.8 1315.6,807 1178.3,698.2 1166.8,764.4 1268.3,782.9 1301.3,821.2 1404.6,802.3 1355.4,804.3 1398.3,820.7 1287.6,819.2 1195.8,754.2 1287.5,818.4 1393.3,832.3 1315.5,803.3 1329.6,801.7 1408.8,798.6 1383.3,824.2 1323.6,754.8 1371.5,815.2 1381.6,781 1317.1,787.1 1271.7,722.9 1304.7,771.6 1275.7,804.5 1343,784.4 1430.6,826.4 1350.9,773.8 1299.2,725 1196.8,739.3 1287.9,783.4 1361.2,709 1335.7,804.8 1360.7,806.2 1392.6,800.6 1387.9,798.2 1350.4,824.3 1340.8,761.8 1295.3,798.5 1383.4,829.8 1331.6,751.8 1379.7,805.2 1283.4,797.7 1385.7,813.6 1309.1,818.6 1302.7,813.3 1336.7,730.5 1313.4,785.1 1313.4,812.6 1334.7,772.1 1338,779.8 1376.9,788.5 1351.2,816.5 1323.4,796.7 1337.2,802.1 1332,809.4 1363,810.3 1218.9,794 1313,793.5 1246.5,788.9 1330,806 1398.7,786 1351.4,808 1336.2,783.9 1252.2,807.8 1387,817.9 1420.4,792.6 1394.9,818.3 1357.9,800.2 1319.8,812.8 1246.4,761.9 1345.4,768 1318.6,801.2 1368.5,811.3 1289.8,808.4 1380.7,812.7 1327.9,826.4 1321.4,782.6 1332,796.9 1319.2,811.7 1379.1,829.3 1404.8,815.1 1179.2,759 1204.9,824.8 1234.3,767.4 1316.4,777.9 1261.4,816.1 1218.8,735 1313.9,761.5 1323.3,806.8 1351.3,790.9 1261,811.3 1390.7,800.3 1271,830 1268.6,766 1274.7,775.2 1395.8,795.4 1386.8,792.8 1306.9,812.3 1340.5,801.1 1117.4,668.3 1341.1,767.1 1419.5,789.4 1343.7,823 1382.8,800.3 1357.1,820.8 1284.8,830.1 1360.7,826.1 1365.9,820.7 1404.4,805 1386,788.1 1304.6,826.3 1279.7,801.6 1329.1,828.7 1354.6,783.1 1492.4,778.1 1387.1,805.5 1301.9,815.4 1342.3,782 1378.9,775.1 1421.1,801.4 1409.6,817.1 1271.8,778.3 1286.2,788.9 1300.1,737.5 1274,826.7 1294.5,774.1 1302.4,765.7 1341.1,793.2 1358,823.9 1346.5,759.7 1398.5,831.9 1373.3,822.1 1321.5,798.8 1314.3,816.3 1307,823 1355,816.4 1378.4,798.9 1356.2,823.9 1310.5,802.7 1267.4,785.7 1369.9,807.9 1320.6,736.3 1330.2,818.5 1350.7,804.9 1383.7,797.6 1250.2,816.4 1362.3,771.8 1360.2,778.9 1268.2,817.6 1283.2,821.5 1294.3,813.5 1323.5,826.2 1278.1,792.3 1352.5,817.9 1285.9,812.2 1342.4,804.7 1196.8,715.2 1339.3,790.9 1367.8,769.9 1406.2,808.5 1266.1,777.7 1342.9,791 1305.6,824.1 1339.5,803.9 1354.5,785.1 1388.2,803.5 1325.1,811.9 1352.1,780.5 1404.2,807.9 1354.3,827.5 1314.5,776.9 1307.5,779.4 1267.7,819.1 1461,817.2 1376.6,758.6 1175.5,740.3 1407.5,803.9 1306.3,812.4 1376.1,822.3 1357.7,817.5 1325.3,792 1291.4,751.5 1393.4,788.8 1349,743.2 1393.3,810.9 1408.5,802.7 1402.8,798 1291.4,803.8 1182.9,764.8 1370.3,807.9 1319.2,817.7 1343.3,792.8 1276.6,825.6 1364.8,806.2 1291.9,832 1020.6,624.3 1260.3,814.4 1305.5,785.4 1300.5,774.9 1291.2,802.6 1325.3,816.9 1321.4,755 1334.9,796.3 1349.8,795.7 1166.6,749 1307.7,810.7 1313.4,815.9 1304,785.3 1302.8,771 1281.9,765.3 1334.8,833.4 1174.9,822.4 1343.9,803.6 1329.6,807.9 1385,825.6 1356.4,816.7 1298.6,742.1 1353.4,793.3 1308.4,802.7 1366.3,817.9 1247.3,660.1 1343.9,799.2 1280.5,793.5 1335.2,809.3 1409.9,822.7 1342,798.9 1269,753.4 1271,808.9 1179.2,805.9 1035.2,770 1305.5,832.9 1303,799 1317.1,787.1 1362.8,748 1290.2,776.1 1337.8,818.6 1325.9,731.6 1330.9,777.6 1373.8,790.9 1316.6,805.7 1357.9,777.5 1272,762.6 1371.8,815.8 1365.3,820.1 1366,826.1 1391.1,817.5 1342.5,830.5 1371.3,810.3 1289.7,767.8 1335.8,817.4 1339.9,819.5 1289.4,774 1104.4,717.4 1309.5,750.5 1409.7,775.9 1330.2,819.9 1304.7,785.3 1361,820 1365.6,797.1 1333.1,812.5 1301.5,828.9 1324.8,809.2 1383.7,816.1 1212.6,767 1291.8,791.2 1301.6,798.8 1467.6,799.4 1312.7,763.9 1351,765.6 1326.8,732.8 1371,787.7 1366.9,811.2 1401.1,821.7 1433.3,806.3 1302.6,764.7 1383.8,811.8 1290.4,826.9 1328.2,813.8 1367.2,797.8 1375.1,727.1 1013.9,644.1 1362.2,825.5 1297.1,797.3 1346.9,813.5 1298.8,817 1315,813.1 1335.4,795.1 1377.8,785 1336.7,802.2 1379.3,806.1 1358.3,789.5 1289.9,809 1354.2,799.7 1378.2,798.7 1362.4,818.5 1348.4,816.1 1328.1,791.2 1316.3,822.1 1387.9,781.5 1257.7,804.6 1325.6,813.8 1268.1,704 1373.3,742.9 1284.9,768.3 1387.2,810.8 1272.7,784.5 1277.4,742.2 1271.4,805.7 1355.3,819.5 1382.7,822.7 1399.5,811.3 1298.3,790.9 1422.4,778.8 1327.4,780.5"/>
<polyline fill="none" stroke="none" marker-start="url(#mb)" marker-mid="url(#mb)" marker-end="url(#mb)" points="1004.2,645.4 1270,826.4 1265.3,777.8 1313.6,772.8 1270.7,813.7 1191.8,815.7 1238.6,821.7 1237.5,792.8 1274.5,815.4 1190.1,796 1232,781.3 1152.5,708.8 1212.8,818.6 1140.1,801.5 1250,812.2 1160.3,723 1153.7,681.9 1291.2,786.6 1270.1,818.4 1161.7,677.4 1294.9,813.1 1192.9,814.5 1256.6,776.1 1249.2,787.6 1289.9,782.8 1281.1,792.8 1284.9,817.9 1317.7,819.2 1244.3,801.8 1241,815.3 1073.2,637 1186.9,820.6 1130.7,655.8 1219.9,782.3 1238.9,828 1111.6,649.3 1268.5,786.5 1347.6,802.1 1081.6,773.9 1188.2,781.3 1213.8,790.7 1194.5,787.8 1255.8,775.6 1181.1,794.3 1239.2,813.9 1272.6,822.3 1159.6,669.8 1364.5,799.5 1255.7,789.4 1247.6,805.9 1225.7,803.7 1258.8,810.5 1288,808.7 1193.2,802.7 1215.8,829.2 1219,793.1 1236.7,777.3 1249.8,829.4 1309.8,802.4 1141.1,806.6 1225.3,789.9 1260.7,807 1144.7,642.5 1224.5,812 1183.5,810.1 1149.1,658.2 1248.6,797.6 1211.1,823.4 1287.6,792.4 1259.7,827.9 1217.8,826.2 1083.2,676 1246.5,788.8 1118.9,797.3 1220.2,824.3 1156.4,627.2 1228,798.2 1313.3,812 1258,783.2 1277,817.4 1287.2,818.2 1281.5,804 1256.9,789.1 1243.6,817.9 1167.3,796.2 1231.8,818.5 1161.2,693.7 1278.6,799 1210.2,798 1289.6,786.2 1254.7,779.3 1286.5,792.9 1302.2,789.5 1200,817.7 1157.5,695.7 1301.2,795.6 1253.3,803.4 1267.1,796.6 1280.2,817.8 1272.2,811.2 1179,814 1238.2,779.7 1249.6,828.5 1072.1,672.9 1266.5,818 1120.3,793 1228.1,822.9 1229.4,782.6 1280.3,820.1 1223.3,773.9 1100.4,756.1 1144.8,708.9 1333.4,795.9 1258.6,813.3 1182.6,795 1116.3,633.9 1156,817.6 1117.9,658.1 1290.6,797.4 1222.7,791.2 1239.4,815.8 1261.4,779 1149.8,746.4 1288.3,826.8 1275.3,801.6 1254.3,782.8 1151.4,726.7 1272.7,789.1 1183.5,804.9 1244.7,817.4 1130.9,728.4 1233.3,797.9 1210.8,796 1293.9,831.9 1272,794.9 1279.1,774.4 1208,798.3 1266.8,825.2 1258.9,820.2 1177.3,790 1146.2,819.7 1271.5,825.3 1048,638.5 1253.2,814.7 1292.6,811.4 1237.3,790.2 1265,815.3 1279.3,819.2 1184.9,785.8 1248.8,781.6 1351.9,817.7 1264.2,790.5 1327.5,784.1 1213.5,827.1 1042.8,754.8 1252.5,801.2 1257.6,812.2 1228.4,801.2 1013.7,640.1 1250.7,776.8 1277,795.3 1080.1,655.3 1265.3,801.2 1183.7,791.4 1122.4,679.4 1187.6,778.4 1270.4,795.6 1266,788.3 1116.7,758.5 1323.6,816.6 1236.9,796.9 1178.8,770.7 1216,774.4 1192.9,775.7 1155.4,700.3 1270.4,795.3 1321.9,777.6 1227.1,806.6 1139,747.4 1187,813.2 1252.4,770.3 1159.8,704.4 1021.7,629.5 1250.6,803.7 1271.6,818.1 1284.8,779.6 1343.1,830.3 1237.3,795 1265.5,820.5 1198.6,803.9 1304.7,831.7 1190.7,807.8 1257,782 1047.5,735.5 1187.5,790 1270.4,808.7 1258,801.8 1294.6,777.3 1207.3,784.1 1309.4,794.1 1234.6,776.5 1184.9,818.7 1268,823.3 1250.3,813 1281.4,811.4 1170.4,793.2"/>
<polyline fill="none" stroke="none" marker-start="url(#my)" marker-mid="url(#my)" marker-end="url(#my)" points="1385.7,748.4 1381.8,810.3 1562.1,820.7 1577,824 1510.9,751.8 1595.2,808.8 1390.3,794.9 1479.2,803.7 1387.8,754.2 1403.2,780.9 1373.4,823 1502.1,818.3 1574.7,827.8 1387,811.5 1393.5,823.9 1475,803.7 1459.8,768.8 1424.7,823.6 1434.6,820.1 1434.8,789.3 1374.5,775.4 1437,812.9 1424.3,813.7 1399.2,757.4 1469.6,829.3 1500.7,801.6 1430.1,800.8 1407.5,817.4 1482.6,775.1 1431.1,808.2 1415.1,819.5 1488.5,827.8 1456.9,791 1553.8,820.6 1474,820.7 1504.6,806 1583.7,813.1 1413.4,822.7 1371.1,811 1406.3,815.4 1381.3,818.2 1435.5,817.5 1580.6,805.5 1552.2,806.6 1515,804.6 1580.4,829.7 1392.9,785.7 1559.8,829.3 1493.3,807 1433,819.5 1444.3,818.7 1422.3,818.5 1521.6,821.8 1413.8,827.5 1512.7,810.5 1406,748.4 1495.2,789.9 1531.3,802.2 1560.8,829.9 1318.5,673.1 1436.2,782.5 1582.6,818.5 1343,658.6 1595.1,823.4 1574.6,825.3 1566.1,812.5 1489.4,798.1 1475,783.2 1449.1,823.6 1446.8,772.1 1541.6,808.7 1474.1,816.2 1467.4,829 1431.3,815.6 1454,827.2 1390.7,751.1 1436.6,795.5 1591.7,800.4 1391.5,811.7 1509.4,804 1455.9,798.8 1473.8,790.4 1434.5,810.2 1547.1,820.2 1456.2,820.3 1468.3,810.9 1526.8,813.5 1429.5,796 1397,828.6 1538.1,798.8 1381.3,801.2 1438.7,814.9 1463.9,824.4 1277.8,672.3 1604.8,793.8 1370.1,760 1587.2,821.7 1547.9,826.6 1494,819 1492.8,823.3 1424.7,821.6 1390.7,804.1 1601,809.4 1470.9,831 1554,830.9 1580.1,831.3 1463.3,793.4 1541.7,828.9 1440.4,795.3 1394.9,769.4 1412.8,821.8 1337.8,632.6 1394.3,770.8 1373.8,765.7 1451,792.1 1528.8,827.3 1449,823.6 1496.7,823.4 1452.3,826.3 1400,800.2 1436.8,822.5 1445.3,796.2 1427.1,817.9 1496.1,812.8 1549.1,829.2 1487.8,824.3 1472,807.9 1447.8,829.3 1473.1,829.1 1495.5,796.8 1517.2,829.1 1419.8,789 1423.3,825.8 1479.7,813.4 1541.5,833.3 1423.5,822.5 1428.9,782.2 1452.9,775.8 1432.5,808.3 1436.7,770.5 1555.4,829.3 1399.6,799.3 1467.9,822.1 1339.9,729.7 1417,808.2 1479,829.6 1438.4,815.9 1398.2,815.6 1546.6,827.2 1425.2,795.2 1451.1,803.5 1387.9,786.9 1468.1,762.1 1443.5,809.8 1410.5,784.1 1429,775.2 1435.8,755.8 1468.2,787 1476.3,803.9 1539.7,825.5 1487.1,814.5 1582.2,824.3 1449.6,764.2 1406.4,788.1 1466.9,776 1582.3,825.1 1488.7,801.1 1427,801.7 1425.9,788.7 1380,768.4 1702.2,829.9 1441.5,814.2 1458.8,808.3 1444.3,727.2 1697,831.3 1384.7,755.7 1408,800.5 1507.8,824.6 1408.6,740.9 1584.6,806.2 1428.4,804.7 1432,814.8 1351.9,828.3 1601.5,830.5 1420.7,809.1 1594.3,810.8 1418.7,829.6 1398.2,796 1386.7,713 1435.7,831 1458.1,791.7 1414.2,802.9 1425,815 1380,793.4 1441.9,807.1 1497.6,814 1442.2,800.6 1519,801.5 1482,804.1 1526.7,812.6 1376.1,761.1 1463.9,790.8 1407.4,803.8 1426,807.7 1428.1,805.9 1495.4,829 1369.3,788.5 1363.6,764.6 1461.3,815.4 1399.1,812.9 1525.2,828.1 1528,797.6 1509.2,794.3 1544.7,804.1 1424.5,805.1 1443.3,821.5 1555.8,789.4 1410.8,817.1 1462.1,814.5 1428.7,806.2 1518.2,791.8 1589.8,802 1437,793.6 1400.4,812.3 1554.8,796.8 1447.7,784.9 1416.2,755.6 1459.8,808 1476.4,831.8 1304.6,640.4 1435.3,796.9 1476.4,818.1 1427.8,812.3 1417.6,799.8 1487.4,815.2 1452.8,762.4 1476,814.6 1591.1,811.5 1517.3,826.3 1587.3,823.9 1559,817.3 1454,809.7 1376.4,755 1429.9,827.5 1458.8,780 1442.5,795.6 1419.3,805 1455.6,806.9 1482,806.8 1391.7,787.7 1445.8,808.2 1445.4,776.2 1436.2,828 1404.5,769.2 1382.5,808.3 1518,824.4 1504.7,802.9 1351.1,812 1391.5,771.5 1489.5,781.5 1351.4,780.2 1378.1,760.1 1433.4,823.1 1535.4,818.3 1581.2,812.1 1435.5,793.9 1451.4,825.1 1572,793 1407.7,818.7 1515.4,813.6 1382.1,814 1498.9,805.5 1582,818.7 1585.1,826.1 1621,823.6 1571.6,826.3 1431,826.6 1524.3,796.4 1529.8,827.2 1517.7,783 1458.2,763.5 1405,751 1380.5,774.9 1530.2,832.6 1446.5,800.6 1338.7,813 1405.5,824.3 1528.5,815 1513.1,799.8 1537.1,812 1491.5,822.1 1472,820.3 1576.6,821 1372.5,798.2 1531.1,822.1 1456.4,823.6 1529.8,799.1 1418.5,763.9 1578.6,812.8 1581.3,823.1 1566.1,814.6 1332.4,731.1 1561.9,796.4 1421.3,823.7 1418.7,811.3 1442.6,668.6 1557.8,810.6 1430.1,831.3 1415.7,759.8 1450.7,806.9 1414.5,811.2 1465,816.9 1588,825.2 1584.2,823.4 1561.6,816.6 1500,822.2 1571.8,821.6 1455.1,773 1516.6,818 1449,788.4 1403,748.6 1436.9,784.9 1502.5,800.1 1399.1,830 1387.2,811.8 1453.4,818.7 1549.3,822.9 1437.2,778.3 1398.4,808 1451.8,796.8 1537.8,819 1293.5,666 1445.9,815.7 1490,758 1559.4,821 1451.3,834.2 1575.3,826.7 1473.9,821.5 1443.2,798.7 1418.4,742.5 1350.6,635.1 1445.1,785.4 1418.3,808.7 1560.2,828.9 1419.1,820.6 1470.8,829.4 1571.8,815.6 1397.6,831.2 1421.1,785.3 1369.2,743.7 1525.2,816.5 1419.4,800.4 1432.9,812.3 1430.8,827.3 1449.6,813.7 1441.8,740.9 1559.6,808 1380.2,770.3 1524.2,819.3 1556,829.5 1505.8,797.1 1405.1,777.8 1471.2,801.2 1410.9,757.2 1446.9,803.6 1433.4,748.3 1411.8,815 1385.3,830.9 1565.7,831.8 1405.2,827.7 1375.2,828.4 1531.1,804.6 1485.9,789 1499.6,799.9 1587.4,813.5 1436,823.1 1467.9,829.7 1555.3,818.5 1528.2,829.1 1512.7,823.2 1395,797 1393.4,764.3 1442.6,809 1483.6,818.7 1406.1,804.3 1578,822 1405.9,756.8 1411.8,821.5 1555.6,820.4 1472.4,803.2 1308.9,650.3 1540.4,809.9 1526.2,820.1 1423.2,821.9 1372.3,762.4 1401.1,828.7 1561.7,794.4 1392.9,786 1527.4,773.1 1444,775.4 1431.9,819.2 1426.3,799.8 1471.9,823.8 1429.3,781.1 1444,825.5 1417.1,811.6 1423.3,748.2 1413.4,783.8 1472.5,811.2 1526.2,824.2 1498.4,823.3 1568,818.1 1555.5,810.4 1396.9,774.5 1513.5,808.7 1429.8,822.6 1430.3,793.7 1404.3,771.2 1407.1,820.5 1484.7,791.5 1438.2,797.6 1408,819.3 1405.3,754.4 1412.1,826.1 1427.1,816.8 1500,818.1 1302.6,658.1 1415.5,754.7 1460.9,827.2 1457.5,764.2 1504.5,724.1 1423.4,776.7 1488,812.8 1504.5,821.2 1511.8,824.2 1516.3,823.2 1386,755.9 1463.4,811.5 1529.6,814.6 1445.9,818.2 1413.5,812.5 1409.4,803.9 1370.9,801.5 1461.6,806.9 1506,819.4 1467.2,800.4 1449.6,801.7 1393.9,768.7 1432,796 1514.9,799.7 1441.7,827.7 1371.6,723.5 1466.6,817.6 1410.1,804.1 1456.3,802.4 1566.8,806.3 1531.3,819.8 1402.6,823.4 1430.2,818.8 1395.9,761.6 1485.1,805.8 1508.1,829.9 1451.5,791.2 1458.8,803.5 1408.7,784.1 1430.7,807.8 1427.2,811.6 1595.4,830.3 1408.9,732.1 1477.3,808.4 1394.6,748.5"/>
<polyline fill="none" stroke="none" marker-start="url(#mo)" marker-mid="url(#mo)" marker-end="url(#mo)" points="1621.6,699.2 1639.8,811.1 1696.1,828.2 1701,826.9 1605.5,787.5 1672.6,823.9 1636,811 1580.3,800.3 1695.5,830.5 1594.1,817.2 1594.6,826.5 1683.3,829.4 1679.4,829.1 1586.1,824.5 1612.1,824.3 1577.8,799.7 1639.1,826.1 1627.1,825.3 1660.6,810.1 1616.7,816.7 1650.5,824.2 1605.2,827.8 1641.3,814.3 1646.1,825 1618.8,821.2 1657.5,821.1 1683.7,823.8 1640,820.8 1602.5,825.3 1670.7,824.8 1697.2,830.4 1649.9,811.5 1644.1,829.8 1589.5,776.1 1619.5,821.5 1712.6,820.2 1606.3,821.4 1690.4,826.3 1613.2,829.3 1591.8,821.8 1622.6,825.8 1629.2,830.4 1616.7,819.5 1691.9,831.4 1592.8,814.6 1613.5,811.9 1581.7,830.7 1590.7,831.4 1690.5,833.4 1704.8,829.1 1720.9,827.4 1655,823.7 1722.4,832 1588.5,826.7 1594.9,826 1650.1,803.8 1720.8,830.6 1593.6,811.3 1615.1,827.9 1595.9,802.6 1550.7,816.4 1590,819.7 1706,831.1 1594.1,827.4"/>
<path d="M1003.5 739L1697.5 837.3" stroke="#6b6b6b" stroke-width="1.7" fill="none"/>
<path d="M1739.5 743H1747.5" stroke="#9a9a9a" stroke-width="1.4"/>
<text x="1751" y="746.8" class="r2" textLength="44" lengthAdjust="spacingAndGlyphs">R2 = 0.2</text>
<text x="1373.5" y="880.5" class="ax" font-size="16.5" text-anchor="middle" textLength="124" lengthAdjust="spacingAndGlyphs">mean LST (°C)</text>
<text transform="translate(949.3 740) rotate(-90)" class="ax" font-size="14.5" text-anchor="middle" textLength="212" lengthAdjust="spacingAndGlyphs">High vegetation  (% of LCZ)</text>
<path d="M1017.5 916V1130.5H1716M1051.5 1130.5v3M1088.8 1130.5v3M1126.1 1130.5v3M1163.4 1130.5v3M1200.7 1130.5v3M1238 1130.5v3M1275.3 1130.5v3M1312.6 1130.5v3M1349.9 1130.5v3M1387.2 1130.5v3M1424.5 1130.5v3M1461.8 1130.5v3M1499.1 1130.5v3M1536.4 1130.5v3M1573.7 1130.5v3M1611 1130.5v3M1648.3 1130.5v3M1685.6 1130.5v3M1017.5 1130.5h-3.5M1017.5 1107.8h-3.5M1017.5 1085.2h-3.5M1017.5 1062.5h-3.5M1017.5 1039.8h-3.5M1017.5 1017.1h-3.5M1017.5 994.5h-3.5M1017.5 971.8h-3.5M1017.5 949.1h-3.5M1017.5 926.5h-3.5" fill="none" stroke="#c6c6c6" stroke-width="1.1"/>
<g class="tk" text-anchor="middle"><text x="1051.5" y="1149.1">15</text><text x="1088.8" y="1149.1">16</text><text x="1126.1" y="1149.1">17</text><text x="1163.4" y="1149.1">18</text><text x="1200.7" y="1149.1">19</text><text x="1238" y="1149.1">20</text><text x="1275.3" y="1149.1">21</text><text x="1312.6" y="1149.1">22</text><text x="1349.9" y="1149.1">23</text><text x="1387.2" y="1149.1">24</text><text x="1424.5" y="1149.1">25</text><text x="1461.8" y="1149.1">26</text><text x="1499.1" y="1149.1">27</text><text x="1536.4" y="1149.1">28</text><text x="1573.7" y="1149.1">29</text><text x="1611" y="1149.1">30</text><text x="1648.3" y="1149.1">31</text><text x="1685.6" y="1149.1">32</text></g><g class="tk" text-anchor="end"><text x="1006.5" y="1134.4">0</text><text x="1006.5" y="1111.7">10</text><text x="1006.5" y="1089.1">20</text><text x="1006.5" y="1066.4">30</text><text x="1006.5" y="1043.7">40</text><text x="1006.5" y="1021">50</text><text x="1006.5" y="998.4">60</text><text x="1006.5" y="975.7">70</text><text x="1006.5" y="953">80</text><text x="1006.5" y="930.4">90</text></g>
<polyline fill="none" stroke="none" marker-start="url(#mg)" marker-mid="url(#mg)" marker-end="url(#mg)" points="1385.2,1052.8 1313.9,1124.5 1308.6,1039.3 1322.8,1060.5 1286.7,1114 1398.4,1060.8 1345.5,1047.6 1317.2,1006.1 1321.1,1070.9 1287.9,1033.2 1333.1,1023 1281.4,1100.6 1338.7,1003.1 1364.6,1072.9 1380.2,1063.2 1294.9,1053 1304.3,1082.3 1336.9,1039.7 1415.3,1106.3 1403,1062.4 1262.9,1073.4 1317.5,1089.2 1391.4,1086.3 1310,1126.7 1272.4,1073 1265,1091.5 1313.8,1098.4 1386.4,1004.6 1333.6,1047.4 1388.3,1046.6 1353,1010.1 1371.6,1013.1 1356.8,1062.5 1348.5,996.3 1387.7,1083.6 1309.5,1020.7 1345.1,1087.5 1392.9,1041.5 1255.9,1106.5 1327.4,1070.6 1317.5,1079.7 1390.3,1070.1 1291.6,1085.2 1380.6,1063.2 1338.2,1062.1 1564.5,1115.1 1405.8,1053.4 1286,1023.3 1343.2,1114.6 1318,1114.7 1310,1062.7 1356.2,1124.6 1322.1,1030.8 1294.1,1083.5 1348.8,1088.2 1270.3,1017.7 1322.8,1053.4 1362.9,1058.6 1315.7,1075.8 1353,1071.6 1311.3,1033.9 1285.1,1017 1124.5,1015.8 1389.9,1099.1 1341.7,1114.6 1352.1,1094 1333.2,994.4 1414.9,1004.3 1301.6,1071.6 1333,1023.2 1329.6,1019.9 1353.6,994 1325.6,1024.7 1192,1098.9 1339.3,1071.9 1330.9,1021.2 1416.5,1081.8 1345.4,1089.3 1370.3,1052.5 1317,1050.3 1395.4,1043.4 1348.7,1020.2 1308.2,992.8 1260.3,1077.5 1286.3,990.6 1329.7,1099.7 1353.1,979.8 1290.3,1050.7 1366.9,1015.2 1410.6,1030.7 1284.3,1081 1347,1079.3 1338.5,1029.1 1347.6,1067.9 1373.1,1026.7 1310,1050.5 1305,1099.8 1361.5,1088.5 1359.6,1130.4 1331.4,1097.8 1290.2,1097.2 1342.8,1049.3 1345.8,981.5 1357.1,1010.2 1393.3,1079.2 1355.1,1069.8 1293,1066.3 1325.9,1050.9 1318.6,1083.7 1363.8,1101.2 1371.9,1040 1324.4,1043 1258,1037.7 1348,1072.2 1257.8,1102.1 1370.7,998.1 1213.3,971.6 1331.3,1040.4 1419.7,1089.1 1423.6,1042.4 1316.1,1079.4 1302,1010 1337.7,1008 1366.4,1019.9 1338.1,1050.5 1410.7,1125.1 1328.7,1124.5 1356.1,1061.5 1327.4,1091.9 1344.2,1090.4 1387.8,1018.7 1334.8,1077.5 1448.8,1013.1 1312.1,1032.9 1346,1067.2 1373.6,1042.8 1388.1,1068.5 1353.6,1110.2 1314.1,1052.2 1365.8,1090.7 1313.6,1057.8 1317.7,1017.2 1422.2,1094.3 1349.4,1009.9 1406,1023.7 1252.9,1077.9 1348.3,1057.6 1336.3,985.6 1353.2,1027.7 1379.1,1068.5 1366.9,1076 1250.7,1099.6 1355.4,1112.3 1322.6,1130.5 1254.4,1072.1 1401.2,1054.2 1270.1,1003.6 1274.6,1074.7 1417.5,1052.8 1331.2,1049.2 1338.4,1028.4 1293,1050.5 1181,1038.3 1338.9,1049.3 1408.5,1075.9 1348.3,1032.7 1324.8,975.9 1310.1,1048 1341.7,1087 1423,1029.5 1339.4,1024.5 1365.4,1082.7 1371.9,1009.2 1389.5,1081.4 1315.1,1053.2 1550.9,1116.1 1272.6,1104.4 1315.9,1055.1 1440.9,1058.4 1519.1,1120.7 1283.9,1048.6 1292.1,1028.1 1223.9,1067.4 1407.8,1078.8 1343.8,1001.5 1289.4,1036.9 1398.2,1059.6 1307,1096.9 1299.6,1030.6 1401.4,1028.1 1311.8,1079.9 1322.7,1087.1 1335.4,1064.2 1398.3,1039.2 1381.8,1059.9 1336.5,1048.8 1347,1058.2 1273.2,1035 1394,1119.9 1347.3,1120.4 1269.9,1020.7 1339.7,1057.6 1285.9,1081.4 1309.6,1029.5 1280.5,1001 1382.8,1069.2 1382.6,1088.3 1397.9,1087 1312.7,1056.1 1341.1,1003 1310.8,1035.2 1378.3,1068.4 1371.9,1030.7 1275.9,1019.6 1310.9,1022.6 1399.3,1096.7 1398.9,1001.5 1339.6,1050.2 1316.3,1074.1 1333.3,1011.6 1293.9,994.9 1306.4,1085 1319.5,1040.6 1345.1,1059.1 1292.4,1033 1279.5,997.4 1301.7,1062.1 1281.2,1069.2 1434.2,1065.1 1346,1043.7 1312.4,1027.6 1352.3,1050 1229.6,1026.5 1384.4,1072 1399.3,1046.4 1275.5,1060.5 1382.4,1130.5 1400,1076.4 1279.3,1025 1293,1054.4 1336.8,1046.2 1345,1056.4 1393.5,1067.1 1344.6,1076.5 1282.4,1025.7 1407.7,1048.8 1315.4,1042.6 1383.7,1002.9 1323.6,1010.8 1514.3,1078.5 1295.8,986 1339.3,993.7 1427.2,1089.2 1371.5,993.9 1329.2,1026.1 1307.2,1062.5 1373.4,1106.3 1358,1029.1 1306.4,1129.3 1375.1,1116.7 1260.8,994.6 1404.7,1059.2 1318.4,1035.6 1362.1,1064.7 1251.7,1078.7 1272.4,1011.1 1379.5,1070.6 1335.6,1122.1 1365.5,1041.4 1341.1,1082.9 1374.3,1035.5 1335.7,1071.5 1313.4,1045.2 1401.8,1121.2 1343.8,1055.6 1302.3,1130.5 1248.9,1105.1 1370.8,1035.4 1313,1053 1309.3,1130.5 1349.1,975 1295,1051.6 1317.7,1016.4 1287.2,1017.2 1395.9,1039.3 1323.4,1025.8 1322.3,1074.8 1312.5,1036 1357.4,1029.7 1358.6,1094.8 1378,1017 1356.9,1121.6 1346.9,1095.2 1388.5,1077.6 1366.2,1027 1317.4,1032.8 1402,1055.8 1394.3,1080.7 1259.4,988.5 1373.4,1031.7 1332.4,1041.1 1297.9,1046.7 1395.1,1032.7 1250,1130.5 1361.6,1006.4 1284.4,1087.4 1335.6,1045.6 1298.1,1078.7 1340.1,1089.2 1325.4,1023 1319.2,1059.7 1286.1,1098.3 1335.4,1046.8 1352.3,1008.1 1386.6,1091.5 1401.8,1064.9 1380.3,1087.1 1355.5,1052 1327.7,1098.8 1338.5,1019.9 1335.7,1082.5 1347.6,1091.7 1375,1080.2 1302.1,1037.8 1353.7,1019.3 1295,1086.9 1348.7,1081.8 1453.2,1107.1 1349.2,1120 1360.2,1130.5 1358.6,1046.6 1330.2,1071.6 1159.3,1094.5 1339.1,1022.9 1379.3,1120.4 1354.8,1112.2 1285.8,1049.9 1311,1104.9 1313.7,1029.6 1313.1,1105.9 1335,1043.9 1309.2,1080.1 1359.7,1092.7 1305.2,1130.5 1276.4,1050.5 1345.2,1043.2 1350.6,1045.7 1389.9,1086.8 1383.3,1083.8 1344.6,1058.4 1282.3,1059.2 1364.1,1074.6 1354.3,1093.6 1378.5,1100.3 1364.8,1026.7 1372.7,963.3 1410.4,1122.7 1336.7,1067.3 1274.5,1078.9 1418.3,1078.2 1313.7,1025.7 1377.7,1038.7 1346.1,1054.9 1412.8,1067.4 1334.4,1025.4 1382.8,1081.8 1031.7,1130.2 1301.1,1015.2 1306.8,1051.8 1351.2,1103.4 1307,1017.3 1327.8,1095.7 1382,1077.8 1395.7,1049.8 1279.5,1054.7 1361.4,1053 1316.4,1081.7 1307,1051.1 1338.5,1037 1335.6,1084.3 1328.1,1087.3 1372.4,1070.3 1351.9,1042.8 1309.3,1024.8 1297.6,1054.3 1310.1,1086 1269.9,1050.5 1347,1106.1 1329.9,1050.1 1350.2,1126.3 1278.7,1053.9 1339.2,1067.3 1386.3,1030.9 1401.2,1057 1362.1,1026.1 1346.2,1081.6 1368.4,1046.7 1220.8,1008.2 1366.7,1096.6 1352.8,1028.7 1307.9,1024.1 1346.5,1061 1281.6,1014 1287.9,1079.5 1333.7,1000.6 1364.9,1012.8 1344.3,1052.5 1277.6,1087.4 1352.6,1049.7 1327.9,1066.2 1413.9,1041.6 1311.1,1042.1 1320.6,1075.2 1308.1,1097.8 1372.4,1083.4 1412.9,1032.8 1302.5,1066 1358.2,1080.3 1312,1074.3 1327,1012 1291.2,1058.4 1309.6,1043.5 1327.5,1057.6 1308.5,1025.3 1313,1062.8 1316.4,1091.7 1369.3,1086.2 1342.6,1063.9 1339,1072.1 1071.1,985 1261.1,1075.7 1359.3,1092.7 1264.4,1019.3 1287.5,1069.3 1274.5,1059.7 1383.5,1006.2 1573.9,1087.5 1399.1,1073.4 1368.5,1061.5 1396,1100.3 1319.7,1086.7 1412.9,1038.7 1367.7,1042.9 1343.7,1017.9 1458.4,1052.3 1296.5,1078.8 1400.5,983.1 1329,1082.1 1351.4,1062.1 1297.6,1003 1270,1084.8 1306.9,995.7 1339.3,1046.6 1320.3,1036.2 1050.8,1130.4 1410.7,1048.8 1302.2,1130.5 1323.9,1120.2 1379.5,982.4 1244.9,1102.4 1338.2,1071.7 1185.7,1070.3 1378.4,1051.1 1355.8,1024.6 1218.3,1051.8 1342.9,1018.1 1413.8,1094.5 1331.8,1050.8 1200.6,1063.3 1291.3,1035.5 1333.1,1039.5 1376,1082 1300.2,1069.1 1374.4,1096.9 1367,1053.3 1272.5,1048.5 1326.4,1058.8 1327.2,1036 1296.4,1070.3 1375.9,1013.3 1342,1003.1 1439.1,1123.7 1389.1,1026.9 1347.1,996.9 1409.5,1019.6 1330.4,1071.6 1358.3,1087.8 1321.1,1105.5 1411.9,1119.5 1320.8,1092.9 1309,1053.8 1375,1073.3 1282.8,1059.8 1396.6,1067.6 1392.7,1026.1 1323.8,1019 1357.5,1053.1 1387.3,1089.9 1218.3,1091.4 1315.3,1024.7 1297.3,1062.1 1397.1,1044.9 1363.5,1078 1321.7,1050.2 1383.4,1013.7 1352.8,1034.2 1395.5,1034.6 1344.5,1114.9 1392.1,1093.1 1303.9,1006.2 1195.2,1010 1334.3,1075.6 1318,1046.4 1374.3,1092.2 1298.1,1071.7 1334.4,1005.2 1355.3,1068 1280.3,1023.1 1305.4,1048.6 1347.7,1103.2 1313.4,1062.6 1320.1,1070.5 1332.1,984.1 1313.6,1045.7 1337.2,1094.8 1338.5,1069 1333.2,1078.5 1339.5,1091.1 1083.5,1111.5 1307.7,1025.8 1330,1064.5 1427.5,1093.3 1307.8,1067.3 1321.4,1080.9 1330,1001.6 1326.1,1025.7 1339.7,1060.2 1410.9,1045.9 1322.9,1100.4 1302.8,1044 1324,1057.2 1328.6,966.4 1395.1,1126.2 1307.2,1006.3 1343.6,1065 1391.9,1040.3 1307.9,1047.1 1376.8,1118.2 1352.8,1055.7 1330.9,1041.5 1264.6,1023.6 1406.3,1032.6 1387.3,1114.2 1402.6,1080.1 1300.6,1130.5 1365.9,1050.4 1400,1046.5 1403.1,1051.5 1428.1,1058.3 1268,1063.1 1377,1055.4 1387.2,1012.5 1337.6,1083.2 1277.2,1027.8 1283.2,985.9 1340.4,1024.2 1221,1039 1360.1,1067 1395.5,958.6 1338,989.8 1306.7,1009.7 1352.4,1063.5 1349.3,1028.3 1410.4,1119 1334.7,1067 1374.6,1029.6 1317.6,1087 1270.4,996.8 1337.2,1060.4 1401,1033.3 1291,1070.9 1322.4,1063.6 1312,1050 1343.6,1072.3 1348.4,1063.2 1302.7,1027.9 1347.3,1065.3 1309.3,1051.3 1290.7,1035.1 1428.3,1059.6 1332.3,1093.7 1360.8,1007.2 1371.3,1075.6 1349.4,1082.7 1327.9,1075.2 1371.4,1044.1 1288.7,1041.5 1393.1,1047.2 1280.1,1057.1 1494.9,1028.5 1297.8,1093.4 1365.5,1052.7 1408.1,1080.6 1408.5,1098.6 1318.5,1104.6 1399.5,1072 1343.5,1044.4 1319.2,1093.1 1247.5,1021.1 1549.1,1085.9 1350.9,1102.5 1290.9,1032.2 1255.3,1093.7 1358.2,1126.3 1337.2,1064.1 1338,1059.2 1333.6,1079.2 1326.9,1060.4 1380.5,1046.9 1325.1,1031.7 1246.9,1111.8 1359.2,1047.1 1355.4,1027.8 1260.2,1018.2 1359.2,1130.5 1264.3,1036.7 1361.2,1100.9 1343.7,1045.2 1348.5,1062.8 1396,1024 1287.2,1084.1 1321.8,1065.3 1416.6,1051.6 1308.4,1029.7 1230.2,1070.7 1286.7,1066.6 1377.1,1096.5 1292.8,1001.8 1379.9,1051.3 1221.2,981.5 1375.2,1049.4 1359,1084.6 1299.9,1084.8 1287.4,1037.7 1325.1,1117.8 1356.9,1028.2 1312.1,1019 1311.3,1060.6 1334.4,1090.5 1307.6,1071.8 1296.2,1032.9 1276,1065.3 1338.6,1036.8 1336.1,1018.6 1383.5,1064.1 1299.2,1037.1 1374.7,1003.2 1277.9,1009.8 1289.3,1130.5 1332.5,1076.6 1313.4,1067.8 1338.3,1041.7 1410.4,1054.3 1290.6,1050.3 1337,1068.4 1278.1,1044.7 1260.4,1006.8 1359.8,1067.8 1315.8,1026.2 1341.3,1056.8 1352.3,993.7 1296.3,1017.7 1421.1,1051.1 1344.7,1016.5 1413.7,1017.9 1343.6,1035.1 1382.2,1097.9 1318.7,1081.2 1364.7,1090.3 1221.2,1075.6 1329.1,970.3 1338,1058.3 1260.1,1008.9 1318.6,1072.2 1302,1039.6 1358.7,1118 1422.2,1083.7 1387.3,1083.2 1331.1,1079.5 1340.9,1023.3 1362.6,1053 1308.5,998.8 1281.9,1037.3 1362,1048.7 1324.8,1053.1 1387.2,1057 1294.4,1020.1 1348.4,1039.7 1321.6,1032.5 1277,1030.3 1381.6,992.6 1409.9,1042.7 1288.3,1058.6 1399.7,1043.1 1341.3,1111.2 1367.1,1051 1352.3,1083.3 1314.1,1093.7 1343.6,1052.7 1385.3,1086.7 1372.9,1018.7 1338.4,1021.5 1297.9,1064.2 1248.6,1084 1348.4,1049.6 1378.6,1089.9 1270.1,993.4 1368.9,1111 1440.4,1103.7 1385.3,1096.6 1308.8,1090.9 1387.1,1023.9 1333.6,1063.7 1309.8,1061.8 1359,1079.1 1293,1072.3 1254.5,1041.8 1272.1,1070 1323.8,1078.7 1339.2,1090.6 1262.6,1058.8 1347.5,985.7 1387.4,1029.2 1293.4,1056.5 1322.1,1069 1362.6,1094.4 1378.4,1075.3 1382.7,1035.4 1339.5,1080.3 1374.9,1066.4 1354.2,1050.4 1336.6,1079.8 1348.6,1062.7 1333.5,994.4 1329,1116.7 1334.8,1075.8 1418.6,1103.3 1310.7,1000.5 1283.8,1081.8 1365.2,1041.3 1287.4,1115.3 1291.5,1034.1 1304.6,990 1309.7,1083.5 1368.8,1041.2 1434.9,1030.1 1371.6,1042.1 1272,1078 1361.4,1059.8 1339.4,976.4 1336.9,1105.5 1327.9,1034.3 1329.3,1059.7 1410.9,1054.7 1342.6,1059.6 1326.5,977.8 1339.8,1016.3 1360.6,1094.2 1450.8,1059.2 1357.9,1047.6 1344.1,1080.5 1379.4,1116.2 1372.8,1050.1 1337.8,1082.5 1372.1,1103.9 1288.6,1062.6 1315.3,1019.1 1349,1093.6 1369.2,1074.2 1582.7,1060.6 1321.9,1089.5 1389.4,1081.2 1317.2,1026 1303.7,1071.8 1361.2,1076.1 1293.5,1097.9 1352.1,1084.9 1385.8,1027.8 1308.5,1049.3 1321.8,1086 1369.2,1102.5 1384.5,1046.3 1302.2,1025 1352.2,955 1421.2,1007.7 1337.4,1027.9 1304,1058.4 1393.3,1041.1 1339.9,1037.9 1374.1,1054.6 1397.2,1083.6 1317.4,1053.5 1261.2,1058.7 1330.6,1014.6 1334.7,1089.6 1343.7,1089.8 1311.7,1090.7 1377,1026.7 1306.7,1082 1368.6,1088.6 1452.8,1091.8 1324.1,1023 1286.5,955.1 1371.4,1055.7 1372.5,1076.4 1338.1,1014.4 1314.5,1060.7 1312.7,1036.3 1333.9,1095.1 1293.1,990.9 1380.2,1004.9 1374.3,968.6 1332.3,1026.9 1260,1053.1 1304,1054.5 1373.9,1042.5 1396.6,1077.4 1369.1,1126.9 1339.3,1030.6 1394,1089.9 1384.2,1115.4 1315.7,1002.4 1242.2,1082.3 1313.6,1060.9 1330.7,1093.2 1306.9,1065.4 1308.5,1006.8 1318.2,1073.3 1406.4,1097.6 1403.3,1021.2 1363.6,1118.3 1289.2,975.5 1272.6,957.1 1355,1036.1 1347,1099.1 1386.3,1109.6 1353.8,1052.6 1399,1108.6 1301.6,1054.4 1296.7,1078 1405.1,953.6 1316.4,989 1299.1,1088.9 1271.5,1041.6 1255,1076.3 1325.9,1098.7 1294.9,986.2 1280.9,1089.3 1295.5,1024.4 1035,1126.2 1292.7,1071.8 1229.7,1108.3 1320.3,1070.1 1437.4,1110 1288.4,1010.8 1312.7,1043.4 1372.4,1064.4 1311.5,1091.6 1362.9,1121.7 1383.8,1087.7 1338.8,1005.1 1379.4,1053.1 1312.1,1004.8 1267,1096.3 1323.4,1024.5 1380.9,967 1297.2,992.4 1392.6,1083.9 1281.2,1084.8 1340.1,1092.7 1385.7,1098.8 1557.9,1130.5 1389.7,1019.3 1371.9,1089.7 1375.1,1079 1434.2,1087.5 1387.8,1043 1330.9,1052.3 1341.3,1036.8 1368.3,1017.5 1324.3,1050.8 1287.7,1011.1 1390.5,1024.7 1316.3,1126 1315.2,1013.5 1350.4,1054.8 1342.3,1044.2 1363.6,1089.6 1367.4,1130.5 1326.4,1105.1 1407.6,1050.3 1332.2,1042.7 1297.9,1129.7 1371.1,1082.3 1318.8,1017.9 1290.7,1026.6 1382.9,1072.7 1360.8,1055.3 1333.4,1061.9 1277.1,1010.8 1350.2,1070.1 1288.6,1083 1367.3,1065.4 1269.3,1039.6 1345.6,1055.6 1380.2,1076.1 1297.3,1026.3 1364.3,1059.8 1352.6,1130.5 1306.3,1071.6 1335.7,1104 1349.4,1075.3 1318.6,1060.8 1338.6,1050.9 1116.2,1082.3 1344.9,1075.1 1368.7,1041 1334.9,1032.1 1333.2,1016.4 1361.5,1070 1383.5,1057 1278,1047 1405.9,1102.1 1329.2,1071.5 1337.7,1005.7 1441.8,1080.7 1384,1020.6 1275.2,1009.4 1354.4,1027.5 1351.9,1034.1 1221.6,992.6 1296.3,1027.1 1338.1,1047.6 1289.9,1113.4 1361.1,1020.3 1183.1,1090 1404.5,1049.9 1295.9,1061.9 1403.8,1106.3 1394.6,1062.6 1263.3,1125.9 1351,1043.8 1333.5,1047.2 1352.1,1096.2 1410,1105.2 1405.8,1088.3 1315.4,1066.8 1400.9,1029.4 1512.9,1110.7 1313.2,998.9 1333,993.7 1327.5,1029.6 1344.6,987.3 1354.9,1051.6 1316.5,1054.7 1289.8,1105.4 1371.8,1130.5 1346,1035.3 1153.2,1098.4 1359.3,1054.8 1243.4,1023.8 1398.6,1056.8 1327.2,1115.5 1278.5,996.1 1358.9,1021.3 1325.1,977.3 1276.5,1119.3 1315.3,1072.3 1334.6,978.7 1302.5,1089.1 1282.6,995.9 1426,1028.6 1409,1123.4 1415.9,1085.3 1318.4,1047 1328.2,1042.7 1364.1,1001.2 1275.6,1013 1374.4,1041.3 1292.8,1020.1 1300.9,1016.1 1322.9,1077.3 1359.4,1032.2 1315.1,1099.5 1545.7,1062.3 1353.2,1097.1 1389.1,1073.3 1347.1,1065.3 1306.5,1057.6 1269.3,1061.2 1257.5,1037.3 1306,1063.1 1406.1,1038.9 1300.6,1089.9 1335,972.5 1308.9,1068.6 1291.9,1037.5 1294.9,1067.7 1370.4,1127.7 1322.8,1071.4 1369.3,1069.7 1304.4,1070.7 1256.1,1039 1381.3,1063.1 1342.4,1044.7 1380.7,1071.6 1382.3,1099.6 1407.3,1001.2 1376.4,1062 1389.6,1067.9 1369.8,1052.6 1298.2,1077.1 1338.4,1041.5 1260.9,1037.2 1415.5,1056.8 1303,1047.6 1373.5,987.5 1307.9,1070.9 1453.5,1060.5 1321.5,1073 1313.1,1030.2 1366.4,1058.6 1291.1,1085.7 1285.7,1011.5 1343.9,1078.5 1332.4,1024.8 1255.2,1121.1 1311.5,1034.1 1315,1066.3 1312.7,1034.7 1265.4,1051 1285.7,1075.6 1333.9,1043.9 1351.6,1035.5 1240,989.6 1392.8,1125.4 1302.4,1048.6 1352.7,1108.5 1359.2,1049.8 1314.3,988.3 1425.8,1114.9 1356.2,1013.3 1361.4,1095.3 1363.2,1084.6 1343.7,1067.7 1283.6,1106.2 1352.5,1017.5 1371.1,1094.8 1315,1099.3 1309.4,1097.5 1276.2,1046.8 1331,1054.4 1303.1,1044.5 1300.2,1087.5 1328.2,1041.4 1332.5,1026 1337.6,1063.4 1302.6,1089.7 1359.4,1071.1 1442.5,1032.5 1348,1130.5 1349.9,996.6 1367.3,1066.5 1324.3,1039.9 1315.9,1009.9 1287.9,1118.6 1431.9,1076.4 1281.5,1069.9 1342.3,1061.5 1264.3,1045.8 1338.2,1046.2 1297.5,1026.9 1435.9,1044.7 1332.1,1090.4 1400.4,1012.4 1367.9,1054.7 1285.5,994.9 1284.1,1110.8 1310.1,1052.5 1271.4,1022.3 1325.3,1118.5 1286.5,1005.1 1354.7,1048.2 1351.3,1063.8 1296.8,1045.3 1289.5,1093.2 1338.5,1032.3 1310,1046.7 1125.7,944 1388.9,1089 1312.3,1030.3 1278,1029.6 1365.4,1033 1262,1018.1 1340.4,1012.7 1388.2,981.8 1352,1026 1403.3,1059.9 1376.5,1026.5 1377.6,1078.3 1357.7,1037.7 1289.2,1095.9 1230.4,1047.7 1279.9,1041.7 1304.8,1048.2 1309.6,1040.1 1308.3,1026.6 1378.2,1051.7 1402.1,1027.3 1344.2,1037.8 1411.6,1033.4 1321.4,1111.5 1308.8,1046.8 1413.4,1061.4 1350.3,1105.7 1357.1,1074.4 1399.3,1100.5 1294.3,1073.2 1316.8,1117.5 1324.6,1102.3 1321.1,1040.9 1283.7,1070.4 1342.5,1066.5 1348.1,1034.4 1369.7,1097 1290.5,1001.2 1329.9,999.4 1153.7,976.9 1279.9,1064.9 1410.3,1097.3 1328.2,1082.9 1348.6,1004.7 1333.7,1016.2 1402.3,1055.1 1320.9,1034.5 1343.7,1115.2 1375,1062.3 1288.4,1070.1 1334.9,1074.1 1378.3,1129.3 1274.5,1083.4 1301.3,1044.9 1254,1035.5 1350.8,1058.6 1351.3,1030.8 1334.3,1054.3 1276.2,1043.7 1336.2,1097.2 1397.5,1103.7 1337.7,1061.5 1354.4,980.1 1382.4,1063.8 1351.8,1037.8 1275.1,1024.4 1296.8,1065.2 1346.2,1033.8 1365,1057.9 1268,1080.4 1419.2,1040.5 1337.3,1063.9 1305.2,1047.3 1274.3,1064.8 1262.2,1048.2 1380.1,1061.2 1293,1011.1 1383.4,1108.1 1302,1083.7 1320.8,1026.8 1357.3,1032.2 1326.6,1016 1312.6,981.3 1413.5,1085.8 1311.7,1076.5 1335.2,1021.3 1291.7,985.2 1354.2,1002.3 1314.2,1032.7 1307.9,1092 1340.2,1081 1351.1,1021.1 1383.7,1041.4 1331.3,1000.7 1326.6,1051 1385.3,1124.1 1333.3,1062.4 1320.7,1079.7 1279.9,1030 1288.7,1106.7 1355,1094.7 1307,1089.7 1279.9,1033.3 1332.8,1058.6 1268.5,1074.6 1272.6,1093.8 1331.6,1090.2 1318.9,1007.8 1280.7,1060.2 1407,1047.8 1385.3,1068.1 1341.1,1044 1371.5,1097.9 1366.3,1037.8 1300.4,1035.1 1235.7,965.3 1164.3,1023.5 1353.3,1062.6 1351.8,1000.7 1313.3,1030.4 1236.7,1034.4 1331.4,1058.7 1389.7,1077.6 1397,1084.9 1336.9,1028.4 1535,1062.8 1301.2,1057.9 1355.6,1093.5 1362.3,1032.4 1337.9,1108.3 1269.6,1030.2 1304.8,1068.1 1312.9,1033.7 1306.2,1092.9 1376.8,1012.7 1357.4,1049.2 1330,1064.6 1348.6,1018.2 1332,1052.3 1296.5,1040.1 1342.6,1078.4 1336.5,1077 1354.3,1061.5 1364.7,1037.6 1290,1024.4 1268.2,1040.4 1338.9,1060.4 1318.8,1096.2 1321.3,1042.2 1325.1,1060.8 1297.6,1090.7 1298.8,1061.6 1375.5,990.4 1283.4,1049 1264.9,1077 1411.9,1062.5 1356.8,1088.4 1368.3,1018.9 1367.6,1071.1 1323.4,1046.4 1430.2,974.7 1283.9,1052.5 1286.1,1085.7 1325.3,1042.2 1351.6,1069.3 1325.8,1073 1307.7,1046.8 1380.5,1082.5 1371.6,1125.7 1306.4,1130.5 1329.6,964 1349.6,1094.3 1189.4,983.6 1364.6,1053 1403.3,1087.2 1343.2,1019.8 1357.3,997.8 1289.7,1063.6 1377,1043.7 1340.9,1087.3 1310.8,1078.7 1313.6,1025.7 1350.7,1063.4 1360,1057.5 1306.8,1047.4 1384.1,1012.1 1338.5,1055 1326.4,975.8 1352.4,1060.6 1364.9,1019.3 1264,1043.3 1253.2,1009.1 1312,1018.5 1366.6,1024.4 1388.5,1046.3 1334,1040.8 1404.5,1061.4 1337,1088.1 1342.2,1054.6 1452.4,1105.8 1316,1118 1361.7,1017.9 1301.3,1072.4 1360.7,1087.3 1288.7,1010.4 1266.3,1078 1394.4,1073.2 1391.9,1010.9 1372.9,1073.2 1319.5,1092.2 1337.2,1045.6 1331.3,1094.7 1296,1053.4 1317.9,1031.3 1344.4,1069.1 1319.5,969.2 1322.5,1075 1364.9,1078.6 1395.8,1098.1 1348.9,1036.8 1333.5,1095.7 1349.6,1048.7 1301.1,976.4 1281.8,1057 1269,1082 1276.7,1048.1 1347.7,1058.8 1346.4,1019.1 1373.1,1096.2 1347,1106.1 1374.5,1031.5 1377.2,1037.2 1304.8,1056.7 1328.2,1078.3 1252.2,1099.1 1297.5,1034.8 1266.2,997.7 1260.9,1049.3 1290.7,1020.1 1339.5,1120.6 1366.4,1088.3 1326,1040.1 1301.2,1020.7 1295.8,1092.9 1360.9,1080.6 1324.7,1024.1 1355.8,1130.5 1264.5,1058.6 1303.9,1068.1 1397.1,1130.5 1297.5,1062.1 1384.2,1066.8 1354.1,1069.3 1377.9,1041.1 1284.4,1088.3 1323.6,1101.9 1329.9,1029.4 1401.6,1010.9 1299.4,1124.6 1273,1070 1294.4,1032.9 1296.6,1029.9 1318.1,1102 1356.2,1023.6 1336.4,1070 1384.9,1068.3 1128.3,1073.2 1364.5,1048.2 1309.9,1071.1 1337.7,1044.6 1279.5,1070.7 1325,1066.7 1346.9,1092.9 1336.7,1056.9 1338.4,1086.1 1262.7,1041.2 1291.3,1079.8 1299.3,996.1 1180.2,988 1304.9,1006.8 1305.2,1052.6 1331.6,952.9 1563.3,1096.7 1417.1,1094 1350.5,1061.8 1331.2,1071.6 1357.1,1037.3 1306,1080.5 1338.3,1085.1 1297.3,1032.2 1395.4,1120.1 1336.6,1086.5 1274.2,1045.5 1260.6,1017.9 1313.1,1126.9 1291.1,1046.4 1417.9,1085.8 1418,1056.6 1177.3,1008.8 1215.1,1066.7 1413.5,1088 1177.6,1115 1352.2,1023 1390.1,1048 1398.5,1055.6 1374.3,1106.3 1323.8,982 1380,993.5 1367.1,1045 1345.1,1045.2 1343.3,1108.2 1349.3,1068.5 1369.5,1010 1375.2,1073.5 1362.1,1060.5 1407.2,1005.9 1311.3,1078.7 1282.6,1014.3 1357.4,1034.9 1319.2,1013.6 1313.6,1102.8 1303.7,1078 1338.5,1088.4 1021.8,1129.1 1380.7,1074.8 1299.7,1041.1 1340.7,1067.2 1402.8,1085 1288.9,1084.9 1311.5,1026.9 1381.4,1051.7 1372.1,1015.3 1393.7,1084.7 1383.1,1026.6 1378,1083.9 1321.5,995.6 1329.6,1044.7 1330.4,1117 1307,1083.6 1234.7,1035.1 1311.1,1053.7 1423.8,1039 1417.8,1051 1288.2,1036.6 1403.4,1049.7 1413.4,1050.6 1328.6,1034.7 1266.2,1040.9 1292.9,1073.5 1303,1047.5 1347.8,997.5 1383.3,1040.8 1352.2,998.7 1340.1,1058.3 1360.4,1026.5 1418.3,1048.9 1377.8,1019.2 1271.5,1055.8 1277.2,1028.6 1284.4,1018.6 1377.8,1063.6 1382,1065.9 1256.8,1028.8 1267.2,1026.9 1309.4,1110.2 1411.3,1089.2 1395.5,1002.6 1369.2,1079.4 1389.2,1071.6 1381,1048.7 1311.8,1043.3 1429,1071.9 1394.7,1085.7 1355.5,1073.7 1347.1,1081.3 1353.1,1048 1339.5,1020.6 1359.5,1096.7 1260,1062.1 1290.1,991.5 1360.3,1032.3 1347.8,976.7 1339.5,1074.3 1400.4,1068.1 1349.9,1071.6 1334.5,1077.2 1314.6,1010.1 1383.7,1117.8 1390.8,1035.2 1371.5,1079.7 1368.5,1029 1402,1050.4 1382.9,1039.9 1300.1,1118.2 1324.4,1029.5 1256.2,1045.3 1340.9,1018.4 1356.3,1032.5 1327.2,1115.4 1321.9,1058.8 1316.7,1096.4 1364.8,1095.3 1312.9,1060.6 1392.3,1075.5 1312.3,1025 1293.2,1081.6 1384.1,1060.6 1407.2,1095 1333.7,1030.4 1268,1027.2 1329.1,1041 1326.2,1050.5 1327,1015.5 1374,1079 1313.3,1120.7 1277,1054.9 1405.1,1021 1272.8,1021.8 1298.8,1040.7 1365.5,1045 1296.5,1027.2 1340.7,1088.2 1315.4,1038 1388.7,1007.2 1362.4,1045.1 1301.8,1063.3 1341.9,1023.8 1373.9,1072.6 1388.6,1098.9 1383.4,1014.5 1360.6,1050.3 1331.9,1079.1 1290.4,958.6 1273.1,1061.5 1375,1078.6 1181.4,1009.7 1296.8,992.3 1370,1029.2 1239.5,960.5 1326.5,1017.8 1350,1047.6 1363.1,1094.9 1366.4,1021.3 1384.2,1029.4 1284.6,1108.4 1397.5,1030 1390.3,1110.8 1333.7,1127.2 1331.5,1032.7 1280.7,1077.2 1425.8,1090.1 1318.8,1049.3 1329.4,989.3 1303,1055 1360.6,1049.7 1440.8,1062.3 1305,1125.8 1240.2,1125.5 1389.2,1039.9 1307.6,1033 1340.9,1026.5 1438.8,1094.7 1302.1,1043.6 1285.7,1013.9 1407.1,1095.2 1321.2,1104.1 1320.8,1049.6 1353.1,1020.9 1356.8,1037.4 1274.6,1054.6 1307.6,992.7 1361.9,1124.7 1427.6,1089.4 1355,1069.6 1306.6,1078.6 1327.5,1074.4 1329.6,1044.2 1301.4,1061.7 1336.2,1053.5 1267.2,1015.2 1091.1,1013.9 1310.2,1038.7 1273.4,1095.9 1276.9,1044 1366.5,993 1402,1086.5 1379.8,998.8 1322.8,1118.5 1315.5,979.7 1269.5,1052.5 1309.2,1009.1 1356.7,1015.8 1325.3,1031.5 1290,996.7 1317.1,1062.5 1370.4,1078.5 1310.2,1062.1 1289.7,1058.1 1272.8,1043.7 1401.3,1026.2 1388.6,1069 1377.6,1050.1 1325.1,1060.2 1110.9,1009.3 1297.1,1053.1 1370.3,1034.7 1317.8,999.9 1304.9,1004.7 1353.3,1047.5 1308.9,1021.3 1332.2,1066.5 1343.7,1046.3 1320.9,1048.1 1364.4,1024.3 1375,1118.2 1354.7,1036.3 1405.4,1015.8 1307.4,1094.4 1367.1,1042.1 1307.6,999.7 1337,1042.9 1295.6,1003.4 1306.4,1023.9 1263.6,1021.3 1309.6,1061.3 1335.8,991.6 1415,1018.5 1408.4,1121.5 1330.9,1035.7 1416.9,1031.7 1321.2,1100.8 1328.3,1047.4 1358.3,1022 1313.6,1068.3 1345.5,1060 1366.9,1094.5 1310.1,1001.9 1336.7,1058.8 1307.6,1096.9 1441.6,1080.1 1346.1,1053.6 1327.7,1065.9 1400.6,1091.9 1299.1,1025 1230.1,1027.5 1368.1,1099 1155.5,920.4 1320.3,1077.2 1315.9,1052.9 1154.1,979 1395.8,1030.4 1274.5,1055.1 1315.7,990.7 1298.8,1042 1367.4,1037.9 1410,1038.9 1351.6,1074.9 1347.6,1129.7 1391.5,1129.3 1322.1,1068 1162.9,994 1384.6,1049.3 1348.3,1129.9 1347.1,1008.5 1357.1,1091.9 1386.7,1040.6 1304.6,1029.5 1287.6,991.2 1381.4,1047.1 1304.8,1054.7 1407.1,1059.9 1425.1,1086.2 1388.4,1007.3 1295.4,1000.9 1241.3,1049.8 1433.3,1066.5 1258.7,1042.2 1336.4,1081 1432.4,1053.2 1349.4,1079.1 1422.7,1082.2 1373.5,1116.7 1332.8,1011.4 1342.5,1005.7 1302.4,1055.6 1303.8,1082.8 1317.9,1032.3 1357.9,1001.2 1397.5,1016.4 1379.9,1073 1350,1051.1 1319.4,1041.2 1333.3,1038.4 1339.6,1067.6 1326.6,1047.3 1300.5,1014.5 1296.1,1070.2 1305,1058.7 1422.7,1048.6 1375.5,1098.4 1330.4,1051.4 1334.1,1097.2 1308.9,1063.9 1337.5,1032.7 1169.4,1093.3 1313.2,1048 1321.2,1090.6 1302.4,1036.8 1360.9,1043.3 1360.1,1083 1317.2,980.5 1377.4,1053 1268.7,1029.8 1341.2,1061.1 1297.9,1051.3 1338.3,1057.5 1379.2,1125.2 1344.1,1039.4 1298.6,1116.7 1306.6,1073.6 1424.7,1105.7 1288.3,983.5 1223.8,998.5 1317.2,1039.2 1301.2,1076.5 1264.6,1123.1 1399.2,1111.6 1287.6,1028.9 1418.7,1043.9 1030.1,1129.2 1427.4,1057.6 1438.8,1079.1 1383.4,1044.7 1300.8,1051.1 1357.1,1071.1 1366.1,1009.7 1334.8,1035.4 1288.2,1093.9 1300.4,1018.4 1426.5,1052.1 1366.4,1040.6 1398.4,1130.5 1360.1,1005.3 1406.8,1043.3 1326.4,1124.1 1316,1062.3 1378.9,1039.3 1368.8,1109.2 1418.5,1122.7 1384.1,1113.6 1412.5,1048.5 1289.9,1086.1 1296.3,1046.8 1326.4,1065.9 1355.9,987.1 1370,1048 1308.5,1120 1370,1115.1 1145.8,1018.6 1279.7,1045.9 1371.3,1002.5 1369.6,1025 1372.6,1076 1298.4,1019.6 1428.7,1129.2 1326.6,1021.9 1334.9,993.4 1307.8,1050.5 1412.8,977.4 1314.5,1046.9 1378.2,1108.5 1072.4,1005.8 1284.3,1031.6 1334.2,1064.9 1276.3,1100.4 1292.8,1056.2 1377.5,1068.1 1424,1003.2 1339,1014 1271.2,1021.1 1334,1043.6 1337.3,1130.5 1361.1,1059 1339.7,1063.9 1320.6,1091.8 1345,1120 1429.8,1031.8 1336.8,1076.4 1337.7,1073.9 1376.8,1122.1 1358.5,1109.4 1332.7,1047.7 1367.7,1051.9 1270.3,1118.1 1321.2,1050.9 1373.4,1100.1 1334.5,1095.1 1332.3,1074.6 1331.8,1008.6 1283.8,1071.8 1327.5,1043.6 1395.8,1017 1297.5,1040.6 1354.2,1081 1410,1021.8 1306.3,1091.1 1330.7,1029.2 1349.9,1019.5 1196.1,1130.5 1353.4,1081.6 1248.5,1060.2 1365.2,1057.7 1439.2,1077.4 1320.6,1076.8 1285.5,1099.8 1263.8,1116.7 1315.9,1123.6 1441.2,1060 1373.9,1059.5 1353.6,1015 1279.2,1087.8 1353.9,1085.1 1335.5,1032.2 1401.1,1060.1 1345,1045 1340.7,1056.1 1144,1092.8 1328.4,1055.9 1354.4,1037.8 1376.5,1063.2 1393.7,1066.3 1374.1,1032.3 1339,1044.4 1324.1,1123.6 1352.5,1023.5 1324.2,1083.3 1306.5,984 1309.5,1042.5 1378.6,1039.5 1348.5,975.7 1351.7,1081.1 1221.7,1021.9 1384.9,1130.5 1271.5,1078.4 1319,1063.6 1351.9,1062.6 1296.5,1012.2 1319.2,1044.5 1346.6,1081.6 1364.2,1099.4 1368.8,1040.2 1282,1054.2 1311.1,1041.7 1335.4,1019.6 1364.1,1091.4 1354.5,1092.5 1271.2,1082.7 1263.8,1078.9 1356.7,1059.7 1277.4,1020.8 1257.7,1019 1342.2,984.1 1307,1028.7 1363.3,1068.8 1355.9,1089.8 1282.4,1055.1 1285.2,1029.4 1285.7,1119.5 1323.7,1026.7 1357,1065.6 1284.6,1075.8 1365.3,1075.1 1333.8,1060.1 1365.3,1068 1393.3,1040.7 1326.4,1049.8 1359.9,1050 1373.5,1090.5 1275.5,1125.5 1290.6,1071.2 1396.2,1092.7 1340.9,1068.9 1324.8,1033.4 1258,1124 1320,1038.2 1356.4,1087.4 1318.1,1061.8 1327.3,1018.1 1295.3,1044.5 1322.5,1070.6 1292.8,1008.8 1330.8,1065.3 1324.6,1080 1364,1036.7 1286.5,1018.3 1388.6,1056.1 1303.7,1079.2 1323.4,1025.4 1350.9,1055.9 1286.1,1001.8 1347.1,1007.1 1267.4,1033.1 1344.5,1103.3 1320.8,1081 1325.6,1102.7 1324.6,1034.3 1402,1056.2 1309.6,1022.8 1314.2,1055.5 1361.4,1086.9 1368.5,1040.4 1373,1039.6 1302.7,1035.5 1346.3,1031.1 1356.7,1004.7 1339.2,1020.6 1353.4,1076.6 1375.5,1105.6 1346.2,989.8 1418.9,1130.5 1299.4,1110.9 1265.8,1121.8 1289.2,1048.1 1413.9,1119.8 1401.3,1076.7 1160,1096.5 1368.5,1100.2 1378.4,1056.6 1383.4,1032.7 1329.9,1013.7 1375.9,1068.2 1307.4,1065.1 1350.7,1065.7 1323.6,1024.4 1408.4,1048.9 1318.6,1024.8 1264.5,1093.4 1289.5,1037.5 1383.8,1079.1 1258.4,1107.1 1380.8,1049.2 1401.7,1060.1 1381.4,1044.2 1333.4,915.1 1293.6,1018.1 1314,1095.1 1304.4,1055 1331.9,1056.9 1367.1,1053 1316.4,1103.3 1356.2,1016.5 1246.6,959.2 1343.5,1053 1359.7,1034.2 1385.8,1095 1325.7,1032.7 1396.7,998.2 1343.9,1075.5 1359,1114 1369.4,1065.8 1318.8,1109.6 1387.9,1055.9 1326.3,1038.3 1379.5,1068.6 1347.4,1039.3 1346.7,1070 1335.7,1063.3 1284.4,1105.5 1211,1029.7 1369.9,1092.6 1316.6,1053.7 1381,1074 1382.9,1041.4 1325.3,1033.5 1282,1093.5 1347.9,1121.2 1398.2,1049.7 1270.5,1061.8 1281.1,1130.5 1368.3,1098 1354.3,1128.4 1355.9,1068.2 1323.8,1016.2 1334.3,1015.1 1357.2,1046.4 1354.5,1014.2 1386.9,1063.3 1302,1103.9 1352,1078.7 1388.7,1042.8 1239.4,998.1 1064.9,974.6 1351.8,996.7 1316.3,1040 1310.1,1076.1 1310.2,1048.3 1355.9,1116.6 1288.7,1059.3 1353.8,984.6 1296.3,1080.6 1354.9,1013.9 1323,1064.7 1302.6,1093.3 1395.2,1022 1367.2,1070.4 1364.2,1055.9 1307.5,1052.7 1365.4,1009.2 1412.1,1076.8 1161.2,1018.9 1374.8,1107.5 1362.7,1036.8 1131.5,1088.4 1370.4,1081.1 1398.1,1064.6 1377.1,1062 1337.2,1038.9 1332.5,1018.9 1403.2,1038.1 1365.8,1086.3 1296.2,1086.7 1333.2,1031.8 1392.5,1116.8 1319.3,1069.9 1256.3,1042.2 1273.3,1053.4 1325.6,1036.9 1291.3,1069 1336.3,1006 1303.8,1101 1442.6,1047.1 1294.7,1092.2 1389.4,1051.6 1349.2,1079 1212.5,1058.4 1349.3,1029.4 1345.3,1009.9 1362.3,1080.1"/>
<polyline fill="none" stroke="none" marker-start="url(#mb)" marker-mid="url(#mb)" marker-end="url(#mb)" points="1285,1017.5 1150.6,1066.2 1142,963.5 1262.2,977.2 1271.2,1008.5 1218.7,970.5 1283.3,1027.1 1273.2,1062.8 1066.6,993.4 1257,1062.7 1278.4,1046.1 1138.5,941.7 1237.9,1012.6 1273.2,1075.6 1054.9,1062.6 1135.2,1014.6 1224.2,1030.3 1263.1,1025.7 1210.7,1017.7 1243.6,955.1 1190.4,985 1205.6,1006.4 1279.8,1047.2 1280,1064.3 1269.9,954.7 1287,1041.1 1231.4,997.6 1295.2,990.3 1183.4,1039.4 1275.9,1029.8 1279.8,1026.4 1155.6,1051.8 1319.1,1051 1198.6,1084.9 1057.1,1014.3 1253.6,984.9 1216.3,959.2 1281.6,1061.7 1140.4,1019.8 1234.9,1059.3 1281.1,1014 1262.6,1030 1159.6,1047.8 1178.5,1063.3 1219.6,955.6 1169.8,1094.1 1234.5,1032.7 1132.9,1039.5 1211.6,1035.7 1143.6,957.8 1126.4,1019.1 1311.6,1001.2 1129.1,985.7 1118.8,1051.4 1218.5,957.1 1315.6,1095 1294.1,1045.8 1144,1052.2 1288,1027.3 1245.8,997.2 1161.1,1026.2 1296.2,1023.9 1227,1002.7 1198.1,1016.9 1246.3,1030.1 1302.1,1086.3 1270.5,1130.5 1195.5,1062.7 1286.2,1011.1 1159.5,1010 1165.2,976.6 1141.9,1052.5 1267.4,1033.6 1218.9,1079.1 1196.1,1030.6 1136.3,1020 1252.8,1032.6 1206,966.1 1254.8,1044.2 1248.5,1052.2 1294.5,1042.2 1309.4,1061.7 1180.8,1031.6 1035,1126 1273.9,1067 1252.9,1062.3 1286.5,983.4 1298,1028.3 1195.4,959.8 1159.5,1063.5 1140.4,1078.1 1256.1,1029.7 1166.9,1032.5 1132,1052.2 1246.4,1000.7 1309.9,1036.2 1259.9,961 1197.4,1020.7 1215.9,1069.2 1228.5,1049.1 1218.7,1040 1252.9,1018.9 1317,1064.1 1169.3,1049 1183.8,1011 1227.4,1004.2 1185.8,1055 1279.8,1079.7 1219.2,1055.7 1250.7,1043.2 1286.3,1067.9 1298.9,1027.2 1266.6,1009.5 1142.9,1018.6 1231.5,1051.8 1294.5,996.4 1170.5,1028.4 1193.2,1020.1 1171.2,1071.5 1134.2,978.5 1258.4,1037.8 1246.6,1059.5 1278,1040.8 1265.1,1025.4 1286.2,1024.5 1271.2,1042.2 1257.3,1057.9 1284,1016.4 1130.1,978.9 1170.2,1060.9 1188.7,1034.7 1083.1,1049.5 1268.1,1006.9 1128.6,1006.9 1159.6,1018.6 1277.2,1041.1 1192.9,1024.8 1268.3,1065.6 1152,1070.1 1311,1064 1267.5,992.6 1172.7,996.4 1176.8,986.9 1295.8,1034.5 1182.6,1080.3 1242.6,1055.3 1234.2,1034.9 1218.2,1011.9 1238.4,1033.9 1249.6,988.9 1226.2,1062 1254.3,1050.9 1174.2,1027.8 1299.8,1100.9 1270.3,1043.5 1264.6,1013.3 1323.7,1078.2 1283.8,1021 1259.4,1042.2 1263.9,1030.3 1205.1,997.8 1251.7,1050.8 1284.6,1035.9 1157.6,1025.7 1295.7,1068.9 1269.4,1082.1 1284.7,1030.4 1217.6,1051 1290,974.4 1267.6,1022.5 1270.4,1046.1 1309.4,1046 1259.5,1070.8 1052.9,1022.9 1257.2,1012.9 1282.2,996.6 1138.3,1020.7 1126.5,1047.2 1269.1,1043 1283.7,1033.4 1294.2,1012.8 1241.9,979.6 1197,963.4 1261.3,968.3 1142.4,1064.3 1248.7,1130.5 1299.8,1069.4 1146.1,1075.4 1289.9,1033.3 1275.2,1053.9 1283.4,1050.9 1262.6,1010.2 1164.8,1041 1095.7,1019 1289.1,1050.6 1281.4,1022.8 1276.3,1065.8 1315.6,1059.5 1276,1046.2 1243.6,1130.5 1289.7,1001.7 1282.4,1000.1 1196.8,1064 1077.8,1079.7 1262,1039.8 1201.7,995.9 1127.4,1001.2 1193.4,1083.8 1053.5,989.4 1279.3,1038.6 1142.5,1037.9 1163.3,1003.4 1230.3,1048.9 1189.7,1077.6 1145,1070.5 1144.2,988 1187.1,1020.3 1190,1060 1208.2,1025.7 1244.3,987.4 1127.7,1003.7 1266.6,1072.9 1193.8,1035.3 1056.4,1023.5 1244.6,947.3 1183.2,1062.2 1263.4,1070.2 1155.2,1049 1303.5,998.1 1303.3,1061 1321.5,1039.1 1191.9,1006.5"/>
<polyline fill="none" stroke="none" marker-start="url(#my)" marker-mid="url(#my)" marker-end="url(#my)" points="1478.9,1092.6 1471.8,1069.1 1434.3,1114.1 1399,1050.3 1417.8,1065.9 1416.3,1113.5 1599.6,1093.8 1437.7,1102.9 1667.8,1118.4 1427.9,1027.1 1523.5,1109.5 1586,1103.4 1423.6,1033.1 1422.1,1037.3 1374.3,1009.8 1505,1049.3 1374.6,1061.6 1434,1113.9 1547,1058.6 1511.9,1065.2 1385.8,999.1 1424.4,1051.1 1392.6,1118.1 1524.8,1049.1 1422.8,1032.8 1378.9,1048.8 1421.6,1070.1 1496.4,1047 1553.1,1103.9 1431.4,1106.9 1547.9,1099.2 1417.1,1080.1 1441.8,1062.9 1412.1,997.8 1498,1053.7 1462.4,1102.6 1497.8,1038.9 1463.3,1009.8 1466.4,1092.5 1418.2,1076.6 1536.4,1071.9 1404.2,1130.5 1570.7,1103.4 1519.2,1104.3 1548.7,1097.8 1576.8,1104.8 1435.1,1126.7 1425,1033.7 1469.3,1066.2 1429.2,1065.8 1409.5,1013.7 1408.5,1059.2 1424,1038.3 1417.3,1061.2 1550.3,1110.3 1375.7,1085.9 1409.9,1070.3 1486.7,1058.5 1549.6,1130.5 1436.2,1067.2 1525.3,984.4 1510.9,1063 1415.6,1013.3 1485.9,1102.1 1454.5,1063.7 1487,1096.1 1554.8,1122 1425.7,1064.6 1394.1,1105.8 1435.5,1027.6 1468.6,1039.7 1562.3,1092.9 1582.9,1068.4 1585.7,1115.3 1447.2,1069.2 1533.1,1100.4 1449.4,1071.1 1532,1014.7 1577.3,1099.6 1391.6,1124.6 1373.4,1057.6 1455.1,1056.9 1565.2,1097.7 1468.7,1072.6 1405.4,1033.3 1475.4,1085.3 1455.5,1028.6 1418.8,1129 1568.6,1061.9 1428.4,1051 1406.5,1024.7 1437.8,1032.6 1434.9,1080.2 1507.3,1081.2 1534.8,1034 1471.4,1043.2 1484.4,1089.9 1581.8,1049.3 1531.3,1061.3 1585,1103.3 1428.4,999.1 1530.7,1088 1509.9,1076.4 1537.5,1102.8 1585.6,1094.6 1425.8,1093.2 1537.2,1102.2 1426.4,1068.5 1352.7,1126.4 1474.7,1130.5 1481.5,1083.4 1499.4,1043.4 1441.9,1129.9 1407.8,1012.8 1518.8,1028.3 1458,1080.4 1524.5,1059 1414.1,1057.3 1427.2,1065 1514.2,1085.3 1409.4,1000.5 1414,1019.8 1500,1091.7 1486.4,1033.5 1447.5,1102.1 1413,1000.7 1542.4,1118.9 1580.1,1105 1538.2,1102.2 1529.9,1110.3 1404.6,1109.3 1433.5,1119.7 1386.3,1042.7 1430.6,1012.3 1584.3,1122.2 1493.9,1108 1473.2,1040.2 1462.9,1100.1 1539.9,1043.5 1563.4,1093.8 1436.1,1060.6 1457.7,1106.2 1424.8,1099.8 1431.2,1019.6 1462.5,1088.3 1416.1,1064.6 1432.8,1061.4 1439.6,987.2 1379.2,1054.6 1501.9,1041.5 1418,1041.4 1446.6,1080.3 1374.8,1061.3 1455.8,1050.9 1403.8,1050.5 1438.9,1029.6 1409.2,1113.3 1405.1,1029.5 1517.8,1086.8 1424.1,1057 1530.4,1030.7 1546.6,1112.6 1542.6,1101.9 1510.1,1030.1 1444,1071.5 1525.7,1119.8 1473.3,1050.9 1462.9,1053.8 1543.8,1045.4 1442.1,1076.4 1573.7,1128.1 1433.1,1130.5 1411.5,1091 1417.9,1042.1 1384.1,1078 1580.8,1082.8 1410.8,1078.9 1493.2,1117.9 1463.2,1120 1500.1,1056.4 1431.2,1069.4 1496.4,1034.7 1480.6,1062.4 1586.3,1109.9 1422.9,1043.2 1477.9,1025.3 1490,1038 1475.3,1102.1 1423.1,1063.7 1431,1060.4 1445.7,1059.3 1412.5,1102.2 1418.4,1015.6 1446.1,1074.1 1567.1,1079.5 1496.6,1068.1 1559.9,1105.3 1509,1089.6 1429.8,1074 1460.9,1026.3 1522.6,1123 1480.9,1063 1485.2,1116.8 1512.5,1083.3 1415.6,1036.8 1473.4,1071.6 1446.5,997.2 1423.3,1081.9 1408,1053.5 1513.1,1050.7 1562.3,1096.6 1432.5,1120.8 1446.4,1093.7 1406.3,1056.5 1505.9,1108.3 1493.1,1098.6 1485.3,1071.9 1498.7,1028.6 1540.3,1091.3 1472.7,1102.5 1452.4,1077.5 1524,999.1 1656.6,1130 1607.5,1082.3 1405.6,1117.7 1505.4,1063.5 1478.8,1128.7 1468.8,1093.1 1584.3,1092.9 1581.1,1096.4 1485.6,1028.5 1327.4,1047.6 1431.8,1114.1 1541,1114.3 1496.5,1073 1469.1,995.6 1581.3,1091.2 1572.5,1085.2 1399.3,1030.4 1515.2,1127.9 1405.7,1059.3 1481.4,1072.9 1414.2,1022.2 1458.5,984.1 1526.1,1100.4 1365,1069.8 1520.1,1070.9 1503.8,1074.9 1401,1047.1 1571,1100.5 1434.2,1074.6 1509.3,1022.9 1482.8,1040.6 1552.3,1024.2 1387.4,1081.1 1582.7,1036.9 1511.1,1079.7 1463.4,1057.4 1418,1002.3 1400.7,1010.8 1539.3,1071.6 1501.9,1130.5 1546.2,1051.4 1474.1,1106.5 1399,1045.9 1566.8,1055.8 1405,1032.2 1514,1063.5 1392.5,1096.8 1400,1096 1433.7,1065.3 1460.4,1028.8 1414.1,1044.9 1503.7,1116.7 1411.1,1085.5 1436.9,1071 1561.6,1057 1406.2,1036.5 1572.9,1076.7 1456.3,1086.1 1449.3,1112.7 1439,1101.8 1480.8,1079.1 1428.3,1049.1 1506.1,1113.6 1509.2,1047.2 1435.2,1090.7 1446.9,1076.3 1534.9,1098.4 1449,1069.9 1412,1029.2 1406.5,1092.4 1550.3,1108.1 1528.6,1017.2 1503.5,1062.2 1418.3,1077.8 1429.5,1047.4 1385,1059.7 1391.4,1053 1451.3,1059.3 1528.3,1089 1465.1,1094.1 1454.7,1130.5 1496.7,1106.2 1545.8,1060.4 1402.7,1086.4 1431,1061.5 1462.1,1086.4 1469.4,1024.8 1398.6,1033 1657.2,1107.2 1582.6,1097.6 1440.7,1012.4 1431,1046.2 1458.6,1071.2 1415.2,1042.9 1497.6,1061.9 1572,1118.1 1494.7,1095.8 1426.2,1017.8 1521.6,1065.7 1585.1,1057 1459.3,1101.7 1440,1060.1 1472.1,1024 1691.6,1120.4 1504.5,1073.2 1429.9,1118.8 1409.7,1032.9 1467,1086.1 1545.6,1115.4 1534.1,1092.3 1412.3,1059.7 1398.4,1048.2 1670.2,1060.8 1488.9,1112.8 1485.5,1117.8 1456.8,1057.7 1543.1,1095.1 1536.2,1059.7 1451.5,1036.7 1491.5,1013.1 1468.7,1033 1537.2,1090.5 1521.5,1011.5 1445.2,1052.7 1549.2,1080.2 1656.8,1072.3 1416.7,1057.8 1488.7,1050.6 1472.4,1073.1 1454.3,1097.1 1421.5,1040.1 1470.4,1069.4 1398,1062.9 1503.2,1051.7 1445.4,1080.3 1574.2,1075 1422.1,1072.7 1527.3,1108.2 1557.6,1096.9 1492.5,1054.5 1451.6,1085.2 1404.9,1068.1 1566.2,1074.8 1561,1111.2 1502.3,1121 1543,1101.7 1386.4,1031.2 1496.2,1058.4 1425.6,1002.7 1558.4,1045.9 1662.5,1130 1423.9,1046.8 1451.5,1001.4 1423.1,1076.6 1366.3,1058.5 1443.4,1072.4 1421.7,1126.4 1500.7,1039.9"/>
<polyline fill="none" stroke="none" marker-start="url(#mo)" marker-mid="url(#mo)" marker-end="url(#mo)" points="1602.8,1059.3 1607.3,1095 1615.6,1130.5 1651.8,1082.2 1676.5,1081 1619.2,1046.8 1681.9,1084.2 1595.8,1121.7 1594.9,1097.8 1646.7,1100.6 1573.2,1061.5 1613.9,1122.1 1596.5,1087 1585.3,1056 1671.9,1096.5 1667.9,1088.9 1585.2,1065.7 1565.5,1068.5 1631.3,1076.3 1695.4,1122.8 1584.2,1130.5 1612.1,1124 1636.3,1118.1 1610.1,1096.4 1685.4,1119.5 1597,1116 1680.8,1107.5 1610.4,1088.6 1591.6,1040.1 1691.2,1074.6 1693.7,1080.2 1631.6,1048.1 1570,1095.9 1655.4,1116.8 1668.8,1074.4 1698.9,1098 1654.2,1071.7 1582.6,1103.6 1636.5,1091.1 1610.2,1075.3 1585.7,1100.2 1665.4,1107.6 1612.7,1104.4 1678.7,1097 1660,1083.5 1685.6,1034.7 1606.3,1064.7 1659.1,1094.3 1623.3,1112.5 1605.9,1062.1 1681.6,1093.6 1584.9,1066.1"/>
<path d="M1017.5 1021L1716 1095" stroke="#6b6b6b" stroke-width="1.7" fill="none"/>
<path d="M1727 1037.5H1735" stroke="#9a9a9a" stroke-width="1.4"/>
<text x="1739.5" y="1041.3" class="r2" textLength="47.5" lengthAdjust="spacingAndGlyphs">R2 = 0.09</text>
<text x="1387.5" y="1170" class="ax" font-size="16.5" text-anchor="middle" textLength="124" lengthAdjust="spacingAndGlyphs">mean LST (°C)</text>
<text transform="translate(960.5 1025) rotate(-90)" class="ax" font-size="14.5" text-anchor="middle" textLength="206" lengthAdjust="spacingAndGlyphs">Low vegetation  (% of LCZ)</text>
<path d="M1790.6 902V1156" stroke="#f1f1f1" stroke-width="1" fill="none"/>
</svg></body></html>
